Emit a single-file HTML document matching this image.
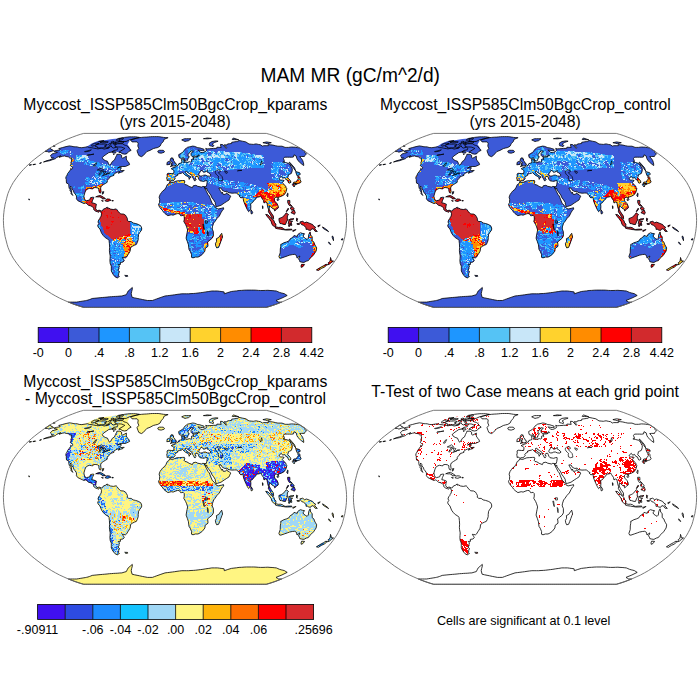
<!DOCTYPE html>
<html><head><meta charset="utf-8"><style>
html,body{margin:0;padding:0;background:#fff;width:700px;height:700px;overflow:hidden}
svg{position:absolute;left:0;top:0;font-family:"Liberation Sans",sans-serif}
</style></head><body>
<svg width="700" height="700" viewBox="0 0 700 700">
<defs><path id="landp" d="M-120.8,-68.6 -118.9,-68.4 -117.6,-68.0 -120.6,-67.0 -122.9,-66.5 -123.7,-65.6 -124.6,-64.4 -123.7,-63.6 -123.4,-62.5 -121.5,-62.5 -122.3,-61.7 -125.7,-60.4 -129.2,-59.4 -131.5,-58.4 -128.3,-59.1 -125.3,-59.7 -122.6,-60.7 -119.6,-61.7 -118.3,-62.9 -116.1,-63.9 -114.2,-64.6 -116.0,-63.1 -112.5,-64.1 -110.5,-64.5 -108.9,-63.9 -106.7,-63.6 -105.3,-62.4 -103.6,-62.2 -103.7,-60.4 -103.4,-59.4 -104.1,-58.1 -103.9,-56.3 -104.7,-54.8 -103.4,-53.7 -102.3,-52.7 -103.3,-51.1 -104.3,-52.0 -104.3,-51.1 -105.3,-49.5 -107.3,-46.9 -107.9,-45.3 -109.0,-43.6 -109.2,-42.1 -108.7,-40.8 -108.7,-39.4 -108.5,-37.3 -106.9,-36.7 -106.2,-35.6 -106.2,-34.1 -105.8,-32.1 -104.9,-30.9 -105.1,-30.0 -103.8,-28.3 -104.0,-26.8 -102.6,-25.4 -102.2,-24.9 -102.9,-26.2 -103.4,-28.0 -103.4,-29.7 -103.9,-31.1 -104.7,-32.6 -104.4,-34.3 -103.2,-32.9 -103.1,-31.3 -101.7,-30.0 -101.1,-28.0 -99.8,-26.4 -98.6,-24.5 -98.5,-23.2 -98.6,-21.6 -97.2,-19.7 -95.0,-18.7 -92.8,-17.6 -91.0,-16.9 -89.3,-17.4 -88.2,-16.7 -86.5,-15.1 -84.6,-14.6 -82.8,-13.9 -81.3,-12.2 -81.3,-10.8 -79.3,-9.2 -77.4,-8.6 -76.3,-8.1 -75.5,-9.5 -74.3,-8.6 -73.5,-7.0 -73.8,-4.3 -74.8,-2.9 -75.3,-1.6 -76.3,-0.5 -77.0,1.6 -76.2,3.2 -77.3,4.9 -76.9,6.7 -75.1,8.6 -73.4,12.9 -71.8,15.1 -69.7,17.3 -67.2,18.7 -66.0,20.0 -65.6,23.2 -65.4,27.0 -65.6,30.2 -65.4,32.4 -64.8,35.6 -65.0,38.3 -65.1,40.4 -64.8,43.1 -63.7,45.8 -63.7,48.5 -63.7,50.6 -62.1,53.7 -60.1,56.3 -57.5,57.7 -56.7,56.6 -55.6,56.2 -56.4,55.3 -56.3,53.2 -55.5,51.1 -57.2,49.8 -56.0,48.5 -56.0,46.9 -55.5,45.6 -56.8,44.2 -54.5,44.0 -54.7,42.1 -52.1,41.7 -50.7,40.4 -51.4,39.0 -52.7,37.0 -51.3,37.2 -49.5,37.5 -48.3,36.5 -47.2,34.5 -46.1,32.9 -45.0,31.0 -44.7,29.7 -44.5,27.3 -42.3,25.7 -40.5,24.8 -38.7,24.1 -37.7,22.1 -36.8,19.4 -36.8,17.3 -36.4,14.0 -35.1,11.9 -33.4,9.7 -33.3,7.6 -34.3,5.4 -36.7,4.0 -39.5,3.1 -41.9,2.6 -43.8,1.1 -46.2,1.1 -47.7,0.0 -47.6,-1.8 -48.6,-3.8 -49.5,-5.2 -51.4,-6.3 -54.2,-6.5 -55.4,-7.4 -57.0,-9.2 -57.9,-10.6 -58.8,-11.5 -61.7,-10.9 -64.5,-11.3 -66.3,-12.4 -67.3,-11.9 -67.8,-13.4 -69.2,-12.2 -71.6,-11.3 -72.5,-9.7 -73.6,-9.4 -75.8,-10.2 -77.9,-9.7 -79.3,-11.7 -79.1,-13.5 -78.6,-16.2 -81.1,-17.2 -83.2,-17.6 -82.6,-19.7 -82.0,-21.0 -81.1,-23.0 -82.2,-23.2 -84.5,-22.7 -85.3,-20.5 -86.8,-20.1 -88.7,-19.6 -89.9,-20.3 -90.7,-22.1 -91.1,-24.3 -90.2,-27.5 -89.3,-30.0 -87.1,-31.5 -85.6,-32.0 -83.4,-31.6 -82.1,-31.5 -81.4,-32.7 -79.1,-32.8 -77.3,-32.4 -76.1,-31.5 -76.2,-29.9 -75.6,-27.9 -74.6,-27.2 -73.9,-28.6 -74.1,-30.2 -74.4,-32.4 -73.7,-34.3 -71.4,-35.9 -69.3,-37.2 -67.8,-38.1 -67.7,-39.9 -66.3,-41.8 -65.2,-42.6 -64.8,-43.8 -62.4,-44.5 -60.9,-45.1 -61.4,-45.5 -60.9,-46.3 -59.3,-47.4 -57.3,-48.3 -55.0,-48.8 -56.8,-47.2 -54.5,-48.0 -52.0,-48.8 -50.8,-50.0 -54.3,-49.7 -54.8,-50.6 -54.1,-51.6 -53.7,-52.7 -55.7,-52.9 -57.6,-52.2 -55.0,-53.7 -52.9,-53.9 -49.6,-53.9 -46.7,-55.2 -45.4,-55.8 -45.9,-57.3 -47.0,-58.9 -48.1,-59.9 -48.7,-61.4 -48.6,-64.2 -50.1,-63.4 -52.2,-62.2 -53.4,-62.9 -53.4,-65.1 -55.1,-66.1 -58.1,-66.1 -58.4,-64.9 -59.5,-62.9 -60.5,-60.4 -62.7,-58.9 -64.1,-56.3 -65.5,-55.1 -66.5,-56.8 -67.5,-59.1 -69.8,-59.9 -71.8,-61.1 -72.7,-62.7 -71.2,-64.4 -68.3,-66.3 -66.2,-67.8 -63.3,-68.3 -60.7,-70.0 -57.7,-70.6 -57.1,-72.0 -58.4,-73.2 -61.8,-72.3 -63.4,-73.4 -63.8,-74.7 -67.6,-72.0 -70.9,-71.3 -72.3,-71.8 -73.7,-72.2 -77.1,-71.5 -78.6,-71.8 -80.1,-72.0 -81.6,-72.3 -83.0,-72.6 -85.5,-72.8 -87.5,-73.6 -89.9,-73.2 -93.2,-72.7 -95.8,-72.9 -97.8,-73.5 -99.4,-73.6 -101.0,-73.6 -103.1,-74.1 -104.3,-74.3 -105.5,-74.5 -108.9,-73.8 -112.3,-72.9 -116.3,-71.8 -115.2,-71.3 -114.9,-70.5 -118.7,-69.9 -120.9,-69.3Z M-75.2,-78.9 -73.7,-78.7 -71.0,-79.7 -72.9,-79.7 -76.4,-79.0Z M-64.2,-78.2 -62.9,-77.7 -61.1,-78.9 -62.5,-79.1Z M-61.6,-77.7 -60.2,-77.5 -58.9,-78.4 -60.5,-78.4Z M-66.6,-76.0 -65.9,-75.0 -64.4,-75.6 -63.4,-76.9 -65.9,-76.7Z M-68.6,-72.5 -66.9,-72.0 -65.5,-72.9 -66.3,-73.6Z M-61.8,-66.0 -60.7,-66.1 -61.0,-66.7Z M148.3,8.1 151.0,9.7 153.6,11.3 152.8,10.2 149.3,7.6 147.5,6.5Z M157.2,17.0 157.9,18.9 158.5,20.3 158.5,18.3 158.1,16.2 157.2,15.6Z M166.5,19.6 167.7,19.6 167.9,18.3 166.4,18.7Z M153.6,22.4 155.0,24.1 155.7,24.1 154.4,22.1 153.6,21.6Z M143.2,6.5 144.2,5.9 145.2,4.5 144.2,4.9 142.8,5.4Z M-146.2,-21.4 -146.1,-20.5 -145.4,-20.5 -146.1,-21.6Z M-49.2,56.1 -47.1,55.8 -47.5,55.1 -50.3,55.0Z M-121.9,-74.2 -121.0,-74.1 -119.8,-74.4 -121.0,-74.7Z M32.7,-81.6 34.6,-81.8 36.4,-82.0 34.2,-82.2 32.1,-82.4 30.3,-82.0 28.4,-81.7 30.6,-81.6Z M-133.7,-57.8 -135.5,-57.1 -135.3,-56.9 -133.6,-57.4Z M-139.6,-56.3 -142.2,-55.8 -142.0,-55.6 -139.4,-56.1Z M-143.5,-55.7 -145.9,-55.4 -145.7,-55.2 -143.6,-55.5Z M-72.7,-26.2 -72.0,-26.4 -71.1,-28.7 -72.5,-28.6Z M87.6,-11.9 88.0,-11.9 87.9,-14.3 87.4,-14.6Z M-44.5,-80.4 -43.7,-79.5 -43.0,-78.5 -40.4,-78.5 -37.9,-78.5 -36.8,-77.3 -37.2,-74.3 -36.2,-72.0 -38.0,-69.7 -37.0,-66.8 -36.2,-64.9 -33.6,-63.7 -31.7,-64.9 -28.2,-68.8 -25.0,-70.0 -21.7,-71.8 -19.4,-72.4 -17.2,-72.9 -14.9,-74.3 -13.7,-76.9 -11.6,-78.9 -11.1,-80.9 -9.0,-81.9 -6.9,-82.7 -9.2,-82.8 -11.5,-83.0 -13.3,-83.3 -15.1,-83.6 -16.8,-83.8 -18.7,-83.8 -20.6,-83.8 -22.5,-83.8 -24.4,-83.7 -26.4,-83.5 -28.4,-83.3 -30.8,-83.2 -33.3,-83.0 -35.9,-82.7 -38.8,-82.0 -41.8,-81.3Z M-46.4,-72.5 -46.6,-73.4 -48.4,-74.7 -49.7,-75.1 -51.1,-75.6 -52.2,-76.6 -54.8,-76.7 -57.5,-76.6 -59.7,-75.6 -60.2,-74.3 -58.2,-73.4 -56.5,-73.4 -54.8,-73.4 -53.2,-73.2 -51.7,-72.6 -50.2,-72.0 -51.4,-71.1 -54.7,-69.2 -56.2,-68.0 -54.0,-68.1 -53.2,-66.8 -50.5,-66.3 -48.0,-66.8 -46.4,-68.8 -43.8,-70.1 -45.1,-71.3Z M-56.4,-78.9 -54.6,-78.9 -52.8,-78.8 -50.9,-78.9 -48.9,-78.9 -45.5,-80.5 -43.7,-80.9 -41.8,-81.3 -38.6,-82.2 -35.6,-83.0 -37.5,-83.3 -39.5,-83.6 -41.4,-83.6 -43.3,-83.6 -45.1,-83.6 -47.8,-83.3 -50.5,-83.0 -54.1,-82.0 -56.3,-81.7 -55.7,-80.9 -55.1,-80.1Z M-59.3,-77.5 -57.4,-77.4 -55.6,-77.3 -53.8,-77.4 -51.9,-77.4 -51.0,-78.7 -53.1,-78.8 -55.3,-78.9 -58.3,-78.4Z M-79.3,-74.7 -79.6,-73.8 -77.6,-73.6 -77.6,-72.5 -75.5,-72.5 -73.4,-72.5 -70.4,-72.7 -68.8,-73.8 -70.7,-74.3 -67.7,-75.6 -68.9,-76.0 -70.1,-76.4 -71.8,-76.3 -73.6,-76.2 -75.3,-76.4 -78.6,-75.8Z M-83.9,-75.0 -83.2,-74.3 -80.6,-74.7 -78.4,-76.0 -75.9,-77.0 -78.2,-77.3 -80.8,-77.0 -82.7,-76.0Z M-74.9,-77.9 -72.7,-77.6 -70.4,-77.7 -68.0,-77.7 -66.7,-78.5 -68.3,-78.9 -69.9,-78.9 -71.5,-78.9 -73.9,-78.5Z M-62.3,-76.7 -61.2,-76.3 -60.1,-75.8 -58.7,-76.7 -60.3,-77.0Z M-62.9,-67.8 -61.4,-67.5 -59.9,-67.3 -58.8,-68.0 -60.5,-69.2 -63.0,-68.8Z M-58.8,-80.1 -56.1,-80.3 -53.4,-80.5 -51.5,-81.7 -52.2,-82.6 -54.3,-82.3 -56.4,-82.0 -58.4,-80.9Z M-4.0,-39.6 -2.0,-39.6 -0.7,-40.6 0.2,-41.8 -0.3,-42.6 0.9,-44.2 2.8,-45.2 2.6,-46.3 4.3,-46.7 6.5,-47.2 7.5,-47.8 9.1,-46.3 10.4,-45.1 12.2,-44.2 13.8,-43.1 14.2,-41.0 14.6,-42.1 16.2,-43.3 13.9,-44.7 12.1,-45.8 10.6,-47.7 10.5,-48.8 11.5,-49.2 12.0,-48.5 14.2,-46.9 16.9,-45.1 17.6,-42.8 18.6,-41.5 19.3,-39.8 20.1,-39.4 20.4,-40.3 21.3,-41.2 20.1,-42.1 20.2,-43.1 21.0,-43.9 22.7,-44.0 23.0,-43.5 23.3,-42.6 23.9,-41.0 25.0,-39.6 27.3,-39.2 28.6,-39.0 30.8,-39.7 32.1,-39.7 32.2,-38.6 31.7,-35.6 31.2,-33.8 29.4,-33.7 29.9,-32.1 32.0,-31.8 31.8,-30.2 32.2,-30.2 33.8,-28.0 35.8,-25.4 36.6,-23.2 38.6,-20.5 40.2,-18.0 40.4,-16.2 41.2,-13.7 42.6,-14.0 46.0,-15.1 49.2,-17.3 51.7,-18.9 54.1,-20.5 54.7,-22.1 55.7,-24.2 54.4,-25.5 52.3,-26.4 51.9,-27.6 50.2,-26.1 48.3,-25.9 47.4,-28.2 46.8,-27.0 45.7,-29.0 44.6,-30.7 43.9,-32.4 46.0,-32.3 47.4,-30.0 49.9,-28.8 52.1,-29.2 53.0,-27.8 55.0,-27.5 57.0,-27.2 59.3,-27.3 61.6,-27.4 63.5,-25.4 65.2,-24.6 64.3,-24.1 65.9,-22.4 67.8,-23.2 68.1,-22.1 68.6,-19.4 69.8,-16.2 71.0,-13.5 72.4,-10.6 73.6,-8.7 74.5,-9.5 75.7,-11.1 75.9,-14.0 75.6,-16.7 77.5,-17.8 79.3,-20.3 81.0,-21.6 81.3,-23.0 82.9,-23.3 84.3,-23.5 85.6,-24.3 86.5,-22.7 88.4,-20.0 89.0,-17.3 90.3,-18.3 91.9,-17.8 92.7,-13.5 93.5,-10.8 93.4,-8.6 95.5,-5.4 96.7,-2.7 98.6,-1.6 98.4,-4.3 96.3,-7.4 95.3,-9.0 94.1,-11.3 94.5,-14.6 95.6,-13.7 97.6,-11.9 99.4,-11.1 99.7,-9.4 101.5,-11.1 103.3,-12.4 103.3,-14.0 102.1,-16.7 100.1,-18.9 99.3,-20.3 99.6,-22.1 100.8,-23.2 102.2,-23.2 103.1,-21.8 103.6,-23.2 106.3,-24.1 108.8,-25.4 110.5,-27.5 111.2,-29.1 111.8,-31.8 111.0,-33.0 110.8,-34.2 109.1,-35.6 107.4,-37.8 109.1,-39.9 107.3,-40.4 105.8,-40.2 104.1,-41.5 104.1,-42.1 104.8,-42.6 106.3,-44.0 107.7,-42.1 109.5,-42.9 110.9,-40.8 112.4,-40.4 113.6,-37.5 114.3,-37.2 116.0,-38.1 115.3,-39.9 112.7,-42.6 113.2,-44.2 113.4,-45.6 114.6,-46.1 116.3,-46.9 117.2,-49.5 117.3,-51.6 116.2,-53.7 114.7,-56.3 113.3,-57.1 110.6,-57.8 107.9,-58.4 109.5,-58.9 108.5,-61.9 109.6,-63.2 112.6,-63.2 114.6,-63.2 116.6,-63.1 118.5,-63.4 119.0,-65.6 121.2,-64.4 121.9,-61.7 122.9,-59.9 126.1,-56.8 128.7,-54.8 128.7,-56.3 128.4,-57.9 127.6,-60.1 126.4,-61.9 124.7,-63.7 126.4,-63.9 129.4,-63.9 129.7,-64.9 130.6,-65.6 131.5,-66.3 129.6,-68.3 130.1,-68.9 124.7,-72.5 122.4,-72.8 120.2,-73.2 118.3,-73.3 116.5,-73.4 115.0,-73.2 113.6,-73.0 111.8,-73.0 110.1,-73.0 107.0,-74.2 105.0,-74.2 102.9,-74.2 100.4,-74.7 97.9,-75.3 95.5,-75.6 93.2,-75.8 93.4,-74.7 91.1,-74.7 88.7,-74.7 87.3,-74.3 85.6,-75.6 83.3,-76.0 81.1,-76.5 79.8,-76.3 78.4,-76.0 76.2,-76.2 74.0,-76.4 70.8,-78.5 67.4,-79.2 64.0,-79.9 62.7,-78.9 61.3,-78.8 59.9,-78.6 58.3,-78.4 56.7,-78.1 56.6,-76.9 54.5,-76.7 52.4,-76.4 51.9,-75.4 49.1,-75.6 51.7,-72.9 51.2,-72.0 49.0,-74.3 47.6,-75.8 45.5,-76.0 45.7,-74.3 46.2,-72.9 44.0,-73.1 41.9,-73.2 41.8,-72.1 40.0,-72.0 38.3,-72.0 37.0,-71.8 34.6,-71.7 32.2,-71.5 30.7,-72.0 31.5,-69.7 29.1,-68.3 27.4,-67.8 25.5,-68.1 23.0,-70.6 23.5,-70.3 25.3,-70.0 27.2,-69.7 29.3,-70.0 28.9,-71.2 26.9,-71.8 24.9,-72.5 22.8,-72.7 21.2,-73.4 19.3,-74.1 17.6,-74.3 15.0,-73.6 12.7,-73.2 11.1,-72.0 9.9,-71.1 8.6,-69.2 7.3,-67.8 5.2,-66.6 3.7,-65.8 3.8,-64.4 4.3,-62.7 6.2,-62.0 8.5,-62.7 10.1,-59.6 11.3,-59.3 12.6,-60.1 12.8,-61.4 14.3,-63.7 13.0,-64.6 13.1,-65.8 14.0,-67.3 15.3,-68.3 15.8,-69.6 18.4,-69.2 18.1,-68.8 15.9,-67.0 16.2,-64.9 17.1,-63.9 19.7,-64.3 22.0,-64.2 22.9,-63.8 21.4,-63.4 19.7,-63.3 18.0,-63.1 18.8,-60.9 17.1,-61.5 16.4,-60.9 16.8,-59.1 15.6,-58.3 14.4,-58.7 11.6,-57.8 10.4,-58.4 8.7,-57.9 9.9,-59.9 8.3,-60.2 8.2,-61.6 6.4,-60.9 6.8,-59.4 7.0,-57.8 5.6,-57.3 3.9,-56.8 3.3,-55.3 2.1,-54.9 1.2,-53.9 0.0,-53.2 -1.1,-53.4 -1.3,-52.4 -2.5,-52.5 -3.8,-51.6 -2.1,-50.9 -1.0,-49.5 -1.3,-46.8 -3.4,-46.8 -6.9,-47.1 -8.0,-46.3 -7.7,-44.2 -8.4,-42.1 -7.8,-41.5 -8.0,-39.9 -6.7,-40.1 -5.6,-39.7 -5.0,-38.8Z M-130.1,-68.9 -127.5,-68.8 -126.1,-68.2 -123.8,-69.0 -121.4,-69.8 -122.1,-70.4 -124.0,-71.1 -124.7,-72.5Z M-5.2,-38.6 -6.1,-36.7 -7.7,-35.8 -9.0,-32.9 -10.6,-30.4 -12.0,-29.7 -13.4,-28.0 -14.9,-25.9 -15.9,-23.2 -15.3,-21.0 -15.5,-17.8 -16.5,-15.9 -15.8,-14.0 -14.7,-12.4 -13.8,-11.3 -12.6,-10.0 -11.4,-8.2 -10.0,-6.8 -7.1,-4.7 -3.8,-5.6 -1.9,-5.2 1.0,-6.4 2.6,-6.8 4.3,-6.7 5.7,-4.6 6.7,-4.7 8.1,-5.0 9.2,-3.8 9.3,-1.2 8.8,1.1 10.7,4.3 11.6,6.5 12.6,9.6 12.1,12.1 11.6,14.6 11.1,17.8 12.3,21.0 13.4,24.3 13.7,26.7 14.0,29.1 15.2,30.9 16.6,34.3 16.5,36.9 18.0,37.5 20.3,36.7 23.0,36.7 24.9,35.8 27.3,34.0 29.9,30.7 30.2,28.0 33.0,25.9 32.9,23.7 32.5,21.6 34.2,20.3 37.2,17.8 38.4,15.6 38.4,11.3 37.2,8.6 37.4,6.5 38.6,2.7 40.0,1.0 41.9,-1.8 44.3,-4.3 46.1,-7.9 47.5,-10.2 48.7,-11.2 48.5,-12.7 46.9,-12.2 43.1,-11.4 41.2,-12.2 40.5,-13.5 39.2,-15.1 37.2,-17.0 36.2,-19.4 34.9,-22.7 34.3,-24.3 33.0,-25.9 31.6,-28.6 30.8,-30.0 29.9,-32.1 29.4,-33.7 27.8,-34.0 26.5,-33.3 22.7,-34.1 20.9,-35.1 18.2,-34.6 17.4,-32.7 14.1,-34.0 11.8,-35.5 10.0,-35.8 9.0,-37.2 9.9,-38.3 9.4,-39.9 7.6,-39.9 4.5,-39.7 1.8,-39.5 -0.9,-38.5 -2.1,-37.9 -4.5,-38.1Z M45.4,14.6 43.8,17.0 41.4,18.3 41.6,21.0 40.4,23.2 40.7,25.4 41.7,27.5 43.6,27.0 44.7,24.3 45.8,21.3 46.9,18.3 47.6,16.7 46.7,12.9Z M105.9,23.7 105.7,26.2 105.3,28.6 105.2,32.4 103.9,36.1 104.7,37.8 106.0,37.8 109.7,36.5 112.3,35.6 114.4,34.8 117.3,34.2 119.7,34.0 121.5,35.1 122.0,37.7 124.8,35.6 124.5,36.9 123.5,38.4 124.4,39.9 124.8,41.3 126.8,41.8 128.9,42.1 131.3,40.8 133.4,40.2 134.7,38.3 136.6,36.5 138.6,34.5 141.1,30.7 141.7,27.5 140.5,25.4 139.5,23.7 139.0,21.8 137.2,20.3 137.2,16.2 135.7,14.9 135.1,11.5 133.8,14.0 133.3,17.8 132.1,19.0 130.8,18.3 128.7,16.8 128.0,15.6 129.5,13.3 127.8,13.1 125.5,12.4 124.0,13.2 122.7,14.3 122.2,16.0 120.7,15.6 119.0,15.1 117.3,17.3 115.3,18.3 113.9,20.5 111.4,21.6 108.9,22.4 106.5,23.7Z M126.0,45.6 126.2,47.0 127.9,46.3 129.6,44.1 126.6,43.9Z M125.7,3.0 126.7,4.3 128.5,4.9 130.9,7.0 131.1,9.1 132.1,8.7 133.9,9.8 135.8,9.9 136.9,8.3 138.7,8.8 140.0,10.9 142.3,11.1 141.0,9.7 139.7,8.4 140.6,6.8 138.9,5.9 137.6,4.1 134.3,2.8 131.5,1.7 129.6,2.4 127.7,0.9 124.8,1.6Z M104.1,0.5 105.0,3.1 106.4,3.3 109.0,4.1 110.5,4.1 111.0,2.7 112.0,0.5 113.2,-1.1 112.2,-1.1 112.4,-4.6 113.6,-5.7 111.2,-7.6 109.9,-5.6 107.6,-3.5 106.2,-2.7 103.9,-1.8Z M92.1,-4.0 94.0,-1.8 96.1,1.1 97.1,4.3 99.4,6.3 100.7,6.3 101.0,3.6 99.7,2.7 98.9,0.0 95.6,-2.7 92.8,-5.6 90.7,-6.0Z M101.1,8.0 102.6,8.4 105.5,8.8 108.6,9.4 108.8,8.4 107.4,7.4 105.6,6.9 103.2,7.0 101.3,6.5 100.0,7.3Z M113.8,3.8 113.6,5.9 114.6,6.0 115.2,2.8 115.7,5.1 116.9,4.9 116.2,1.9 117.6,1.0 115.6,1.0 114.6,-0.6 117.2,-0.5 119.0,-1.7 117.1,-1.6 115.1,-1.4 114.0,-0.5 113.3,3.2Z M109.2,9.5 110.6,9.7 113.0,9.7 116.8,9.5 116.9,8.8 113.1,8.8 110.7,9.1 109.3,8.7Z M117.9,11.0 120.6,9.7 120.9,9.1 117.7,10.2Z M121.5,0.5 122.5,0.9 122.0,0.0 122.7,-1.6 121.5,-2.2Z M122.1,3.9 124.3,4.1 124.6,3.2 121.9,3.2Z M112.8,-17.6 113.8,-15.6 114.3,-14.9 117.3,-14.0 114.7,-16.7 114.9,-17.8 114.8,-20.0 112.6,-20.0Z M117.9,-7.0 119.3,-6.0 120.3,-7.6 119.1,-10.5 117.3,-9.2 116.0,-7.6Z M115.7,-11.3 116.8,-10.2 118.6,-10.8 119.2,-11.9 117.4,-13.5 115.5,-12.7Z M111.6,-8.6 113.6,-11.3 113.2,-12.2 111.3,-9.1Z M118.2,-36.7 119.8,-37.0 121.9,-36.4 123.3,-36.9 124.7,-37.3 125.6,-37.8 126.1,-38.6 125.0,-41.0 125.0,-42.6 123.4,-44.5 122.7,-43.7 123.4,-41.5 122.0,-39.9 121.4,-38.5 118.8,-38.3 118.1,-36.7Z M117.7,-35.1 119.2,-33.4 119.7,-34.8 118.2,-36.6 117.2,-35.9Z M121.4,-35.9 121.4,-36.9 119.9,-36.9 119.8,-35.6Z M122.7,-45.1 124.5,-45.3 125.3,-46.3 124.6,-47.7 120.6,-48.9 122.0,-44.7Z M120.6,-49.5 119.5,-52.7 117.1,-55.4 114.6,-58.2 114.1,-58.1 116.6,-54.8 118.6,-52.2Z M112.7,-23.6 113.1,-26.9 112.6,-27.2 111.8,-24.8Z M102.9,-19.6 104.0,-21.1 103.4,-21.7 101.8,-20.7Z M76.2,-6.5 77.2,-6.7 77.7,-8.1 76.1,-10.6 75.8,-9.2Z M-4.7,-53.8 -2.5,-54.4 -0.7,-54.6 1.1,-54.9 1.4,-56.5 0.2,-57.1 -0.1,-58.4 -1.3,-59.5 -1.6,-61.4 -1.4,-61.5 -3.0,-61.7 -2.3,-62.5 -3.9,-62.5 -4.5,-61.4 -4.9,-60.2 -4.4,-59.2 -3.8,-58.7 -2.4,-57.9 -2.4,-57.2 -3.6,-57.2 -3.3,-56.1 -4.2,-55.5 -2.5,-55.2 -3.4,-55.0Z M-8.2,-55.6 -5.1,-56.0 -4.8,-57.7 -4.4,-58.4 -5.8,-59.2 -6.8,-58.7 -8.0,-57.9 -8.0,-56.3Z M-16.5,-67.6 -13.8,-67.2 -10.9,-68.1 -10.5,-69.0 -11.8,-70.1 -13.7,-70.1 -15.7,-70.1 -17.3,-69.2Z M10.0,-78.9 11.8,-79.3 13.6,-79.7 14.8,-80.7 16.0,-81.7 13.8,-81.7 11.6,-81.7 9.5,-81.7 8.1,-81.1 6.7,-80.5 8.3,-79.7Z M34.6,-74.7 36.4,-74.3 38.1,-73.8 39.0,-74.7 37.1,-76.3 38.4,-77.1 39.6,-78.0 41.4,-78.6 43.1,-79.2 40.9,-79.5 39.0,-79.2 37.0,-78.9 35.9,-78.2 34.7,-77.6 34.3,-76.0Z M57.2,-80.9 59.4,-80.8 61.6,-80.7 63.8,-80.5 61.0,-81.5 58.3,-82.4 57.7,-81.7Z M87.9,-77.7 90.3,-77.2 92.6,-76.7 94.5,-77.2 96.3,-77.7 93.9,-78.1 91.6,-78.5 89.8,-78.1Z M-78.4,-23.6 -76.5,-23.4 -75.1,-23.5 -72.9,-22.4 -72.6,-21.4 -69.5,-21.8 -71.9,-23.4 -74.5,-24.9 -76.9,-24.5 -79.3,-23.5Z M-69.8,-19.4 -67.2,-19.0 -65.7,-19.6 -64.1,-20.1 -65.6,-21.3 -68.2,-21.5 -69.9,-19.8Z M-72.4,-19.2 -71.6,-19.4 -73.5,-19.8Z M-63.1,-19.4 -61.8,-19.4 -61.6,-19.7 -63.1,-20.0Z M155.5,37.8 155.0,41.0 153.2,42.4 153.5,42.9 152.4,44.6 154.6,43.7 156.1,42.3 158.5,40.7 156.3,40.4 156.1,38.8 155.5,37.1Z M148.6,45.3 144.8,47.4 141.4,49.5 143.4,50.0 146.7,47.9 149.1,46.9 151.8,44.7 151.2,43.7Z M-91.3,87.0 -89.3,87.0 -87.3,87.0 -85.2,87.0 -83.2,87.0 -81.2,87.0 -79.1,87.0 -77.1,87.0 -75.1,87.0 -73.1,87.0 -71.0,87.0 -69.0,87.0 -67.0,87.0 -64.9,87.0 -62.9,87.0 -60.9,87.0 -58.9,87.0 -56.8,87.0 -54.8,87.0 -52.8,87.0 -50.7,87.0 -48.7,87.0 -46.7,87.0 -44.6,87.0 -42.6,87.0 -40.6,87.0 -38.6,87.0 -36.5,87.0 -34.5,87.0 -32.5,87.0 -30.4,87.0 -28.4,87.0 -26.4,87.0 -24.4,87.0 -22.3,87.0 -20.3,87.0 -18.3,87.0 -16.2,87.0 -14.2,87.0 -12.2,87.0 -10.1,87.0 -8.1,87.0 -6.1,87.0 -4.1,87.0 -2.0,87.0 0.0,87.0 2.0,87.0 4.1,87.0 6.1,87.0 8.1,87.0 10.1,87.0 12.2,87.0 14.2,87.0 16.2,87.0 18.3,87.0 20.3,87.0 22.3,87.0 24.4,87.0 26.4,87.0 28.4,87.0 30.4,87.0 32.5,87.0 34.5,87.0 36.5,87.0 38.6,87.0 40.6,87.0 42.6,87.0 44.6,87.0 46.7,87.0 48.7,87.0 50.7,87.0 52.8,87.0 54.8,87.0 56.8,87.0 58.9,87.0 60.9,87.0 62.9,87.0 64.9,87.0 67.0,87.0 69.0,87.0 71.0,87.0 73.1,87.0 75.1,87.0 77.1,87.0 79.1,87.0 81.2,87.0 83.2,87.0 85.2,87.0 87.3,87.0 89.3,87.0 91.3,87.0 95.9,85.6 101.0,83.9 106.6,81.7 105.1,81.7 103.7,81.7 102.8,81.2 101.9,80.7 101.0,80.1 106.9,77.7 112.2,75.1 110.9,74.3 109.6,73.4 107.9,72.9 106.2,72.5 104.5,72.0 102.9,71.3 101.3,70.6 99.2,70.4 97.1,70.2 95.0,70.1 92.9,69.9 90.4,70.0 88.0,70.1 85.5,70.1 83.3,70.0 81.0,69.8 78.8,69.7 76.4,69.7 74.0,69.7 71.6,69.7 69.1,69.8 66.6,70.0 64.1,70.1 61.5,70.5 58.9,70.8 56.4,71.1 52.8,72.2 49.3,73.4 49.1,71.5 46.9,71.2 44.7,70.9 42.5,70.6 39.7,70.6 36.8,70.6 33.8,71.1 30.8,71.5 27.9,72.0 25.5,72.3 23.1,72.6 20.7,72.9 18.3,73.1 16.0,73.2 13.7,73.4 11.4,73.4 9.1,73.4 6.9,73.4 4.4,73.7 2.0,74.0 -0.3,74.4 -2.7,74.7 -5.1,75.0 -7.6,75.3 -10.0,75.6 -12.0,76.3 -14.1,77.0 -16.0,77.7 -18.3,78.5 -20.5,79.3 -22.6,80.1 -25.1,80.1 -27.5,80.1 -30.1,79.6 -32.7,79.1 -35.4,78.5 -37.9,78.0 -40.4,77.5 -42.9,76.9 -43.8,73.4 -43.3,71.1 -42.7,68.8 -42.7,67.1 -44.8,68.9 -46.8,70.6 -47.8,72.5 -48.7,74.3 -50.9,74.9 -53.1,75.6 -55.2,75.7 -57.2,75.9 -59.3,76.0 -61.4,76.1 -63.4,76.3 -65.5,76.4 -67.9,76.7 -70.2,76.9 -72.6,77.1 -74.9,77.3 -77.0,77.5 -78.9,77.7 -80.9,77.9 -82.8,78.1 -84.2,78.7 -85.6,79.2 -87.0,79.7 -88.4,80.0 -89.7,80.3 -91.1,80.5 -92.9,80.8 -94.8,81.1 -96.6,81.4 -98.3,81.7 -100.4,81.7 -102.5,81.7 -104.5,81.7 -106.6,81.7 -101.0,83.9 -95.9,85.6Z"/><path id="lakep" d="M24.4,-44.8 25.3,-44.4 27.1,-44.4 28.7,-45.2 30.4,-45.3 32.3,-44.4 34.9,-44.2 36.1,-45.3 33.5,-47.7 32.0,-48.5 32.2,-50.0 31.2,-48.8 29.9,-48.5 28.7,-47.9 27.6,-49.5 26.0,-50.0 25.3,-48.7 24.1,-46.9 23.8,-45.8Z"/><path id="lakeo" d="M40.4,-49.2 40.3,-47.9 41.0,-46.3 42.2,-45.1 43.8,-43.6 43.1,-43.1 43.5,-40.4 45.5,-39.6 47.9,-40.2 47.6,-41.8 47.1,-43.8 45.6,-45.3 43.3,-47.7 45.4,-48.7 44.8,-50.4 43.0,-50.6 41.5,-50.0Z M-73.6,-50.0 -71.5,-50.6 -73.4,-52.5 -77.8,-50.3 -75.7,-50.2Z M-76.3,-45.3 -75.2,-45.3 -72.3,-49.3 -73.9,-49.5Z M-71.3,-47.4 -70.6,-46.3 -69.1,-48.7 -71.7,-49.5Z M-72.5,-44.9 -70.4,-45.5 -68.3,-46.1 -69.7,-46.0Z M-68.6,-46.7 -65.5,-46.9 -65.4,-47.6 -68.0,-47.2Z M-88.2,-64.9 -84.6,-65.6 -81.0,-66.3 -84.4,-65.8 -87.8,-65.4Z M-89.3,-68.6 -85.7,-69.2 -83.6,-70.6 -87.0,-69.7 -90.5,-68.8Z M-81.6,-54.2 -80.0,-54.2 -78.3,-57.7 -80.0,-56.8Z M87.3,-56.8 86.6,-59.6 86.1,-57.7 85.6,-55.8 84.9,-55.3 86.1,-56.1Z M30.5,2.7 32.4,2.7 32.4,0.5 30.3,0.5Z M29.0,9.2 29.4,9.2 29.0,6.5 28.6,3.8 27.8,3.8 28.4,6.5Z M32.6,14.0 33.1,15.4 33.2,11.9 32.3,10.2Z M50.1,-47.9 51.7,-46.9 52.5,-48.5 49.7,-49.5Z M62.4,-49.5 64.6,-49.8 66.9,-50.0 63.5,-50.0Z M22.7,-64.4 24.6,-64.7 24.0,-65.6 22.9,-65.1Z"/><path id="outl" d="M91.3,-87.0 94.8,-86.0 98.2,-84.9 102.4,-83.3 106.6,-81.7 111.1,-79.7 115.5,-77.7 119.4,-75.6 123.3,-73.4 126.8,-71.1 130.4,-68.8 133.7,-66.3 137.0,-63.9 140.2,-61.4 143.3,-58.9 146.1,-56.3 148.9,-53.7 151.4,-51.1 153.8,-48.5 156.0,-45.8 158.1,-43.1 160.0,-40.4 161.8,-37.8 163.3,-35.1 164.7,-32.4 165.9,-29.7 167.0,-27.0 167.8,-24.3 168.5,-21.6 169.2,-18.9 169.9,-16.2 170.3,-13.5 170.8,-10.8 171.1,-8.1 171.4,-5.4 171.5,-2.7 171.6,0.0 171.5,2.7 171.4,5.4 171.1,8.1 170.8,10.8 170.3,13.5 169.9,16.2 169.2,18.9 168.5,21.6 167.8,24.3 167.0,27.0 165.9,29.7 164.7,32.4 163.3,35.1 161.8,37.8 160.0,40.4 158.1,43.1 156.0,45.8 153.8,48.5 151.4,51.1 148.9,53.7 146.1,56.3 143.3,58.9 140.2,61.4 137.0,63.9 133.7,66.3 130.4,68.8 126.8,71.1 123.3,73.4 119.4,75.6 115.5,77.7 111.1,79.7 106.6,81.7 102.4,83.3 98.2,84.9 94.8,86.0 91.3,87.0 -91.3,87.0 -94.8,86.0 -98.2,84.9 -102.4,83.3 -106.6,81.7 -111.1,79.7 -115.5,77.7 -119.4,75.6 -123.3,73.4 -126.8,71.1 -130.4,68.8 -133.7,66.3 -137.0,63.9 -140.2,61.4 -143.3,58.9 -146.1,56.3 -148.9,53.7 -151.4,51.1 -153.8,48.5 -156.0,45.8 -158.1,43.1 -160.0,40.4 -161.8,37.8 -163.3,35.1 -164.7,32.4 -165.9,29.7 -167.0,27.0 -167.8,24.3 -168.5,21.6 -169.2,18.9 -169.9,16.2 -170.3,13.5 -170.8,10.8 -171.1,8.1 -171.4,5.4 -171.5,2.7 -171.6,0.0 -171.5,-2.7 -171.4,-5.4 -171.1,-8.1 -170.8,-10.8 -170.3,-13.5 -169.9,-16.2 -169.2,-18.9 -168.5,-21.6 -167.8,-24.3 -167.0,-27.0 -165.9,-29.7 -164.7,-32.4 -163.3,-35.1 -161.8,-37.8 -160.0,-40.4 -158.1,-43.1 -156.0,-45.8 -153.8,-48.5 -151.4,-51.1 -148.9,-53.7 -146.1,-56.3 -143.3,-58.9 -140.2,-61.4 -137.0,-63.9 -133.7,-66.3 -130.4,-68.8 -126.8,-71.1 -123.3,-73.4 -119.4,-75.6 -115.5,-77.7 -111.1,-79.7 -106.6,-81.7 -102.4,-83.3 -98.2,-84.9 -94.8,-86.0 -91.3,-87.0Z"/><path id="archp" d="M-89.3,-73.2 -87.4,-72.8 -85.5,-72.4 -83.6,-72.0 -81.2,-71.8 -78.8,-71.5 -76.4,-71.3 -74.0,-71.1 -71.6,-71.0 -69.2,-70.8 -66.9,-70.7 -64.5,-70.6 -62.8,-70.0 -61.1,-69.4 -59.4,-68.8 -57.9,-68.5 -56.4,-68.3 -54.5,-67.4 -52.6,-66.6 -50.9,-66.2 -49.3,-65.8 -46.4,-68.8 -44.2,-70.1 -45.0,-72.5 -46.3,-74.3 -47.5,-76.0 -45.4,-79.3 -46.9,-80.1 -48.4,-80.9 -49.8,-81.7 -51.6,-81.8 -53.4,-81.9 -55.2,-82.0 -57.0,-82.0 -59.8,-81.7 -62.7,-81.3 -65.6,-80.9 -68.6,-80.5 -71.4,-80.1 -74.3,-79.7 -77.1,-79.3 -83.3,-76.9 -86.3,-75.0Z"/><clipPath id="landc"><use href="#landp"/><use href="#archp"/></clipPath></defs>
<text transform="translate(350.2 81.6) scale(1 1.07)" x="0" y="0" font-size="19.19" text-anchor="middle">MAM MR (gC/m^2/d)</text>
<text x="175.3" y="109.8" font-size="15.73" text-anchor="middle">Myccost_ISSP585Clm50BgcCrop_kparams</text>
<text x="175.1" y="127.4" font-size="15.75" text-anchor="middle">(yrs 2015-2048)</text>
<text x="525.4" y="109.8" font-size="15.73" text-anchor="middle">Myccost_ISSP585Clm50BgcCrop_control</text>
<text x="525.1" y="127.4" font-size="15.75" text-anchor="middle">(yrs 2015-2048)</text>
<text x="175.3" y="386.5" font-size="15.73" text-anchor="middle">Myccost_ISSP585Clm50BgcCrop_kparams</text>
<text x="175.5" y="403.8" font-size="15.74" text-anchor="middle">- Myccost_ISSP585Clm50BgcCrop_control</text>
<text x="525.1" y="396.8" font-size="15.78" text-anchor="middle">T-Test of two Case means at each grid point</text>
<text x="523.7" y="625" font-size="12.58" text-anchor="middle">Cells are significant at 0.1 level</text>
<g transform="translate(175.0,220.4)">
<g clip-path="url(#landc)"><rect x="-180" y="-90" width="360" height="180" fill="#3c5ad8"/>
<g transform="scale(.1)" shape-rendering="crispEdges"><path stroke="#1e96ff" stroke-width="9.5" d="M161 -741h8"/><path stroke="#1e96ff" stroke-width="10" d="M-1118 -698h18M-1091 -698h27M89 -698h9M125 -698h27M170 -698h9M71 -706h18M124 -706h27M159 -706h9M186 -706h9M96 -715h18M140 -715h9M104 -724h9M182 -724h9M137 -732h9"/><path stroke="#1e96ff" stroke-width="10.5" d="M-947 -644h9M47 -644h9M142 -644h28M189 -644h9M208 -644h38M294 -644h19M322 -644h9M341 -644h19M493 -644h19M530 -644h9M559 -644h9M578 -644h19M635 -644h9M654 -644h9M673 -644h9M701 -644h9M748 -644h9M777 -644h9M872 -644h9M-995 -653h9M-976 -653h9M-957 -653h9M-939 -653h9M84 -653h9M131 -653h9M150 -653h9M169 -653h28M216 -653h28M253 -653h9M282 -653h28M357 -653h9M413 -653h9M488 -653h9M507 -653h9M526 -653h19M573 -653h19M629 -653h38M676 -653h9M695 -653h28M732 -653h56M-1125 -662h19M-1042 -662h9M74 -662h19M102 -662h9M130 -662h19M158 -662h93M260 -662h9M298 -662h19M409 -662h9M428 -662h9M446 -662h9M558 -662h9M595 -662h9M632 -662h9M651 -662h19M679 -662h9M707 -662h37M772 -662h9M-1142 -671h9M-1115 -671h18M-1032 -671h9M92 -671h9M138 -671h9M157 -671h46M212 -671h111M387 -671h18M461 -671h18M553 -671h37M654 -671h28M700 -671h9M-1141 -680h27M-1095 -680h18M-1059 -680h9M91 -680h9M128 -680h9M146 -680h18M173 -680h9M192 -680h37M237 -680h64M310 -680h9M365 -680h18M456 -680h27M548 -680h18M657 -680h9M-1157 -689h90M81 -689h18M127 -689h27M172 -689h27M226 -689h81M362 -689h9M452 -689h9M470 -689h9"/><path stroke="#1e96ff" stroke-width="11" d="M-573 597h10M-598 587h20M-568 587h10M-595 549h10M-574 549h10M-609 539h41M-1043 -539h10M-785 -539h21M-702 -539h10M-682 -539h21M-651 -539h10M-599 -539h41M-31 -539h62M114 -539h52M207 -539h10M362 -539h41M434 -539h10M599 -539h52M661 -539h10M733 -539h10M764 -539h114M992 -539h31M1033 -539h10M1074 -539h31M1126 -539h10M-1056 -549h10M-862 -549h10M-790 -549h41M-738 -549h10M-697 -549h10M0 -549h21M51 -549h10M72 -549h10M113 -549h31M164 -549h10M185 -549h21M359 -549h10M379 -549h31M482 -549h10M503 -549h21M615 -549h41M728 -549h133M872 -549h21M974 -549h72M1056 -549h51M-1039 -558h10M-906 -558h10M-876 -558h20M-784 -558h41M-10 -558h10M31 -558h10M61 -558h31M112 -558h20M183 -558h10M224 -558h20M255 -558h10M275 -558h10M326 -558h10M377 -558h41M468 -558h31M519 -558h10M580 -558h61M672 -558h20M713 -558h61M794 -558h20M825 -558h31M957 -558h10M978 -558h61M1049 -558h31M-910 -568h20M-859 -568h20M-789 -568h40M20 -568h40M111 -568h10M192 -568h91M384 -568h40M465 -568h71M576 -568h71M667 -568h101M778 -568h30M829 -568h10M981 -568h10M1001 -568h51M1062 -568h10M1082 -568h10M-1064 -578h10M-893 -578h10M-873 -578h10M-853 -578h40M-783 -578h20M20 -578h20M50 -578h20M80 -578h30M120 -578h10M161 -578h10M201 -578h40M251 -578h20M391 -578h40M462 -578h60M582 -578h110M713 -578h20M743 -578h10M793 -578h10M813 -578h50M984 -578h50M1044 -578h20M1094 -578h30M-1066 -587h10M-996 -587h10M-976 -587h10M-936 -587h10M-897 -587h10M-867 -587h60M20 -587h10M50 -587h20M80 -587h40M149 -587h40M199 -587h10M219 -587h20M259 -587h10M369 -587h80M458 -587h30M508 -587h10M578 -587h60M648 -587h50M707 -587h20M777 -587h10M797 -587h10M817 -587h30M857 -587h20M-1067 -597h10M-988 -597h10M-959 -597h10M-929 -597h10M-909 -597h10M-860 -597h10M89 -597h10M138 -597h40M208 -597h10M356 -597h10M376 -597h119M573 -597h49M642 -597h79M731 -597h30M771 -597h10M810 -597h59M880 -597h10M-1059 -606h10M-1000 -606h10M-951 -606h10M-921 -606h20M-882 -606h10M137 -606h49M225 -606h20M314 -606h10M353 -606h29M402 -606h49M461 -606h39M549 -606h20M578 -606h20M637 -606h29M676 -606h29M745 -606h10M804 -606h39M882 -606h10M-1040 -616h10M-972 -616h10M-923 -616h19M136 -616h49M233 -616h10M350 -616h10M369 -616h10M389 -616h58M457 -616h29M525 -616h58M632 -616h107M797 -616h39M-964 -625h10M-916 -625h19M39 -625h58M106 -625h39M154 -625h10M212 -625h19M299 -625h19M386 -625h19M453 -625h19M520 -625h48M617 -625h116M781 -625h19M810 -625h19M-984 -634h19M-956 -634h19M-898 -634h10M48 -634h10M96 -634h10M143 -634h38M210 -634h29M421 -634h10M526 -634h19M554 -634h19M612 -634h96M726 -634h29M774 -634h10M793 -634h10"/><path stroke="#1e96ff" stroke-width="11.5" d="M-613 529h42M-596 519h31M-621 509h11M-600 509h21M-646 499h11M-593 499h21M-650 490h21M-596 490h21M-642 480h11M-610 480h21M-646 470h11M-614 470h43M-617 460h11M-595 460h32M-631 450h22M-598 450h11M-601 440h44M-648 430h22M-582 430h33M-640 420h22M-607 420h66M-654 410h55M-587 410h11M-565 410h22M1319 410h22M-623 399h11M-590 399h11M-545 399h11M-660 389h11M-592 389h22M-559 389h34M1006 389h11M1330 389h11M-651 379h11M-606 379h45M-550 379h34M-665 369h11M-631 369h34M-586 369h56M-518 369h11M158 369h79M1025 369h11M1048 369h11M-644 359h136M158 359h68M260 359h23M-658 349h11M-635 349h23M-601 349h34M-556 349h45M159 349h79M261 349h23M-626 339h46M-558 339h46M148 339h57M216 339h23M-651 329h34M-560 329h11M-537 329h23M148 329h11M171 329h23M217 329h23M263 329h11M-664 319h23M-630 319h92M-527 319h23M137 319h11M172 319h69M-643 308h34M-597 308h11M-574 308h69M138 308h11M195 308h46M253 308h46M-645 298h35M-587 298h23M-553 298h12M-518 298h12M138 298h12M184 298h12M207 298h12M230 298h35M276 298h12M299 298h12M-646 288h12M-623 288h23M-589 288h81M242 288h12M300 288h23M1039 288h12M-648 278h35M-602 278h46M-544 278h23M312 278h12M1041 278h23M-650 268h46M-580 268h23M-545 268h23M162 268h12M209 268h12M255 268h12M313 268h12M406 268h12M429 268h12M1055 268h12M1079 268h12M1229 268h35M-651 258h12M-627 258h23M-593 258h12M-546 258h23M116 258h12M139 258h23M209 258h46M279 258h12M314 258h23M430 258h12M1057 258h12M1104 258h23M1208 258h70M1383 258h12M-629 248h35M-582 248h12M-535 248h12M128 248h35M198 248h70M314 248h23M1059 248h23M1117 248h23M1187 248h58M-665 238h12M-641 238h12M-583 238h47M128 238h35M210 238h23M1049 238h12M1073 238h35M1119 238h70M1201 238h23M-666 228h12M-642 228h12M-619 228h12M-596 228h12M-561 228h23M128 228h35M175 228h82M327 228h23M1051 228h12M1075 228h47M1133 228h70M1262 228h12M1355 228h12M-667 217h12M-644 217h12M-620 217h35M-550 217h35M140 217h35M187 217h12M211 217h47M1065 217h47M1147 217h59M1252 217h12M1275 217h12M1299 217h12M1346 217h23M-668 207h12M-645 207h12M-609 207h35M-563 207h12M-539 207h12M-410 207h23M105 207h23M188 207h23M234 207h12M281 207h12M1066 207h47M1137 207h82M1301 207h12M1324 207h47M-634 197h12M-587 197h23M-540 197h47M-423 197h23M106 197h35M188 197h35M235 197h12M258 197h12M293 197h23M1080 197h12M1103 197h12M1150 197h47M1209 197h12M1232 197h23M1279 197h70M-670 187h12M-588 187h12M-529 187h24M-470 187h12M-423 187h12M-400 187h12M106 187h47M176 187h47M259 187h12M1070 187h24M1175 187h24M1211 187h24M1281 187h47M1340 187h12M-589 177h12M-494 177h12M-400 177h35M118 177h47M200 177h12M271 177h24M341 177h12M412 177h12M1059 177h118M1201 177h12M1236 177h47M1295 177h47M1354 177h12M1377 177h24M1413 177h35M-401 167h24M-365 167h12M106 167h59M200 167h35M271 167h12M295 167h12M413 167h12M1073 167h47M1144 167h12M1167 167h12M1202 167h12M1226 167h12M1250 167h47M1309 167h24M1379 167h24M1415 167h35M-708 157h12M-449 157h59M-378 157h24M106 157h59M212 157h24M260 157h35M425 157h24M1074 157h83M1228 157h12M1275 157h35M1334 157h12M1369 157h35M1428 157h24M-437 147h24M-402 147h47M130 147h47M260 147h35M354 147h24M402 147h12M1075 147h47M1205 147h12M1252 147h12M1276 147h47M1335 147h12M1371 147h24M1406 147h12M1442 147h12M-438 137h12M-414 137h47M130 137h47M237 137h12M260 137h47M331 137h12M355 137h24M426 137h24M1076 137h35M1135 137h24M1183 137h12M1254 137h12M1289 137h12M1313 137h12M1372 137h47M-438 126h12M-414 126h12M-367 126h12M237 126h47M296 126h12M1066 126h47M1137 126h12M1255 126h36M1302 126h12M1326 126h12M1373 126h12M1397 126h12M1456 126h12M-439 116h36M-391 116h12M190 116h12M249 116h24M296 116h12M1067 116h24M1161 116h36M1327 116h12M1375 116h24M1422 116h12M1458 116h12M-439 106h24M-403 106h36M-356 106h12M225 106h83M320 106h12M-439 96h12M-415 96h12M-356 96h12M214 96h59M297 96h24M332 96h36M-439 86h36M-392 86h24M-356 86h24M226 86h24M261 86h12M297 86h36M-761 76h24M-357 76h24M226 76h24M285 76h24M321 76h24M357 76h24M-440 66h24M238 66h12M285 66h24M321 66h24M-773 56h12M-440 56h12M-416 56h48M-357 56h12M286 56h83M-440 46h71M-357 46h36M286 46h71M-441 35h24M-405 35h24M286 35h12M321 35h24M381 35h12M-774 25h12M-453 25h24M286 25h12M310 25h48M-774 15h24M286 15h48M357 15h12M393 15h12M-763 5h12M393 5h12M334 -5h12M357 -5h12M393 -5h12M-774 -15h12M369 -15h12M322 -25h24M274 -35h36M321 -35h12M357 -35h12M381 -35h12M274 -46h36M369 -46h24M405 -46h12M274 -56h24M369 -56h24M405 -56h12M95 -66h12M166 -66h12M250 -66h48M309 -66h12M357 -66h36M-71 -76h36M154 -76h12M261 -76h24M368 -76h36M48 -86h36M131 -86h12M154 -86h24M238 -86h24M297 -86h36M356 -86h59M-131 -96h12M24 -96h12M47 -96h36M107 -96h12M237 -96h24M285 -96h12M309 -96h24M356 -96h47M-154 -106h24M-36 -106h12M-12 -106h59M83 -106h47M166 -106h12M225 -106h36M297 -106h12M356 -106h59M736 -106h12M-154 -116h24M-71 -116h12M-12 -116h36M47 -116h12M83 -116h12M225 -116h36M320 -116h12M367 -116h24M403 -116h24M948 -116h12M972 -116h12M-166 -126h12M-118 -126h24M-36 -126h12M-12 -126h36M95 -126h36M225 -126h36M332 -126h12M367 -126h12M403 -126h24M734 -126h12M935 -126h12M-35 -137h12M-12 -137h59M95 -137h24M130 -137h12M225 -137h12M308 -137h12M331 -137h24M367 -137h24M923 -137h24M-142 -147h35M-71 -147h12M-12 -147h59M59 -147h12M165 -147h12M236 -147h24M319 -147h35M733 -147h24M-153 -157h24M-118 -157h35M-71 -157h12M-24 -157h47M35 -157h12M130 -157h12M153 -157h59M319 -157h12M720 -157h35M956 -157h12M-141 -167h59M-35 -167h12M-12 -167h35M35 -167h24M130 -167h83M731 -167h24M931 -167h24M-930 -177h12M-47 -177h12M-12 -177h59M71 -177h12M153 -177h12M177 -177h12M706 -177h12M742 -177h12M942 -177h24M740 -187h47M1023 -187h12M-915 -197h12M728 -197h82M1021 -197h12M-926 -207h12M785 -207h35M1020 -207h12M-936 -217h12M725 -217h23M807 -217h23M1018 -217h12M-1016 -228h12M-923 -228h12M-899 -228h23M701 -228h47M759 -228h23M806 -228h12M-1014 -238h12M-979 -238h23M-944 -238h35M676 -238h12M723 -238h23M758 -238h23M-1024 -248h23M-978 -248h23M640 -248h58M722 -248h12M-1022 -258h12M-999 -258h12M-964 -258h23M-930 -258h12M627 -258h35M674 -258h58M767 -258h35M-1021 -268h93M650 -268h12M673 -268h81M765 -268h35M812 -268h12M636 -278h23M706 -278h12M729 -278h12M764 -278h35M810 -278h12M-946 -288h12M669 -288h23M762 -288h58M889 -288h23M-944 -298h12M748 -298h81M909 -298h12M-942 -308h11M655 -308h23M689 -308h11M746 -308h11M792 -308h11M815 -308h46M942 -308h11M-974 -319h34M-928 -319h23M641 -319h23M687 -319h11M710 -319h23M779 -319h11M813 -319h23M871 -319h23M939 -319h34M-1016 -329h11M-971 -329h34M503 -329h46M582 -329h11M640 -329h11M685 -329h11M708 -329h46M799 -329h11M822 -329h46M959 -329h11M1039 -329h11M-1013 -339h11M-945 -339h23M455 -339h11M489 -339h68M615 -339h11M649 -339h114M820 -339h11M1184 -339h11M-919 -349h11M408 -349h57M476 -349h23M522 -349h34M567 -349h34M624 -349h11M658 -349h34M703 -349h11M737 -349h11M760 -349h34M1021 -349h11M-882 -359h23M-837 -359h23M-769 -359h11M-712 -359h23M384 -359h23M418 -359h23M463 -359h11M509 -359h11M588 -359h11M633 -359h68M712 -359h11M769 -359h11M1198 -359h11M-901 -369h45M-766 -369h23M-710 -369h23M338 -369h11M361 -369h11M394 -369h11M428 -369h11M473 -369h11M507 -369h23M541 -369h11M563 -369h34M620 -369h11M642 -369h68M721 -369h11M1048 -369h23M1082 -369h11M1183 -369h11M-898 -379h34M-831 -379h22M-797 -379h11M-775 -379h22M-707 -379h11M303 -379h22M359 -379h11M382 -379h22M415 -379h11M438 -379h22M528 -379h11M651 -379h34M1145 -379h11M-872 -389h11M-816 -389h56M-738 -389h56M-56 -389h22M268 -389h22M302 -389h34M380 -389h11M436 -389h22M503 -389h34M592 -389h11M1073 -389h11M1140 -389h11M-891 -399h11M-868 -399h11M-813 -399h45M-757 -399h11M-724 -399h11M-701 -399h11M-45 -399h11M-11 -399h11M267 -399h11M312 -399h33M367 -399h22M423 -399h11M445 -399h22M490 -399h22M523 -399h11M1013 -399h11M1046 -399h22M1080 -399h22M1258 -399h11M-876 -410h22M-842 -410h33M-787 -410h22M-743 -410h11M-111 -410h22M-67 -410h22M-33 -410h11M0 -410h67M266 -410h11M288 -410h11M310 -410h33M377 -410h11M399 -410h22M432 -410h11M454 -410h11M975 -410h22M1009 -410h22M1042 -410h55M1219 -410h11M-1126 -420h11M-872 -420h22M-839 -420h11M-784 -420h11M-751 -420h11M-728 -420h11M-706 -420h22M-99 -420h11M-66 -420h11M-11 -420h110M199 -420h22M265 -420h11M309 -420h11M364 -420h11M397 -420h33M982 -420h33M1038 -420h55M-1121 -430h11M-1099 -430h11M-890 -430h33M-780 -430h11M-736 -430h33M-99 -430h22M-44 -430h33M0 -430h44M55 -430h44M275 -430h22M330 -430h11M1000 -430h11M1033 -430h11M1055 -430h66M1143 -430h11M-798 -440h22M-722 -440h22M-98 -440h22M-55 -440h22M-22 -440h11M11 -440h11M66 -440h22M120 -440h33M208 -440h11M295 -440h22M1006 -440h11M1050 -440h11M1072 -440h11M1104 -440h44M-805 -450h131M-653 -450h76M-65 -450h33M0 -450h11M76 -450h98M305 -450h11M990 -450h11M1099 -450h11M1120 -450h44M1218 -450h11M1240 -450h22M-801 -460h11M-779 -460h32M-736 -460h11M-671 -460h87M-65 -460h11M-32 -460h11M11 -460h22M97 -460h65M173 -460h11M195 -460h22M271 -460h11M985 -460h11M1017 -460h11M1115 -460h43M1201 -460h11M1234 -460h43M-1076 -470h11M-764 -470h54M-646 -470h32M-581 -470h11M-86 -470h22M-54 -470h22M0 -470h32M97 -470h54M194 -470h22M1001 -470h22M1033 -470h11M1120 -470h32M1195 -470h75M-792 -480h11M-760 -480h21M-728 -480h21M-696 -480h11M-86 -480h21M-11 -480h43M107 -480h32M171 -480h75M964 -480h21M996 -480h21M1028 -480h11M1114 -480h21M1189 -480h75M-1075 -490h21M-788 -490h32M-724 -490h11M-618 -490h21M-21 -490h53M106 -490h138M287 -490h53M958 -490h53M1033 -490h11M1086 -490h11M1182 -490h43M1235 -490h21M-1069 -499h11M-783 -499h21M-752 -499h11M-709 -499h11M-614 -499h11M-561 -499h11M-21 -499h42M74 -499h11M95 -499h32M138 -499h85M296 -499h11M339 -499h32M381 -499h11M402 -499h11M466 -499h11M963 -499h53M1027 -499h11M1090 -499h11M1111 -499h11M-1073 -509h11M-631 -509h11M-568 -509h11M-42 -509h11M-21 -509h11M0 -509h21M63 -509h11M84 -509h53M147 -509h42M358 -509h53M442 -509h32M547 -509h42M979 -509h42M1031 -509h11M1084 -509h11M1136 -509h11M-701 -519h21M-648 -519h10M-628 -519h21M-596 -519h52M-42 -519h73M94 -519h73M178 -519h10M209 -519h10M356 -519h52M439 -519h21M544 -519h10M617 -519h31M973 -519h10M1004 -519h21M1035 -519h21M1140 -519h10M-1050 -529h10M-676 -529h31M-593 -529h42M-10 -529h42M83 -529h10M114 -529h62M208 -529h10M385 -529h21M426 -529h31M541 -529h10M593 -529h52M655 -529h21M728 -529h10M769 -529h125M977 -529h62"/><path stroke="#55c3f5" stroke-width="10" d="M-1154 -698h9M-1100 -698h9M-1065 -698h9M72 -698h18M152 -698h18M197 -698h18M195 -706h9"/><path stroke="#55c3f5" stroke-width="10.5" d="M-995 -644h9M57 -644h38M246 -644h9M275 -644h19M360 -644h9M388 -644h9M426 -644h19M455 -644h9M549 -644h9M616 -644h19M663 -644h9M682 -644h9M786 -644h19M834 -644h9M862 -644h9M-986 -653h9M-929 -653h9M56 -653h28M141 -653h9M160 -653h9M206 -653h9M263 -653h9M310 -653h9M394 -653h19M422 -653h38M469 -653h9M497 -653h9M544 -653h19M619 -653h9M666 -653h9M685 -653h9M798 -653h9M845 -653h9M56 -662h19M149 -662h9M251 -662h9M270 -662h28M363 -662h9M400 -662h9M418 -662h9M456 -662h46M521 -662h9M549 -662h9M567 -662h28M623 -662h9M642 -662h9M670 -662h9M688 -662h19M744 -662h19M781 -662h19M-1133 -671h18M-1096 -671h9M55 -671h37M147 -671h9M203 -671h9M368 -671h9M424 -671h28M479 -671h9M590 -671h9M617 -671h9M682 -671h18M709 -671h18M-1150 -680h9M-1113 -680h18M-1077 -680h9M64 -680h27M137 -680h9M164 -680h9M228 -680h9M301 -680h9M319 -680h9M356 -680h9M420 -680h9M447 -680h9M484 -680h9M538 -680h9M566 -680h27M648 -680h9M63 -689h18M154 -689h18M199 -689h9M334 -689h9M371 -689h18M461 -689h9M479 -689h9"/><path stroke="#55c3f5" stroke-width="11" d="M-593 597h20M-563 597h10M-816 -539h10M-764 -539h31M-692 -539h10M-661 -539h10M-630 -539h10M-609 -539h10M52 -539h10M72 -539h41M165 -539h41M341 -539h10M403 -539h10M444 -539h10M496 -539h10M517 -539h10M537 -539h21M589 -539h10M651 -539h10M671 -539h10M713 -539h21M754 -539h10M878 -539h10M981 -539h10M-831 -549h10M-800 -549h10M-728 -549h31M-677 -549h21M-626 -549h10M-10 -549h10M41 -549h10M62 -549h10M82 -549h31M154 -549h10M174 -549h10M328 -549h10M369 -549h10M462 -549h21M492 -549h10M523 -549h10M595 -549h21M656 -549h21M687 -549h21M718 -549h10M862 -549h10M1046 -549h10M-1049 -558h10M-886 -558h10M-855 -558h10M-804 -558h10M-723 -558h20M-682 -558h10M0 -558h20M41 -558h20M102 -558h10M132 -558h10M193 -558h31M244 -558h10M265 -558h10M285 -558h10M305 -558h20M346 -558h10M367 -558h10M418 -558h10M499 -558h20M530 -558h10M550 -558h20M642 -558h31M703 -558h10M774 -558h20M866 -558h20M1039 -558h10M1079 -558h10M-1062 -568h10M-890 -568h10M-839 -568h10M0 -568h20M61 -568h10M81 -568h10M121 -568h10M293 -568h40M435 -568h10M536 -568h40M657 -568h10M819 -568h10M849 -568h10M991 -568h10M1051 -568h10M1072 -568h10M1092 -568h10M-1034 -578h10M-903 -578h10M-863 -578h10M-813 -578h30M40 -578h10M70 -578h10M110 -578h10M130 -578h10M171 -578h10M191 -578h10M241 -578h10M291 -578h40M381 -578h10M432 -578h10M452 -578h10M532 -578h30M572 -578h10M692 -578h20M733 -578h10M783 -578h10M803 -578h10M863 -578h10M1034 -578h10M1064 -578h10M-1046 -587h10M-986 -587h10M-966 -587h20M-917 -587h10M40 -587h10M70 -587h10M120 -587h10M189 -587h10M209 -587h10M239 -587h10M299 -587h10M339 -587h10M359 -587h10M448 -587h10M488 -587h20M518 -587h10M548 -587h10M568 -587h10M638 -587h10M697 -587h10M727 -587h30M787 -587h10M807 -587h10M847 -587h10M877 -587h10M-998 -597h10M-978 -597h20M-949 -597h20M-919 -597h10M-880 -597h20M30 -597h20M59 -597h30M99 -597h10M178 -597h30M217 -597h20M316 -597h10M336 -597h20M366 -597h10M494 -597h10M544 -597h30M623 -597h10M721 -597h10M761 -597h10M800 -597h10M870 -597h10M-990 -606h10M-902 -606h10M78 -606h10M186 -606h10M216 -606h10M245 -606h10M284 -606h10M304 -606h10M323 -606h10M343 -606h10M382 -606h20M451 -606h10M500 -606h10M598 -606h20M627 -606h10M666 -606h10M706 -606h39M755 -606h20M872 -606h10M-1069 -616h10M-991 -616h19M-943 -616h19M-904 -616h10M68 -616h19M185 -616h10M204 -616h29M301 -616h19M340 -616h10M379 -616h10M447 -616h10M486 -616h10M583 -616h29M622 -616h10M739 -616h29M836 -616h19M865 -616h19M-993 -625h10M-974 -625h10M-877 -625h10M173 -625h19M202 -625h10M231 -625h10M289 -625h10M347 -625h10M405 -625h29M472 -625h10M569 -625h10M742 -625h29M829 -625h29M-994 -634h10M-965 -634h10M-937 -634h10M-908 -634h10M57 -634h38M182 -634h19M239 -634h10M258 -634h10M287 -634h38M363 -634h10M401 -634h19M440 -634h19M497 -634h29M583 -634h10M784 -634h10M812 -634h10M841 -634h10"/><path stroke="#55c3f5" stroke-width="11.5" d="M-631 509h11M-579 509h11M-635 499h11M-603 499h11M-607 490h11M-653 480h11M-589 480h21M-609 450h11M-587 450h22M-612 440h11M-615 430h11M-593 430h11M-651 420h11M-543 410h11M-557 399h11M-534 399h11M1325 399h11M-640 379h11M-561 379h11M-516 379h11M1044 379h11M-597 369h11M-530 369h11M237 369h11M-656 359h11M237 359h11M1051 359h11M-669 349h11M-672 339h23M-637 339h11M-580 339h11M-594 329h11M-571 329h11M-548 329h11M194 329h23M240 329h11M-641 319h11M-538 319h11M286 319h11M-609 308h11M-586 308h11M161 308h23M241 308h11M299 308h11M-564 298h12M-541 298h23M161 298h12M265 298h12M-635 288h12M-600 288h12M127 288h12M162 288h12M254 288h23M1050 288h12M-555 278h12M-521 278h12M162 278h12M255 278h23M289 278h12M405 278h46M-603 268h23M-557 268h12M128 268h35M174 268h12M278 268h12M418 268h12M1044 268h12M1090 268h12M-639 258h12M-581 258h12M163 258h12M1069 258h12M1092 258h12M1394 258h12M-640 248h12M-570 248h12M-547 248h12M116 248h12M1048 248h12M1082 248h12M1106 248h12M1245 248h12M-653 238h12M-630 238h23M-595 238h12M1061 238h12M1189 238h12M1236 238h12M-654 228h12M-572 228h12M105 228h23M164 228h12M1063 228h12M1121 228h12M328 217h12M1053 217h12M1112 217h12M1135 217h12M129 207h12M211 207h12M340 207h12M1055 207h12M1231 207h23M1277 207h23M1313 207h12M1418 207h12M-669 197h12M-399 197h23M246 197h12M1091 197h12M1197 197h12M1221 197h12M1350 197h12M-411 187h12M-388 187h24M153 187h12M223 187h12M270 187h12M1058 187h12M1093 187h24M1140 187h12M1164 187h12M1234 187h12M1258 187h24M1328 187h12M1352 187h12M-412 177h12M165 177h35M212 177h12M259 177h12M294 177h12M1177 177h12M1212 177h24M-413 167h12M-377 167h12M189 167h12M259 167h12M283 167h12M1061 167h12M1120 167h24M1155 167h12M1238 167h12M1297 167h12M1332 167h12M1403 167h12M-390 157h12M165 157h12M248 157h12M295 157h12M319 157h12M342 157h24M413 157h12M1062 157h12M1251 157h12M1310 157h12M1416 157h12M106 147h12M177 147h12M295 147h12M414 147h35M1134 147h24M1229 147h12M1264 147h12M1323 147h12M1394 147h12M308 137h12M1064 137h12M1266 137h12M1325 137h24M-403 126h24M-355 126h12M178 126h12M225 126h12M1148 126h12M1184 126h24M1314 126h12M1385 126h12M1433 126h12M-403 116h12M178 116h12M237 116h12M1126 116h36M1292 116h12M-368 106h12M166 106h12M308 106h12M332 106h12M-380 96h24M320 96h12M119 86h12M333 86h12M-440 76h12M119 76h12M250 76h12M-761 66h12M-345 66h12M226 66h12M-762 56h12M-369 56h12M-345 56h12M381 56h12M-369 46h12M381 46h12M-417 35h12M345 35h12M298 25h12M357 25h12M345 15h12M369 15h12M286 5h12M310 5h24M346 5h12M286 -5h12M298 -25h12M369 -35h12M393 -35h24M345 -46h24M393 -46h12M297 -56h12M393 -56h12M214 -66h24M321 -66h12M345 -66h12M392 -66h12M95 -76h12M226 -76h12M357 -76h12M404 -76h12M-119 -86h12M119 -86h12M273 -86h12M12 -96h12M36 -96h12M119 -96h12M226 -96h12M273 -96h12M-130 -106h12M-47 -106h12M47 -106h12M71 -106h12M273 -106h12M-166 -116h12M-59 -116h24M-24 -116h12M24 -116h24M59 -116h12M107 -116h12M273 -116h12M391 -116h12M735 -116h12M-95 -126h12M355 -126h12M379 -126h12M923 -126h12M947 -126h24M-130 -137h12M-24 -137h12M118 -137h12M166 -137h12M237 -137h12M319 -137h12M733 -137h12M-154 -147h12M-83 -147h12M47 -147h12M71 -147h12M177 -147h12M-130 -157h12M24 -157h12M59 -157h12M142 -157h12M283 -157h12M-931 -167h12M-165 -167h12M-47 -167h12M-24 -167h12M24 -167h12M719 -167h12M754 -167h12M955 -167h12M-918 -177h12M-35 -177h24M47 -177h12M129 -177h24M165 -177h12M718 -177h12M753 -177h24M729 -187h12M929 -187h24M-927 -197h12M773 -207h12M749 -217h12M772 -217h23M-934 -228h12M748 -228h12M-1026 -238h12M653 -238h12M688 -238h12M-1001 -248h23M-954 -248h47M768 -248h35M-1011 -258h12M-988 -258h23M-941 -258h12M-918 -258h12M662 -258h12M732 -258h35M638 -268h12M661 -268h12M754 -268h12M752 -278h12M798 -278h12M750 -288h12M886 -298h23M735 -308h11M781 -308h11M884 -308h11M-939 -319h11M584 -319h11M630 -319h11M664 -319h11M733 -319h23M767 -319h11M790 -319h11M-936 -329h23M560 -329h11M628 -329h11M651 -329h23M765 -329h23M-922 -339h11M-80 -339h11M444 -339h11M478 -339h11M558 -339h11M-57 -349h11M465 -349h11M499 -349h23M556 -349h11M647 -349h11M-893 -359h11M-859 -359h11M-724 -359h11M-45 -359h11M407 -359h11M441 -359h11M486 -359h11M-45 -369h23M79 -369h11M406 -369h23M484 -369h23M-864 -379h11M-696 -379h11M-45 -379h11M-22 -379h11M22 -379h11M326 -379h11M404 -379h11M516 -379h11M1089 -379h11M-861 -389h11M45 -389h11M414 -389h11M492 -389h11M548 -389h11M581 -389h11M626 -389h11M1051 -389h22M1084 -389h22M-879 -399h11M-735 -399h11M-690 -399h11M-33 -399h22M0 -399h11M78 -399h22M278 -399h11M401 -399h11M479 -399h11M512 -399h11M1069 -399h11M-898 -410h11M-698 -410h11M211 -410h11M344 -410h11M421 -410h11M443 -410h11M998 -410h11M1031 -410h11M1108 -410h11M1230 -410h22M-894 -420h22M-740 -420h11M-717 -420h11M-44 -420h11M331 -420h11M386 -420h11M971 -420h11M1026 -420h11M-791 -430h11M-703 -430h22M-77 -430h11M44 -430h11M99 -430h22M297 -430h11M374 -430h11M1044 -430h11M1132 -430h11M-1094 -440h11M-776 -440h11M-755 -440h11M22 -440h22M55 -440h11M87 -440h33M328 -440h11M1017 -440h11M1148 -440h11M-664 -450h11M22 -450h11M54 -450h22M207 -450h11M283 -450h11M1001 -450h11M1077 -450h11M1262 -450h22M-1082 -460h11M-790 -460h11M-747 -460h11M-584 -460h22M65 -460h11M87 -460h11M1223 -460h11M-797 -470h11M-700 -470h11M-678 -470h11M-657 -470h11M-614 -470h22M-65 -470h11M-32 -470h11M-11 -470h11M32 -470h11M86 -470h11M215 -470h11M1023 -470h11M1109 -470h11M-782 -480h11M-739 -480h11M-675 -480h11M-642 -480h11M-64 -480h11M-21 -480h11M32 -480h11M96 -480h11M278 -480h11M985 -480h11M1135 -480h11M-735 -490h11M-660 -490h11M-639 -490h11M-75 -490h11M96 -490h11M341 -490h32M1012 -490h21M1129 -490h11M1225 -490h11M-646 -499h11M-625 -499h11M-582 -499h11M-74 -499h11M-53 -499h21M21 -499h21M85 -499h11M127 -499h11M222 -499h21M286 -499h11M328 -499h11M370 -499h11M392 -499h11M476 -499h11M1016 -499h11M1080 -499h11M1101 -499h11M-558 -509h11M-53 -509h11M-32 -509h11M-11 -509h11M21 -509h11M42 -509h21M74 -509h11M137 -509h11M189 -509h11M221 -509h21M295 -509h11M337 -509h11M410 -509h11M431 -509h11M526 -509h21M957 -509h11M1021 -509h11M1073 -509h11M1094 -509h11M-711 -519h10M-638 -519h10M-607 -519h10M-52 -519h10M52 -519h10M73 -519h21M167 -519h10M199 -519h10M230 -519h21M293 -519h10M314 -519h42M408 -519h10M429 -519h10M460 -519h21M554 -519h21M586 -519h31M648 -519h21M680 -519h21M722 -519h10M983 -519h21M1025 -519h10M-769 -529h10M-748 -529h10M-696 -529h21M-42 -529h31M31 -529h10M94 -529h21M177 -529h10M218 -529h10M239 -529h10M312 -529h21M353 -529h31M582 -529h10M645 -529h10M738 -529h10M759 -529h10"/><path stroke="#c8e6f8" stroke-width="10" d="M-1145 -698h9"/><path stroke="#c8e6f8" stroke-width="10.5" d="M-928 -644h57M199 -644h9M256 -644h19M369 -644h19M398 -644h28M445 -644h9M464 -644h28M597 -644h19M805 -644h28M843 -644h19M197 -653h9M244 -653h9M272 -653h9M319 -653h9M366 -653h28M460 -653h9M479 -653h9M591 -653h28M788 -653h9M807 -653h38M-1051 -662h9M316 -662h9M372 -662h28M437 -662h9M502 -662h19M530 -662h19M604 -662h19M378 -671h9M451 -671h9M488 -671h64M599 -671h18M626 -671h28M728 -671h18M-1049 -680h9M383 -680h18M429 -680h18M493 -680h46M593 -680h55M-1048 -689h9M307 -689h9M343 -689h18M425 -689h27M488 -689h9"/><path stroke="#c8e6f8" stroke-width="11" d="M-806 -539h10M-723 -539h21M-640 -539h10M-620 -539h10M31 -539h10M62 -539h10M258 -539h10M413 -539h10M455 -539h10M475 -539h21M682 -539h21M744 -539h10M1023 -539h10M1043 -539h10M1064 -539h10M-851 -549h21M-656 -549h10M-636 -549h10M-21 -549h10M21 -549h21M226 -549h10M246 -549h10M267 -549h10M308 -549h21M349 -549h10M533 -549h21M564 -549h10M585 -549h10M677 -549h10M-703 -558h10M20 -558h10M92 -558h10M173 -558h10M295 -558h10M336 -558h10M356 -558h10M458 -558h10M540 -558h10M570 -558h10M692 -558h10M815 -558h10M855 -558h10M886 -558h10M-829 -568h40M-728 -568h10M71 -568h10M91 -568h20M131 -568h20M182 -568h10M283 -568h10M334 -568h20M374 -568h10M445 -568h20M647 -568h10M768 -568h10M809 -568h10M839 -568h10M859 -568h10M1102 -568h20M10 -578h10M141 -578h20M181 -578h10M281 -578h10M331 -578h20M442 -578h10M522 -578h10M753 -578h10M773 -578h10M873 -578h10M974 -578h10M1084 -578h10M-946 -587h10M-927 -587h10M-877 -587h10M30 -587h10M139 -587h10M249 -587h10M349 -587h10M528 -587h20M767 -587h10M109 -597h10M128 -597h10M237 -597h30M287 -597h20M326 -597h10M632 -597h10M781 -597h10M-980 -606h29M-892 -606h10M39 -606h10M69 -606h10M88 -606h10M294 -606h10M529 -606h10M568 -606h10M617 -606h10M-962 -616h19M-894 -616h29M243 -616h19M282 -616h19M360 -616h10M612 -616h10M855 -616h10M-983 -625h10M-954 -625h39M-896 -625h19M241 -625h10M260 -625h10M318 -625h10M337 -625h10M357 -625h10M376 -625h10M434 -625h19M607 -625h10M733 -625h10M800 -625h10M858 -625h29M-927 -634h19M-889 -634h19M201 -634h10M248 -634h10M268 -634h19M325 -634h10M344 -634h19M382 -634h19M430 -634h10M459 -634h38M707 -634h10M803 -634h10M822 -634h19M851 -634h19"/><path stroke="#c8e6f8" stroke-width="11.5" d="M-618 420h11M-599 410h11M-601 399h11M-579 399h11M-626 389h11M-569 339h11M1076 278h12M1067 268h12M1081 258h12M-594 248h12M1094 248h12M1108 238h12M1224 238h12M1353 238h12M-631 228h12M1203 228h23M-632 217h12M-585 217h12M-562 217h12M1240 217h12M1264 217h12M1287 217h12M1334 217h12M-633 207h23M-516 207h12M-599 197h12M1056 197h23M-435 187h12M1199 187h12M1189 177h12M1283 177h12M1342 177h12M1401 177h12M-483 167h35M-436 167h12M-519 157h12M1263 157h12M-414 147h12M1063 147h12M-367 137h12M1112 137h12M1218 137h12M1301 137h12M1419 137h12M-426 126h12M-379 126h12M1243 126h12M1409 126h12M-379 116h12M-356 116h12M1114 116h12M1268 116h12M1316 116h12M1434 116h12M-415 106h12M-427 96h12M-404 86h12M-368 86h12M368 86h12M-416 66h71M357 66h24M-428 56h12M-381 35h12M357 35h12M298 -5h24M334 -15h24M381 -15h24M345 -25h12M393 -25h12M333 -35h24M333 -56h12M155 -66h12M178 -66h12M-83 -76h12M166 -76h12M214 -76h12M309 -76h12M344 -86h12M-119 -96h12M-12 -96h24M131 -96h12M154 -96h12M261 -96h12M-24 -106h12M59 -106h12M214 -106h12M261 -106h12M332 -106h12M415 -106h12M-36 -116h12M95 -116h12M284 -116h12M332 -116h12M-154 -126h12M47 -126h12M213 -126h12M308 -126h24M343 -126h12M-118 -137h12M-95 -137h12M59 -137h12M83 -137h12M296 -137h12M355 -137h12M-24 -147h12M83 -147h35M354 -147h24M-83 -157h12M-59 -157h12M224 -157h12M-153 -167h12M-83 -167h35M212 -167h12M59 -177h12M118 -177h12M730 -177h12M788 -187h12M761 -217h12M700 -238h23M746 -238h12M710 -248h12M802 -258h12M800 -268h12M660 -278h12M694 -278h12M717 -278h12M741 -278h12M926 -278h12M727 -288h23M923 -288h12M712 -308h23M758 -308h11M930 -308h11M965 -308h11M1034 -308h11M596 -319h34M756 -319h11M836 -319h23M1042 -319h11M617 -329h11M948 -329h11M603 -339h11M785 -339h11M956 -339h11M613 -349h11M635 -349h11M749 -349h11M794 -349h11M-803 -359h11M-780 -359h11M452 -359h11M497 -359h11M531 -359h11M746 -359h23M-834 -369h34M-777 -369h11M349 -369h11M383 -369h11M530 -369h11M552 -369h11M1036 -369h11M1070 -369h11M1093 -369h11M-853 -379h22M-808 -379h11M-786 -379h11M-752 -379h22M348 -379h11M494 -379h11M550 -379h11M629 -379h11M-838 -389h11M-760 -389h22M-67 -389h11M335 -389h11M358 -389h11M481 -389h11M559 -389h22M-846 -399h22M-768 -399h11M-746 -399h11M-67 -399h11M-798 -410h11M-806 -420h11M-773 -420h11M-835 -430h11M-813 -430h11M-758 -430h22M-66 -430h11M-11 -430h11M187 -430h11M352 -430h11M967 -430h11M1011 -430h22M-820 -440h11M44 -440h11M186 -440h11M273 -440h11M339 -440h11M995 -440h11M1083 -440h22M-22 -450h22M196 -450h11M1012 -450h11M1055 -450h11M1110 -450h11M1207 -450h11M1229 -450h11M-714 -460h22M43 -460h11M76 -460h11M1006 -460h11M1039 -460h11M1212 -460h11M-22 -470h11M958 -470h32M-43 -480h21M139 -480h11M268 -480h11M1017 -480h11M1103 -480h11M-628 -490h11M-64 -490h43M373 -490h11M1097 -490h11M1118 -490h11M-688 -499h11M-656 -499h11M-593 -499h11M-32 -499h11M53 -499h21M243 -499h11M275 -499h11M307 -499h11M413 -499h11M434 -499h32M1122 -499h11M-684 -509h11M32 -509h11M200 -509h11M305 -509h11M326 -509h11M347 -509h11M421 -509h11M473 -509h11M516 -509h11M968 -509h11M1063 -509h11M1105 -509h21M-732 -519h21M-680 -519h10M31 -519h10M63 -519h10M188 -519h10M220 -519h10M523 -519h21M575 -519h10M669 -519h10M962 -519h10M1056 -519h10M1077 -519h10M-738 -529h10M-717 -529h21M-624 -529h10M52 -529h10M187 -529h21M229 -529h10M301 -529h10M333 -529h21M405 -529h21M499 -529h10M551 -529h10M676 -529h10M696 -529h10M717 -529h10M1133 -529h10"/><path stroke="#ffd22d" stroke-width="11" d="M-1054 -539h10M-1046 -549h21M-1056 -587h10M-1057 -597h20M-1049 -606h20M-1059 -616h19M-1030 -616h10M-1051 -625h10"/><path stroke="#ffd22d" stroke-width="11.5" d="M1463 509h42M1471 499h21M1501 490h11M1221 480h43M1446 480h64M1227 470h43M1464 470h32M1507 470h11M1234 460h11M1277 460h11M1428 460h11M1295 450h11M1436 450h11M1290 440h22M1443 440h33M1286 430h11M1308 430h11M1451 430h11M1473 430h11M1469 399h33M1341 389h11M1476 389h22M1565 389h11M1482 379h11M1572 379h11M1014 369h11M1036 369h11M1487 369h11M1566 369h34M1017 359h34M1492 359h11M1583 359h11M-510 349h34M1565 349h45M-512 339h23M1514 339h11M1582 339h34M-503 329h34M1530 329h57M-504 319h34M-471 308h34M-449 298h23M-439 288h12M1397 288h12M451 278h23M1377 278h12M1400 278h12M-441 268h12M1392 268h12M1415 268h12M-500 258h12M-453 258h12M-430 258h12M290 258h12M407 258h23M-500 248h23M-454 248h35M291 248h23M407 248h35M1397 248h12M-431 238h12M292 238h23M408 238h35M1399 238h12M-491 228h12M-456 228h58M409 228h35M-491 217h47M-421 217h23M410 217h35M1369 217h12M-574 207h12M-551 207h12M-527 207h12M-469 207h12M410 207h35M-552 197h12M-493 197h23M-458 197h23M411 197h35M1373 197h12M-611 187h24M-576 187h12M-541 187h12M-494 187h12M-458 187h12M411 187h35M-530 177h12M-483 177h24M424 177h24M1365 177h12M-530 167h24M-448 167h12M424 167h24M1367 167h12M-508 157h12M1346 157h24M-449 147h12M402 137h24M449 137h47M154 116h24M213 116h12M284 116h12M130 106h12M154 106h12M202 106h12M131 96h12M178 96h12M285 96h12M143 86h12M131 76h12M202 76h12M119 66h12M155 66h12M190 66h12M250 66h12M143 56h12M238 46h12M143 35h12M119 -5h12M179 -5h12M83 -35h24M95 -46h12M95 -56h24M155 -56h12M12 -66h24M83 -66h12M190 -66h12M-12 -76h24M24 -76h12M190 -76h12M-59 -86h12M-24 -86h12M-83 -96h24M-24 -96h12M142 -106h12M-130 -116h12M142 -116h12M178 -116h12M924 -116h12M189 -126h24M983 -126h24M-142 -137h12M260 -137h12M946 -137h12M1005 -137h12M-47 -147h12M284 -147h12M922 -147h12M260 -157h24M921 -157h12M944 -157h12M968 -157h12M59 -167h12M707 -167h12M94 -177h12M683 -177h24M918 -177h24M682 -187h24M917 -187h12M692 -197h35M869 -197h12M927 -197h12M680 -207h59M867 -207h12M655 -217h12M679 -217h35M913 -217h23M911 -228h12M1005 -228h12M1028 -228h12M909 -238h12M1061 -238h23M954 -248h12M988 -258h12M615 -268h23M974 -268h23M1044 -268h35M625 -278h12M960 -278h23M1053 -278h35M692 -288h12M935 -288h12M958 -288h23M993 -288h12M1016 -288h12M1073 -288h12M1096 -288h23M-886 -298h23M840 -298h23M933 -298h23M990 -298h35M1071 -298h12M1105 -298h12M-884 -308h11M-861 -308h11M976 -308h46M1068 -308h57M-871 -319h11M-813 -319h23M985 -319h46M1077 -319h46M-834 -329h11M-811 -329h80M982 -329h46M1074 -329h11M1108 -329h11M-820 -339h23M-785 -339h23M-740 -339h23M979 -339h34M1059 -339h57M1195 -339h11M976 -349h11M1055 -349h57M1191 -349h45M972 -359h11M995 -359h11M1017 -359h23M1187 -359h11M1210 -359h11M935 -369h34M991 -369h34M1115 -369h11M1160 -369h11M34 -379h56M1111 -379h22M22 -389h22M56 -389h45M1107 -389h22M1263 -389h11M-78 -399h11M56 -399h22M212 -399h11M1102 -399h11M1147 -399h11M1236 -399h22M-44 -410h11M-22 -410h22M222 -410h11M1120 -410h22M1253 -410h11M-1115 -420h22M-77 -420h11M-33 -420h22M221 -420h22M1093 -420h22M1225 -420h33M-55 -430h11M209 -430h33M-1115 -440h22M-77 -440h11M-33 -440h11M219 -440h22M-1110 -450h33M-87 -450h22M-33 -450h11M174 -450h11M218 -450h11M-1104 -460h22M-54 -460h22M-22 -460h11M-1098 -470h11M161 -470h32M-1092 -480h11M-1086 -490h11M-1080 -499h11M-1058 -499h11M-1063 -509h21M-1067 -519h31"/><path stroke="#ff8c00" stroke-width="11" d="M-1059 -558h10M-1051 -568h20M-1036 -587h20M-1028 -597h20M-1019 -606h10"/><path stroke="#ff8c00" stroke-width="11.5" d="M1452 509h11M1408 499h11M1492 499h11M1514 499h11M1406 490h11M1427 490h11M1448 490h53M1512 490h11M1413 480h11M1421 470h11M1453 470h11M1496 470h11M1518 470h11M1461 460h65M1447 450h11M1469 450h11M1512 450h11M1476 440h33M1542 440h11M1462 430h11M1484 430h22M1561 430h11M1468 420h11M1501 420h11M1463 410h33M1507 410h11M1541 410h22M1336 399h11M1558 399h22M1498 389h11M1493 379h11M1516 379h11M1560 379h11M1583 379h34M1498 369h11M1555 369h11M1600 369h11M-509 359h11M-475 359h45M1504 359h11M1560 359h23M1617 359h11M-476 349h45M1497 349h34M1554 349h11M1611 349h11M-489 339h57M1525 339h57M1628 339h11M-468 329h34M1508 329h23M1587 329h57M-458 319h34M1401 308h11M-507 298h46M288 298h12M1382 298h35M-508 288h35M-450 288h12M289 288h12M1408 288h12M-509 278h46M1412 278h12M-522 268h58M290 268h23M1380 268h12M1403 268h12M-523 258h12M302 258h12M1406 258h12M-512 248h12M-466 248h12M-419 248h12M1385 248h12M-525 238h35M-478 238h23M-420 238h23M-537 228h47M-467 228h12M304 228h12M1367 228h12M-445 217h12M456 217h12M1381 217h12M-492 207h12M-445 207h23M1371 207h23M-622 197h23M-563 197h12M481 197h12M-447 187h12M470 187h24M1363 187h24M-565 177h12M-518 177h12M-459 177h24M459 177h35M-566 167h35M472 167h24M-496 157h12M-472 157h24M484 157h12M378 147h12M461 147h24M48 -66h12M-36 -76h12M12 -76h12M48 -76h24M-36 -86h12M12 -86h12M-95 -96h12M926 -96h12M-71 -106h24M949 -106h12M913 -116h12M936 -116h12M960 -116h12M984 -116h12M-130 -126h12M912 -126h12M971 -126h12M899 -137h12M958 -137h12M982 -137h24M1017 -137h12M-165 -147h12M933 -147h35M1016 -147h12M909 -157h12M932 -157h12M-920 -167h24M908 -167h12M967 -167h35M-906 -177h12M906 -177h12M-929 -187h35M905 -187h12M952 -187h12M1011 -187h12M880 -197h12M904 -197h23M939 -197h12M998 -197h23M-914 -207h12M879 -207h12M902 -207h12M926 -207h35M996 -207h23M-924 -217h12M-901 -217h12M1006 -217h12M829 -228h12M899 -228h12M993 -228h12M1016 -228h12M793 -238h12M1003 -238h12M1038 -238h23M826 -248h23M885 -248h12M908 -248h12M1001 -248h12M1048 -248h12M1071 -248h12M871 -258h35M999 -258h12M1046 -258h46M858 -268h12M881 -268h12M951 -268h23M997 -268h23M1090 -268h23M-775 -278h12M937 -278h23M995 -278h12M1018 -278h12M1041 -278h12M1088 -278h35M-785 -288h23M843 -288h12M866 -288h23M946 -288h12M981 -288h12M1004 -288h12M1027 -288h46M-794 -298h35M956 -298h35M1025 -298h23M1059 -298h12M1082 -298h23M1117 -298h12M-827 -308h80M1022 -308h11M1045 -308h23M-893 -319h11M-859 -319h11M-756 -319h11M928 -319h11M974 -319h11M1054 -319h23M-891 -329h46M971 -329h11M1028 -329h11M1062 -329h11M1085 -329h23M933 -339h11M1013 -339h11M1047 -339h11M-760 -349h45M-68 -349h11M941 -349h11M964 -349h11M987 -349h23M1044 -349h11M-746 -359h11M-68 -359h23M927 -359h45M984 -359h11M1006 -359h11M1040 -359h57M1221 -359h34M-23 -369h11M969 -369h23M1025 -369h11M1127 -369h23M1205 -369h11M1262 -369h23M-56 -379h11M-34 -379h11M0 -379h11M90 -379h11M1134 -379h11M1156 -379h11M1179 -379h56M1246 -379h34M-89 -389h11M-34 -389h11M1151 -389h11M1185 -389h22M1218 -389h45M-56 -399h11M1113 -399h11M1135 -399h11M1180 -399h22M-78 -410h11M200 -410h11M1186 -410h11M-55 -420h11M1115 -420h22M1192 -420h22M198 -430h11M1198 -430h33M-66 -440h11M197 -440h11M1203 -440h11M1236 -440h11M185 -450h11M-87 -460h11M162 -460h11M184 -460h11M151 -470h11M150 -480h21"/><path stroke="#ff0000" stroke-width="11.5" d="M1389 509h63M1505 509h11M1397 499h11M1418 499h53M1503 499h11M1416 490h11M1437 490h11M1523 490h11M1264 480h21M1424 480h21M1510 480h32M1270 470h22M1432 470h22M1529 470h22M1244 460h32M1288 460h11M1439 460h22M1526 460h32M1240 450h54M1458 450h11M1479 450h33M1523 450h44M1247 440h44M1509 440h33M1553 440h22M1253 430h33M1297 430h11M1506 430h55M1572 430h11M1457 420h11M1479 420h22M1512 420h77M1496 410h11M1519 410h22M1563 410h33M1503 399h56M1581 399h22M1509 389h56M1576 389h34M1022 379h11M1336 379h22M1504 379h11M1527 379h34M1352 369h23M1510 369h45M1611 369h11M1357 359h23M1515 359h45M1594 359h23M1361 349h23M1531 349h23M1622 349h11M1366 339h23M1502 339h11M1616 339h11M-434 329h11M1370 329h23M-470 319h11M1386 319h11M-505 308h34M-436 308h11M1390 308h11M-461 298h12M-473 288h23M1385 288h12M-451 278h23M301 278h12M474 278h12M1388 278h12M-464 268h23M441 268h46M-511 258h12M-488 258h35M-418 258h12M442 258h46M-524 248h12M-477 248h12M442 248h12M466 248h23M1373 248h12M-490 238h12M-455 238h12M315 238h12M443 238h47M1376 238h23M-479 228h12M315 228h12M467 228h12M1378 228h23M-515 217h12M-433 217h12M316 217h12M445 217h12M480 217h12M1392 217h12M-504 207h12M-480 207h12M-457 207h12M328 207h12M-469 197h12M340 197h12M446 197h35M1361 197h12M1385 197h12M-623 187h12M-564 187h24M-505 187h12M-482 187h12M447 187h12M-600 177h12M-577 177h12M-553 177h24M-506 177h12M447 177h12M-507 167h24M365 167h12M1344 167h12M-531 157h12M-484 157h12M366 157h12M-496 147h47M-473 137h35M378 137h12M1360 137h12M189 126h36M284 126h12M1338 126h36M-652 116h12M225 116h12M273 116h12M1339 116h12M1363 116h12M-475 106h12M178 106h12M214 106h12M-594 96h12M119 96h12M166 96h12M202 96h12M273 96h12M1401 96h12M-689 86h24M214 86h12M249 86h12M273 86h12M-701 76h59M214 76h12M261 76h12M998 76h24M1034 76h12M1438 76h12M-690 66h36M274 66h12M999 66h12M1023 66h12M1070 66h12M-690 56h24M-654 56h12M155 56h12M238 56h24M274 56h12M1071 56h12M-643 46h12M131 46h24M952 46h24M1000 46h12M1059 46h36M1166 46h12M1285 46h12M1309 46h12M95 35h48M238 35h12M952 35h12M1072 35h24M1119 35h24M1155 35h12M1274 35h24M-631 25h12M953 25h12M1119 25h24M1286 25h12M-643 15h36M-548 15h12M953 15h12M1048 15h12M1286 15h12M119 5h12M1275 5h24M83 -5h12M167 -5h12M191 -5h12M929 -5h12M1287 -5h12M1311 -5h24M83 -15h12M107 -15h12M131 -15h12M1286 -15h24M-679 -25h12M-631 -25h24M-572 -25h12M83 -25h12M143 -25h12M1227 -25h24M1286 -25h12M-679 -35h12M-655 -35h12M107 -35h12M143 -35h12M226 -35h12M1238 -35h12M1274 -35h36M-690 -46h24M143 -46h12M226 -46h12M1274 -46h71M214 -56h12M1261 -56h36M-737 -66h12M-642 -66h12M0 -66h12M36 -66h12M59 -66h24M1070 -66h12M1237 -66h12M-737 -76h12M-642 -76h12M36 -76h12M71 -76h24M1105 -76h48M-713 -86h12M24 -86h24M950 -86h12M1128 -86h24M-594 -96h12M-107 -96h12M-59 -96h12M712 -96h12M938 -96h12M1128 -96h12M-119 -106h47M712 -106h12M925 -106h12M-119 -116h36M711 -116h12M699 -126h24M1148 -126h12M698 -137h24M1159 -137h24M-874 -147h12M697 -147h24M898 -147h24M981 -147h12M1182 -147h12M-862 -157h12M696 -157h24M897 -157h12M980 -157h12M1003 -157h12M1086 -157h12M1157 -157h24M684 -167h24M872 -167h12M896 -167h12M1002 -167h24M1085 -167h35M-895 -177h24M-859 -177h12M-718 -177h59M871 -177h24M965 -177h12M1165 -177h24M-846 -187h24M-670 -187h71M893 -187h12M976 -187h35M1175 -187h12M-728 -197h12M-669 -197h35M-622 -197h23M681 -197h12M845 -197h23M962 -197h35M-785 -207h35M-727 -207h12M-680 -207h70M844 -207h23M961 -207h35M-913 -217h12M-889 -217h12M-842 -217h12M-761 -217h35M-667 -217h47M831 -217h23M878 -217h35M936 -217h47M-911 -228h12M-853 -228h23M-748 -228h12M-713 -228h70M-631 -228h12M841 -228h12M864 -228h23M934 -228h47M-781 -238h12M-711 -238h23M781 -238h12M816 -238h12M851 -238h58M933 -238h47M1014 -238h23M1084 -238h12M-803 -248h23M-768 -248h12M-745 -248h12M803 -248h12M850 -248h35M896 -248h12M931 -248h23M966 -248h12M989 -248h12M1013 -248h35M1059 -248h12M1082 -248h12M813 -258h12M837 -258h35M906 -258h12M930 -258h35M976 -258h12M1011 -258h35M1092 -258h12M823 -268h35M893 -268h58M1021 -268h23M1079 -268h12M-787 -278h12M833 -278h35M903 -278h23M984 -278h12M1007 -278h12M1030 -278h12M1122 -278h12M-900 -288h12M-796 -288h12M-762 -288h23M854 -288h12M1085 -288h12M1120 -288h12M-898 -298h12M-806 -298h12M-760 -298h23M875 -298h12M1048 -298h12M-896 -308h11M-873 -308h11M-850 -308h11M-746 -308h11M873 -308h11M953 -308h11M-882 -319h11M-848 -319h34M-790 -319h34M1031 -319h11M-845 -329h11M-822 -329h11M936 -329h11M1051 -329h11M1176 -329h11M-797 -339h11M-763 -339h23M945 -339h11M967 -339h11M1024 -339h23M1172 -339h11M-771 -349h11M930 -349h11M953 -349h11M1010 -349h11M1032 -349h11M1180 -349h11M-735 -359h11M1097 -359h11M1176 -359h11M1255 -359h11M924 -369h11M1149 -369h11M1194 -369h11M1217 -369h45M1235 -379h11M-78 -389h11M1129 -389h11M1207 -389h11M-89 -399h11M1124 -399h11M1202 -399h33M-89 -410h11M1097 -410h11M1142 -410h11M1197 -410h22M-88 -420h11M1137 -420h11M1214 -420h11M1231 -430h22M1214 -440h22M-76 -460h11"/><path stroke="#d22a2d" stroke-width="11.5" d="M-497 359h23M-514 329h11M-426 298h12M-427 288h12M-463 278h12M-428 278h12M-429 268h23M-442 258h12M454 248h12M-443 238h12M444 228h23M479 228h12M-503 217h12M468 217h12M445 207h47M458 187h12M-636 177h35M-648 167h83M448 167h24M1356 167h12M-661 157h130M449 157h35M-673 147h177M449 147h12M484 147h12M1347 147h24M-686 137h213M1348 137h12M-699 126h249M-711 116h59M-640 116h190M201 116h12M1351 116h12M-712 106h237M-463 106h12M119 106h12M142 106h12M190 106h12M1080 106h380M-712 96h119M-582 96h131M142 96h24M1045 96h356M1413 96h47M-725 86h36M-665 86h214M131 86h12M166 86h48M1010 86h463M-725 76h24M-642 76h190M143 76h24M178 76h12M975 76h24M1022 76h12M1046 76h392M1450 76h24M-725 66h36M-654 66h202M143 66h12M166 66h12M202 66h24M262 66h12M963 66h36M1011 66h12M1035 66h36M1082 66h404M-726 56h36M-666 56h12M-643 56h190M119 56h24M167 56h71M262 56h12M964 56h107M1083 56h405M-738 46h95M-631 46h179M107 46h24M155 46h83M250 46h36M976 46h24M1012 46h48M1095 46h71M1178 46h107M1297 46h12M1321 46h179M-738 35h286M155 35h83M250 35h36M964 35h107M1095 35h24M1143 35h12M1167 35h107M1298 35h202M-738 25h107M-619 25h167M95 25h191M941 25h12M965 25h155M1143 25h143M1298 25h214M-750 15h107M-608 15h60M-536 15h83M83 15h203M941 15h12M965 15h83M1060 15h226M1298 15h214M-751 5h286M83 5h36M131 5h155M929 5h346M1299 5h226M-763 -5h298M95 -5h24M131 -5h36M203 -5h83M941 -5h346M1299 -5h12M1334 -5h179M-762 -15h286M95 -15h12M119 -15h12M143 -15h131M917 -15h369M1310 -15h191M-762 -25h83M-667 -25h36M-607 -25h36M-560 -25h83M95 -25h48M155 -25h119M917 -25h310M1250 -25h36M1298 -25h191M-750 -35h71M-667 -35h12M-643 -35h155M119 -35h24M155 -35h71M238 -35h36M917 -35h321M1250 -35h24M1310 -35h167M-750 -46h60M-667 -46h179M83 -46h12M107 -46h36M155 -46h71M238 -46h36M905 -46h369M1345 -46h119M-750 -56h250M71 -56h24M119 -56h36M167 -56h48M226 -56h48M904 -56h357M1297 -56h155M-749 -66h12M-725 -66h83M-630 -66h107M892 -66h178M1082 -66h155M1249 -66h190M-772 -76h36M-725 -76h83M-630 -76h95M-24 -76h12M915 -76h190M1153 -76h273M-808 -86h95M-701 -86h143M-71 -86h12M-48 -86h12M-12 -86h24M903 -86h48M962 -86h166M1152 -86h261M-819 -96h226M-582 -96h12M-47 -96h24M950 -96h178M1140 -96h261M-830 -106h95M-712 -106h119M937 -106h12M961 -106h427M-841 -116h71M-699 -116h71M996 -116h379M-852 -126h71M-142 -126h12M1006 -126h142M1160 -126h201M-863 -137h83M-154 -137h12M911 -137h12M970 -137h12M1029 -137h130M1183 -137h166M-863 -147h71M969 -147h12M993 -147h24M1052 -147h130M1193 -147h142M-885 -157h24M-850 -157h59M885 -157h12M991 -157h12M1015 -157h24M1074 -157h12M1098 -157h59M1180 -157h142M-896 -167h94M884 -167h12M920 -167h12M1026 -167h12M1120 -167h189M-871 -177h12M-848 -177h47M895 -177h12M977 -177h59M1107 -177h59M1189 -177h106M-893 -187h47M-823 -187h12M-740 -187h71M858 -187h35M964 -187h12M1128 -187h47M1187 -187h94M-904 -197h94M-763 -197h35M-716 -197h47M-634 -197h12M892 -197h12M951 -197h12M1138 -197h129M-902 -207h82M-750 -207h23M-715 -207h35M891 -207h12M914 -207h12M1160 -207h94M-878 -217h35M-831 -217h12M-807 -217h47M-725 -217h59M-620 -217h12M854 -217h23M983 -217h23M1182 -217h59M-806 -228h58M-736 -228h23M-642 -228h12M818 -228h12M853 -228h12M888 -228h12M923 -228h12M981 -228h12M1191 -228h35M-805 -238h23M-770 -238h58M-688 -238h12M805 -238h12M828 -238h23M921 -238h12M979 -238h23M-780 -248h12M-757 -248h12M815 -248h12M920 -248h12M978 -248h12M-802 -258h12M825 -258h12M918 -258h12M964 -258h12M870 -268h12M-764 -278h23M868 -278h35M863 -298h12M-745 -319h11"/></g>
</g>
<use href="#lakep" fill="#fff"/>
<use href="#landp" fill="none" stroke="#000" stroke-width="0.8"/>
<use href="#lakep" fill="none" stroke="#000" stroke-width="0.8"/>
<use href="#lakeo" fill="none" stroke="#000" stroke-width="0.7"/>
<use href="#outl" fill="none" stroke="#6a6a6a" stroke-width="0.9"/>
</g>
<g transform="translate(525.0,220.4)">
<g clip-path="url(#landc)"><rect x="-180" y="-90" width="360" height="180" fill="#3c5ad8"/>
<g transform="scale(.1)" shape-rendering="crispEdges"><path stroke="#1e96ff" stroke-width="9.5" d="M161 -741h8"/><path stroke="#1e96ff" stroke-width="10" d="M-1127 -698h9M-1100 -698h9M-1038 -698h9M81 -698h9M107 -698h27M152 -698h9M170 -698h27M206 -698h9M71 -706h27M159 -706h9M186 -706h9M79 -715h9M131 -715h18M166 -715h9M87 -724h9M156 -724h9M182 -724h9M86 -732h9M103 -732h9M154 -732h17"/><path stroke="#1e96ff" stroke-width="10.5" d="M-957 -644h9M-900 -644h19M47 -644h19M104 -644h38M246 -644h9M294 -644h19M341 -644h19M369 -644h9M426 -644h9M445 -644h9M474 -644h9M521 -644h9M559 -644h19M587 -644h9M796 -644h28M834 -644h9M853 -644h9M-995 -653h9M-948 -653h9M-929 -653h9M56 -653h9M113 -653h28M244 -653h9M300 -653h28M347 -653h28M385 -653h9M422 -653h9M441 -653h19M516 -653h9M554 -653h9M573 -653h19M666 -653h9M713 -653h19M779 -653h9M835 -653h19M-1153 -662h19M-1125 -662h28M-1079 -662h56M56 -662h19M84 -662h19M121 -662h9M149 -662h9M177 -662h9M232 -662h28M270 -662h9M316 -662h9M344 -662h19M391 -662h19M428 -662h19M511 -662h9M530 -662h9M558 -662h9M614 -662h19M660 -662h19M697 -662h19M725 -662h9M744 -662h19M781 -662h19M-1142 -671h9M-1124 -671h9M-1050 -671h28M83 -671h9M101 -671h9M120 -671h9M147 -671h9M175 -671h9M240 -671h46M313 -671h83M626 -671h55M700 -671h9M728 -671h18M-1132 -680h9M-1086 -680h9M-1040 -680h18M91 -680h18M119 -680h9M155 -680h18M183 -680h9M246 -680h37M310 -680h91M484 -680h9M621 -680h27M-1157 -689h9M-1121 -689h27M-1039 -689h9M72 -689h18M99 -689h27M136 -689h9M154 -689h9M172 -689h18M244 -689h9M316 -689h18M352 -689h36M398 -689h27"/><path stroke="#1e96ff" stroke-width="11" d="M-583 597h20M-568 587h10M-602 578h10M-576 568h10M-611 558h10M-580 558h10M-605 549h10M-574 549h10M-620 539h10M-599 539h31M-692 -539h124M-21 -539h10M21 -539h10M72 -539h41M134 -539h10M155 -539h41M217 -539h62M310 -539h31M351 -539h10M434 -539h21M465 -539h21M506 -539h52M630 -539h41M682 -539h21M775 -539h31M857 -539h21M961 -539h10M981 -539h21M1023 -539h31M1085 -539h10M1126 -539h21M-1056 -549h21M-790 -549h21M-687 -549h72M72 -549h41M164 -549h41M236 -549h41M410 -549h10M431 -549h10M462 -549h31M503 -549h31M605 -549h21M646 -549h21M769 -549h41M851 -549h21M974 -549h10M995 -549h10M1015 -549h41M1108 -549h10M-1039 -558h10M-906 -558h20M-815 -558h10M-794 -558h31M51 -558h61M204 -558h31M244 -558h20M458 -558h31M499 -558h20M621 -558h10M774 -558h10M794 -558h10M855 -558h20M957 -558h41M1049 -558h20M1120 -558h10M-910 -568h10M-890 -568h10M-829 -568h71M-748 -568h10M30 -568h10M51 -568h61M192 -568h10M243 -568h10M283 -568h10M455 -568h40M596 -568h20M839 -568h30M960 -568h10M981 -568h10M1001 -568h10M1051 -568h20M1112 -568h20M-1064 -578h10M-1034 -578h10M-903 -578h10M-813 -578h20M-773 -578h10M30 -578h80M201 -578h70M442 -578h70M602 -578h20M723 -578h10M763 -578h20M843 -578h30M953 -578h30M1034 -578h30M1094 -578h30M-1046 -587h10M-907 -587h20M30 -587h40M90 -587h20M149 -587h20M209 -587h50M289 -587h10M359 -587h10M428 -587h90M548 -587h20M588 -587h30M628 -587h10M677 -587h20M747 -587h30M827 -587h60M-1048 -597h10M-889 -597h10M30 -597h49M138 -597h40M188 -597h89M287 -597h30M356 -597h20M405 -597h30M445 -597h10M464 -597h40M524 -597h10M553 -597h20M583 -597h10M603 -597h20M642 -597h10M672 -597h30M712 -597h20M741 -597h10M791 -597h10M820 -597h59M-1059 -606h29M-892 -606h10M59 -606h10M88 -606h10M127 -606h108M245 -606h29M284 -606h78M372 -606h10M392 -606h39M470 -606h39M539 -606h29M598 -606h29M647 -606h10M696 -606h49M765 -606h98M872 -606h20M-1030 -616h10M-991 -616h10M-953 -616h10M-904 -616h10M-875 -616h10M58 -616h19M136 -616h146M301 -616h29M340 -616h29M379 -616h49M467 -616h10M505 -616h19M535 -616h19M603 -616h19M632 -616h10M651 -616h19M700 -616h10M778 -616h68M875 -616h10M-993 -625h19M-935 -625h29M-887 -625h19M67 -625h39M145 -625h19M173 -625h19M231 -625h58M299 -625h29M347 -625h19M376 -625h48M443 -625h10M463 -625h19M501 -625h29M578 -625h19M607 -625h19M655 -625h10M752 -625h10M781 -625h10M800 -625h10M819 -625h10M839 -625h19M-965 -634h29M-918 -634h19M-889 -634h19M48 -634h38M96 -634h10M124 -634h19M191 -634h19M296 -634h29M335 -634h10M411 -634h57M487 -634h29M554 -634h10M583 -634h10M602 -634h19M650 -634h10M793 -634h29M831 -634h29"/><path stroke="#1e96ff" stroke-width="11.5" d="M-582 529h10M-596 519h10M-575 519h10M-589 509h11M-603 499h11M-582 499h11M-650 490h11M-607 490h11M-586 490h11M-653 480h21M-621 480h11M-589 480h21M-635 470h11M-614 470h11M-581 470h11M-606 460h22M-574 460h11M-620 450h11M-598 450h33M-612 440h55M-615 430h22M-618 420h11M-585 420h22M-552 420h11M-621 410h22M-543 410h11M-646 399h22M-579 399h45M-648 389h11M-626 389h34M-570 389h11M-537 389h22M-662 379h22M-629 379h56M-561 379h56M1044 379h11M1347 379h11M-653 369h11M-631 369h124M158 369h45M248 369h11M1025 369h11M-667 359h11M-633 359h11M-610 359h34M-565 359h57M158 359h45M226 359h11M1029 359h11M-669 349h11M-624 349h23M-590 349h34M-544 349h23M147 349h45M238 349h23M272 349h11M-672 339h11M-592 339h34M-546 339h11M148 339h23M205 339h11M228 339h23M262 339h23M-640 329h11M-617 329h34M-571 329h34M-525 329h11M171 329h11M228 329h11M263 329h34M-664 319h11M-630 319h103M-515 319h11M252 319h46M-632 308h34M-586 308h46M218 308h11M241 308h11M264 308h23M-645 298h12M-599 298h92M173 298h12M219 298h69M1036 298h12M-635 288h46M-577 288h46M196 288h12M219 288h23M312 288h12M1039 288h23M-613 278h23M-579 278h35M-532 278h12M127 278h12M208 278h12M255 278h12M278 278h12M312 278h12M405 278h12M463 278h12M1041 278h46M1400 278h12M-615 268h93M220 268h35M278 268h12M313 268h12M1055 268h35M1229 268h12M1253 268h12M1403 268h12M-662 258h105M-546 258h23M116 258h12M186 258h12M209 258h35M279 258h12M314 258h23M1046 258h12M1266 258h12M1406 258h12M-675 248h23M-640 248h12M-605 248h81M210 248h23M279 248h12M1048 248h23M1094 248h12M1187 248h23M-653 238h23M-618 238h82M117 238h35M175 238h23M210 238h23M245 238h23M326 238h12M1049 238h12M1166 238h12M1248 238h12M-677 228h35M-631 228h93M128 228h47M187 228h12M222 228h35M280 228h23M1133 228h12M1191 228h12M1215 228h12M1343 228h23M1402 228h12M-644 217h35M-597 217h35M-538 217h12M105 217h82M199 217h59M328 217h23M421 217h12M1088 217h12M1123 217h12M1147 217h70M1229 217h35M1311 217h12M1334 217h12M1404 217h23M-680 207h23M-598 207h23M-551 207h12M-434 207h12M105 207h152M316 207h12M340 207h12M1055 207h12M1102 207h82M1195 207h70M1313 207h23M1395 207h35M-634 197h12M-575 197h12M-469 197h12M-423 197h12M106 197h70M200 197h82M305 197h35M1056 197h12M1103 197h117M1232 197h23M1350 197h12M1397 197h35M-611 187h12M-588 187h12M-435 187h12M-400 187h24M106 187h12M141 187h12M165 187h12M212 187h47M270 187h12M317 187h47M423 187h12M1058 187h24M1093 187h12M1117 187h59M1187 187h59M1305 187h12M1387 187h24M1422 187h12M-600 177h24M-541 177h12M-388 177h12M165 177h47M247 177h24M306 177h12M341 177h12M424 177h12M1059 177h12M1095 177h47M1177 177h59M1260 177h35M1342 177h12M1377 177h35M1424 177h24M-542 167h12M-424 167h12M-389 167h24M141 167h24M236 167h12M271 167h24M354 167h12M413 167h12M1085 167h35M1167 167h71M1250 167h47M1379 167h47M1438 167h12M-531 157h12M-437 157h47M-378 157h24M130 157h12M153 157h12M177 157h12M224 157h24M260 157h59M413 157h24M1074 157h35M1157 157h47M1239 157h71M1322 157h24M1369 157h83M-449 147h12M-425 147h35M-366 147h12M201 147h12M224 147h12M248 147h24M284 147h35M414 147h24M1075 147h35M1122 147h12M1170 147h47M1229 147h12M1252 147h59M1371 147h35M1430 147h12M-733 137h35M-449 137h12M-402 137h12M-378 137h24M166 137h12M237 137h35M284 137h35M331 137h12M355 137h12M1064 137h24M1100 137h24M1135 137h12M1171 137h47M1230 137h59M1301 137h12M1325 137h12M1443 137h12M-426 126h36M-367 126h12M213 126h36M284 126h12M1066 126h59M1172 126h59M1255 126h59M1385 126h12M-723 116h12M-427 116h12M142 116h24M225 116h12M284 116h12M1067 116h47M1161 116h12M1197 116h12M1256 116h59M1399 116h12M1434 116h12M-736 106h24M-439 106h24M-403 106h12M-380 106h36M130 106h24M237 106h24M297 106h59M-724 96h12M-439 96h59M214 96h47M356 96h24M-439 86h83M-344 86h12M214 86h36M356 86h24M-440 76h107M178 76h24M226 76h24M309 76h12M-428 66h48M-357 66h12M178 66h24M238 66h12M309 66h12M357 66h12M-428 56h24M-393 56h12M-357 56h12M262 56h12M297 56h24M357 56h36M-762 46h12M-440 46h12M-417 46h12M-393 46h71M309 46h12M357 46h24M-441 35h12M-405 35h36M286 35h24M357 35h24M-774 25h12M-453 25h24M286 25h12M333 25h12M357 25h12M286 15h12M310 15h12M345 15h12M369 15h36M-763 5h12M322 5h24M369 5h36M-774 -5h12M322 -5h36M381 -5h24M-774 -15h12M274 -15h12M298 -15h12M322 -15h48M381 -15h24M274 -25h12M298 -25h24M357 -25h12M381 -25h24M274 -35h36M333 -35h12M369 -35h12M393 -35h24M286 -46h12M333 -46h12M357 -46h36M321 -56h24M381 -56h12M95 -66h12M178 -66h59M250 -66h12M274 -66h12M321 -66h36M369 -66h24M-71 -76h12M178 -76h12M214 -76h48M273 -76h12M321 -76h48M404 -76h12M190 -86h71M321 -86h71M404 -86h12M725 -86h12M131 -96h12M214 -96h71M320 -96h59M724 -96h12M-154 -106h24M-47 -106h12M-12 -106h12M71 -106h12M95 -106h12M130 -106h12M202 -106h47M273 -106h12M332 -106h36M403 -106h12M724 -106h24M-166 -116h24M-59 -116h12M-36 -116h12M-12 -116h12M24 -116h12M95 -116h12M190 -116h59M284 -116h12M320 -116h47M391 -116h12M415 -116h12M723 -116h24M-166 -126h12M-95 -126h12M-47 -126h24M59 -126h47M178 -126h71M260 -126h36M320 -126h12M343 -126h24M403 -126h12M734 -126h12M947 -126h12M971 -126h12M-166 -137h12M-95 -137h12M-71 -137h35M-24 -137h12M0 -137h12M71 -137h47M166 -137h83M260 -137h95M721 -137h35M-154 -147h24M-118 -147h12M-83 -147h35M-35 -147h12M-12 -147h24M24 -147h12M47 -147h24M83 -147h35M130 -147h12M177 -147h106M295 -147h71M733 -147h24M945 -147h12M-165 -157h35M-47 -157h12M-24 -157h12M24 -157h12M71 -157h59M142 -157h12M177 -157h12M201 -157h83M307 -157h24M744 -157h24M956 -157h12M-920 -167h12M-153 -167h24M-106 -167h12M12 -167h35M71 -167h106M200 -167h35M248 -167h12M719 -167h12M743 -167h24M943 -167h12M1026 -167h12M-24 -177h12M12 -177h12M47 -177h12M71 -177h24M129 -177h35M753 -177h24M906 -177h12M-929 -187h24M670 -187h12M729 -187h12M764 -187h35M964 -187h47M-927 -197h12M775 -197h12M798 -197h12M-926 -207h12M668 -207h35M715 -207h12M785 -207h35M-1018 -217h23M-983 -217h12M-936 -217h12M-901 -217h23M655 -217h70M772 -217h12M-1016 -228h23M-969 -228h23M654 -228h23M701 -228h35M771 -228h12M-968 -238h12M641 -238h23M723 -238h47M-1024 -248h12M-1001 -248h12M-966 -248h12M640 -248h23M675 -248h12M722 -248h81M-1022 -258h35M-976 -258h12M651 -258h12M709 -258h46M918 -258h12M-951 -268h12M626 -268h46M684 -268h12M707 -268h12M742 -268h23M777 -268h12M812 -268h12M-1030 -278h23M-995 -278h12M-972 -278h12M-949 -278h35M636 -278h12M671 -278h23M741 -278h12M926 -278h12M-1027 -288h23M-969 -288h12M-923 -288h12M773 -288h23M900 -288h12M923 -288h12M-1025 -298h23M-956 -298h12M-933 -298h23M806 -298h35M886 -298h12M909 -298h23M655 -308h46M792 -308h80M-1019 -319h23M-928 -319h11M584 -319h23M641 -319h69M767 -319h57M836 -319h11M859 -319h34M-1016 -329h11M-982 -329h11M537 -329h11M560 -329h11M628 -329h23M662 -329h34M765 -329h23M811 -329h23M-1013 -339h11M444 -339h34M501 -339h11M660 -339h23M694 -339h34M774 -339h11M808 -339h34M-998 -349h23M408 -349h11M454 -349h11M476 -349h23M613 -349h11M635 -349h34M692 -349h57M794 -349h23M1066 -349h45M-870 -359h45M-791 -359h11M-769 -359h11M-712 -359h34M373 -359h11M418 -359h11M441 -359h11M463 -359h23M497 -359h34M577 -359h23M656 -359h11M735 -359h11M1097 -359h11M1176 -359h23M-901 -369h11M-856 -369h34M-811 -369h11M-789 -369h11M-744 -369h11M-721 -369h11M-698 -369h23M361 -369h34M417 -369h11M462 -369h11M484 -369h45M586 -369h45M698 -369h23M1070 -369h11M1093 -369h11M1160 -369h11M-898 -379h11M-864 -379h34M-797 -379h11M-741 -379h11M-718 -379h11M-696 -379h11M348 -379h45M404 -379h22M494 -379h34M573 -379h34M629 -379h11M1089 -379h11M1179 -379h11M1212 -379h11M-850 -389h11M-827 -389h11M-794 -389h11M-760 -389h22M-727 -389h11M-693 -389h11M-56 -389h22M302 -389h11M347 -389h22M380 -389h45M458 -389h22M514 -389h11M581 -389h22M1096 -389h11M-891 -399h33M-846 -399h22M-813 -399h22M-757 -399h11M-712 -399h11M-690 -399h11M-67 -399h11M-33 -399h11M267 -399h11M301 -399h33M378 -399h45M445 -399h11M523 -399h11M1058 -399h11M1080 -399h22M-898 -410h33M-854 -410h67M-743 -410h11M-720 -410h22M22 -410h11M55 -410h11M211 -410h22M266 -410h78M355 -410h22M388 -410h44M1009 -410h11M1042 -410h11M1075 -410h22M1108 -410h11M-894 -420h44M-784 -420h11M-740 -420h22M-706 -420h11M22 -420h22M210 -420h11M265 -420h44M331 -420h11M375 -420h11M397 -420h11M971 -420h22M1060 -420h11M1082 -420h11M-890 -430h22M-791 -430h11M-769 -430h11M-736 -430h22M-692 -430h11M-33 -430h22M22 -430h11M77 -430h44M209 -430h22M264 -430h55M967 -430h44M1044 -430h77M1132 -430h11M-1115 -440h22M-875 -440h22M-755 -440h33M-98 -440h11M-77 -440h11M-55 -440h33M-11 -440h33M66 -440h77M219 -440h11M273 -440h44M339 -440h11M973 -440h22M1050 -440h66M1137 -440h11M-1110 -450h11M-805 -450h11M-783 -450h11M-761 -450h11M-740 -450h11M-696 -450h33M-620 -450h11M-566 -450h11M-11 -450h22M44 -450h44M98 -450h22M174 -450h11M272 -450h44M1066 -450h33M1110 -450h11M1142 -450h22M1218 -450h22M1251 -450h33M-801 -460h32M-725 -460h54M-606 -460h11M-76 -460h11M-43 -460h11M-22 -460h32M54 -460h76M173 -460h11M195 -460h11M963 -460h11M1028 -460h11M1050 -460h11M1071 -460h43M1125 -460h32M1201 -460h43M1255 -460h22M-1076 -470h11M-797 -470h11M-732 -470h11M-710 -470h54M-624 -470h11M-603 -470h11M-54 -470h65M75 -470h54M140 -470h11M958 -470h11M990 -470h32M1066 -470h54M1195 -470h43M1249 -470h22M-1092 -480h11M-792 -480h11M-771 -480h32M-707 -480h64M-43 -480h64M75 -480h32M128 -480h11M182 -480h107M964 -480h11M1017 -480h21M1049 -480h11M1071 -480h11M1103 -480h21M1135 -480h32M1189 -480h21M1221 -480h11M1242 -480h21M-777 -490h96M-671 -490h21M-639 -490h11M-586 -490h21M-32 -490h64M128 -490h11M160 -490h128M298 -490h21M330 -490h43M1001 -490h32M1044 -490h21M1086 -490h11M1139 -490h21M1182 -490h32M1225 -490h32M-773 -499h32M-709 -499h21M-646 -499h32M-582 -499h21M-53 -499h85M64 -499h11M85 -499h32M148 -499h21M180 -499h95M307 -499h42M445 -499h11M466 -499h21M984 -499h21M1016 -499h21M1048 -499h42M1143 -499h21M-1052 -509h11M-747 -509h11M-726 -509h11M-705 -509h21M-631 -509h21M-63 -509h11M-21 -509h53M42 -509h11M63 -509h63M158 -509h42M221 -509h32M305 -509h11M326 -509h21M442 -509h21M473 -509h116M957 -509h21M1042 -509h32M1105 -509h32M-732 -519h10M-711 -519h10M-690 -519h10M-669 -519h21M-638 -519h10M-586 -519h10M-21 -519h52M84 -519h42M146 -519h52M230 -519h10M293 -519h10M314 -519h52M439 -519h52M523 -519h52M586 -519h94M690 -519h21M722 -519h10M962 -519h21M1035 -519h52M1109 -519h31M-728 -529h10M-696 -529h73M-613 -529h10M-21 -529h21M10 -529h21M73 -529h10M94 -529h10M146 -529h21M177 -529h21M229 -529h31M291 -529h10M312 -529h52M437 -529h52M520 -529h42M624 -529h73M707 -529h10M780 -529h31M884 -529h10M967 -529h10M1029 -529h31M1112 -529h21"/><path stroke="#55c3f5" stroke-width="10" d="M-1145 -698h18M-1109 -698h9M-1091 -698h9M-1074 -698h9M72 -698h9M134 -698h18M161 -698h9M168 -706h18M195 -706h9M184 -715h9M78 -724h9M165 -724h17M172 -732h9"/><path stroke="#55c3f5" stroke-width="10.5" d="M-995 -644h9M-919 -644h19M189 -644h19M237 -644h9M284 -644h9M322 -644h19M360 -644h9M388 -644h9M407 -644h19M455 -644h19M483 -644h38M578 -644h9M701 -644h38M777 -644h19M824 -644h9M862 -644h9M-986 -653h9M-957 -653h9M197 -653h9M216 -653h9M235 -653h9M272 -653h9M291 -653h9M329 -653h19M375 -653h9M394 -653h28M507 -653h9M563 -653h9M610 -653h19M638 -653h9M657 -653h9M695 -653h19M742 -653h9M770 -653h9M798 -653h28M-1097 -662h19M130 -662h19M186 -662h19M260 -662h9M279 -662h19M307 -662h9M325 -662h19M363 -662h28M567 -662h9M595 -662h19M632 -662h9M651 -662h9M679 -662h9M716 -662h9M735 -662h9M772 -662h9M-1133 -671h9M-1078 -671h9M129 -671h18M157 -671h18M184 -671h28M396 -671h9M415 -671h9M461 -671h18M488 -671h9M516 -671h18M544 -671h18M571 -671h9M617 -671h9M709 -671h18M128 -680h27M173 -680h9M192 -680h18M237 -680h9M456 -680h27M557 -680h18M602 -680h18M657 -680h9M-1139 -689h9M127 -689h9M145 -689h9M163 -689h9M190 -689h18M262 -689h18M334 -689h18M389 -689h9M452 -689h27M488 -689h9"/><path stroke="#55c3f5" stroke-width="11" d="M-563 597h10M-621 558h10M-615 549h10M-630 539h10M-806 -539h31M-713 -539h10M-568 -539h10M-31 -539h10M-10 -539h21M62 -539h10M114 -539h21M145 -539h10M196 -539h21M279 -539h31M341 -539h10M424 -539h10M558 -539h10M609 -539h21M671 -539h10M702 -539h21M754 -539h21M806 -539h10M878 -539h10M1105 -539h21M-862 -549h10M-810 -549h21M-769 -549h10M-697 -549h10M-21 -549h10M31 -549h10M51 -549h21M144 -549h21M205 -549h31M318 -549h10M349 -549h31M441 -549h21M554 -549h10M626 -549h21M841 -549h10M872 -549h10M1056 -549h21M-886 -558h20M-835 -558h20M-804 -558h10M-764 -558h20M-672 -558h10M112 -558h10M173 -558h20M234 -558h10M265 -558h20M305 -558h10M356 -558h10M438 -558h10M489 -558h10M519 -558h10M601 -558h20M631 -558h10M652 -558h10M733 -558h10M764 -558h10M784 -558h10M845 -558h10M876 -558h10M1018 -558h10M-1031 -568h10M-900 -568h10M-880 -568h10M-758 -568h10M0 -568h10M20 -568h10M40 -568h10M233 -568h10M263 -568h10M293 -568h20M425 -568h10M495 -568h10M546 -568h10M708 -568h10M748 -568h30M829 -568h10M1041 -568h10M1072 -568h10M-1024 -578h10M-893 -578h40M-823 -578h10M-793 -578h20M10 -578h20M151 -578h10M171 -578h20M311 -578h10M532 -578h10M552 -578h10M592 -578h10M622 -578h10M692 -578h30M753 -578h10M833 -578h10M873 -578h10M1024 -578h10M-986 -587h10M-966 -587h20M-927 -587h20M-887 -587h20M-857 -587h10M-837 -587h10M20 -587h10M70 -587h20M110 -587h10M189 -587h20M259 -587h10M279 -587h10M299 -587h20M418 -587h10M538 -587h10M568 -587h10M618 -587h10M697 -587h40M777 -587h10M-919 -597h20M-880 -597h10M-860 -597h10M79 -597h40M178 -597h10M277 -597h10M316 -597h40M376 -597h30M435 -597h10M455 -597h10M504 -597h10M534 -597h20M573 -597h10M593 -597h10M623 -597h20M652 -597h20M702 -597h10M751 -597h40M800 -597h10M-1010 -606h20M-961 -606h20M-882 -606h10M39 -606h20M69 -606h20M235 -606h10M274 -606h10M363 -606h10M382 -606h10M431 -606h10M451 -606h20M510 -606h10M588 -606h10M637 -606h10M657 -606h20M686 -606h10M-1069 -616h10M-1050 -616h19M-962 -616h10M-933 -616h10M-885 -616h10M78 -616h58M282 -616h19M330 -616h10M369 -616h10M437 -616h29M476 -616h29M525 -616h10M573 -616h10M593 -616h10M622 -616h10M671 -616h10M719 -616h19M748 -616h29M846 -616h10M865 -616h10M-974 -625h10M-954 -625h10M-906 -625h10M106 -625h39M193 -625h39M289 -625h10M337 -625h10M424 -625h19M453 -625h10M482 -625h19M530 -625h10M569 -625h10M598 -625h10M627 -625h29M665 -625h10M713 -625h10M761 -625h19M790 -625h10M867 -625h19M-994 -634h29M-937 -634h19M105 -634h19M182 -634h10M220 -634h10M248 -634h19M325 -634h10M354 -634h10M373 -634h10M392 -634h10M468 -634h19M573 -634h10M621 -634h10M640 -634h10M726 -634h10M755 -634h10M822 -634h10M860 -634h10"/><path stroke="#55c3f5" stroke-width="11.5" d="M-593 529h10M-600 509h11M-624 470h11M-603 470h11M-638 460h11M-617 460h11M-609 450h11M-593 430h11M-561 430h11M-563 420h11M-643 410h11M-599 410h11M-657 399h11M-623 399h33M1022 379h11M203 369h11M259 369h11M1048 369h11M-622 359h11M-577 359h11M203 359h11M260 359h11M-635 349h11M-601 349h11M-556 349h11M-522 349h11M193 349h11M227 349h11M261 349h11M-637 339h46M250 339h11M-628 329h11M-641 319h11M137 319h23M172 319h11M-597 308h11M-540 308h11M-517 308h11M138 308h11M172 308h11M230 308h11M287 308h11M-622 298h23M-589 288h12M-531 288h12M150 288h12M242 288h12M277 288h12M-648 278h23M-590 278h12M-544 278h12M197 278h12M220 278h23M266 278h12M417 278h23M1388 278h12M-650 268h12M197 268h23M1044 268h12M1241 268h12M-558 258h12M163 258h23M198 258h12M256 258h12M1057 258h12M1232 258h23M1394 258h12M-652 248h12M-617 248h12M151 248h23M244 248h12M1257 248h12M-630 238h12M152 238h12M198 238h12M233 238h12M1084 238h12M1259 238h35M-642 228h12M199 228h12M257 228h12M1051 228h12M1075 228h12M1145 228h23M1203 228h12M1273 228h12M1308 228h12M1332 228h12M-679 217h23M-608 217h12M-562 217h23M1077 217h12M1100 217h23M1135 217h12M1217 217h12M1264 217h12M1322 217h12M1346 217h23M-633 207h35M410 207h23M1066 207h12M1184 207h12M411 197h35M1091 197h12M1256 197h12M1314 197h23M118 187h12M153 187h12M259 187h12M306 187h12M435 187h12M1105 187h12M1175 187h12M1246 187h24M1281 187h12M1410 187h12M-436 177h12M-377 177h12M224 177h24M294 177h12M318 177h24M353 177h12M1071 177h12M1142 177h35M1236 177h24M1354 177h12M1413 177h12M-413 167h12M-365 167h12M248 167h12M1073 167h12M1120 167h35M1238 167h12M1297 167h24M1426 167h12M-390 157h12M330 157h12M1110 157h12M1204 157h12M1228 157h12M-437 147h12M-390 147h12M118 147h12M165 147h12M343 147h12M1111 147h12M1146 147h12M1217 147h12M1241 147h12M1323 147h24M1406 147h24M1442 147h12M-698 137h12M-438 137h12M154 137h12M177 137h59M343 137h12M367 137h12M1124 137h12M1218 137h12M1372 137h12M-722 126h24M260 126h12M296 126h12M1160 126h12M-415 116h12M-367 116h24M1114 116h12M1185 116h12M1244 116h12M1316 116h12M1410 116h12M154 106h12M225 106h12M261 106h12M-380 96h12M142 96h12M320 96h24M-356 86h12M166 86h12M202 86h12M249 86h12M214 76h12M285 76h12M368 76h12M-440 66h12M-381 66h24M369 66h12M-440 56h12M-405 56h12M-381 56h24M286 56h12M-405 46h12M321 46h12M345 46h12M-774 35h36M-417 35h12M-762 25h12M298 25h12M369 25h24M298 15h12M357 5h12M286 -5h12M369 -5h12M286 -15h12M369 -15h12M286 -25h12M369 -25h12M274 -46h12M405 -56h12M107 -66h24M238 -66h12M309 -66h12M357 -66h12M190 -76h12M297 -76h12M368 -76h12M261 -86h24M392 -86h12M0 -96h12M392 -96h12M-130 -106h12M-24 -106h12M0 -106h12M190 -106h12M261 -106h12M320 -106h12M368 -106h12M-142 -116h12M-24 -116h12M0 -116h12M71 -116h24M178 -116h12M249 -116h36M296 -116h24M367 -116h12M-154 -126h12M-118 -126h12M-24 -126h12M107 -126h12M367 -126h12M722 -126h12M959 -126h12M-106 -137h12M-83 -137h12M-35 -137h12M-12 -137h12M248 -137h12M-24 -147h12M71 -147h12M142 -147h12M366 -147h12M-83 -157h12M12 -157h12M35 -157h12M59 -157h12M130 -157h12M153 -157h12M189 -157h12M47 -167h24M177 -167h12M-918 -177h12M24 -177h12M59 -177h12M94 -177h35M165 -177h12M742 -177h12M705 -187h12M1023 -187h12M669 -197h12M716 -197h12M703 -207h12M-993 -228h23M-888 -228h12M689 -228h12M783 -228h12M-1026 -238h58M665 -238h12M711 -238h12M-1013 -248h12M-989 -248h23M931 -248h12M-988 -258h12M627 -258h12M662 -258h23M755 -258h12M790 -258h23M930 -258h12M673 -268h12M719 -268h23M928 -268h23M625 -278h12M648 -278h23M764 -278h23M783 -298h23M769 -308h11M722 -319h23M825 -319h11M-1005 -329h23M525 -329h11M548 -329h11M788 -329h23M834 -329h11M857 -329h11M-1002 -339h23M478 -339h11M546 -339h23M626 -339h11M728 -339h23M763 -339h11M785 -339h23M-1010 -349h11M442 -349h11M510 -349h23M579 -349h11M601 -349h11M624 -349h11M749 -349h23M1180 -349h11M-882 -359h11M384 -359h11M531 -359h11M565 -359h11M599 -359h11M690 -359h11M724 -359h11M-710 -369h11M-34 -369h23M90 -369h11M338 -369h23M530 -369h11M575 -369h11M-831 -379h11M-786 -379h11M-707 -379h11M-56 -379h11M-34 -379h11M45 -379h34M483 -379h11M528 -379h22M-894 -389h11M-838 -389h11M-738 -389h11M-22 -389h11M22 -389h22M67 -389h11M313 -389h22M425 -389h11M492 -389h11M537 -389h11M604 -389h22M-824 -399h11M-779 -399h11M67 -399h11M334 -399h22M501 -399h11M534 -399h11M1013 -399h11M1069 -399h11M11 -410h11M33 -410h11M200 -410h11M1064 -410h11M0 -420h22M55 -420h11M77 -420h11M309 -420h22M993 -420h11M1049 -420h11M1071 -420h11M1104 -420h11M-868 -430h11M-758 -430h22M-44 -430h11M11 -430h11M33 -430h11M66 -430h11M198 -430h11M319 -430h11M352 -430h11M-897 -440h22M-853 -440h11M-711 -440h11M-689 -440h11M-66 -440h11M22 -440h11M55 -440h11M142 -440h11M197 -440h11M317 -440h11M1126 -440h11M1148 -440h11M1225 -440h11M-794 -450h11M-718 -450h22M-642 -450h11M-587 -450h11M-76 -450h11M-54 -450h22M11 -450h11M33 -450h11M87 -450h11M120 -450h22M152 -450h22M968 -450h11M1033 -450h22M1131 -450h11M1240 -450h11M-1104 -460h11M-563 -460h11M-54 -460h11M11 -460h11M43 -460h11M130 -460h22M974 -460h11M1115 -460h11M1244 -460h11M-786 -470h32M-571 -470h11M11 -470h11M129 -470h11M205 -470h11M969 -470h11M1120 -470h32M1238 -470h11M-717 -480h11M-64 -480h21M54 -480h11M118 -480h11M150 -480h11M171 -480h11M1007 -480h11M1060 -480h11M1082 -480h21M1124 -480h11M1231 -480h11M-788 -490h11M-681 -490h11M-650 -490h11M-628 -490h21M-75 -490h43M53 -490h43M319 -490h11M1033 -490h11M1097 -490h11M-720 -499h11M-614 -499h11M32 -499h32M169 -499h11M275 -499h32M349 -499h21M402 -499h11M423 -499h11M455 -499h11M1006 -499h11M1101 -499h11M1133 -499h11M-737 -509h11M-715 -509h11M-642 -509h11M-610 -509h11M-558 -509h11M-42 -509h21M32 -509h11M147 -509h11M200 -509h21M274 -509h11M295 -509h11M316 -509h11M347 -509h11M389 -509h32M463 -509h11M979 -509h11M1010 -509h11M1073 -509h21M1136 -509h11M-722 -519h10M-701 -519h10M-628 -519h21M-52 -519h31M31 -519h10M52 -519h31M136 -519h10M199 -519h31M241 -519h31M303 -519h10M397 -519h10M429 -519h10M492 -519h31M680 -519h10M711 -519h10M983 -519h10M1004 -519h10M1025 -519h10M1140 -519h10M-717 -529h10M-624 -529h10M-42 -529h10M62 -529h10M83 -529h10M104 -529h21M166 -529h10M198 -529h31M260 -529h21M301 -529h10M364 -529h10M385 -529h10M426 -529h10M489 -529h21M572 -529h10M613 -529h10M696 -529h10M728 -529h10M748 -529h21M811 -529h10M863 -529h10"/><path stroke="#c8e6f8" stroke-width="10.5" d="M-985 -644h28M-928 -644h9M208 -644h9M256 -644h9M275 -644h9M313 -644h9M398 -644h9M597 -644h76M739 -644h38M872 -644h9M-976 -653h19M188 -653h9M253 -653h19M282 -653h9M460 -653h47M591 -653h19M629 -653h9M648 -653h9M732 -653h9M751 -653h19M298 -662h9M409 -662h19M446 -662h65M577 -662h19M642 -662h9M688 -662h9M763 -662h9M-1105 -671h9M304 -671h9M405 -671h9M424 -671h37M479 -671h9M497 -671h18M534 -671h9M562 -671h9M580 -671h37M682 -671h18M-1095 -680h9M283 -680h9M301 -680h9M402 -680h55M493 -680h64M575 -680h27M-1094 -689h9M-1066 -689h9M235 -689h9M253 -689h9M298 -689h18M425 -689h27M479 -689h9"/><path stroke="#c8e6f8" stroke-width="11" d="M-775 -539h10M-754 -539h31M10 -539h10M31 -539h10M52 -539h10M403 -539h10M455 -539h10M486 -539h21M568 -539h10M733 -539h21M1012 -539h10M-851 -549h21M-759 -549h51M10 -549h10M113 -549h10M133 -549h10M277 -549h10M297 -549h21M338 -549h10M379 -549h10M544 -549h10M595 -549h10M667 -549h21M697 -549h21M738 -549h10M882 -549h10M985 -549h10M1128 -549h10M-866 -558h20M-743 -558h31M-692 -558h10M10 -558h41M193 -558h10M346 -558h10M448 -558h10M591 -558h10M672 -558h31M743 -558h10M835 -558h10M1029 -558h20M1090 -558h10M-849 -568h10M-728 -568h10M182 -568h10M222 -568h10M253 -568h10M273 -568h10M354 -568h10M435 -568h20M505 -568h10M556 -568h10M617 -568h20M718 -568h30M789 -568h10M869 -568h10M971 -568h10M1102 -568h10M-853 -578h20M191 -578h10M271 -578h10M291 -578h20M381 -578h20M542 -578h10M562 -578h10M582 -578h10M672 -578h20M733 -578h20M783 -578h10M823 -578h10M1064 -578h20M-996 -587h10M-976 -587h10M-946 -587h20M139 -587h10M169 -587h20M269 -587h10M369 -587h10M408 -587h10M528 -587h10M578 -587h10M638 -587h10M658 -587h20M787 -587h10M-998 -597h79M128 -597h10M731 -597h10M810 -597h10M880 -597h10M-990 -606h29M-941 -606h29M-902 -606h10M98 -606h29M441 -606h10M519 -606h20M568 -606h20M627 -606h10M676 -606h10M745 -606h20M-982 -616h19M-943 -616h10M-923 -616h19M428 -616h10M554 -616h10M583 -616h10M642 -616h10M680 -616h19M710 -616h10M855 -616h10M-964 -625h10M328 -625h10M366 -625h10M540 -625h29M858 -625h10M229 -634h19M268 -634h19M344 -634h10M363 -634h10M401 -634h10M516 -634h10M593 -634h10M631 -634h10M659 -634h10M736 -634h19M765 -634h29M870 -634h19"/><path stroke="#c8e6f8" stroke-width="11.5" d="M-586 519h10M-593 499h11M-582 430h11M-576 410h11M-590 399h11M-534 399h11M-581 389h11M-559 389h11M-535 339h11M-527 319h11M-633 298h12M-646 288h12M-519 288h12M1269 248h23M1061 238h12M1096 238h12M1154 238h12M1294 238h12M1180 228h12M1250 228h23M1285 228h23M1299 217h12M-410 207h12M1078 207h12M1301 207h12M1336 207h12M-563 197h12M1068 197h23M1221 197h12M-564 187h12M-447 187h12M1340 187h12M-577 177h12M-459 177h12M-424 177h12M-400 177h12M1083 177h12M1295 177h12M-436 167h12M-401 167h12M1216 157h12M1310 157h12M-378 147h12M1063 147h12M-426 137h24M-390 137h12M1289 137h12M1384 137h12M-438 126h12M-391 126h24M-355 126h12M1125 126h12M1243 126h12M1314 126h12M-439 116h12M-379 116h12M1173 116h12M1327 116h12M1387 116h12M-415 106h12M-391 106h12M-368 96h12M309 86h24M-345 66h12M-345 56h12M321 56h24M333 35h12M345 25h12M334 15h12M346 5h12M357 -35h12M309 -46h12M345 -46h12M393 -46h12M309 -56h12M369 -56h12M393 -56h12M285 -66h12M261 -76h12M380 -76h12M-12 -96h12M142 -96h12M178 -96h12M202 -96h12M309 -96h12M404 -96h12M12 -106h12M178 -106h12M249 -106h12M308 -106h12M-47 -116h12M107 -116h12M379 -116h12M403 -116h12M249 -126h12M379 -126h12M414 -126h12M-130 -137h24M59 -137h12M-130 -147h12M-47 -147h12M12 -147h12M165 -147h12M-106 -157h12M-59 -157h12M-12 -157h12M47 -157h12M165 -157h12M-165 -167h12M-130 -167h12M236 -167h12M731 -167h12M35 -177h12M730 -177h12M704 -197h12M786 -197h12M688 -238h23M770 -238h12M663 -248h12M639 -258h12M778 -258h12M765 -268h12M798 -278h12M681 -288h12M796 -288h12M912 -288h12M1062 -288h12M898 -298h12M723 -308h11M756 -319h11M503 -329h23M571 -329h23M605 -329h11M708 -329h11M948 -329h11M489 -339h11M512 -339h11M956 -339h11M499 -349h11M533 -349h11M-803 -359h11M407 -359h11M746 -359h11M769 -359h11M1063 -359h11M1085 -359h11M-800 -369h11M-777 -369h23M394 -369h23M428 -369h23M1059 -369h11M1082 -369h11M-763 -379h22M326 -379h11M393 -379h11M427 -379h22M460 -379h11M640 -379h11M674 -379h11M-872 -389h11M-805 -389h11M-771 -389h11M-67 -389h11M291 -389h11M481 -389h11M626 -389h11M-746 -399h11M-11 -399h22M367 -399h11M468 -399h11M-765 -410h22M-732 -410h11M-111 -410h11M-55 -410h11M344 -410h11M377 -410h11M432 -410h11M454 -410h11M975 -410h22M-828 -420h44M-773 -420h22M-717 -420h11M-55 -420h11M-33 -420h11M66 -420h11M221 -420h11M364 -420h11M-835 -430h11M-802 -430h11M-714 -430h22M-820 -440h22M-722 -440h11M33 -440h22M1039 -440h11M1115 -440h11M-22 -450h11M979 -450h11M1055 -450h11M1099 -450h11M1207 -450h11M-736 -460h11M-649 -460h11M-65 -460h11M32 -460h11M1006 -460h11M1061 -460h11M-86 -470h11M43 -470h32M194 -470h11M215 -470h11M1023 -470h11M-75 -480h11M21 -480h11M43 -480h11M64 -480h11M107 -480h11M139 -480h11M1039 -480h11M1210 -480h11M-607 -490h21M106 -490h21M138 -490h11M287 -490h11M1065 -490h21M1107 -490h21M1214 -490h11M-783 -499h11M-74 -499h21M116 -499h11M138 -499h11M413 -499h11M963 -499h21M1037 -499h11M1122 -499h11M-579 -509h21M137 -509h11M263 -509h11M284 -509h11M368 -509h11M431 -509h11M1021 -509h11M1147 -509h11M126 -519h10M282 -519h10M418 -519h10M575 -519h10M-769 -529h42M-572 -529h10M-31 -529h10M0 -529h10M125 -529h21M281 -529h10M405 -529h10M717 -529h10M738 -529h10M842 -529h10M977 -529h10M1133 -529h10"/><path stroke="#ffd22d" stroke-width="11" d="M-1059 -558h20M-1062 -568h30M-1054 -578h20M-1056 -587h10M-1036 -587h20M-1038 -597h30M-1029 -606h20M-1051 -625h10"/><path stroke="#ffd22d" stroke-width="11.5" d="M1503 499h11M1416 490h32M1413 480h54M1227 470h11M1421 470h54M1539 470h11M1234 460h22M1277 460h22M1547 460h11M1240 450h22M1284 450h22M1290 440h11M1487 440h11M1520 440h55M1253 430h22M1286 430h33M1484 430h22M1528 430h33M1572 430h11M1501 420h11M1534 420h33M1496 410h33M1552 410h22M1585 410h11M1503 399h33M1547 399h33M1028 389h11M1498 389h22M1565 389h11M1033 379h11M1014 369h11M1036 369h11M1017 359h11M1617 359h11M-499 349h11M-476 349h11M-454 349h23M-467 339h23M-468 329h11M-445 329h11M1508 329h11M1587 329h23M-504 319h57M-435 319h11M-505 308h11M-482 308h34M-484 298h35M-473 288h35M-427 288h12M1385 288h12M1408 288h12M-463 278h12M440 278h23M1377 278h12M1412 278h12M-476 268h23M-418 268h12M406 268h35M1392 268h12M1415 268h12M-476 258h23M-442 258h35M407 258h35M-442 248h12M-419 248h12M291 248h12M407 248h35M-420 238h12M292 238h12M315 238h12M408 238h35M1388 238h12M-467 228h12M-444 228h12M-409 228h12M304 228h23M409 228h35M1367 228h35M-456 217h12M410 217h12M433 217h12M1381 217h23M-574 207h23M-492 207h12M-469 207h12M434 207h12M-481 197h12M-599 187h12M-541 187h12M-494 187h24M411 187h12M-530 177h12M-447 177h12M412 177h12M436 177h12M-566 167h24M-530 167h35M-483 167h12M-448 167h12M424 167h24M-519 157h12M-460 157h24M437 157h12M402 147h12M437 147h12M402 137h95M1338 126h24M213 116h12M119 106h12M190 106h24M273 106h12M131 96h12M178 96h12M202 96h12M119 86h12M154 86h12M261 86h12M154 76h24M250 76h12M119 66h12M202 66h24M274 66h12M107 46h12M190 46h12M107 35h12M190 35h12M95 15h12M226 -25h36M226 -35h24M226 -46h36M238 -56h12M12 -66h12M48 -66h12M48 -76h24M166 -76h12M-71 -86h12M154 -86h12M-107 -96h24M-47 -96h12M24 -96h12M166 -96h12M-107 -106h24M166 -106h12M949 -106h12M-107 -116h12M948 -116h12M984 -116h12M935 -126h12M-154 -137h12M934 -137h35M982 -137h12M709 -147h24M957 -147h12M993 -147h24M696 -157h35M909 -157h24M968 -157h12M-59 -167h12M-24 -167h12M696 -167h24M920 -167h24M955 -167h24M1014 -167h12M695 -177h12M895 -177h12M930 -177h12M965 -177h24M917 -187h24M952 -187h12M763 -197h12M986 -197h35M738 -207h47M973 -207h59M749 -217h12M677 -228h12M748 -228h12M676 -238h12M1014 -238h12M1038 -238h23M1084 -238h12M943 -248h12M1036 -248h35M1082 -248h12M697 -258h12M941 -258h12M1069 -258h35M1067 -268h12M1102 -268h12M717 -278h12M937 -278h12M995 -278h12M1122 -278h12M-900 -288h12M-773 -288h12M704 -288h23M935 -288h12M993 -288h12M1039 -288h12M1120 -288h12M-886 -298h12M-806 -298h12M-783 -298h23M737 -298h12M933 -298h23M990 -298h35M1036 -298h12M1105 -298h23M-884 -308h23M-827 -308h11M-792 -308h11M965 -308h11M1011 -308h11M1045 -308h80M-882 -319h46M928 -319h11M985 -319h46M1054 -319h34M-891 -329h57M-822 -329h11M982 -329h46M1039 -329h46M1176 -329h11M-808 -339h11M979 -339h80M1172 -339h11M-57 -349h11M930 -349h23M964 -349h34M1010 -349h23M1191 -349h11M-57 -359h23M927 -359h113M1198 -359h57M-56 -369h23M79 -369h11M924 -369h113M1115 -369h11M1138 -369h23M1183 -369h11M1217 -369h23M-45 -379h11M79 -379h11M1123 -379h22M1156 -379h11M1201 -379h11M1224 -379h11M-78 -389h11M45 -389h22M89 -389h11M1129 -389h34M-89 -399h11M78 -399h22M1147 -399h11M-78 -410h22M-44 -410h22M1142 -410h11M-1126 -420h11M-77 -420h11M-44 -420h11M1137 -420h11M-1121 -430h11M-77 -430h22M-11 -430h11M1242 -430h11M-22 -440h11M186 -440h11M230 -440h11M1214 -440h11M-65 -450h11M-33 -450h11M185 -450h44M-32 -460h11M162 -460h11M184 -460h11M206 -460h11M-1098 -470h22M161 -470h32M-1082 -480h21M161 -480h11M-1086 -490h43M-1080 -499h32M74 -499h11M-1073 -509h21"/><path stroke="#ff8c00" stroke-width="11" d="M-1054 -539h21M-1067 -597h10"/><path stroke="#ff8c00" stroke-width="11.5" d="M1389 509h11M1482 499h21M1406 490h11M1448 490h11M1501 490h32M1467 480h11M1510 480h32M1475 470h11M1507 470h11M1428 460h11M1450 460h11M1493 460h22M1526 460h22M1458 450h22M1512 450h33M1556 450h11M1465 440h22M1509 440h11M1473 430h11M1506 430h22M1561 430h11M1490 420h11M1512 420h22M1567 420h22M1485 410h11M1530 410h22M1574 410h11M1336 399h11M1492 399h11M1536 399h11M1581 399h22M1341 389h11M1520 389h45M1576 389h11M1336 379h11M1482 379h34M1352 369h23M1589 369h34M1515 359h11M1571 359h11M1594 359h23M1361 349h11M1531 349h11M1565 349h45M1622 349h11M-512 339h34M1514 339h11M1582 339h34M1628 339h11M-514 329h23M-480 329h11M1519 329h23M1610 329h11M1633 329h11M-448 308h11M-449 298h23M1405 298h12M-508 288h35M-439 288h12M289 288h12M1397 288h12M-509 278h23M-451 278h23M-522 268h46M-452 268h12M290 268h23M1380 268h12M-523 258h46M-453 258h12M290 258h12M1383 258h12M-524 248h81M1373 248h35M-525 238h70M303 238h12M1376 238h12M1399 238h12M-537 228h70M-527 217h12M-503 217h35M1369 217h12M-527 207h35M-457 207h12M1371 207h12M-622 197h23M-540 197h35M-458 197h23M-517 187h12M447 187h12M482 187h12M-518 177h12M-483 177h24M471 177h24M-495 167h12M448 167h24M483 167h12M-508 157h12M-484 157h12M449 157h24M484 157h12M378 147h12M449 147h24M-473 137h12M378 137h12M59 -66h24M-24 -76h12M12 -76h12M-59 -86h12M-12 -86h12M24 -86h12M-83 -96h12M-24 -96h12M-119 -106h12M-83 -106h36M961 -106h12M960 -116h12M983 -126h24M923 -137h12M994 -137h24M910 -147h35M969 -147h12M932 -157h24M991 -157h12M1015 -157h12M-931 -167h12M872 -167h12M896 -167h24M-930 -177h12M-906 -177h12M871 -177h24M918 -177h12M942 -177h24M989 -177h47M-905 -187h12M882 -187h35M1011 -187h12M-915 -197h12M845 -197h23M927 -197h23M962 -197h23M1021 -197h12M844 -207h23M914 -207h23M-924 -217h12M831 -217h12M971 -217h12M-923 -228h12M-899 -228h12M841 -228h12M876 -228h12M1016 -228h23M851 -238h12M886 -238h12M933 -238h12M1003 -238h12M1061 -238h23M838 -248h23M885 -248h12M908 -248h23M1013 -248h23M837 -258h12M883 -258h23M988 -258h46M1046 -258h23M881 -268h12M916 -268h12M951 -268h58M1044 -268h12M-787 -278h12M-752 -278h12M914 -278h12M960 -278h35M1007 -278h12M1065 -278h12M1099 -278h23M-785 -288h12M-750 -288h12M946 -288h46M1004 -288h35M1050 -288h12M1108 -288h12M956 -298h35M1025 -298h12M1048 -298h58M873 -308h11M930 -308h34M976 -308h34M1022 -308h23M-802 -319h46M962 -319h23M1031 -319h23M1088 -319h11M-799 -329h69M1028 -329h11M1085 -329h23M-797 -339h80M933 -339h23M967 -339h11M1059 -339h34M-771 -349h34M953 -349h11M998 -349h11M1032 -349h34M1214 -349h11M-746 -359h23M1040 -359h23M-68 -369h11M1036 -369h23M1127 -369h11M-22 -379h11M34 -379h11M90 -379h11M1111 -379h11M1145 -379h11M1190 -379h11M1235 -379h45M-34 -389h11M-11 -389h11M78 -389h11M1118 -389h11M1185 -389h11M1218 -389h56M-56 -399h22M56 -399h11M212 -399h11M1102 -399h45M1180 -399h22M1213 -399h45M1097 -410h11M1186 -410h78M-1104 -420h11M-22 -420h11M199 -420h11M232 -420h11M1192 -420h22M1225 -420h11M1247 -420h11M-55 -430h11M0 -430h11M187 -430h11M231 -430h11M1198 -430h11M-1094 -440h11M-87 -440h11M208 -440h11M-1088 -450h11M-87 -450h11M-87 -460h11M151 -470h11M96 -490h11M149 -490h11M-1060 -529h21"/><path stroke="#ff0000" stroke-width="11.5" d="M1399 509h116M1397 499h85M1514 499h11M1459 490h43M1221 480h64M1478 480h32M1238 470h54M1486 470h22M1518 470h22M1255 460h22M1439 460h11M1461 460h32M1515 460h11M1262 450h22M1436 450h22M1479 450h33M1545 450h11M1247 440h44M1301 440h11M1443 440h22M1498 440h11M1275 430h11M1451 430h22M1457 420h33M1319 410h22M1463 410h22M1325 399h11M1469 399h22M1330 389h11M1476 389h22M1587 389h22M1516 379h101M1487 369h101M1051 359h11M1357 359h23M1492 359h23M1526 359h45M1583 359h11M-510 349h11M-488 349h11M1373 349h11M1497 349h34M1543 349h23M1611 349h11M-478 339h11M-444 339h11M1366 339h23M1502 339h11M1525 339h57M1616 339h11M-491 329h11M-457 329h11M-434 329h11M1370 329h23M1542 329h46M1622 329h11M-447 319h11M1386 319h11M-494 308h11M-436 308h11M1390 308h23M-507 298h23M-426 298h12M288 298h12M1382 298h23M-486 278h23M-428 278h12M301 278h12M474 278h12M-441 268h23M464 268h12M302 258h12M442 258h23M303 248h12M442 248h23M477 248h12M-455 238h35M-408 238h12M443 238h47M-456 228h12M-432 228h12M444 228h47M-515 217h12M-468 217h12M-445 217h12M316 217h12M445 217h47M-539 207h12M-480 207h12M-445 207h12M328 207h12M445 207h47M1383 207h12M-599 197h23M-552 197h12M-505 197h23M340 197h12M481 197h12M1361 197h35M-623 187h12M-576 187h12M-552 187h12M-529 187h12M-505 187h12M-470 187h24M1363 187h24M-565 177h24M-506 177h24M1365 177h12M-472 167h24M365 167h12M1356 167h24M-496 157h12M-472 157h12M366 157h12M1346 157h24M-508 147h59M1347 147h24M-520 137h12M-461 137h12M1348 137h12M249 126h12M272 126h12M-533 116h12M-498 116h12M237 116h47M296 116h12M1363 116h12M214 106h12M1139 106h12M261 96h12M1140 96h24M1424 96h12M178 86h24M1425 86h12M-582 76h24M202 76h12M1307 76h12M1450 76h12M-583 66h12M-559 66h12M166 66h12M226 66h12M250 66h24M1415 66h24M1451 66h12M-595 56h59M143 56h36M274 56h12M1178 56h24M1416 56h71M-619 46h24M-583 46h48M-524 46h12M274 46h12M1416 46h36M1464 46h24M-607 35h12M-560 35h12M95 35h12M179 35h12M202 35h12M1238 35h12M1417 35h71M95 25h12M191 25h24M1453 25h24M83 15h12M107 15h12M203 15h12M941 15h24M274 5h12M953 5h12M-751 -5h24M941 -5h36M1001 -5h24M1334 -5h12M95 -15h12M226 -15h12M250 -15h24M941 -15h12M191 -25h12M214 -25h12M929 -25h24M965 -25h24M1274 -25h12M-536 -35h12M250 -35h12M1155 -35h24M-655 -46h12M-548 -46h24M214 -46h12M1119 -46h12M1166 -46h12M1190 -46h24M-524 -56h12M226 -56h12M250 -56h12M1130 -56h24M1166 -56h12M0 -66h12M83 -66h12M904 -66h12M1094 -66h24M1213 -66h12M-570 -76h12M-36 -76h12M-12 -76h24M71 -76h24M-570 -86h12M-48 -86h36M0 -86h24M36 -86h12M950 -86h12M998 -86h12M1093 -86h12M-71 -96h24M-36 -96h12M712 -96h12M712 -106h12M925 -106h12M1056 -106h12M-818 -116h12M-782 -116h12M-95 -116h12M711 -116h12M913 -116h12M1043 -116h12M1209 -116h36M-841 -126h24M-805 -126h12M699 -126h24M923 -126h12M1042 -126h24M1219 -126h24M1338 -126h12M-840 -137h24M698 -137h24M899 -137h12M1230 -137h12M-815 -147h12M-165 -147h12M697 -147h12M898 -147h12M1063 -147h24M-908 -167h12M684 -167h12M1085 -167h12M683 -177h12M-729 -187h12M-693 -187h24M-635 -187h35M682 -187h24M-763 -197h70M-681 -197h23M-646 -197h12M-622 -197h23M681 -197h23M869 -197h35M1197 -197h12M-914 -207h12M-832 -207h12M-773 -207h82M-656 -207h23M879 -207h35M938 -207h35M1195 -207h23M-913 -217h12M-842 -217h12M-784 -217h105M-644 -217h23M842 -217h12M878 -217h94M-934 -228h12M-911 -228h12M-771 -228h35M-724 -228h12M-701 -228h23M-631 -228h12M864 -228h12M899 -228h58M969 -228h47M-758 -238h12M-735 -238h12M-700 -238h12M793 -238h35M863 -238h12M898 -238h12M956 -238h47M1026 -238h12M-768 -248h12M-745 -248h12M803 -248h35M861 -248h12M896 -248h12M966 -248h47M1071 -248h12M813 -258h12M848 -258h35M906 -258h12M964 -258h23M1034 -258h12M823 -268h46M905 -268h12M1009 -268h35M1055 -268h12M1079 -268h23M-775 -278h12M833 -278h58M949 -278h12M1018 -278h46M1076 -278h23M-796 -288h12M-762 -288h12M843 -288h46M1073 -288h35M-898 -298h12M-875 -298h12M-794 -298h12M-748 -298h12M840 -298h46M-896 -308h11M-861 -308h23M-815 -308h23M-781 -308h23M-746 -308h11M-893 -319h11M-836 -319h34M-756 -319h23M939 -319h23M1100 -319h23M-834 -329h11M-811 -329h11M936 -329h11M959 -329h23M1108 -329h11M-820 -339h11M1093 -339h23M1184 -339h23M-737 -349h23M1202 -349h11M1225 -349h11M1074 -359h11M1255 -359h11M1194 -369h23M1239 -369h45M-89 -389h11M1107 -389h11M1196 -389h22M-78 -399h11M1202 -399h11M1258 -399h11M-89 -410h11M1120 -410h22M-88 -420h11M1093 -420h11M1115 -420h22M1214 -420h11M1236 -420h11M-88 -430h11M1209 -430h33M1203 -440h11M1236 -440h11"/><path stroke="#d22a2d" stroke-width="11.5" d="M-509 359h79M-465 349h11M441 268h23M476 268h12M465 258h23M-431 248h12M466 248h12M-421 228h12M-433 217h35M446 197h35M458 187h24M-636 177h35M447 177h24M-648 167h83M472 167h12M1344 167h12M-661 157h130M472 157h12M-673 147h165M473 147h24M-686 137h166M-509 137h35M1360 137h12M-699 126h249M178 126h12M1362 126h12M-711 116h178M-521 116h24M-486 116h36M166 116h24M201 116h12M1339 116h24M-712 106h261M166 106h12M285 106h12M1080 106h59M1151 106h308M-712 96h261M119 96h12M154 96h24M190 96h12M273 96h12M1045 96h95M1163 96h261M1436 96h24M-725 86h273M131 86h24M273 86h12M1010 86h416M1437 86h36M-725 76h143M-559 76h107M119 76h24M261 76h24M975 76h333M1319 76h131M1462 76h12M-725 66h143M-571 66h12M-547 66h95M143 66h24M963 66h452M1439 66h12M1463 66h24M-726 56h131M-535 56h83M119 56h24M178 56h83M964 56h214M1202 56h214M-738 46h119M-595 46h12M-536 46h12M-512 46h60M119 46h71M202 46h71M952 46h464M1452 46h12M1488 46h12M-738 35h131M-595 35h36M-548 35h95M119 35h60M214 35h71M952 35h286M1250 35h167M1488 35h12M-738 25h286M107 25h83M214 25h71M941 25h512M1477 25h36M-750 15h298M119 15h83M214 15h71M965 15h548M-751 5h286M83 5h191M929 5h24M965 5h560M-763 -5h12M-727 -5h262M83 -5h203M929 -5h12M977 -5h24M1025 -5h310M1346 -5h167M-762 -15h286M83 -15h12M107 -15h119M238 -15h12M917 -15h24M953 -15h548M-762 -25h286M83 -25h107M202 -25h12M262 -25h12M917 -25h12M953 -25h12M988 -25h286M1286 -25h202M-750 -35h214M-524 -35h36M83 -35h143M262 -35h12M917 -35h238M1179 -35h298M-750 -46h95M-643 -46h95M-524 -46h36M83 -46h131M262 -46h12M905 -46h214M1131 -46h36M1178 -46h12M1214 -46h250M-750 -56h226M-512 -56h12M71 -56h155M262 -56h12M904 -56h226M1154 -56h12M1178 -56h274M-749 -66h226M24 -66h24M892 -66h12M916 -66h178M1118 -66h95M1225 -66h214M-772 -76h202M-559 -76h24M24 -76h24M915 -76h511M-808 -86h238M903 -86h48M962 -86h36M1010 -86h83M1105 -86h309M-819 -96h249M926 -96h475M-830 -106h95M-712 -106h119M937 -106h12M973 -106h83M1068 -106h320M-841 -116h24M-806 -116h24M-699 -116h71M-130 -116h24M924 -116h24M972 -116h12M996 -116h47M1055 -116h154M1244 -116h130M-852 -126h12M-817 -126h12M-793 -126h12M-142 -126h24M912 -126h12M1006 -126h36M1066 -126h154M1243 -126h95M1350 -126h12M-863 -137h24M-816 -137h35M-142 -137h12M911 -137h12M970 -137h12M1017 -137h213M1242 -137h106M-874 -147h59M-803 -147h12M981 -147h12M1016 -147h12M1052 -147h12M1087 -147h248M-885 -157h94M885 -157h24M980 -157h12M1003 -157h12M1027 -157h12M1074 -157h248M-896 -167h94M884 -167h12M978 -167h35M1096 -167h212M-895 -177h94M-718 -177h59M1107 -177h188M-893 -187h82M-740 -187h12M-717 -187h24M-670 -187h35M858 -187h24M940 -187h12M1128 -187h153M-904 -197h94M-692 -197h12M-657 -197h12M-634 -197h12M904 -197h23M951 -197h12M1138 -197h59M1209 -197h59M-902 -207h70M-785 -207h12M-691 -207h35M-633 -207h23M867 -207h12M1160 -207h35M1219 -207h35M-878 -217h35M-831 -217h12M-807 -217h23M-679 -217h35M-620 -217h12M854 -217h23M983 -217h47M1182 -217h59M-853 -228h23M-806 -228h35M-736 -228h12M-713 -228h12M-677 -228h47M818 -228h23M853 -228h12M888 -228h12M958 -228h12M1191 -228h35M-805 -238h47M-746 -238h12M-723 -238h23M-688 -238h12M781 -238h12M828 -238h23M875 -238h12M909 -238h23M944 -238h12M-803 -248h35M-757 -248h12M873 -248h12M954 -248h12M-802 -258h12M825 -258h12M953 -258h12M870 -268h12M893 -268h12M-764 -278h12M891 -278h23M-760 -298h12M-758 -308h11"/></g>
</g>
<use href="#lakep" fill="#fff"/>
<use href="#landp" fill="none" stroke="#000" stroke-width="0.8"/>
<use href="#lakep" fill="none" stroke="#000" stroke-width="0.8"/>
<use href="#lakeo" fill="none" stroke="#000" stroke-width="0.7"/>
<use href="#outl" fill="none" stroke="#6a6a6a" stroke-width="0.9"/>
</g>
<g transform="translate(175.0,497.3)">
<g clip-path="url(#landc)"><rect x="-180" y="-90" width="360" height="180" fill="#fff582"/>
<g transform="scale(.1)" shape-rendering="crispEdges"><path stroke="#4010f0" stroke-width="11" d="M-1054 -539h10M-1069 -558h10M-1049 -558h10M-1064 -578h10M-1044 -578h20M-1076 -587h20M-1057 -597h10M-1068 -606h10M-1069 -616h19M-1070 -625h10M-1012 -625h10M-1013 -634h10"/><path stroke="#4010f0" stroke-width="11.5" d="M1178 -56h12M939 -66h24M1118 -66h48M1177 -66h24M963 -76h12M986 -76h12M1117 -76h12M1188 -76h24M748 -86h24M926 -86h36M986 -86h24M1176 -86h12M1200 -86h12M748 -96h12M938 -96h12M997 -96h36M1116 -96h12M1163 -96h24M736 -106h12M771 -106h12M937 -106h36M985 -106h36M1115 -106h12M1151 -106h12M-901 -116h12M723 -116h71M924 -116h12M1138 -116h12M1161 -116h12M-923 -126h12M-817 -126h12M722 -126h47M781 -126h24M923 -126h12M947 -126h12M995 -126h12M1113 -126h36M-863 -137h12M-804 -137h12M-781 -137h12M710 -137h59M792 -137h12M899 -137h24M1112 -137h12M1135 -137h24M1183 -137h24M-922 -147h12M-851 -147h24M-815 -147h24M-756 -147h12M697 -147h24M733 -147h12M768 -147h24M803 -147h12M898 -147h24M981 -147h12M1016 -147h12M1182 -147h12M-791 -157h12M779 -157h35M897 -157h35M968 -157h24M1003 -157h12M1110 -157h12M1133 -157h12M-884 -167h12M-766 -167h12M896 -167h35M967 -167h12M1002 -167h24M1108 -167h12M1132 -167h12M1167 -167h12M1191 -167h12M-906 -177h24M-683 -177h24M695 -177h12M753 -177h12M824 -177h12M883 -177h12M977 -177h12M1001 -177h12M1107 -177h47M1177 -177h12M-882 -187h12M-811 -187h24M-740 -187h12M-670 -187h35M670 -187h12M693 -187h12M717 -187h12M764 -187h35M835 -187h12M893 -187h12M940 -187h24M1117 -187h35M-904 -197h12M-822 -197h12M-763 -197h12M-739 -197h35M669 -197h12M704 -197h12M728 -197h12M751 -197h12M775 -197h12M798 -197h23M833 -197h12M915 -197h12M951 -197h35M1009 -197h12M1115 -197h47M-797 -207h12M656 -207h12M680 -207h12M727 -207h12M750 -207h35M820 -207h35M914 -207h23M961 -207h12M984 -207h12M1008 -207h12M-913 -217h12M-854 -217h12M-784 -217h12M-714 -217h12M690 -217h12M725 -217h12M749 -217h12M784 -217h12M889 -217h12M948 -217h59M-794 -228h12M-771 -228h12M701 -228h35M794 -228h12M829 -228h35M888 -228h23M923 -228h12M946 -228h12M981 -228h23M-805 -238h12M-781 -238h23M-723 -238h12M676 -238h12M700 -238h12M723 -238h12M781 -238h47M840 -238h12M886 -238h12M921 -238h12M956 -238h12M979 -238h35M1026 -238h58M1108 -238h12M-768 -248h12M629 -248h12M733 -248h58M803 -248h12M873 -248h12M896 -248h12M931 -248h23M966 -248h12M989 -248h12M1036 -248h12M744 -258h12M767 -258h12M802 -258h23M871 -258h23M906 -258h12M941 -258h23M976 -258h12M1046 -258h12M1081 -258h12M650 -268h12M731 -268h12M754 -268h35M812 -268h12M835 -268h35M893 -268h12M928 -268h23M963 -268h12M648 -278h12M683 -278h12M717 -278h12M833 -278h35M891 -278h12M926 -278h12M949 -278h12M995 -278h12M1053 -278h12M658 -288h23M704 -288h12M750 -288h12M831 -288h23M981 -288h23M1027 -288h12M668 -298h12M691 -298h12M714 -298h23M840 -298h12M909 -298h12M933 -298h23M967 -298h12M1002 -298h12M1025 -298h12M1071 -298h12M689 -308h11M712 -308h11M769 -308h23M930 -308h23M965 -308h11M687 -319h11M756 -319h11M813 -319h34M939 -319h23M997 -319h23M1031 -319h11M1065 -319h11M720 -329h23M799 -329h11M914 -329h11M936 -329h23M982 -329h46M1039 -329h11M717 -339h11M911 -339h11M933 -339h11M979 -339h11M1081 -339h11M-1089 -349h23M919 -349h11M1021 -349h11M1078 -349h23M-1097 -359h11M972 -359h23M1017 -359h11M1063 -359h11M1097 -359h11M-1093 -369h23M-1096 -389h11M-1069 -399h11M-1060 -420h11M-1088 -430h11M-1083 -440h22M-1055 -470h11M-1082 -480h32M-1075 -490h11M-1058 -499h11M-1067 -519h10"/><path stroke="#2d4be1" stroke-width="10" d="M143 -698h18M170 -698h9M124 -706h9M177 -706h9M123 -715h9M193 -715h9M180 -732h9M197 -732h9"/><path stroke="#2d4be1" stroke-width="10.5" d="M-38 -644h9M-19 -644h9M47 -644h9M114 -644h9M-28 -653h9M94 -653h9M169 -653h9M-19 -662h9M65 -662h9M84 -662h9M102 -662h9M167 -662h9M195 -662h9M0 -671h9M83 -671h28M37 -680h9M82 -680h9M146 -680h9M117 -689h9M181 -689h9"/><path stroke="#2d4be1" stroke-width="11" d="M-603 597h10M-583 597h10M-588 587h10M-568 587h10M-518 587h10M-572 578h10M-532 578h20M-596 568h10M-599 539h10M-578 539h10M-537 539h10M-599 -539h31M-506 -539h10M310 -539h10M-1067 -549h31M-523 -549h10M-41 -549h10M297 -549h10M318 -549h10M-1059 -558h10M-1039 -558h10M-519 -558h10M0 -558h10M41 -558h10M-1062 -568h10M-1041 -568h10M-495 -568h10M-445 -568h10M0 -568h20M-1074 -578h10M-1054 -578h10M-542 -578h10M-522 -578h10M-40 -578h20M0 -578h20M-1056 -587h20M-1026 -587h10M30 -587h10M70 -587h10M179 -587h10M209 -587h10M-1067 -597h10M-1048 -597h30M-573 -597h20M-544 -597h10M-79 -597h10M0 -597h10M-1049 -606h10M-1029 -606h20M-559 -606h10M-529 -606h10M-69 -606h10M-20 -606h10M0 -606h10M186 -606h10M-1040 -616h39M-447 -616h10M-19 -616h19M97 -616h10M-1060 -625h10M-1041 -625h10M-1002 -625h10M-588 -625h10M-48 -625h10M-29 -625h10M-10 -625h10M19 -625h10M164 -625h19M-1070 -634h57M-1004 -634h10M-57 -634h10M-29 -634h19M0 -634h10M48 -634h10M182 -634h29M220 -634h10"/><path stroke="#2d4be1" stroke-width="11.5" d="M-634 529h10M-617 519h10M-586 519h10M-635 499h11M-603 499h21M-572 499h11M-557 480h11M-592 470h11M-649 460h11M-628 460h11M-656 440h11M-634 440h11M-637 430h22M-654 410h11M-632 410h11M-657 399h11M-651 379h11M-629 379h11M-665 369h11M-644 359h11M-658 349h11M-672 339h11M-637 339h11M-651 329h11M-653 319h11M-630 319h11M-660 278h12M-650 268h12M-676 238h12M-677 228h12M-654 228h12M-668 207h12M-669 197h12M-682 187h12M-683 177h12M-707 167h12M-696 157h12M-709 147h24M-721 137h12M-712 96h24M1200 86h12M-737 76h12M975 76h12M998 76h12M1165 76h12M-713 66h12M963 66h12M1058 66h12M-738 56h12M940 56h24M1166 56h12M-738 46h12M1095 46h12M1166 46h12M1190 46h12M-726 35h12M1048 35h12M1083 35h71M1167 35h24M-750 25h12M1000 25h12M1024 25h12M1084 25h48M1143 25h12M1167 25h24M-739 15h12M1001 15h12M1060 15h12M1108 15h24M1179 15h12M929 5h12M1025 5h12M1180 5h12M1203 5h12M-774 -5h12M929 -5h12M965 -5h12M1049 -5h12M1108 -5h12M1192 -5h12M1024 -15h36M905 -25h12M965 -25h12M1203 -25h12M905 -35h12M941 -35h24M952 -46h12M1024 -46h12M940 -56h12M1166 -56h12M1190 -56h24M-48 -66h12M48 -66h12M83 -66h12M131 -66h12M166 -66h36M274 -66h12M1165 -66h12M1201 -66h12M-131 -76h12M-107 -76h12M-59 -76h12M-24 -76h12M71 -76h12M119 -76h12M214 -76h12M273 -76h12M975 -76h12M1141 -76h12M1165 -76h24M-83 -86h12M226 -86h12M273 -86h12M962 -86h12M1010 -86h12M1116 -86h12M1140 -86h12M-819 -96h12M-131 -96h12M-71 -96h12M71 -96h24M237 -96h12M261 -96h12M285 -96h12M368 -96h12M760 -96h12M926 -96h12M950 -96h47M1151 -96h12M1187 -96h24M-866 -106h59M-107 -106h12M-59 -106h12M59 -106h12M83 -106h12M142 -106h12M178 -106h12M320 -106h12M747 -106h12M973 -106h12M1020 -106h12M1127 -106h24M1163 -106h24M1198 -106h12M-889 -116h12M-841 -116h12M1007 -116h12M1114 -116h24M1173 -116h12M1197 -116h12M-876 -126h47M-805 -126h12M770 -126h12M900 -126h12M935 -126h12M1018 -126h12M1148 -126h24M1184 -126h24M-923 -137h12M-899 -137h12M-840 -137h12M-757 -137h12M781 -137h12M923 -137h12M946 -137h24M994 -137h12M1017 -137h12M1124 -137h12M1159 -137h24M-886 -147h12M-863 -147h12M-768 -147h12M721 -147h12M756 -147h12M933 -147h12M957 -147h24M1004 -147h12M1111 -147h24M1158 -147h12M1193 -147h12M-909 -157h47M-850 -157h12M-803 -157h12M696 -157h24M755 -157h12M814 -157h12M932 -157h12M956 -157h12M991 -157h12M1015 -157h12M1121 -157h12M1157 -157h47M-896 -167h12M-861 -167h12M-813 -167h12M-790 -167h12M696 -167h12M719 -167h12M743 -167h35M813 -167h12M1120 -167h12M1144 -167h24M-871 -177h24M-836 -177h12M-765 -177h12M-706 -177h24M730 -177h24M906 -177h24M942 -177h12M965 -177h12M1012 -177h12M1189 -177h12M-764 -187h12M-705 -187h24M-635 -187h12M-611 -187h12M682 -187h12M729 -187h12M799 -187h12M823 -187h12M905 -187h24M964 -187h35M1105 -187h12M1152 -187h12M1187 -187h12M-810 -197h12M-704 -197h12M-634 -197h12M692 -197h12M716 -197h12M739 -197h12M763 -197h12M786 -197h12M822 -197h12M892 -197h12M927 -197h12M986 -197h23M1174 -197h12M-914 -207h23M-879 -207h35M-820 -207h23M-785 -207h35M-715 -207h35M-668 -207h35M668 -207h12M738 -207h12M785 -207h12M902 -207h12M949 -207h12M973 -207h12M-889 -217h23M-842 -217h12M-725 -217h12M-690 -217h82M667 -217h12M702 -217h12M761 -217h23M807 -217h47M878 -217h12M936 -217h12M1018 -217h12M-759 -228h23M-713 -228h35M-666 -228h23M-631 -228h12M736 -228h12M759 -228h12M818 -228h12M876 -228h12M958 -228h23M1016 -228h23M-793 -238h12M-735 -238h12M-711 -238h35M746 -238h23M828 -238h12M851 -238h23M898 -238h23M944 -238h12M968 -238h12M1084 -238h12M1119 -238h23M687 -248h23M722 -248h12M791 -248h12M815 -248h12M838 -248h12M861 -248h12M885 -248h12M920 -248h12M978 -248h12M1048 -248h47M1117 -248h23M-802 -258h12M627 -258h46M686 -258h58M755 -258h12M860 -258h12M895 -258h12M930 -258h12M964 -258h12M1069 -258h12M1092 -258h23M673 -268h23M719 -268h12M742 -268h12M823 -268h12M870 -268h23M905 -268h23M951 -268h12M1009 -268h70M1090 -268h12M671 -278h12M729 -278h12M752 -278h23M810 -278h23M879 -278h12M914 -278h12M1018 -278h23M1076 -278h12M1122 -278h12M716 -288h23M762 -288h12M912 -288h23M1004 -288h12M1062 -288h46M553 -298h12M679 -298h12M702 -298h12M748 -298h23M794 -298h46M921 -298h12M990 -298h12M1013 -298h12M1059 -298h12M678 -308h11M700 -308h11M735 -308h34M804 -308h11M827 -308h11M907 -308h11M953 -308h11M988 -308h11M1022 -308h11M1045 -308h23M1091 -308h11M699 -319h11M733 -319h23M779 -319h11M928 -319h11M1042 -319h23M1088 -319h23M411 -329h11M697 -329h11M765 -329h11M925 -329h11M971 -329h11M1028 -329h11M1062 -329h34M1108 -329h11M1176 -329h11M728 -339h23M945 -339h23M990 -339h23M1024 -339h23M1070 -339h11M1172 -339h11M1195 -339h11M-1100 -349h11M340 -349h11M431 -349h11M930 -349h23M964 -349h11M1066 -349h11M1100 -349h11M1168 -349h11M1202 -349h11M-1063 -359h11M961 -359h11M1006 -359h11M1040 -359h23M1074 -359h11M1176 -359h45M1232 -359h11M-1070 -369h11M-586 -369h23M315 -369h11M1172 -369h34M1228 -369h23M1262 -369h11M-1066 -379h11M-685 -379h11M-662 -379h11M1179 -379h11M1201 -379h11M1257 -379h11M1280 -379h11M-794 -389h11M-671 -389h11M-537 -389h11M279 -389h11M458 -389h11M1174 -389h22M1207 -389h22M1241 -389h11M1263 -389h45M-1080 -399h11M-746 -399h11M-579 -399h11M456 -399h11M1180 -399h45M1247 -399h11M1280 -399h22M-1086 -410h22M266 -410h11M454 -410h11M1175 -410h11M1230 -410h11M1264 -410h11M1286 -410h11M-1093 -420h33M-751 -420h22M-717 -420h11M265 -420h11M453 -420h22M1181 -420h11M1203 -420h11M1236 -420h11M1269 -420h11M-1077 -430h22M-780 -430h11M-747 -430h11M-725 -430h11M-582 -430h33M1198 -430h11M1220 -430h11M1242 -430h11M1275 -430h11M-1061 -440h11M-580 -440h22M262 -440h11M1170 -440h22M1203 -440h11M-1066 -450h22M-936 -450h33M-642 -450h11M-609 -450h11M653 -450h11M1240 -450h33M-1071 -460h11M-628 -460h11M-563 -460h11M238 -460h11M660 -460h11M1201 -460h11M1234 -460h32M-721 -470h11M237 -470h11M560 -470h11M1206 -470h11M1249 -470h11M-760 -480h11M428 -480h11M568 -480h11M1221 -480h21M-724 -490h11M128 -490h21M426 -490h11M469 -490h11M490 -490h11M564 -490h11M-752 -499h32M-709 -499h11M381 -499h11M423 -499h11M529 -499h11M572 -499h21M603 -499h11M773 -499h11M-810 -509h11M-779 -509h11M-737 -509h11M-705 -509h11M-684 -509h11M-642 -509h11M-558 -509h11M-505 -509h11M568 -509h11M652 -509h11M-1046 -519h10M-722 -519h21M-648 -519h10M-1071 -529h21M-1040 -529h10M-582 -529h10M270 -529h10M561 -529h10M811 -529h10"/><path stroke="#1e8cff" stroke-width="10" d="M107 -698h9M125 -698h9M161 -698h9M179 -698h18M438 -698h9M841 -698h9M912 -698h9M89 -706h9M151 -706h18M602 -706h9M832 -706h18M885 -706h9M903 -706h9M974 -706h9M158 -715h18M184 -715h9M202 -715h9M605 -715h9M648 -715h9M165 -724h17M163 -732h17M189 -732h9"/><path stroke="#1e8cff" stroke-width="10.5" d="M-57 -644h9M-9 -644h19M28 -644h9M85 -644h9M133 -644h38M180 -644h9M208 -644h9M549 -644h9M625 -644h9M682 -644h9M739 -644h9M767 -644h28M805 -644h9M881 -644h9M-47 -653h9M-19 -653h19M9 -653h19M38 -653h38M141 -653h19M629 -653h9M648 -653h9M666 -653h9M770 -653h9M788 -653h9M-9 -662h9M46 -662h9M121 -662h9M465 -662h9M549 -662h9M586 -662h9M632 -662h9M725 -662h9M753 -662h9M781 -662h9M818 -662h19M856 -662h9M18 -671h9M46 -671h37M111 -671h28M147 -671h9M175 -671h9M193 -671h9M212 -671h9M461 -671h18M488 -671h18M553 -671h9M645 -671h9M663 -671h9M73 -680h9M100 -680h27M173 -680h9M192 -680h18M475 -680h9M657 -680h9M830 -680h9M54 -689h27M90 -689h18M127 -689h27M199 -689h9M452 -689h9M470 -689h9M651 -689h9"/><path stroke="#1e8cff" stroke-width="11" d="M-544 597h10M-608 587h10M-528 587h10M-592 578h20M-542 578h10M-617 568h20M-566 568h20M-621 558h10M-580 558h10M-550 558h31M-585 549h10M-564 549h10M-533 549h10M-620 539h10M-568 539h10M-1064 -539h10M-1043 -539h21M-548 -539h10M-527 -539h10M-496 -539h10M-475 -539h10M269 -539h10M289 -539h10M351 -539h10M-1036 -549h10M-585 -549h10M-533 -549h10M-503 -549h10M-72 -549h21M-21 -549h10M174 -549h10M246 -549h10M287 -549h10M338 -549h21M-1029 -558h10M-580 -558h20M-530 -558h10M-499 -558h20M-61 -558h20M-31 -558h31M20 -558h20M-1072 -568h10M-1031 -568h10M-596 -568h40M-516 -568h20M-475 -568h10M-455 -568h10M-61 -568h61M20 -568h20M61 -568h30M-1024 -578h10M-572 -578h10M-552 -578h10M-532 -578h10M-502 -578h10M-472 -578h10M-80 -578h10M-60 -578h10M30 -578h30M70 -578h30M161 -578h10M-598 -587h20M-548 -587h20M-518 -587h10M-498 -587h20M-80 -587h10M40 -587h10M80 -587h20M110 -587h10M149 -587h10M-1018 -597h10M-534 -597h20M-484 -597h40M-69 -597h20M69 -597h10M89 -597h10M119 -597h20M217 -597h20M-1059 -606h10M-1039 -606h10M-1010 -606h10M-578 -606h10M-549 -606h10M-519 -606h29M-78 -606h10M-59 -606h29M20 -606h10M49 -606h10M69 -606h20M108 -606h10M147 -606h20M196 -606h10M225 -606h10M-1050 -616h10M-564 -616h10M-544 -616h10M-505 -616h10M-457 -616h10M-58 -616h10M-39 -616h19M0 -616h10M39 -616h10M58 -616h39M107 -616h49M204 -616h29M-1051 -625h10M-1031 -625h19M-58 -625h10M10 -625h10M29 -625h10M67 -625h19M125 -625h39M212 -625h10M-67 -634h10M-38 -634h10M-10 -634h10M10 -634h10M38 -634h10M76 -634h10M124 -634h19M172 -634h10M573 -634h10"/><path stroke="#1e8cff" stroke-width="11.5" d="M-624 529h21M-607 519h21M-575 519h10M-631 509h21M-589 509h21M-558 509h11M1389 509h11M1431 509h11M-646 499h11M-614 499h11M-550 499h11M1408 499h21M1440 499h11M1461 499h53M-650 490h11M-586 490h11M1406 490h21M1437 490h11M1469 490h11M1512 490h11M-632 480h11M1413 480h54M1510 480h21M-624 470h11M-581 470h11M-549 470h11M1453 470h22M1496 470h11M1518 470h11M-563 460h11M1439 460h11M1461 460h32M1504 460h11M-653 450h33M1458 450h22M1512 450h11M1545 450h11M-645 440h11M1454 440h11M1509 440h11M-659 430h22M1473 430h11M1517 430h11M-651 420h22M1490 420h11M1523 420h22M-643 410h11M1485 410h11M1541 410h11M1585 410h11M-635 399h11M1525 399h11M1558 399h11M-660 389h22M1487 389h11M1520 389h11M1554 389h56M-662 379h11M1538 379h11M1560 379h22M-653 369h11M1543 369h23M1577 369h45M-543 359h11M1515 359h34M1583 359h23M-647 349h23M-660 339h23M-662 329h11M-640 329h23M-664 319h11M-641 319h11M-666 308h34M-551 308h11M-668 298h23M-673 268h12M-663 248h12M-665 238h23M-595 238h12M-572 228h23M-681 197h12M-493 197h12M-693 187h12M-670 187h12M-708 157h12M-425 157h12M-721 147h12M-686 137h12M-699 116h12M-736 106h12M1305 106h12M-748 96h12M-380 96h12M1068 96h12M1104 96h12M1128 96h36M-713 86h12M950 86h12M974 86h36M1033 86h24M1093 86h24M1307 86h12M-725 76h24M986 76h12M1081 76h12M1129 76h12M1177 76h36M1284 76h36M-737 66h24M321 66h12M999 66h12M1082 66h12M1106 66h12M1142 66h12M1177 66h12M-773 56h24M-345 56h12M357 56h12M964 56h12M999 56h12M1083 56h36M1142 56h24M1178 56h24M1261 56h12M-762 46h12M-357 46h12M-333 46h12M952 46h12M988 46h12M1036 46h12M1059 46h24M1107 46h12M1143 46h12M1178 46h12M1333 46h12M1357 46h12M-381 35h12M286 35h24M929 35h12M952 35h24M988 35h12M1036 35h12M1072 35h12M1155 35h12M1191 35h24M1405 35h12M-774 25h24M953 25h12M988 25h12M1036 25h12M1060 25h12M-774 15h12M-750 15h12M310 15h12M941 15h12M977 15h12M1013 15h12M1084 15h24M1132 15h24M-774 5h36M989 5h24M1049 5h24M-763 -5h12M286 -5h12M977 -5h24M1013 -5h36M1132 -5h12M1203 -5h12M-774 -15h12M965 -15h36M1060 -15h36M1120 -15h12M1179 -15h24M286 -25h24M917 -25h12M1024 -25h12M1048 -25h12M1143 -25h12M1191 -25h12M964 -35h12M1012 -35h12M1072 -35h12M1119 -35h95M357 -46h12M916 -46h24M988 -46h12M1036 -46h12M1119 -46h12M1190 -46h24M892 -56h24M928 -56h12M952 -56h24M1023 -56h24M1059 -56h12M-107 -66h12M-71 -66h12M-36 -66h12M12 -66h12M71 -66h12M95 -66h24M143 -66h24M250 -66h12M285 -66h12M321 -66h12M345 -66h12M963 -66h12M-83 -76h24M-12 -76h12M36 -76h12M107 -76h12M131 -76h12M154 -76h12M178 -76h12M202 -76h12M226 -76h12M250 -76h12M297 -76h12M321 -76h36M939 -76h24M1129 -76h12M1153 -76h12M-166 -86h12M-59 -86h12M-36 -86h12M12 -86h24M59 -86h12M131 -86h24M190 -86h12M214 -86h12M238 -86h12M344 -86h36M974 -86h12M1128 -86h12M1152 -86h24M1188 -86h12M-783 -96h12M-95 -96h24M-47 -96h24M0 -96h12M36 -96h12M95 -96h24M178 -96h12M214 -96h24M273 -96h12M309 -96h12M344 -96h24M1128 -96h24M-783 -106h12M-154 -106h12M-95 -106h12M-47 -106h24M24 -106h12M47 -106h12M119 -106h12M202 -106h12M249 -106h12M273 -106h12M308 -106h12M356 -106h12M913 -106h24M1186 -106h12M-877 -116h24M-818 -116h12M-782 -116h12M913 -116h12M936 -116h47M996 -116h12M1019 -116h12M1150 -116h12M1185 -116h12M-912 -126h12M-793 -126h12M959 -126h24M1006 -126h12M1172 -126h12M-911 -137h12M-887 -137h12M-852 -137h12M-792 -137h12M934 -137h12M970 -137h24M-910 -147h24M-874 -147h12M-827 -147h12M-792 -147h24M744 -147h12M792 -147h12M945 -147h12M993 -147h12M1134 -147h24M1170 -147h12M-921 -157h12M-862 -157h12M-838 -157h35M-767 -157h12M732 -157h12M1145 -157h12M-920 -167h12M-872 -167h12M-849 -167h35M778 -167h12M884 -167h12M955 -167h12M978 -167h12M1179 -167h12M-883 -177h12M-848 -177h12M-824 -177h24M-718 -177h12M683 -177h12M718 -177h12M789 -177h12M895 -177h12M989 -177h12M1154 -177h24M-905 -187h24M-858 -187h35M-788 -187h24M-729 -187h24M-682 -187h12M-623 -187h12M882 -187h12M929 -187h12M999 -187h12M1164 -187h24M-915 -197h12M-892 -197h59M-786 -197h23M-751 -197h12M-692 -197h59M-622 -197h23M880 -197h12M1021 -197h12M1103 -197h12M1162 -197h12M1185 -197h12M-891 -207h12M-844 -207h12M-750 -207h35M-680 -207h12M-633 -207h23M797 -207h23M996 -207h12M1020 -207h12M-866 -217h12M-831 -217h12M-807 -217h23M-772 -217h47M-702 -217h12M679 -217h12M737 -217h12M796 -217h12M901 -217h12M924 -217h12M1006 -217h12M-806 -228h12M-783 -228h12M-736 -228h23M-677 -228h12M-642 -228h12M642 -228h12M677 -228h12M771 -228h12M806 -228h12M934 -228h12M1005 -228h12M-758 -238h23M641 -238h12M665 -238h12M735 -238h12M875 -238h12M933 -238h12M-803 -248h35M-757 -248h23M710 -248h12M850 -248h12M908 -248h12M954 -248h12M1013 -248h12M1094 -248h12M790 -258h12M837 -258h23M918 -258h12M1011 -258h12M1057 -258h12M1115 -258h23M661 -268h12M707 -268h12M800 -268h12M986 -268h12M1079 -268h12M1113 -268h23M694 -278h23M741 -278h12M903 -278h12M937 -278h12M1065 -278h12M1088 -278h12M1111 -278h12M554 -288h12M773 -288h12M819 -288h12M854 -288h12M935 -288h46M1016 -288h12M1050 -288h12M1120 -288h12M771 -298h12M956 -298h12M1048 -298h12M1105 -298h12M-1022 -308h11M723 -308h11M792 -308h11M838 -308h11M976 -308h11M1034 -308h11M1068 -308h11M1114 -308h11M-1019 -319h11M722 -319h11M790 -319h23M962 -319h34M1077 -319h11M400 -329h11M445 -329h11M491 -329h11M754 -329h11M-1104 -339h11M410 -339h23M489 -339h11M535 -339h11M558 -339h11M922 -339h11M967 -339h11M1059 -339h11M-1066 -349h11M-1044 -349h11M-1010 -349h11M386 -349h34M442 -349h11M499 -349h11M522 -349h11M544 -349h23M976 -349h23M1032 -349h34M1191 -349h11M1214 -349h11M-1108 -359h11M-1085 -359h23M-1051 -359h11M-690 -359h23M-588 -359h11M362 -359h11M396 -359h34M452 -359h23M509 -359h11M531 -359h11M1085 -359h11M1221 -359h11M-1104 -369h11M-1036 -369h11M-687 -369h11M-552 -369h11M282 -369h11M372 -369h11M1205 -369h23M1251 -369h11M-1100 -379h11M-1078 -379h11M-921 -379h11M-775 -379h11M-674 -379h11M-617 -379h11M326 -379h11M382 -379h11M415 -379h22M494 -379h11M516 -379h11M539 -379h22M1190 -379h11M1246 -379h11M1269 -379h11M-1084 -389h22M-861 -389h11M-749 -389h11M-715 -389h11M-693 -389h11M-660 -389h22M-615 -389h11M-581 -389h11M-548 -389h11M-89 -389h11M0 -389h34M45 -389h11M112 -389h11M291 -389h11M324 -389h11M347 -389h11M425 -389h11M492 -389h11M514 -389h11M548 -389h11M1196 -389h11M1230 -389h11M1252 -389h11M-1091 -399h11M-879 -399h11M-846 -399h11M-657 -399h11M-623 -399h11M-601 -399h22M-545 -399h11M-56 -399h22M-22 -399h11M11 -399h11M100 -399h11M234 -399h11M256 -399h11M278 -399h11M323 -399h11M378 -399h11M445 -399h11M468 -399h11M501 -399h11M534 -399h22M1224 -399h11M1258 -399h22M-1097 -410h11M-1064 -410h11M-787 -410h11M-754 -410h11M-720 -410h11M-676 -410h22M-610 -410h11M-565 -410h22M-67 -410h11M-44 -410h22M33 -410h11M89 -410h33M244 -410h11M299 -410h11M366 -410h22M399 -410h22M510 -410h11M1208 -410h22M1241 -410h22M1275 -410h11M-728 -420h11M-66 -420h11M11 -420h11M33 -420h33M77 -420h11M121 -420h11M309 -420h11M342 -420h11M386 -420h11M430 -420h11M475 -420h11M497 -420h11M530 -420h22M1214 -420h22M1280 -420h11M-1033 -430h22M-857 -430h11M-670 -430h11M-593 -430h11M-539 -430h11M-22 -430h11M11 -430h11M44 -430h22M88 -430h11M121 -430h11M242 -430h11M341 -430h11M407 -430h11M451 -430h11M473 -430h11M506 -430h22M539 -430h11M1176 -430h22M1209 -430h11M1231 -430h11M1253 -430h11M-984 -440h11M-809 -440h11M-722 -440h11M-678 -440h11M-612 -440h11M-590 -440h11M-55 -440h44M0 -440h11M33 -440h11M66 -440h22M109 -440h22M197 -440h11M273 -440h11M328 -440h11M361 -440h11M416 -440h11M492 -440h11M514 -440h11M536 -440h11M1247 -440h11M-1110 -450h11M-1044 -450h11M-979 -450h11M-903 -450h11M-751 -450h11M-729 -450h33M-674 -450h22M-544 -450h11M-65 -450h11M-11 -450h33M109 -450h22M141 -450h22M337 -450h11M359 -450h22M446 -450h11M500 -450h11M674 -450h11M696 -450h11M1197 -450h22M1229 -450h11M-1082 -460h11M-1061 -460h22M-963 -460h11M-725 -460h11M-703 -460h11M-682 -460h11M-606 -460h11M-584 -460h22M-541 -460h11M-54 -460h11M-32 -460h11M22 -460h11M54 -460h22M108 -460h11M216 -460h11M314 -460h22M357 -460h11M390 -460h22M422 -460h11M465 -460h11M552 -460h32M595 -460h11M671 -460h22M714 -460h22M1180 -460h11M-1076 -470h11M-1012 -470h11M-990 -470h11M-958 -470h11M-754 -470h11M-732 -470h11M-710 -470h11M-678 -470h11M-657 -470h11M-614 -470h11M-571 -470h11M-549 -470h11M-22 -470h22M11 -470h11M65 -470h11M86 -470h11M118 -470h22M355 -470h22M388 -470h11M409 -470h11M431 -470h22M474 -470h22M517 -470h11M549 -470h11M624 -470h11M732 -470h11M1216 -470h32M-942 -480h11M-814 -480h11M-728 -480h11M-696 -480h11M-664 -480h43M-568 -480h21M-64 -480h43M11 -480h11M54 -480h11M86 -480h11M118 -480h43M257 -480h11M289 -480h11M311 -480h21M353 -480h21M396 -480h11M493 -480h21M525 -480h11M675 -480h11M707 -480h11M1242 -480h11M-1054 -490h11M-809 -490h11M-777 -490h11M-756 -490h11M-735 -490h11M-681 -490h43M-586 -490h11M-43 -490h32M11 -490h11M43 -490h32M96 -490h11M160 -490h11M213 -490h11M266 -490h21M319 -490h21M394 -490h11M479 -490h11M522 -490h32M575 -490h11M607 -490h11M671 -490h11M-1069 -499h11M-1048 -499h11M-942 -499h11M-900 -499h11M-783 -499h11M-762 -499h11M-688 -499h11M-656 -499h11M-635 -499h11M-572 -499h21M-42 -499h21M-11 -499h11M11 -499h11M138 -499h21M201 -499h21M370 -499h11M445 -499h21M476 -499h11M550 -499h21M635 -499h11M656 -499h11M741 -499h32M-1063 -509h11M-936 -509h11M-831 -509h11M-747 -509h11M-694 -509h11M-663 -509h21M-568 -509h11M-516 -509h11M-452 -509h11M-74 -509h11M-11 -509h11M84 -509h11M105 -509h21M158 -509h11M200 -509h21M379 -509h11M421 -509h11M452 -509h11M473 -509h11M505 -509h11M526 -509h11M600 -509h21M631 -509h11M684 -509h11M705 -509h11M779 -509h21M-941 -519h10M-920 -519h21M-690 -519h10M-659 -519h10M-607 -519h10M-544 -519h10M-523 -519h10M-492 -519h10M-471 -519h21M-63 -519h10M73 -519h21M188 -519h10M282 -519h10M303 -519h10M387 -519h10M471 -519h10M502 -519h10M554 -519h10M628 -519h10M659 -519h10M732 -519h21M-593 -529h10M-551 -529h10M-520 -529h10M-489 -529h10M-468 -529h10M-83 -529h31M-31 -529h10M-10 -529h10M73 -529h10M177 -529h10M239 -529h21M281 -529h10M312 -529h10M405 -529h10M426 -529h10M457 -529h10M509 -529h10M530 -529h10M551 -529h10M582 -529h10M624 -529h10M676 -529h21M728 -529h10M748 -529h21"/><path stroke="#a0d7f5" stroke-width="5.5" d="M-971 -852h7M-951 -852h7M-910 -852h13M-890 -852h13M-850 -852h7M-836 -852h7M-823 -852h7M-803 -852h7M-789 -852h7M-762 -852h7M-749 -852h13M-728 -852h13M-708 -852h13M-681 -852h7M-661 -852h34M-614 -852h7M-593 -852h7M-580 -852h7M-546 -852h20M-519 -852h7M-459 -852h13M-391 -852h7M-378 -852h7M-351 -852h7M-303 -852h7M-290 -852h13M-270 -852h13M-250 -852h7M-223 -852h7M-202 -852h7M-155 -852h20M-115 -852h13M-67 -852h20M-40 -852h34M20 -852h7M34 -852h7M47 -852h13M94 -852h7M148 -852h7M189 -852h7M202 -852h7M236 -852h7M250 -852h40M297 -852h7M310 -852h7M324 -852h7M364 -852h7M391 -852h13M425 -852h7M438 -852h7M452 -852h7M540 -852h7M553 -852h7M567 -852h13M587 -852h27M627 -852h13M668 -852h7M708 -852h7M755 -852h7M769 -852h13M796 -852h7M830 -852h7M917 -852h7M937 -852h7M951 -852h7M-958 -856h7M-885 -856h7M-819 -856h13M-739 -856h27M-705 -856h7M-679 -856h7M-659 -856h7M-646 -856h27M-592 -856h7M-579 -856h7M-526 -856h7M-512 -856h7M-472 -856h7M-446 -856h7M-406 -856h7M-393 -856h27M-353 -856h7M-313 -856h7M-293 -856h20M-220 -856h27M-180 -856h13M-160 -856h7M-146 -856h7M-126 -856h7M-113 -856h13M-80 -856h7M-60 -856h13M-40 -856h13M-20 -856h20M27 -856h7M100 -856h20M146 -856h7M200 -856h13M226 -856h13M246 -856h27M280 -856h7M306 -856h13M333 -856h13M399 -856h7M413 -856h13M446 -856h7M519 -856h7M539 -856h7M572 -856h7M586 -856h13M606 -856h7M626 -856h7M685 -856h13M759 -856h7M825 -856h7M878 -856h7M892 -856h7M905 -856h20M932 -856h7M-886 -860h7M-873 -860h7M-854 -860h7M-827 -860h7M-814 -860h20M-781 -860h20M-748 -860h13M-729 -860h7M-709 -860h7M-683 -860h7M-670 -860h7M-657 -860h7M-630 -860h26M-597 -860h20M-492 -860h7M-473 -860h7M-427 -860h20M-381 -860h26M-295 -860h13M-263 -860h13M-184 -860h7M-171 -860h7M-144 -860h39M-98 -860h7M-46 -860h20M-20 -860h13M66 -860h7M79 -860h7M92 -860h7M164 -860h7M197 -860h7M236 -860h7M249 -860h39M295 -860h7M328 -860h7M348 -860h7M361 -860h7M374 -860h7M400 -860h7M499 -860h13M578 -860h20M604 -860h7M624 -860h7M663 -860h7M722 -860h7M742 -860h7M755 -860h7M768 -860h13M801 -860h7M919 -860h7M-920 -864h6M-861 -864h6M-842 -864h6M-829 -864h6M-797 -864h6M-764 -864h13M-732 -864h6M-712 -864h6M-686 -864h19M-661 -864h13M-628 -864h6M-615 -864h45M-538 -864h6M-492 -864h6M-466 -864h6M-447 -864h6M-427 -864h19M-395 -864h19M-324 -864h19M-285 -864h6M-233 -864h6M-220 -864h6M-207 -864h6M-123 -864h6M-110 -864h26M-32 -864h6M-19 -864h13M0 -864h6M32 -864h6M45 -864h6M71 -864h13M104 -864h6M136 -864h6M168 -864h13M233 -864h6M246 -864h13M266 -864h6M337 -864h6M350 -864h13M382 -864h6M427 -864h13M512 -864h6M538 -864h6M570 -864h6M596 -864h6M615 -864h6M628 -864h13M674 -864h6M725 -864h39M784 -864h6M894 -864h6M907 -864h6M-920 -868h13M-856 -868h6M-837 -868h6M-824 -868h13M-805 -868h26M-760 -868h6M-747 -868h13M-709 -868h6M-677 -868h38M-600 -868h13M-575 -868h6M-511 -868h6M-460 -868h6M-434 -868h32M-383 -868h13M-351 -868h6M-287 -868h6M-268 -868h6M-255 -868h6M-243 -868h6M-211 -868h6M-192 -868h26M-141 -868h13M-121 -868h13M-102 -868h6M-89 -868h6M-64 -868h6M-32 -868h6M-19 -868h6M26 -868h19M51 -868h13M70 -868h6M141 -868h6M160 -868h19M204 -868h6M217 -868h13M236 -868h6M249 -868h6M262 -868h6M275 -868h6M351 -868h13M377 -868h26M409 -868h6M434 -868h6M447 -868h6M460 -868h6M473 -868h6M498 -868h13M517 -868h6M530 -868h6M549 -868h6M575 -868h6M607 -868h13M645 -868h6M664 -868h6M690 -868h13M709 -868h13M741 -868h13M766 -868h26M798 -868h6M837 -868h13M856 -868h6M869 -868h6M881 -868h6M901 -868h6"/><path stroke="#a0d7f5" stroke-width="7" d="M-971 -848h7M-950 -848h7M-937 -848h7M-923 -848h14M-896 -848h7M-875 -848h55M-793 -848h7M-773 -848h7M-752 -848h21M-725 -848h7M-704 -848h7M-691 -848h14M-670 -848h21M-643 -848h14M-615 -848h14M-581 -848h7M-540 -848h14M-506 -848h7M-485 -848h7M-465 -848h7M-438 -848h7M-424 -848h7M-55 -848h14M-14 -848h21M14 -848h7M27 -848h41M96 -848h14M185 -848h21M226 -848h7M239 -848h14M260 -848h7M287 -848h7M301 -848h14M335 -848h14M356 -848h14M383 -848h21M431 -848h14M451 -848h14M472 -848h14M513 -848h14M533 -848h7M581 -848h7M595 -848h7M608 -848h7M629 -848h7M643 -848h14M663 -848h7M704 -848h7M738 -848h14M766 -848h7M814 -848h14M834 -848h7M882 -848h21M957 -848h21"/><path stroke="#a0d7f5" stroke-width="7.5" d="M-1033 -824h7M-1011 -824h7M-990 -824h22M-946 -824h7M-931 -824h22M-902 -824h15M-844 -824h15M-808 -824h7M-771 -824h7M-757 -824h7M-742 -824h95M-633 -824h22M-604 -824h15M-568 -824h7M-546 -824h22M-495 -824h15M-58 -824h29M-7 -824h22M36 -824h7M73 -824h7M109 -824h7M131 -824h7M175 -824h7M226 -824h22M262 -824h7M284 -824h7M298 -824h29M371 -824h15M393 -824h7M407 -824h7M458 -824h7M480 -824h15M517 -824h15M538 -824h15M560 -824h7M589 -824h7M626 -824h7M640 -824h7M655 -824h7M669 -824h29M706 -824h7M786 -824h7M800 -824h22M829 -824h7M859 -824h7M880 -824h7M924 -824h7M939 -824h22M982 -824h15M1004 -824h7M1019 -824h7M1040 -824h7M-1010 -830h21M-960 -830h7M-946 -830h7M-924 -830h29M-889 -830h14M-853 -830h7M-817 -830h7M-803 -830h7M-767 -830h7M-752 -830h14M-731 -830h21M-702 -830h29M-631 -830h14M-595 -830h14M-573 -830h14M-516 -830h14M-494 -830h21M-459 -830h14M-50 -830h7M-14 -830h36M72 -830h7M93 -830h7M150 -830h50M222 -830h7M272 -830h14M294 -830h14M330 -830h7M373 -830h7M394 -830h14M423 -830h14M466 -830h7M480 -830h7M494 -830h7M509 -830h36M552 -830h7M609 -830h14M645 -830h14M695 -830h7M760 -830h7M774 -830h14M810 -830h7M831 -830h7M846 -830h36M917 -830h7M932 -830h7M946 -830h14M967 -830h7M982 -830h14M1003 -830h14M-1002 -836h7M-988 -836h14M-946 -836h7M-917 -836h7M-903 -836h42M-811 -836h7M-783 -836h7M-734 -836h7M-720 -836h14M-699 -836h7M-642 -836h21M-579 -836h14M-487 -836h14M-466 -836h7M-452 -836h7M-437 -836h7M-56 -836h21M-21 -836h7M0 -836h7M64 -836h21M113 -836h14M141 -836h7M169 -836h7M183 -836h21M240 -836h7M268 -836h7M282 -836h7M303 -836h21M360 -836h14M402 -836h28M437 -836h21M494 -836h7M522 -836h7M536 -836h7M550 -836h7M565 -836h7M649 -836h7M663 -836h7M699 -836h7M748 -836h7M762 -836h14M804 -836h7M819 -836h7M833 -836h14M854 -836h14M896 -836h7M924 -836h7M974 -836h21M1002 -836h7M-1000 -842h49M-945 -842h7M-931 -842h7M-896 -842h7M-875 -842h21M-841 -842h7M-785 -842h7M-771 -842h7M-729 -842h7M-702 -842h14M-660 -842h14M-639 -842h14M-618 -842h7M-577 -842h7M-556 -842h7M-472 -842h35M-431 -842h14M-56 -842h7M-42 -842h14M-7 -842h7M56 -842h14M97 -842h21M125 -842h7M188 -842h21M271 -842h14M292 -842h21M320 -842h7M354 -842h7M375 -842h14M410 -842h7M431 -842h7M445 -842h7M458 -842h14M479 -842h7M493 -842h7M514 -842h7M584 -842h14M632 -842h14M653 -842h7M667 -842h7M743 -842h7M778 -842h7M792 -842h14M827 -842h7M841 -842h7M868 -842h7M882 -842h14M910 -842h7M945 -842h7M993 -842h7"/><path stroke="#a0d7f5" stroke-width="8" d="M-1034 -818h30M-997 -818h15M-960 -818h22M-916 -818h7M-901 -818h7M-871 -818h7M-849 -818h7M-783 -818h7M-746 -818h15M-709 -818h7M-694 -818h15M-672 -818h7M-598 -818h7M-583 -818h7M-532 -818h7M-510 -818h30M-473 -818h7M-44 -818h66M30 -818h7M103 -818h15M140 -818h7M185 -818h7M266 -818h7M295 -818h30M340 -818h7M362 -818h7M384 -818h15M421 -818h7M443 -818h22M473 -818h7M487 -818h22M532 -818h7M547 -818h7M569 -818h7M613 -818h7M635 -818h7M665 -818h7M687 -818h7M724 -818h7M753 -818h7M775 -818h7M790 -818h7M820 -818h7M835 -818h15M894 -818h7M916 -818h7M931 -818h7M975 -818h7M997 -818h7"/><path stroke="#a0d7f5" stroke-width="9" d="M-1147 -781h8M-956 -781h8M-892 -781h8M-812 -781h16M-788 -781h8M-701 -781h8M-581 -781h8M-558 -781h8M-40 -781h16M-16 -781h8M8 -781h8M24 -781h16M72 -781h8M88 -781h16M119 -781h8M151 -781h8M183 -781h32M223 -781h8M335 -781h8M366 -781h16M398 -781h40M446 -781h8M462 -781h32M502 -781h16M534 -781h32M573 -781h24M613 -781h16M669 -781h16M709 -781h8M733 -781h16M765 -781h8M788 -781h8M812 -781h16M852 -781h8M876 -781h32M932 -781h8M980 -781h16M1004 -781h24M1043 -781h40M1115 -781h8M1131 -781h16M-1130 -789h16M-1083 -789h8M-1060 -789h8M-1036 -789h8M-989 -789h8M-965 -789h16M-934 -789h8M-863 -789h8M-824 -789h8M-785 -789h8M-746 -789h8M-683 -789h8M-620 -789h16M-581 -789h8M-534 -789h8M8 -789h8M24 -789h8M39 -789h16M94 -789h8M118 -789h8M141 -789h8M157 -789h8M173 -789h39M220 -789h8M235 -789h8M283 -789h16M306 -789h8M353 -789h8M377 -789h31M432 -789h8M447 -789h8M463 -789h31M510 -789h16M534 -789h47M612 -789h8M659 -789h16M699 -789h8M714 -789h24M753 -789h47M816 -789h16M848 -789h16M871 -789h24M918 -789h8M957 -789h16M981 -789h24M1012 -789h8M1036 -789h8M1060 -789h16M1091 -789h8M1107 -789h8M-1098 -796h8M-990 -796h8M-851 -796h8M-781 -796h15M-750 -796h8M-665 -796h8M-642 -796h8M-626 -796h8M-588 -796h8M-534 -796h15M15 -796h23M70 -796h8M85 -796h15M116 -796h15M170 -796h8M201 -796h8M217 -796h8M232 -796h8M255 -796h23M294 -796h8M317 -796h31M363 -796h8M379 -796h15M448 -796h8M464 -796h46M564 -796h8M642 -796h15M680 -796h8M711 -796h15M742 -796h15M766 -796h23M812 -796h8M827 -796h8M858 -796h15M889 -796h23M936 -796h39M990 -796h31M1028 -796h15M1067 -796h8M1090 -796h23M-1082 -804h8M-1059 -804h15M-983 -804h23M-922 -804h23M-884 -804h8M-807 -804h8M-731 -804h8M-685 -804h8M-625 -804h30M-556 -804h8M-487 -804h8M-15 -804h30M30 -804h8M46 -804h8M76 -804h8M99 -804h8M122 -804h8M152 -804h15M198 -804h8M244 -804h15M282 -804h15M305 -804h8M328 -804h8M366 -804h38M442 -804h8M480 -804h8M503 -804h15M526 -804h8M541 -804h8M556 -804h15M609 -804h38M663 -804h15M716 -804h8M746 -804h8M784 -804h8M815 -804h8M853 -804h15M876 -804h8M922 -804h8M944 -804h8M960 -804h15M1021 -804h8M1036 -804h15M1082 -804h8M-1073 -811h8M-1058 -811h8M-1043 -811h8M-990 -811h8M-945 -811h8M-930 -811h8M-908 -811h15M-870 -811h8M-840 -811h8M-803 -811h8M-788 -811h8M-735 -811h8M-720 -811h8M-675 -811h8M-630 -811h8M-570 -811h8M-548 -811h8M-488 -811h8M-473 -811h8M-458 -811h8M-23 -811h30M23 -811h15M60 -811h8M105 -811h15M128 -811h8M210 -811h15M248 -811h8M263 -811h8M278 -811h30M323 -811h8M338 -811h30M390 -811h8M413 -811h8M435 -811h15M458 -811h8M473 -811h8M518 -811h23M563 -811h8M578 -811h45M630 -811h23M660 -811h15M698 -811h15M728 -811h15M765 -811h8M893 -811h15M915 -811h38M1005 -811h8M1020 -811h23M1058 -811h8M1073 -811h8"/><path stroke="#a0d7f5" stroke-width="9.5" d="M-1204 -741h17M-1068 -741h8M-822 -741h8M-755 -741h8M-729 -741h8M-712 -741h8M-653 -741h8M-636 -741h8M-594 -741h8M-577 -741h8M-51 -741h8M-25 -741h25M59 -741h8M93 -741h17M136 -741h8M170 -741h51M271 -741h25M314 -741h17M356 -741h76M449 -741h17M475 -741h17M500 -741h17M526 -741h34M568 -741h8M585 -741h25M619 -741h42M695 -741h8M729 -741h8M755 -741h34M805 -741h8M831 -741h8M865 -741h8M890 -741h25M941 -741h17M992 -741h42M1043 -741h85M1145 -741h17M1196 -741h8M-1198 -749h8M-1164 -749h8M-1148 -749h8M-1131 -749h8M-1056 -749h17M-997 -749h8M-980 -749h8M-930 -749h17M-888 -749h8M-821 -749h17M-779 -749h8M-762 -749h8M-737 -749h34M-695 -749h8M-645 -749h8M-612 -749h8M-586 -749h25M-536 -749h8M-67 -749h17M-8 -749h50M67 -749h17M92 -749h8M151 -749h8M168 -749h17M243 -749h8M276 -749h50M335 -749h8M352 -749h17M377 -749h50M444 -749h67M536 -749h50M603 -749h17M628 -749h59M737 -749h8M754 -749h8M771 -749h34M821 -749h8M854 -749h17M880 -749h17M913 -749h8M930 -749h34M997 -749h8M1030 -749h42M1089 -749h8M1106 -749h34M1148 -749h8M1173 -749h8M-1192 -757h25M-1159 -757h8M-1142 -757h8M-1126 -757h8M-1026 -757h25M-993 -757h8M-919 -757h8M-811 -757h8M-770 -757h8M-728 -757h41M-654 -757h8M-629 -757h8M-596 -757h8M-563 -757h8M-66 -757h8M-17 -757h41M33 -757h8M50 -757h8M66 -757h25M108 -757h25M157 -757h8M174 -757h25M223 -757h17M248 -757h17M273 -757h66M348 -757h17M372 -757h8M397 -757h8M414 -757h8M430 -757h41M488 -757h17M521 -757h8M538 -757h17M563 -757h8M579 -757h8M612 -757h41M670 -757h8M703 -757h33M745 -757h25M778 -757h8M803 -757h8M852 -757h25M886 -757h33M927 -757h25M960 -757h41M1010 -757h8M1026 -757h83M1150 -757h8M-1177 -765h16M-1112 -765h8M-1095 -765h8M-1005 -765h8M-973 -765h8M-932 -765h8M-899 -765h8M-703 -765h16M-646 -765h8M-597 -765h8M-580 -765h8M-57 -765h8M-41 -765h8M-8 -765h16M16 -765h8M33 -765h16M82 -765h8M114 -765h8M147 -765h8M163 -765h8M196 -765h16M221 -765h8M237 -765h16M262 -765h33M302 -765h16M368 -765h8M401 -765h8M458 -765h33M540 -765h16M564 -765h33M613 -765h8M678 -765h16M703 -765h16M728 -765h16M760 -765h16M842 -765h33M883 -765h8M907 -765h8M956 -765h16M981 -765h16M1014 -765h16M1038 -765h25M1071 -765h16M1104 -765h8M1120 -765h8M1169 -765h8M-1082 -773h16M-1009 -773h8M-961 -773h8M-751 -773h8M-710 -773h8M-678 -773h8M-589 -773h16M-549 -773h8M-48 -773h16M8 -773h8M24 -773h24M81 -773h24M113 -773h8M161 -773h24M194 -773h32M242 -773h8M274 -773h8M291 -773h8M315 -773h8M331 -773h24M363 -773h8M388 -773h16M412 -773h16M436 -773h8M452 -773h8M468 -773h24M501 -773h8M533 -773h24M565 -773h8M581 -773h40M654 -773h48M735 -773h16M775 -773h8M791 -773h8M823 -773h8M840 -773h32M880 -773h32M953 -773h8M969 -773h8M993 -773h48M1074 -773h8M1106 -773h24M1146 -773h8"/><path stroke="#a0d7f5" stroke-width="10" d="M-1288 -698h9M-1261 -698h18M-1208 -698h9M-1109 -698h9M-930 -698h9M-912 -698h36M-859 -698h9M-841 -698h9M-823 -698h9M-805 -698h18M-743 -698h9M-725 -698h9M-662 -698h27M-581 -698h9M-54 -698h18M-9 -698h9M54 -698h9M81 -698h27M134 -698h9M197 -698h9M215 -698h27M259 -698h9M277 -698h18M304 -698h9M322 -698h9M358 -698h9M394 -698h18M420 -698h18M465 -698h36M510 -698h45M564 -698h18M590 -698h9M608 -698h9M626 -698h98M743 -698h36M787 -698h27M832 -698h9M850 -698h9M877 -698h18M904 -698h9M921 -698h36M966 -698h54M1038 -698h27M1082 -698h18M1127 -698h18M1154 -698h18M1181 -698h36M1226 -698h18M1252 -698h27M-1231 -706h18M-1204 -706h9M-1186 -706h18M-1142 -706h18M-1098 -706h9M-1001 -706h9M-885 -706h18M-761 -706h9M-691 -706h9M-664 -706h27M-620 -706h9M-593 -706h9M-27 -706h9M9 -706h18M62 -706h9M97 -706h18M142 -706h9M168 -706h9M195 -706h9M212 -706h9M230 -706h9M257 -706h9M274 -706h9M301 -706h9M328 -706h9M372 -706h9M398 -706h27M452 -706h115M593 -706h9M620 -706h18M664 -706h9M682 -706h9M699 -706h9M717 -706h44M788 -706h9M806 -706h27M859 -706h27M894 -706h9M912 -706h9M930 -706h27M965 -706h9M992 -706h35M1036 -706h18M1071 -706h18M1098 -706h27M1151 -706h35M1213 -706h44M-1200 -715h26M-1165 -715h9M-1139 -715h9M-1069 -715h18M-999 -715h18M-876 -715h18M-841 -715h9M-780 -715h9M-736 -715h9M-675 -715h26M-631 -715h9M-613 -715h9M-578 -715h9M0 -715h18M61 -715h9M140 -715h18M175 -715h9M245 -715h18M272 -715h18M298 -715h18M324 -715h18M377 -715h18M403 -715h53M464 -715h35M508 -715h18M543 -715h18M570 -715h35M622 -715h26M657 -715h35M701 -715h9M719 -715h96M850 -715h18M876 -715h18M920 -715h18M955 -715h9M981 -715h26M1016 -715h35M1130 -715h88M1227 -715h9M1244 -715h9M-1197 -724h9M-1171 -724h17M-1145 -724h9M-1127 -724h9M-1014 -724h17M-954 -724h17M-884 -724h9M-858 -724h17M-763 -724h9M-685 -724h9M-668 -724h17M-642 -724h9M-624 -724h9M-35 -724h17M9 -724h26M52 -724h9M78 -724h17M147 -724h9M182 -724h26M217 -724h9M243 -724h9M277 -724h9M303 -724h9M364 -724h9M382 -724h26M416 -724h26M451 -724h17M477 -724h9M503 -724h9M529 -724h9M546 -724h35M590 -724h87M685 -724h43M746 -724h9M806 -724h9M832 -724h26M867 -724h9M902 -724h9M919 -724h9M954 -724h9M971 -724h9M997 -724h9M1014 -724h9M1040 -724h9M1066 -724h26M1110 -724h17M1145 -724h43M1197 -724h17M-1210 -732h17M-1184 -732h9M-1132 -732h17M-1072 -732h17M-1038 -732h9M-1004 -732h17M-944 -732h9M-806 -732h9M-721 -732h17M-669 -732h17M-618 -732h9M-51 -732h9M-26 -732h9M-9 -732h9M9 -732h17M77 -732h9M154 -732h9M232 -732h17M257 -732h9M275 -732h9M326 -732h9M343 -732h86M446 -732h43M532 -732h9M558 -732h60M643 -732h17M678 -732h9M695 -732h9M738 -732h17M763 -732h43M824 -732h51M884 -732h9M909 -732h9M926 -732h9M944 -732h9M961 -732h9M978 -732h9M995 -732h9M1012 -732h34M1064 -732h26M1107 -732h9M1124 -732h17M1150 -732h9"/><path stroke="#a0d7f5" stroke-width="10.5" d="M-1364 -644h9M-1298 -644h9M-1279 -644h9M-1213 -644h19M-1184 -644h9M-1165 -644h9M-1137 -644h28M-1080 -644h19M-1052 -644h19M-1023 -644h9M-1004 -644h9M-985 -644h9M-966 -644h19M-890 -644h9M-872 -644h19M-834 -644h9M-729 -644h19M-692 -644h9M-587 -644h19M-66 -644h9M-47 -644h9M-28 -644h9M9 -644h19M57 -644h19M104 -644h9M189 -644h9M218 -644h9M332 -644h9M360 -644h66M436 -644h9M464 -644h38M512 -644h9M530 -644h19M568 -644h9M597 -644h9M635 -644h9M673 -644h9M692 -644h9M710 -644h28M748 -644h9M815 -644h47M890 -644h9M909 -644h9M928 -644h19M985 -644h9M1023 -644h19M1061 -644h9M1080 -644h9M1108 -644h9M1137 -644h19M1165 -644h9M1184 -644h9M1203 -644h9M1250 -644h9M1269 -644h19M1298 -644h9M1336 -644h28M-1352 -653h19M-1323 -653h38M-1277 -653h19M-1211 -653h9M-1183 -653h19M-1145 -653h9M-1108 -653h19M-1051 -653h9M-1023 -653h9M-986 -653h9M-967 -653h9M-920 -653h9M-882 -653h9M-798 -653h9M-732 -653h19M-704 -653h9M-685 -653h9M-619 -653h9M-56 -653h9M0 -653h9M28 -653h9M84 -653h9M103 -653h19M131 -653h9M178 -653h9M197 -653h9M235 -653h9M253 -653h19M300 -653h9M319 -653h19M357 -653h9M385 -653h19M422 -653h9M441 -653h9M460 -653h28M507 -653h38M554 -653h19M582 -653h9M619 -653h9M638 -653h9M657 -653h9M676 -653h56M742 -653h9M798 -653h19M826 -653h9M845 -653h19M873 -653h9M892 -653h19M920 -653h9M948 -653h9M967 -653h19M995 -653h38M1051 -653h19M1117 -653h19M1145 -653h19M1239 -653h9M1277 -653h9M1295 -653h9M1323 -653h28M-1339 -662h19M-1311 -662h19M-1274 -662h9M-1209 -662h9M-1190 -662h19M-1162 -662h9M-1107 -662h19M-1032 -662h9M-986 -662h28M-939 -662h19M-911 -662h9M-883 -662h9M-865 -662h9M-837 -662h19M-800 -662h9M-763 -662h9M-725 -662h9M-670 -662h9M-604 -662h9M-65 -662h19M-37 -662h19M19 -662h28M112 -662h9M130 -662h9M158 -662h9M186 -662h9M223 -662h28M260 -662h9M298 -662h9M325 -662h9M353 -662h9M372 -662h28M409 -662h9M428 -662h37M484 -662h9M511 -662h28M558 -662h28M595 -662h37M670 -662h28M707 -662h19M735 -662h19M772 -662h9M800 -662h19M874 -662h19M902 -662h19M930 -662h9M949 -662h9M967 -662h74M1051 -662h19M1088 -662h9M1116 -662h19M1162 -662h9M1200 -662h9M1228 -662h19M1255 -662h19M1283 -662h46M-1317 -671h9M-1299 -671h9M-1170 -671h9M-1152 -671h18M-930 -671h9M-884 -671h9M-829 -671h9M-765 -671h9M-673 -671h9M-654 -671h9M-608 -671h18M-46 -671h9M28 -671h18M138 -671h9M157 -671h18M184 -671h9M203 -671h9M221 -671h18M258 -671h18M286 -671h18M313 -671h9M359 -671h18M387 -671h9M415 -671h28M451 -671h9M516 -671h37M562 -671h28M608 -671h9M626 -671h9M682 -671h55M746 -671h74M829 -671h18M857 -671h37M903 -671h18M940 -671h46M995 -671h28M1059 -671h37M1152 -671h37M1207 -671h9M1234 -671h9M1253 -671h9M1281 -671h28M1317 -671h9M-1314 -680h9M-1296 -680h9M-1241 -680h9M-1214 -680h9M-1186 -680h9M-1150 -680h27M-1095 -680h9M-1031 -680h9M-986 -680h9M-858 -680h27M-794 -680h18M-767 -680h9M-657 -680h46M-566 -680h9M-46 -680h9M-9 -680h18M27 -680h9M46 -680h27M128 -680h9M155 -680h18M210 -680h9M228 -680h27M265 -680h9M283 -680h82M374 -680h9M392 -680h9M447 -680h9M493 -680h9M511 -680h9M529 -680h9M575 -680h46M639 -680h18M666 -680h164M840 -680h18M867 -680h18M903 -680h18M931 -680h55M995 -680h9M1013 -680h37M1059 -680h9M1077 -680h27M1113 -680h27M1150 -680h110M1268 -680h27M1305 -680h9M-1301 -689h9M-1274 -689h9M-1256 -689h9M-1175 -689h9M-1157 -689h27M-1003 -689h9M-868 -689h9M-813 -689h18M-768 -689h9M-660 -689h18M-633 -689h9M-54 -689h36M0 -689h9M36 -689h18M81 -689h9M108 -689h9M154 -689h18M190 -689h9M208 -689h63M280 -689h36M325 -689h9M343 -689h27M416 -689h9M434 -689h18M479 -689h27M515 -689h27M551 -689h9M569 -689h18M606 -689h45M660 -689h127M804 -689h18M831 -689h18M859 -689h9M886 -689h9M904 -689h136M1048 -689h9M1103 -689h18M1139 -689h9M1157 -689h36M1202 -689h45M1256 -689h9M1274 -689h27"/><path stroke="#a0d7f5" stroke-width="11" d="M-1357 634h10M-1338 634h10M-1319 634h29M-1281 634h10M-1156 634h57M-1090 634h10M-1032 634h10M-1013 634h10M-984 634h19M-918 634h10M-879 634h29M-841 634h10M-803 634h10M-765 634h48M-602 634h10M-583 634h19M-554 634h10M-468 634h10M-430 634h29M-382 634h10M-248 634h19M-210 634h38M-134 634h19M-105 634h48M-48 634h10M-10 634h10M19 634h38M67 634h38M143 634h10M210 634h29M268 634h10M287 634h10M382 634h19M440 634h19M487 634h19M526 634h10M659 634h10M994 634h10M1061 634h19M1090 634h10M1128 634h19M1156 634h10M1242 634h10M1328 634h38M-1388 625h58M-1311 625h10M-1292 625h19M-1263 625h10M-1243 625h10M-1214 625h29M-1176 625h19M-1137 625h10M-1022 625h10M-935 625h10M-896 625h10M-877 625h10M-848 625h19M-819 625h10M-800 625h29M-761 625h19M-713 625h10M-665 625h39M-598 625h10M-578 625h19M-540 625h10M-482 625h10M-424 625h39M-376 625h19M-212 625h10M-164 625h10M-106 625h10M-87 625h10M-67 625h10M-39 625h67M39 625h19M87 625h10M135 625h10M164 625h10M183 625h10M202 625h19M260 625h10M280 625h10M308 625h19M424 625h29M511 625h10M540 625h10M713 625h10M733 625h10M752 625h10M771 625h10M829 625h10M954 625h10M1031 625h10M1070 625h39M1118 625h19M1166 625h29M1214 625h10M1243 625h39M1292 625h10M1311 625h10M1369 625h19M-1361 616h10M-1312 616h10M-1264 616h10M-1147 616h10M-1079 616h19M-991 616h10M-885 616h49M-768 616h19M-719 616h10M-680 616h10M-661 616h19M-612 616h10M-486 616h10M-437 616h29M-389 616h29M-350 616h10M-321 616h10M-253 616h10M-214 616h10M-185 616h10M-156 616h10M-126 616h19M-87 616h29M-49 616h19M-19 616h10M19 616h19M49 616h10M78 616h19M107 616h10M126 616h39M194 616h19M224 616h10M292 616h10M311 616h10M330 616h10M418 616h19M457 616h10M496 616h10M525 616h10M544 616h10M573 616h10M612 616h29M661 616h10M690 616h10M748 616h49M826 616h10M855 616h19M885 616h10M904 616h29M943 616h10M962 616h10M982 616h10M1021 616h10M1069 616h10M1089 616h29M1128 616h19M1186 616h19M1215 616h29M1254 616h10M1293 616h19M1361 616h10M-1333 606h10M-1304 606h10M-1264 606h20M-1206 606h10M-1157 606h10M-1137 606h10M-1088 606h10M-1068 606h10M-970 606h10M-941 606h10M-921 606h20M-882 606h49M-814 606h10M-784 606h10M-686 606h20M-657 606h20M-627 606h10M-608 606h20M-510 606h10M-490 606h10M-451 606h29M-392 606h20M-323 606h10M-304 606h10M-284 606h10M-265 606h10M-186 606h20M-157 606h10M-137 606h29M-88 606h49M-20 606h29M39 606h10M78 606h39M157 606h20M206 606h10M274 606h29M392 606h10M412 606h10M451 606h20M480 606h10M529 606h10M549 606h10M617 606h39M725 606h29M784 606h29M843 606h39M912 606h20M961 606h10M980 606h20M1010 606h10M1117 606h39M1176 606h20M1206 606h10M1264 606h20M1313 606h10M1362 606h20M-1413 597h20M-1384 597h30M-1344 597h20M-1295 597h10M-1166 597h20M-1137 597h20M-1067 597h10M-1048 597h10M-998 597h10M-978 597h20M-949 597h20M-919 597h10M-889 597h20M-860 597h10M-840 597h20M-810 597h20M-751 597h10M-672 597h20M-623 597h20M-593 597h10M-573 597h30M-504 597h20M-445 597h10M-425 597h20M-356 597h10M-336 597h10M-296 597h20M-257 597h10M-237 597h10M-217 597h10M-158 597h20M-128 597h20M-99 597h10M-79 597h10M-49 597h10M-30 597h10M10 597h10M59 597h40M109 597h10M158 597h10M178 597h10M198 597h10M217 597h20M267 597h10M306 597h10M336 597h20M395 597h30M435 597h10M504 597h49M563 597h10M632 597h10M702 597h10M731 597h40M820 597h10M840 597h20M870 597h10M909 597h10M929 597h10M978 597h20M1018 597h20M1067 597h10M1087 597h20M1176 597h20M1206 597h10M1225 597h40M1295 597h30M1374 597h30M-1395 587h30M-1345 587h20M-1275 587h10M-1225 587h10M-1205 587h10M-1176 587h20M-1146 587h20M-1086 587h40M-996 587h60M-927 587h10M-907 587h10M-887 587h10M-867 587h110M-747 587h30M-697 587h10M-667 587h10M-598 587h10M-578 587h10M-558 587h20M-508 587h20M-458 587h30M-399 587h10M-369 587h10M-339 587h20M-309 587h10M-279 587h20M-249 587h10M-169 587h10M-149 587h10M-120 587h10M-90 587h30M-50 587h10M-30 587h10M-10 587h10M50 587h10M80 587h10M130 587h10M149 587h20M179 587h10M259 587h10M279 587h10M339 587h20M399 587h10M418 587h10M438 587h10M458 587h10M478 587h10M548 587h10M628 587h50M727 587h10M757 587h30M807 587h10M827 587h10M1036 587h10M1076 587h10M1136 587h10M1156 587h10M1225 587h20M1255 587h20M1285 587h10M1305 587h30M-1415 578h20M-1275 578h40M-1174 578h30M-1104 578h40M-994 578h40M-943 578h60M-873 578h10M-853 578h70M-763 578h10M-703 578h10M-672 578h40M-622 578h30M-552 578h10M-512 578h10M-472 578h20M-371 578h10M-331 578h10M-311 578h20M-231 578h10M-201 578h40M-120 578h30M-70 578h20M-10 578h10M70 578h20M110 578h30M151 578h10M271 578h20M311 578h10M331 578h20M371 578h20M462 578h10M502 578h10M522 578h20M582 578h10M602 578h10M632 578h40M733 578h10M753 578h10M783 578h30M823 578h10M863 578h10M943 578h10M974 578h10M1044 578h10M1064 578h10M1084 578h10M1124 578h10M1154 578h10M1204 578h10M1365 578h10M1385 578h10M1425 578h20M-1405 568h20M-1324 568h20M-1284 568h20M-1213 568h10M-1173 568h20M-1092 568h40M-1041 568h10M-1021 568h10M-971 568h20M-930 568h30M-890 568h20M-859 568h10M-839 568h10M-748 568h20M-718 568h10M-677 568h30M-576 568h10M-536 568h20M-495 568h20M-465 568h20M-344 568h10M-283 568h10M-222 568h10M-192 568h10M-172 568h10M-121 568h10M-91 568h20M-61 568h40M10 568h30M61 568h10M91 568h20M192 568h30M233 568h10M324 568h30M364 568h10M435 568h30M495 568h30M556 568h40M637 568h10M657 568h10M677 568h20M708 568h10M738 568h10M789 568h10M819 568h20M859 568h30M900 568h10M971 568h10M1062 568h10M1112 568h10M1193 568h20M1243 568h10M1284 568h20M1334 568h10M1355 568h10M1395 568h10M1415 568h10M1446 568h10M-1405 558h10M-1385 558h10M-1253 558h10M-1202 558h10M-1181 558h10M-1110 558h41M-1059 558h20M-1008 558h31M-947 558h10M-916 558h10M-886 558h10M-866 558h20M-815 558h10M-774 558h20M-743 558h20M-682 558h31M-642 558h10M-611 558h10M-591 558h10M-499 558h10M-428 558h10M-387 558h10M-316 558h10M-265 558h20M-234 558h51M-163 558h10M-132 558h41M-61 558h31M132 558h20M173 558h10M224 558h10M244 558h31M305 558h31M418 558h10M438 558h20M479 558h20M530 558h10M560 558h173M764 558h20M804 558h31M876 558h20M927 558h20M957 558h10M978 558h10M998 558h10M1181 558h10M1253 558h10M1283 558h31M1324 558h10M1344 558h10M1365 558h51M1456 558h10M-1415 549h10M-1395 549h10M-1333 549h21M-1282 549h21M-1251 549h10M-1180 549h41M-1097 549h10M-1067 549h10M-1046 549h10M-1026 549h31M-985 549h10M-954 549h21M-923 549h10M-872 549h31M-831 549h10M-810 549h21M-780 549h10M-687 549h10M-656 549h10M-615 549h21M-574 549h10M-554 549h21M-523 549h10M-503 549h21M-369 549h21M-256 549h31M-205 549h10M-185 549h10M-144 549h10M-123 549h10M-92 549h10M-72 549h10M-51 549h31M41 549h10M62 549h21M123 549h31M215 549h51M277 549h10M318 549h10M349 549h21M431 549h10M472 549h21M523 549h10M544 549h21M574 549h10M626 549h10M646 549h51M728 549h10M769 549h10M810 549h10M892 549h10M944 549h21M974 549h10M1005 549h10M1046 549h21M1118 549h10M1210 549h10M1231 549h10M1251 549h92M1354 549h10M1395 549h51M-1467 539h52M-1395 539h10M-1353 539h10M-1333 539h31M-1291 539h10M-1271 539h10M-1198 539h21M-1147 539h31M-1105 539h10M-1064 539h31M-992 539h31M-930 539h21M-888 539h10M-868 539h10M-826 539h10M-754 539h10M-723 539h10M-682 539h62M-609 539h10M-589 539h10M-558 539h21M-496 539h10M-475 539h21M-444 539h10M-362 539h10M-320 539h10M-279 539h21M-248 539h10M-217 539h10M-134 539h21M-93 539h41M-31 539h52M41 539h21M83 539h21M124 539h10M155 539h10M176 539h10M289 539h10M362 539h21M455 539h21M496 539h31M537 539h10M558 539h10M599 539h21M651 539h21M702 539h10M723 539h31M816 539h10M868 539h10M909 539h21M950 539h10M1002 539h31M1054 539h21M1095 539h10M1126 539h10M1147 539h10M1198 539h10M1229 539h10M1271 539h10M1291 539h10M1384 539h10M1415 539h10M1457 539h10M-1384 -539h10M-1364 -539h21M-1333 -539h10M-1312 -539h10M-1281 -539h31M-1219 -539h10M-1188 -539h10M-1085 -539h21M-992 -539h10M-971 -539h10M-919 -539h21M-868 -539h21M-837 -539h10M-816 -539h10M-785 -539h10M-744 -539h10M-723 -539h21M-692 -539h10M-651 -539h31M-568 -539h21M-486 -539h10M-465 -539h41M-362 -539h10M-331 -539h21M-207 -539h31M-134 -539h10M-62 -539h10M-41 -539h10M-21 -539h10M41 -539h10M72 -539h10M114 -539h31M186 -539h10M217 -539h41M279 -539h10M320 -539h10M341 -539h10M362 -539h10M382 -539h21M444 -539h10M465 -539h31M506 -539h10M671 -539h10M702 -539h21M744 -539h31M785 -539h10M826 -539h10M888 -539h83M1074 -539h10M1136 -539h21M1188 -539h10M1281 -539h41M1353 -539h10M1374 -539h21M1436 -539h10M1467 -539h10M-1415 -549h21M-1385 -549h10M-1364 -549h21M-1323 -549h21M-1282 -549h10M-1251 -549h41M-1180 -549h21M-1149 -549h10M-1118 -549h10M-1087 -549h21M-995 -549h31M-954 -549h10M-923 -549h31M-841 -549h10M-810 -549h10M-769 -549h10M-718 -549h21M-677 -549h10M-595 -549h10M-564 -549h31M-513 -549h10M-492 -549h10M-472 -549h31M-421 -549h10M-369 -549h10M-338 -549h10M-236 -549h21M-195 -549h21M-154 -549h10M-133 -549h10M-113 -549h10M-31 -549h10M0 -549h10M31 -549h10M51 -549h21M103 -549h31M144 -549h21M205 -549h10M236 -549h10M308 -549h10M369 -549h10M390 -549h10M410 -549h21M441 -549h21M513 -549h10M533 -549h10M554 -549h10M595 -549h41M677 -549h21M708 -549h10M738 -549h10M780 -549h10M800 -549h21M831 -549h10M862 -549h21M892 -549h31M933 -549h31M974 -549h10M1015 -549h10M1036 -549h10M1067 -549h10M1087 -549h21M1180 -549h21M1210 -549h10M1231 -549h31M1272 -549h10M1313 -549h31M1354 -549h10M1374 -549h21M1405 -549h10M1467 -549h10M-1456 -558h10M-1436 -558h10M-1395 -558h10M-1354 -558h20M-1324 -558h10M-1283 -558h10M-1222 -558h31M-1151 -558h10M-1110 -558h10M-1090 -558h20M-998 -558h10M-978 -558h10M-916 -558h10M-886 -558h61M-774 -558h10M-662 -558h10M-642 -558h10M-601 -558h20M-560 -558h31M-509 -558h10M-479 -558h41M-428 -558h31M-387 -558h10M-346 -558h10M-275 -558h10M-255 -558h10M-224 -558h10M-193 -558h10M-173 -558h10M-143 -558h10M-122 -558h10M-81 -558h20M-41 -558h10M122 -558h10M173 -558h10M193 -558h10M214 -558h10M326 -558h20M458 -558h10M479 -558h10M519 -558h10M550 -558h10M631 -558h20M692 -558h10M733 -558h10M794 -558h10M815 -558h20M866 -558h10M896 -558h20M927 -558h10M947 -558h10M967 -558h10M1049 -558h10M1212 -558h10M1232 -558h51M1303 -558h10M1344 -558h20M1385 -558h10M1446 -558h10M-1395 -568h10M-1365 -568h10M-1334 -568h20M-1304 -568h20M-1203 -568h10M-1183 -568h30M-1132 -568h10M-1102 -568h30M-1051 -568h10M-981 -568h10M-960 -568h10M-930 -568h10M-900 -568h20M-849 -568h20M-789 -568h10M-758 -568h30M-657 -568h20M-607 -568h10M-556 -568h20M-485 -568h10M-465 -568h10M-414 -568h10M-384 -568h30M-263 -568h10M-243 -568h20M-212 -568h20M-172 -568h10M-142 -568h20M-101 -568h20M40 -568h10M91 -568h20M152 -568h10M172 -568h10M202 -568h10M222 -568h20M324 -568h10M354 -568h10M536 -568h10M637 -568h10M687 -568h10M728 -568h10M789 -568h10M829 -568h10M890 -568h81M981 -568h30M1031 -568h20M1072 -568h20M1122 -568h10M1173 -568h20M1213 -568h10M1233 -568h20M1264 -568h20M1294 -568h10M1324 -568h51M1395 -568h10M1425 -568h10M1446 -568h10M-1445 -578h10M-1335 -578h10M-1315 -578h30M-1265 -578h10M-1234 -578h50M-1124 -578h10M-1094 -578h10M-963 -578h10M-923 -578h10M-863 -578h10M-843 -578h20M-813 -578h10M-783 -578h20M-753 -578h20M-703 -578h10M-602 -578h30M-562 -578h10M-492 -578h20M-462 -578h20M-411 -578h20M-381 -578h10M-331 -578h10M-281 -578h10M-261 -578h10M-241 -578h10M-221 -578h20M-171 -578h20M-141 -578h10M-70 -578h10M-50 -578h10M-20 -578h20M100 -578h20M171 -578h10M211 -578h10M231 -578h10M271 -578h30M371 -578h10M391 -578h10M411 -578h10M432 -578h10M542 -578h10M602 -578h10M692 -578h20M793 -578h20M893 -578h30M943 -578h20M994 -578h10M1014 -578h10M1054 -578h20M1174 -578h20M1204 -578h10M1244 -578h10M1275 -578h10M1325 -578h10M1355 -578h10M1375 -578h10M1405 -578h10M-1375 -587h20M-1335 -587h30M-1295 -587h20M-1245 -587h10M-1205 -587h40M-1136 -587h10M-1096 -587h20M-1036 -587h10M-976 -587h20M-927 -587h20M-887 -587h10M-867 -587h10M-847 -587h10M-747 -587h20M-707 -587h10M-687 -587h20M-578 -587h10M-528 -587h10M-478 -587h40M-408 -587h10M-289 -587h20M-259 -587h40M-209 -587h10M-179 -587h20M-130 -587h20M-90 -587h10M-60 -587h20M-30 -587h10M0 -587h30M50 -587h20M120 -587h10M139 -587h10M159 -587h10M189 -587h10M219 -587h20M289 -587h10M379 -587h20M458 -587h10M488 -587h10M518 -587h10M697 -587h10M717 -587h10M747 -587h10M777 -587h10M797 -587h10M837 -587h10M857 -587h10M887 -587h20M927 -587h10M946 -587h20M1026 -587h10M1176 -587h40M1255 -587h20M1335 -587h20M1385 -587h50M-1423 -597h20M-1393 -597h10M-1344 -597h10M-1305 -597h10M-1275 -597h10M-1255 -597h20M-1186 -597h30M-1117 -597h20M-1008 -597h20M-959 -597h10M-939 -597h20M-840 -597h10M-820 -597h10M-781 -597h10M-741 -597h30M-702 -597h20M-672 -597h10M-613 -597h20M-494 -597h10M-445 -597h10M-346 -597h20M-296 -597h10M-277 -597h40M-227 -597h20M-198 -597h10M-128 -597h10M-30 -597h10M20 -597h10M40 -597h10M59 -597h10M79 -597h10M109 -597h10M138 -597h30M198 -597h20M257 -597h30M296 -597h40M376 -597h20M464 -597h10M494 -597h10M524 -597h10M544 -597h10M662 -597h10M682 -597h10M850 -597h10M870 -597h20M909 -597h10M978 -597h10M998 -597h10M1097 -597h10M1166 -597h30M1216 -597h10M1255 -597h20M1334 -597h10M1364 -597h10M1384 -597h10M1413 -597h10M-1411 -606h20M-1353 -606h10M-1333 -606h20M-1294 -606h10M-1255 -606h20M-1215 -606h10M-1176 -606h10M-1137 -606h29M-1088 -606h10M-912 -606h10M-882 -606h10M-863 -606h10M-843 -606h10M-755 -606h10M-715 -606h10M-676 -606h29M-608 -606h20M-568 -606h10M-539 -606h10M-490 -606h39M-421 -606h10M-363 -606h20M-333 -606h20M-274 -606h10M-255 -606h10M-235 -606h29M-147 -606h10M-29 -606h10M29 -606h10M59 -606h10M88 -606h20M118 -606h29M167 -606h20M216 -606h10M284 -606h20M353 -606h20M382 -606h10M412 -606h59M539 -606h10M608 -606h10M676 -606h10M715 -606h10M843 -606h10M912 -606h20M1019 -606h10M1059 -606h10M1137 -606h10M1157 -606h39M1225 -606h10M1255 -606h10M1274 -606h20M1304 -606h10M1323 -606h10M1353 -606h10M1392 -606h20M-1400 -616h19M-1361 -616h10M-1341 -616h10M-1322 -616h19M-1293 -616h10M-1273 -616h19M-1244 -616h10M-1166 -616h10M-1098 -616h10M-1001 -616h19M-855 -616h10M-836 -616h29M-797 -616h19M-768 -616h10M-719 -616h19M-680 -616h29M-632 -616h10M-612 -616h10M-535 -616h10M-496 -616h39M-340 -616h10M-311 -616h10M-272 -616h39M-214 -616h29M-126 -616h10M-87 -616h10M-68 -616h10M-49 -616h10M19 -616h10M156 -616h19M194 -616h10M243 -616h10M272 -616h39M321 -616h10M379 -616h19M408 -616h10M457 -616h10M476 -616h10M525 -616h10M671 -616h10M690 -616h10M710 -616h39M797 -616h10M836 -616h19M865 -616h39M923 -616h19M962 -616h10M1001 -616h29M1147 -616h19M1264 -616h19M1302 -616h19M1341 -616h10M1361 -616h19M-1388 -625h19M-1359 -625h10M-1340 -625h10M-1282 -625h77M-1176 -625h10M-1099 -625h10M-983 -625h19M-819 -625h10M-771 -625h10M-713 -625h19M-665 -625h39M-607 -625h10M-39 -625h10M-19 -625h10M0 -625h10M39 -625h10M58 -625h10M96 -625h29M202 -625h10M222 -625h10M280 -625h10M308 -625h10M347 -625h10M492 -625h10M684 -625h10M704 -625h10M781 -625h10M858 -625h10M906 -625h10M945 -625h10M1002 -625h10M1051 -625h19M1137 -625h19M1195 -625h10M1224 -625h10M1263 -625h10M1311 -625h10M1340 -625h10M1369 -625h10M-1376 -634h48M-1319 -634h19M-1290 -634h19M-1252 -634h38M-1176 -634h29M-1128 -634h10M-1109 -634h19M-965 -634h10M-946 -634h19M-898 -634h19M-851 -634h10M-831 -634h48M-755 -634h10M-717 -634h38M-669 -634h10M-650 -634h10M-612 -634h38M-76 -634h10M57 -634h19M86 -634h19M115 -634h10M143 -634h29M210 -634h10M239 -634h29M277 -634h10M315 -634h10M335 -634h19M363 -634h10M459 -634h19M487 -634h29M526 -634h38M583 -634h10M602 -634h19M640 -634h10M659 -634h29M726 -634h38M793 -634h10M812 -634h29M851 -634h10M870 -634h19M898 -634h10M927 -634h10M1004 -634h10M1023 -634h10M1080 -634h19M1109 -634h10M1166 -634h10M1214 -634h19M1290 -634h10M1319 -634h19M1367 -634h10"/><path stroke="#a0d7f5" stroke-width="11.5" d="M-1497 529h10M-1466 529h31M-1393 529h10M-1362 529h21M-1268 529h10M-1247 529h73M-1164 529h10M-1143 529h10M-1112 529h42M-1050 529h10M-998 529h31M-936 529h21M-894 529h10M-863 529h21M-832 529h10M-800 529h10M-686 529h31M-645 529h10M-603 529h31M-561 529h31M-489 529h31M-437 529h10M-385 529h10M-364 529h10M-343 529h10M-291 529h10M-260 529h10M-239 529h21M-208 529h31M-125 529h21M-94 529h10M-31 529h31M104 529h52M166 529h10M218 529h10M291 529h10M322 529h21M353 529h21M395 529h21M426 529h10M468 529h21M509 529h21M541 529h10M613 529h10M655 529h31M696 529h31M769 529h10M790 529h21M832 529h10M863 529h10M1050 529h31M1133 529h31M1206 529h10M1258 529h31M1403 529h21M1445 529h21M1476 529h10M-1464 519h21M-1381 519h21M-1276 519h42M-1224 519h63M-1130 519h31M-1056 519h10M-1025 519h31M-816 519h10M-774 519h31M-565 519h10M-544 519h10M-471 519h52M-377 519h10M-345 519h10M-293 519h10M-251 519h10M-230 519h21M-146 519h10M-94 519h21M-31 519h10M10 519h10M31 519h10M52 519h10M84 519h10M105 519h10M126 519h31M209 519h10M335 519h21M366 519h21M397 519h31M439 519h21M481 519h10M502 519h31M544 519h10M617 519h10M638 519h10M659 519h42M774 519h10M795 519h10M962 519h10M1046 519h42M1098 519h10M1171 519h10M1234 519h21M1276 519h10M1370 519h10M1401 519h42M1454 519h21M-1463 509h11M-1347 509h11M-1242 509h11M-1221 509h11M-1199 509h42M-1136 509h32M-1073 509h11M-1021 509h42M-936 509h11M-905 509h11M-831 509h11M-789 509h11M-758 509h11M-726 509h11M-705 509h11M-663 509h21M-610 509h21M-568 509h11M-547 509h21M-463 509h11M-442 509h11M-410 509h11M-368 509h11M-337 509h11M-284 509h32M-231 509h11M-168 509h11M-147 509h11M-116 509h32M-74 509h11M-21 509h21M11 509h21M84 509h21M126 509h11M147 509h11M179 509h11M200 509h21M274 509h11M316 509h11M368 509h32M442 509h11M484 509h21M558 509h11M631 509h11M652 509h32M694 509h21M758 509h11M852 509h11M884 509h11M905 509h11M1021 509h21M1063 509h11M1084 509h11M1147 509h11M1221 509h11M1252 509h11M1305 509h11M1410 509h21M1441 509h11M1473 509h11M1494 509h11M-1514 499h21M-1450 499h21M-1408 499h11M-1387 499h11M-1365 499h11M-1249 499h11M-1217 499h21M-1186 499h11M-1164 499h11M-1122 499h11M-1101 499h21M-1037 499h85M-921 499h21M-879 499h11M-836 499h11M-804 499h21M-741 499h42M-688 499h11M-667 499h21M-582 499h11M-561 499h11M-540 499h21M-508 499h11M-466 499h53M-318 499h11M-286 499h42M-127 499h21M-85 499h21M21 499h21M74 499h11M106 499h11M148 499h11M169 499h11M222 499h11M286 499h11M307 499h42M381 499h11M423 499h11M455 499h11M519 499h11M540 499h11M561 499h11M593 499h21M635 499h11M667 499h11M699 499h11M720 499h11M741 499h11M762 499h11M783 499h11M804 499h11M847 499h11M868 499h11M889 499h21M942 499h11M1006 499h32M1048 499h42M1143 499h11M1186 499h11M1207 499h32M1302 499h32M1344 499h11M1387 499h21M1429 499h11M1514 499h11M-1480 490h11M-1459 490h11M-1427 490h11M-1395 490h21M-1342 490h11M-1310 490h21M-1235 490h11M-1193 490h21M-1139 490h32M-1075 490h11M-1054 490h21M-1012 490h21M-980 490h11M-916 490h11M-820 490h11M-799 490h11M-745 490h11M-713 490h11M-671 490h21M-639 490h53M-575 490h43M-511 490h21M-479 490h11M-426 490h11M-351 490h21M-309 490h11M-287 490h21M-256 490h11M-181 490h21M-149 490h11M-96 490h21M11 490h11M170 490h11M224 490h11M277 490h11M330 490h21M373 490h11M394 490h11M415 490h11M437 490h11M490 490h11M564 490h21M618 490h11M671 490h11M692 490h11M724 490h32M799 490h43M862 490h11M894 490h11M916 490h11M1044 490h32M1118 490h11M1203 490h21M1235 490h21M1267 490h11M1320 490h11M1342 490h21M1374 490h11M1427 490h11M1448 490h21M1480 490h32M1523 490h11M-1531 480h11M-1510 480h32M-1381 480h11M-1328 480h11M-1253 480h11M-1199 480h11M-1146 480h11M-1114 480h21M-1071 480h11M-985 480h11M-942 480h11M-878 480h11M-846 480h21M-782 480h11M-750 480h32M-707 480h11M-653 480h21M-621 480h64M-546 480h11M-471 480h21M-418 480h11M-311 480h32M-268 480h21M-193 480h11M-171 480h11M-150 480h11M-64 480h11M64 480h32M107 480h11M139 480h11M161 480h11M236 480h11M278 480h21M311 480h11M343 480h21M385 480h21M482 480h32M546 480h11M578 480h11M653 480h11M675 480h21M707 480h11M728 480h11M750 480h21M803 480h11M825 480h11M857 480h11M878 480h11M899 480h11M942 480h11M964 480h11M985 480h32M1028 480h32M1071 480h11M1103 480h21M1135 480h11M1231 480h11M1253 480h11M1328 480h21M1360 480h32M1403 480h11M1467 480h32M1531 480h11M-1550 470h11M-1496 470h11M-1475 470h11M-1421 470h11M-1399 470h11M-1378 470h11M-1335 470h11M-1270 470h11M-1249 470h22M-1195 470h32M-1141 470h11M-1109 470h22M-1023 470h11M-980 470h22M-926 470h11M-840 470h11M-807 470h22M-775 470h11M-721 470h22M-667 470h43M-614 470h22M-571 470h22M-538 470h11M-484 470h11M-463 470h11M-355 470h11M-334 470h11M-301 470h11M-161 470h11M-97 470h11M43 470h22M75 470h11M118 470h11M183 470h22M237 470h22M301 470h22M334 470h22M506 470h11M538 470h11M560 470h11M581 470h11M700 470h11M732 470h11M754 470h22M797 470h22M829 470h11M850 470h11M883 470h22M915 470h22M947 470h11M980 470h11M1033 470h11M1087 470h11M1109 470h32M1206 470h11M1227 470h11M1249 470h11M1281 470h11M1335 470h11M1367 470h86M1507 470h11M1529 470h22M-1558 460h22M-1515 460h22M-1483 460h22M-1418 460h32M-1342 460h22M-1309 460h11M-1277 460h11M-1255 460h43M-1147 460h22M-1093 460h11M-1071 460h11M-1050 460h11M-1028 460h11M-996 460h11M-941 460h11M-920 460h22M-801 460h11M-768 460h11M-736 460h11M-714 460h22M-671 460h22M-617 460h22M-574 460h11M-541 460h11M-498 460h11M-476 460h22M-433 460h22M-368 460h22M-335 460h32M-292 460h22M-206 460h11M-130 460h11M-108 460h11M-65 460h11M54 460h11M76 460h11M97 460h22M152 460h11M195 460h22M314 460h32M357 460h11M400 460h32M509 460h11M563 460h11M595 460h11M682 460h11M703 460h11M725 460h22M779 460h11M844 460h11M887 460h22M920 460h11M941 460h22M996 460h11M1017 460h11M1050 460h11M1082 460h11M1125 460h11M1169 460h11M1212 460h22M1244 460h11M1309 460h43M1385 460h22M1418 460h11M1450 460h11M1515 460h22M1547 460h11M-1447 450h22M-1414 450h11M-1349 450h22M-1273 450h11M-1251 450h22M-1164 450h11M-1142 450h22M-1001 450h11M-968 450h11M-936 450h11M-914 450h22M-674 450h22M-587 450h22M-555 450h11M-457 450h22M-424 450h11M-392 450h11M-370 450h11M-283 450h11M-185 450h22M-141 450h33M-87 450h11M-65 450h11M0 450h22M54 450h22M98 450h65M196 450h22M283 450h76M413 450h11M446 450h11M479 450h11M533 450h11M566 450h11M631 450h11M653 450h11M696 450h11M729 450h44M827 450h11M849 450h11M881 450h22M925 450h11M946 450h33M1023 450h11M1099 450h87M1207 450h44M1262 450h11M1284 450h11M1338 450h11M1360 450h11M1382 450h11M1414 450h11M1436 450h22M1479 450h22M1523 450h11M-1564 440h22M-1520 440h55M-1454 440h11M-1411 440h11M-1345 440h33M-1301 440h11M-1268 440h33M-1225 440h11M-1181 440h11M-1159 440h11M-1083 440h11M-1061 440h11M-1039 440h11M-1006 440h11M-984 440h22M-919 440h11M-853 440h22M-755 440h11M-733 440h22M-678 440h22M-601 440h11M-569 440h11M-547 440h11M-492 440h11M-426 440h33M-361 440h11M-317 440h22M-219 440h33M-164 440h22M-120 440h22M-87 440h22M-22 440h44M131 440h33M197 440h11M219 440h33M284 440h11M317 440h22M350 440h11M426 440h33M470 440h11M569 440h11M623 440h11M667 440h11M733 440h33M820 440h22M864 440h77M951 440h11M995 440h11M1028 440h22M1083 440h11M1115 440h11M1137 440h11M1159 440h33M1214 440h11M1236 440h11M1258 440h11M1367 440h22M1443 440h11M1465 440h22M1498 440h11M1520 440h33M-1561 430h22M-1528 430h11M-1506 430h22M-1352 430h44M-1286 430h33M-1231 430h11M-1187 430h44M-1088 430h11M-1044 430h22M-989 430h11M-923 430h22M-879 430h22M-846 430h11M-736 430h11M-714 430h11M-670 430h11M-593 430h11M-528 430h55M-429 430h33M-385 430h44M-242 430h11M-220 430h11M-198 430h11M-176 430h11M-132 430h11M-110 430h22M-33 430h44M33 430h11M88 430h11M121 430h11M143 430h22M176 430h33M220 430h22M352 430h11M440 430h22M495 430h11M539 430h11M604 430h11M626 430h55M703 430h11M736 430h33M780 430h11M835 430h55M912 430h22M956 430h22M1011 430h22M1044 430h44M1099 430h44M1154 430h22M1187 430h11M1209 430h22M1264 430h11M1308 430h11M1330 430h11M1352 430h11M1396 430h22M1451 430h22M1484 430h33M1528 430h33M1572 430h11M-1589 420h11M-1567 420h11M-1534 420h22M-1358 420h11M-1203 420h22M-1159 420h11M-1126 420h11M-1049 420h55M-982 420h11M-938 420h22M-905 420h55M-795 420h22M-740 420h11M-717 420h33M-673 420h22M-629 420h44M-574 420h22M-530 420h11M-464 420h11M-441 420h33M-386 420h22M-353 420h11M-331 420h11M-243 420h11M-210 420h11M-110 420h66M-33 420h11M66 420h11M88 420h11M121 420h11M143 420h22M177 420h11M210 420h33M287 420h11M309 420h11M353 420h11M375 420h11M419 420h11M441 420h11M508 420h11M541 420h11M563 420h11M607 420h33M651 420h22M684 420h22M795 420h22M839 420h11M872 420h22M905 420h22M993 420h66M1071 420h66M1159 420h99M1269 420h11M1336 420h44M1402 420h11M1446 420h11M1468 420h22M1501 420h22M1545 420h44M-1585 410h22M-1530 410h11M-1496 410h11M-1474 410h22M-1430 410h22M-1330 410h11M-1275 410h11M-1253 410h11M-1208 410h11M-1186 410h11M-1164 410h11M-1120 410h11M-1097 410h11M-1042 410h22M-975 410h11M-953 410h11M-920 410h22M-754 410h22M-709 410h11M-610 410h22M-532 410h11M-510 410h11M-488 410h11M-466 410h22M-421 410h11M-388 410h11M-366 410h11M-344 410h11M-222 410h11M-200 410h11M-111 410h11M-67 410h11M-44 410h22M22 410h11M67 410h55M144 410h33M233 410h11M288 410h11M344 410h22M377 410h22M421 410h33M499 410h22M554 410h22M621 410h33M665 410h22M709 410h11M743 410h11M787 410h22M831 410h44M887 410h22M953 410h22M987 410h33M1031 410h22M1064 410h78M1164 410h22M1197 410h11M1230 410h22M1275 410h11M1297 410h11M1352 410h44M1408 410h11M1463 410h11M1507 410h33M1552 410h33M-1603 399h11M-1581 399h22M-1547 399h22M-1503 399h45M-1447 399h33M-1391 399h11M-1369 399h11M-1269 399h11M-1213 399h56M-1135 399h11M-1069 399h33M-1024 399h11M-913 399h11M-846 399h11M-757 399h11M-724 399h11M-701 399h11M-646 399h11M-623 399h11M-601 399h11M-534 399h22M-468 399h78M-378 399h45M-234 399h11M-167 399h11M-145 399h11M-111 399h11M-67 399h33M-22 399h11M11 399h11M33 399h11M67 399h56M156 399h11M189 399h11M212 399h45M278 399h22M323 399h22M356 399h11M378 399h33M445 399h22M501 399h11M523 399h33M568 399h11M601 399h22M646 399h33M712 399h11M790 399h89M891 399h11M935 399h11M968 399h22M1002 399h122M1135 399h33M1202 399h22M1236 399h11M1258 399h33M1302 399h22M1347 399h33M1391 399h56M1481 399h33M1536 399h22M1570 399h33M-1543 389h67M-1464 389h11M-1431 389h22M-1330 389h11M-1286 389h11M-1174 389h22M-1118 389h34M-1062 389h11M-1040 389h11M-1017 389h11M-984 389h22M-950 389h22M-905 389h11M-872 389h22M-838 389h11M-816 389h11M-671 389h11M-637 389h45M-559 389h11M-537 389h34M-492 389h22M-458 389h22M-414 389h11M-358 389h56M-291 389h11M-257 389h11M-235 389h11M-212 389h11M-190 389h11M-168 389h45M-78 389h34M0 389h22M101 389h34M201 389h11M302 389h11M402 389h11M447 389h22M481 389h11M503 389h22M537 389h67M626 389h22M671 389h22M704 389h11M738 389h11M760 389h11M816 389h34M861 389h11M984 389h11M1006 389h22M1040 389h134M1218 389h45M1274 389h22M1330 389h11M1353 389h67M1442 389h22M1498 389h22M1532 389h22M-1617 379h11M-1549 379h34M-1426 379h22M-1381 379h11M-1269 379h45M-1201 379h34M-1156 379h11M-1134 379h22M-1100 379h22M-977 379h22M-943 379h11M-909 379h11M-887 379h11M-864 379h11M-786 379h11M-763 379h11M-718 379h11M-674 379h11M-640 379h11M-617 379h22M-561 379h34M-460 379h11M-415 379h11M-393 379h11M-348 379h22M-314 379h45M-247 379h11M-225 379h11M-168 379h56M-90 379h11M-67 379h11M-34 379h11M-11 379h11M11 379h11M34 379h11M79 379h22M123 379h11M146 379h22M180 379h79M269 379h45M337 379h56M404 379h22M438 379h22M483 379h56M584 379h11M617 379h22M674 379h11M718 379h11M808 379h34M876 379h11M898 379h11M921 379h11M965 379h56M1044 379h22M1089 379h45M1190 379h56M1257 379h11M1325 379h34M1370 379h22M1437 379h22M1471 379h11M1504 379h11M1549 379h11M-1566 369h11M-1521 369h23M-1420 369h23M-1363 369h11M-1341 369h11M-1307 369h68M-1228 369h11M-1149 369h11M-1115 369h11M-1082 369h11M-980 369h11M-958 369h34M-901 369h11M-856 369h11M-834 369h23M-687 369h11M-642 369h23M-608 369h11M-586 369h23M-552 369h11M-518 369h23M-473 369h11M-439 369h23M-394 369h11M-349 369h11M-327 369h11M-225 369h11M-192 369h23M-158 369h11M-113 369h11M-90 369h124M124 369h11M158 369h23M192 369h23M225 369h45M293 369h11M349 369h45M406 369h11M473 369h11M496 369h23M541 369h11M563 369h11M586 369h11M642 369h11M721 369h11M901 369h23M969 369h34M1014 369h23M1059 369h45M1115 369h45M1172 369h11M1194 369h68M1284 369h11M1307 369h56M1374 369h23M1420 369h11M1442 369h11M1487 369h11M1510 369h11M1532 369h11M1566 369h11M-1560 359h23M-1413 359h45M-1357 359h34M-1311 359h11M-1277 359h23M-1244 359h23M-1210 359h11M-1187 359h11M-1085 359h11M-984 359h11M-950 359h23M-904 359h23M-870 359h11M-837 359h11M-814 359h11M-780 359h11M-701 359h11M-667 359h23M-622 359h11M-599 359h11M-565 359h11M-531 359h23M-497 359h11M-475 359h23M-407 359h11M-362 359h23M-294 359h23M-249 359h34M-192 359h23M-147 359h11M-124 359h11M-90 359h34M-11 359h23M45 359h23M102 359h34M147 359h11M226 359h11M249 359h34M317 359h11M350 359h11M373 359h23M475 359h11M520 359h23M554 359h23M656 359h11M746 359h11M882 359h11M972 359h11M995 359h45M1051 359h11M1085 359h45M1142 359h11M1198 359h57M1266 359h34M1311 359h11M1357 359h45M1424 359h11M1458 359h11M1492 359h23M1617 359h11M-1611 349h11M-1577 349h11M-1520 349h11M-1373 349h45M-1316 349h34M-1214 349h11M-1191 349h11M-1168 349h23M-1134 349h34M-1089 349h11M-976 349h23M-941 349h23M-885 349h11M-839 349h11M-794 349h34M-669 349h11M-624 349h34M-499 349h11M-465 349h11M-431 349h34M-306 349h11M-159 349h23M-113 349h57M-45 349h11M0 349h23M79 349h11M136 349h23M181 349h11M238 349h11M261 349h11M295 349h11M329 349h34M374 349h23M442 349h11M476 349h23M510 349h11M533 349h11M556 349h11M579 349h34M647 349h45M703 349h11M783 349h11M839 349h11M885 349h45M976 349h57M1066 349h57M1134 349h11M1191 349h57M1270 349h11M1293 349h45M1373 349h11M1395 349h11M1418 349h11M1452 349h11M1509 349h11M1565 349h45M1622 349h11M-1559 339h11M-1389 339h34M-1286 339h23M-1241 339h11M-1195 339h80M-1104 339h23M-1047 339h11M-1002 339h11M-967 339h23M-922 339h23M-876 339h11M-854 339h23M-820 339h23M-626 339h23M-524 339h23M-489 339h23M-444 339h23M-330 339h11M-182 339h34M-137 339h68M-57 339h11M-23 339h11M0 339h11M23 339h23M57 339h23M137 339h11M159 339h23M193 339h11M216 339h11M239 339h34M341 339h11M376 339h11M410 339h11M433 339h23M489 339h34M535 339h34M580 339h57M672 339h23M751 339h11M899 339h23M967 339h11M1002 339h11M1024 339h68M1104 339h23M1150 339h23M1195 339h11M1218 339h46M1286 339h23M1354 339h11M1377 339h11M1400 339h11M1468 339h23M1514 339h34M1559 339h11M1582 339h23M1616 339h23M-1542 329h23M-1336 329h23M-1245 329h23M-1199 329h11M-1176 329h23M-1142 329h46M-1085 329h11M-1028 329h11M-1005 329h23M-948 329h11M-902 329h34M-834 329h23M-799 329h11M-765 329h11M-720 329h11M-582 329h11M-548 329h23M-491 329h34M-445 329h23M-365 329h23M-308 329h23M-251 329h11M-194 329h11M-148 329h11M-57 329h11M46 329h23M80 329h11M114 329h11M137 329h34M183 329h23M217 329h11M308 329h23M354 329h11M388 329h11M434 329h11M457 329h11M503 329h11M525 329h11M548 329h23M594 329h23M640 329h34M697 329h11M845 329h11M868 329h11M902 329h11M925 329h11M948 329h11M1039 329h80M1142 329h80M1245 329h46M1313 329h34M1405 329h11M1485 329h11M1519 329h11M1553 329h11M1576 329h11M1622 329h23M-1638 319h11M-1604 319h23M-1523 319h23M-1489 319h11M-1443 319h11M-1409 319h34M-1352 319h23M-1271 319h34M-1226 319h69M-1145 319h11M-1123 319h23M-1088 319h34M-1031 319h11M-997 319h23M-951 319h11M-916 319h46M-733 319h11M-710 319h11M-676 319h11M-619 319h11M-584 319h11M-550 319h23M-515 319h11M-481 319h23M-447 319h11M-355 319h23M-298 319h11M-275 319h11M-252 319h23M-218 319h23M-126 319h23M46 319h34M103 319h57M172 319h23M206 319h11M321 319h23M355 319h11M389 319h11M470 319h11M538 319h11M584 319h11M607 319h11M641 319h11M676 319h11M699 319h11M848 319h34M905 319h23M1077 319h34M1134 319h69M1226 319h57M1329 319h23M1363 319h34M1409 319h23M1478 319h34M1569 319h11M1592 319h11M1615 319h23M-1654 308h23M-1562 308h11M-1539 308h11M-1504 308h11M-1481 308h11M-1435 308h11M-1390 308h34M-1344 308h11M-1286 308h34M-1229 308h23M-1183 308h80M-1091 308h11M-1056 308h23M-965 308h11M-907 308h23M-873 308h46M-815 308h11M-769 308h11M-700 308h34M-620 308h11M-597 308h34M-528 308h23M-482 308h11M-425 308h11M-356 308h11M-310 308h11M-218 308h23M-161 308h34M-115 308h23M-57 308h46M23 308h11M57 308h11M92 308h23M126 308h23M287 308h11M310 308h23M356 308h23M436 308h11M517 308h23M551 308h57M655 308h11M700 308h11M758 308h11M827 308h11M907 308h23M953 308h11M988 308h11M1034 308h34M1079 308h23M1125 308h11M1160 308h57M1229 308h57M1321 308h34M1378 308h46M1458 308h11M1504 308h23M1539 308h11M1562 308h34M1608 308h11M-1658 298h23M-1612 298h12M-1566 298h35M-1508 298h12M-1474 298h46M-1382 298h58M-1266 298h46M-1209 298h12M-1186 298h12M-1105 298h12M-1059 298h12M-1036 298h12M-990 298h12M-852 298h12M-817 298h12M-794 298h12M-771 298h12M-714 298h12M-691 298h12M-633 298h35M-530 298h12M-507 298h12M-437 298h12M-265 298h12M-207 298h46M-150 298h46M-58 298h12M-35 298h23M46 298h23M104 298h35M150 298h12M184 298h58M299 298h12M380 298h12M426 298h23M472 298h12M530 298h23M564 298h46M771 298h23M829 298h23M863 298h12M921 298h12M956 298h12M990 298h12M1013 298h23M1048 298h81M1151 298h81M1266 298h58M1335 298h81M1439 298h12M1462 298h12M1485 298h12M1520 298h23M1554 298h12M1589 298h35M1646 298h12M-1581 288h46M-1523 288h12M-1489 288h46M-1397 288h23M-1339 288h12M-1281 288h23M-1246 288h12M-1189 288h23M-1096 288h35M-993 288h12M-912 288h12M-889 288h12M-762 288h12M-692 288h69M-612 288h12M-589 288h12M-566 288h12M-542 288h23M-508 288h12M-450 288h12M-369 288h12M-289 288h23M-242 288h23M-208 288h92M-35 288h23M81 288h81M185 288h12M231 288h12M254 288h23M289 288h12M312 288h12M369 288h12M415 288h23M450 288h12M485 288h12M519 288h12M612 288h12M646 288h12M808 288h12M854 288h23M900 288h12M923 288h12M958 288h12M981 288h23M1016 288h12M1039 288h115M1212 288h35M1270 288h23M1304 288h127M1547 288h23M1581 288h23M-1574 278h23M-1527 278h12M-1493 278h46M-1365 278h46M-1261 278h12M-1238 278h69M-1065 278h46M-1007 278h12M-984 278h12M-833 278h12M-787 278h12M-752 278h46M-694 278h12M-671 278h12M-648 278h23M-590 278h23M-555 278h35M-428 278h12M-382 278h12M-231 278h12M-174 278h35M-116 278h35M-58 278h12M-35 278h58M69 278h23M116 278h35M185 278h12M220 278h12M243 278h12M266 278h35M312 278h12M359 278h23M393 278h12M417 278h46M694 278h12M856 278h23M903 278h12M995 278h12M1030 278h12M1053 278h116M1192 278h46M1273 278h116M1400 278h12M1423 278h23M1469 278h12M1574 278h12M1655 278h12M-1647 268h12M-1612 268h12M-1589 268h35M-1485 268h23M-1392 268h12M-1369 268h12M-1334 268h12M-1276 268h23M-1241 268h12M-1218 268h12M-1102 268h23M-1067 268h23M-974 268h23M-858 268h12M-777 268h12M-707 268h35M-661 268h12M-615 268h23M-568 268h12M-522 268h23M-487 268h12M-464 268h23M-429 268h12M-406 268h12M-360 268h12M-244 268h12M-186 268h12M-162 268h12M-116 268h12M-58 268h23M-23 268h23M12 268h12M35 268h12M58 268h23M93 268h12M151 268h12M220 268h58M290 268h23M360 268h12M394 268h81M534 268h12M650 268h12M673 268h12M707 268h12M823 268h12M847 268h12M870 268h23M905 268h12M939 268h23M974 268h58M1055 268h23M1090 268h23M1125 268h12M1148 268h93M1253 268h12M1276 268h162M1450 268h12M-1638 258h12M-1580 258h35M-1522 258h12M-1487 258h12M-1394 258h23M-1359 258h23M-1266 258h12M-1243 258h35M-1174 258h23M-1092 258h35M-1046 258h12M-988 258h23M-953 258h23M-848 258h35M-802 258h23M-720 258h12M-697 258h70M-616 258h12M-593 258h12M-569 258h35M-465 258h12M-442 258h23M-383 258h12M-314 258h23M-279 258h12M-209 258h12M-163 258h46M-81 258h12M-58 258h46M23 258h12M93 258h23M128 258h12M151 258h23M221 258h105M349 258h12M372 258h12M395 258h12M418 258h58M488 258h12M511 258h23M639 258h12M778 258h12M825 258h12M848 258h35M895 258h12M941 258h35M1069 258h46M1139 258h151M1301 258h105M1418 258h23M1476 258h23M-1676 248h12M-1618 248h23M-1583 248h23M-1525 248h47M-1443 248h23M-1385 248h12M-1350 248h12M-1292 248h12M-1269 248h12M-1245 248h35M-1176 248h47M-1082 248h23M-1036 248h23M-1001 248h12M-978 248h12M-954 248h47M-896 248h12M-838 248h12M-815 248h12M-722 248h12M-698 248h12M-675 248h12M-652 248h12M-629 248h12M-605 248h70M-524 248h35M-477 248h12M-454 248h12M-349 248h12M-314 248h23M-279 248h12M-221 248h12M-140 248h23M-93 248h12M-70 248h12M-47 248h23M-12 248h12M58 248h23M93 248h12M116 248h12M151 248h23M198 248h23M256 248h58M326 248h12M349 248h23M396 248h23M431 248h47M489 248h35M605 248h23M652 248h35M698 248h12M791 248h12M826 248h58M896 248h12M931 248h35M1059 248h47M1117 248h116M1245 248h47M1304 248h140M1490 248h23M1548 248h12M1664 248h12M-1492 238h12M-1458 238h23M-1399 238h23M-1306 238h23M-1271 238h23M-1236 238h23M-1178 238h35M-1084 238h12M-1061 238h35M-1014 238h82M-909 238h23M-863 238h23M-723 238h23M-688 238h12M-618 238h12M-583 238h12M-513 238h23M-478 238h23M-350 238h58M-222 238h12M-187 238h23M-152 238h23M-105 238h23M-47 238h23M70 238h23M128 238h12M163 238h23M233 238h70M315 238h35M385 238h93M490 238h12M583 238h35M630 238h12M793 238h12M828 238h35M886 238h23M1026 238h117M1154 238h140M1306 238h58M1376 238h58M1481 238h23M1516 238h23M1621 238h23M1656 238h23M-1670 228h12M-1624 228h12M-1518 228h35M-1460 228h23M-1425 228h12M-1250 228h70M-1075 228h12M-1051 228h23M-993 228h12M-958 228h12M-923 228h23M-876 228h23M-841 228h35M-771 228h12M-736 228h35M-666 228h12M-619 228h12M-596 228h12M-537 228h12M-491 228h23M-362 228h23M-292 228h12M-269 228h12M-234 228h12M-164 228h12M-140 228h12M-58 228h23M-12 228h12M12 228h12M70 228h12M93 228h35M152 228h23M222 228h12M245 228h70M350 228h35M397 228h35M467 228h12M502 228h12M526 228h12M549 228h12M572 228h23M607 228h23M654 228h23M701 228h12M748 228h12M783 228h35M829 228h47M899 228h12M923 228h12M958 228h12M993 228h12M1063 228h117M1191 228h140M1343 228h12M1367 228h23M1402 228h23M1437 228h12M1518 228h23M1554 228h12M1577 228h12M1635 228h12M-1603 217h12M-1580 217h12M-1486 217h12M-1463 217h35M-1416 217h12M-1369 217h12M-1322 217h12M-1275 217h47M-1182 217h23M-1147 217h12M-1100 217h12M-1053 217h12M-854 217h47M-784 217h23M-714 217h35M-655 217h47M-585 217h23M-550 217h23M-515 217h12M-410 217h12M-374 217h47M-316 217h12M-293 217h12M-246 217h23M-187 217h35M-117 217h12M-94 217h12M-70 217h12M-47 217h23M82 217h35M129 217h12M152 217h82M257 217h23M363 217h12M398 217h59M527 217h12M550 217h23M620 217h12M679 217h12M714 217h23M784 217h12M807 217h12M831 217h23M866 217h12M901 217h12M924 217h12M983 217h23M1018 217h12M1053 217h47M1112 217h12M1147 217h35M1194 217h12M1217 217h35M1264 217h12M1287 217h70M1369 217h47M1428 217h47M1498 217h12M1533 217h12M1556 217h12M1580 217h23M-1676 207h35M-1582 207h12M-1547 207h12M-1512 207h47M-1430 207h12M-1301 207h12M-1231 207h12M-1207 207h12M-1172 207h12M-1148 207h12M-1090 207h35M-1031 207h23M-973 207h12M-926 207h12M-891 207h12M-867 207h12M-844 207h23M-809 207h12M-773 207h35M-715 207h12M-691 207h23M-645 207h12M-621 207h12M-574 207h12M-492 207h12M-410 207h23M-363 207h23M-328 207h12M-293 207h12M-234 207h23M-164 207h23M-129 207h23M-94 207h23M23 207h12M82 207h35M141 207h23M176 207h129M363 207h12M398 207h82M516 207h47M621 207h12M656 207h23M703 207h23M738 207h23M832 207h12M855 207h12M914 207h23M949 207h12M984 207h47M1066 207h23M1102 207h23M1137 207h12M1160 207h47M1219 207h35M1301 207h94M1453 207h12M1477 207h12M1535 207h47M1664 207h23M-1690 197h12M-1667 197h12M-1643 197h23M-1596 197h12M-1549 197h35M-1502 197h12M-1479 197h35M-1432 197h12M-1397 197h23M-1338 197h12M-1221 197h47M-1150 197h23M-1103 197h12M-1080 197h47M-962 197h12M-939 197h12M-915 197h12M-880 197h70M-798 197h12M-646 197h12M-610 197h23M-575 197h23M-540 197h23M-423 197h12M-399 197h82M-246 197h12M-188 197h12M-129 197h47M-59 197h23M0 197h12M70 197h106M223 197h12M258 197h23M293 197h47M352 197h12M399 197h59M469 197h23M528 197h12M552 197h12M575 197h12M634 197h23M692 197h12M716 197h82M822 197h12M845 197h12M880 197h12M904 197h35M951 197h12M986 197h23M1021 197h129M1162 197h47M1221 197h47M1314 197h94M1420 197h59M1537 197h35M1631 197h12M1655 197h12M-1693 187h12M-1669 187h12M-1634 187h12M-1575 187h71M-1493 187h24M-1457 187h24M-1410 187h24M-1340 187h12M-1316 187h12M-1281 187h24M-1246 187h12M-1222 187h59M-1081 187h24M-917 187h12M-882 187h12M-835 187h12M-799 187h12M-776 187h12M-752 187h12M-623 187h12M-599 187h12M-576 187h24M-541 187h12M-470 187h12M-435 187h12M-411 187h12M-388 187h12M-329 187h12M-235 187h12M-165 187h24M-118 187h24M-47 187h12M24 187h12M129 187h12M153 187h35M223 187h35M270 187h12M317 187h12M341 187h35M400 187h82M529 187h47M623 187h118M752 187h35M811 187h12M858 187h24M929 187h12M976 187h12M1023 187h12M1058 187h82M1164 187h12M1187 187h35M1234 187h24M1316 187h12M1340 187h59M1434 187h12M1540 187h12M-1695 177h24M-1660 177h24M-1624 177h12M-1554 177h35M-1495 177h24M-1424 177h35M-1365 177h12M-1318 177h12M-1177 177h12M-1095 177h47M-1024 177h12M-942 177h47M-883 177h12M-859 177h24M-824 177h47M-765 177h24M-695 177h12M-671 177h12M-647 177h35M-541 177h12M-459 177h12M-436 177h24M-388 177h24M-235 177h59M-165 177h24M-59 177h47M24 177h12M71 177h12M106 177h47M165 177h12M212 177h35M283 177h24M318 177h35M400 177h12M424 177h59M494 177h12M530 177h35M624 177h47M695 177h12M742 177h24M789 177h12M848 177h24M906 177h35M1048 177h71M1130 177h12M1154 177h24M1189 177h35M1236 177h12M1271 177h24M1318 177h106M1448 177h24M1483 177h24M1636 177h24M-1698 167h12M-1674 167h12M-1650 167h12M-1556 167h12M-1521 167h12M-1497 167h24M-1403 167h47M-1309 167h12M-1285 167h12M-1085 167h35M-1037 167h12M-1014 167h12M-978 167h12M-943 167h24M-908 167h12M-861 167h12M-837 167h12M-802 167h12M-778 167h35M-696 167h47M-625 167h12M-601 167h12M-566 167h12M-542 167h12M-519 167h12M-495 167h24M-436 167h35M-377 167h12M-354 167h12M-259 167h12M-236 167h12M-200 167h12M-130 167h35M-83 167h59M0 167h12M94 167h12M118 167h12M153 167h35M236 167h35M283 167h12M307 167h35M354 167h12M377 167h12M401 167h24M436 167h35M495 167h35M566 167h12M613 167h12M637 167h47M707 167h12M743 167h12M766 167h24M825 167h47M884 167h12M920 167h24M955 167h12M978 167h12M1061 167h59M1132 167h12M1155 167h12M1179 167h47M1238 167h24M1273 167h12M1309 167h35M1356 167h12M1391 167h59M1462 167h35M1533 167h12M1615 167h12M1662 167h24M-1676 157h12M-1652 157h12M-1511 157h24M-1452 157h12M-1428 157h12M-1381 157h35M-1334 157h12M-1310 157h12M-1192 157h24M-1157 157h12M-1098 157h24M-1051 157h12M-1027 157h35M-944 157h35M-885 157h35M-826 157h24M-767 157h24M-685 157h12M-649 157h47M-567 157h24M-508 157h12M-472 157h12M-449 157h24M-413 157h35M-342 157h12M-295 157h12M-248 157h35M-177 157h12M-106 157h35M-35 157h12M-12 157h24M83 157h47M142 157h35M189 157h12M212 157h24M248 157h94M354 157h12M401 157h12M449 157h35M496 157h35M567 157h12M590 157h12M626 157h24M661 157h24M696 157h35M755 157h12M826 157h47M897 157h12M921 157h12M944 157h12M1051 157h71M1133 157h71M1239 157h47M1298 157h12M1322 157h12M1369 157h35M1416 157h47M1475 157h12M1499 157h12M1558 157h12M1593 157h12M-1666 147h12M-1560 147h24M-1524 147h24M-1489 147h12M-1394 147h12M-1371 147h12M-1347 147h12M-1229 147h12M-1205 147h24M-1170 147h12M-1122 147h59M-1052 147h24M-1016 147h35M-933 147h24M-839 147h12M-815 147h12M-792 147h12M-685 147h12M-650 147h12M-614 147h12M-567 147h12M-520 147h35M-449 147h24M-414 147h12M-390 147h35M-319 147h12M-272 147h12M-213 147h12M-189 147h12M-165 147h12M-118 147h35M-71 147h24M-35 147h24M12 147h12M118 147h24M177 147h12M224 147h12M248 147h12M319 147h24M366 147h24M402 147h59M473 147h12M496 147h35M544 147h24M626 147h12M650 147h12M685 147h12M721 147h24M780 147h12M815 147h35M874 147h12M910 147h12M945 147h12M1063 147h118M1193 147h47M1264 147h83M1359 147h24M1406 147h106M1524 147h12M1642 147h12M1690 147h12M-1691 137h12M-1620 137h24M-1573 137h12M-1514 137h35M-1443 137h12M-1396 137h12M-1348 137h12M-1313 137h12M-1254 137h12M-1218 137h24M-1183 137h24M-1147 137h12M-1124 137h47M-1053 137h35M-994 137h12M-923 137h12M-887 137h24M-781 137h12M-698 137h12M-627 137h12M-591 137h12M-568 137h12M-449 137h59M-378 137h12M-331 137h24M-284 137h12M-260 137h12M-225 137h47M-130 137h24M-83 137h24M106 137h47M177 137h12M225 137h12M260 137h12M284 137h12M319 137h24M367 137h24M402 137h24M461 137h12M485 137h12M603 137h12M651 137h12M686 137h12M804 137h12M863 137h24M899 137h24M982 137h35M1053 137h12M1088 137h24M1124 137h142M1277 137h83M1372 137h95M1490 137h12M1609 137h24M1656 137h12M-1705 126h24M-1598 126h12M-1575 126h36M-1515 126h36M-1385 126h24M-1326 126h12M-1302 126h12M-1279 126h12M-1255 126h24M-1219 126h71M-1113 126h24M-1077 126h36M-1030 126h24M-852 126h12M-734 126h12M-675 126h12M-651 126h12M-580 126h12M-509 126h12M-474 126h12M-450 126h59M-320 126h12M-272 126h71M-189 126h36M-142 126h12M-118 126h47M-59 126h12M36 126h12M71 126h24M142 126h24M178 126h59M249 126h12M296 126h24M355 126h12M379 126h24M438 126h47M533 126h24M616 126h12M699 126h12M781 126h12M852 126h24M947 126h12M1066 126h36M1137 126h178M1326 126h36M1373 126h107M1492 126h12M1515 126h24M1575 126h12M-1707 116h24M-1636 116h12M-1612 116h24M-1576 116h36M-1517 116h12M-1446 116h12M-1387 116h12M-1351 116h12M-1244 116h12M-1221 116h24M-1173 116h12M-1114 116h12M-1090 116h12M-1055 116h12M-996 116h12M-913 116h36M-865 116h24M-806 116h36M-735 116h12M-664 116h12M-616 116h12M-545 116h12M-462 116h12M-439 116h24M-403 116h12M-379 116h36M-261 116h47M-201 116h12M-178 116h24M-95 116h24M-47 116h12M-12 116h12M59 116h83M213 116h83M367 116h47M439 116h12M462 116h36M521 116h12M545 116h12M569 116h12M604 116h12M747 116h47M818 116h12M841 116h36M924 116h12M984 116h12M1007 116h12M1067 116h296M1375 116h12M1399 116h59M1470 116h24M1588 116h24M-1613 106h24M-1518 106h12M-1495 106h12M-1471 106h12M-1400 106h95M-1269 106h24M-1234 106h24M-1198 106h12M-1174 106h12M-1151 106h24M-1115 106h12M-1091 106h12M-1032 106h12M-1008 106h47M-902 106h36M-854 106h12M-724 106h36M-629 106h12M-605 106h59M-451 106h107M-297 106h47M-190 106h24M-95 106h12M-71 106h12M12 106h12M47 106h24M83 106h47M166 106h24M202 106h12M237 106h24M297 106h12M356 106h12M380 106h24M475 106h12M498 106h47M558 106h12M581 106h24M759 106h12M842 106h12M925 106h12M949 106h24M1056 106h24M1091 106h12M1127 106h12M1151 106h12M1210 106h24M1293 106h12M1412 106h12M1471 106h12M1507 106h12M1530 106h36M1613 106h24M1696 106h12M-1709 96h24M-1626 96h12M-1602 96h36M-1531 96h12M-1496 96h12M-1460 96h12M-1436 96h12M-1341 96h24M-1282 96h24M-1223 96h24M-1163 96h12M-1140 96h12M-1116 96h12M-1092 96h24M-1033 96h36M-985 96h12M-914 96h24M-867 96h12M-819 96h12M-736 96h12M-605 96h24M-570 96h12M-534 96h12M-427 96h36M-356 96h12M-332 96h12M-309 96h12M-261 96h24M-202 96h24M-131 96h12M-107 96h24M-71 96h12M-24 96h12M83 96h12M119 96h24M178 96h24M226 96h36M297 96h12M356 96h12M380 96h12M404 96h24M451 96h59M546 96h24M582 96h12M724 96h24M760 96h12M831 96h24M914 96h47M1009 96h36M1092 96h12M1116 96h12M1163 96h36M1294 96h24M1353 96h12M1413 96h12M1448 96h24M1508 96h12M1531 96h12M1555 96h12M1602 96h12M1626 96h12M1697 96h12M-1544 86h24M-1508 86h24M-1461 86h12M-1354 86h12M-1295 86h24M-1164 86h12M-1140 86h36M-1057 86h24M-1021 86h36M-974 86h48M-915 86h12M-891 86h12M-820 86h12M-736 86h24M-451 86h48M-333 86h12M-249 86h12M-178 86h12M-154 86h12M-131 86h24M-71 86h24M-24 86h12M24 86h12M83 86h24M119 86h36M178 86h48M261 86h12M285 86h12M309 86h12M333 86h12M380 86h24M428 86h24M463 86h24M499 86h12M558 86h12M582 86h24M689 86h59M772 86h12M867 86h24M938 86h12M1010 86h24M1057 86h36M1116 86h12M1140 86h12M1164 86h12M1449 86h12M1473 86h12M1603 86h24M1663 86h24M-1676 76h12M-1628 76h12M-1545 76h59M-1414 76h12M-1390 76h36M-1331 76h12M-1307 76h48M-1236 76h36M-1188 76h71M-1105 76h12M-1058 76h24M-951 76h12M-891 76h12M-820 76h24M-761 76h12M-618 76h12M-582 76h24M-547 76h12M-523 76h12M-452 76h71M-357 76h12M-321 76h12M-178 76h12M-131 76h24M-95 76h24M-36 76h12M12 76h24M119 76h12M143 76h12M166 76h24M202 76h36M285 76h12M333 76h12M368 76h48M440 76h12M475 76h12M499 76h12M547 76h12M570 76h24M701 76h36M879 76h12M927 76h48M1022 76h12M1046 76h12M1070 76h12M1093 76h24M1236 76h12M1272 76h12M1331 76h12M1402 76h12M1474 76h12M1604 76h24M-1665 66h12M-1641 66h12M-1558 66h12M-1534 66h59M-1368 66h24M-1296 66h24M-1261 66h12M-1237 66h36M-1130 66h36M-1070 66h24M-1023 66h24M-987 66h36M-868 66h12M-821 66h36M-761 66h24M-630 66h12M-606 66h12M-583 66h48M-428 66h12M-345 66h48M-238 66h24M-202 66h12M-178 66h12M-155 66h24M-119 66h48M-59 66h12M0 66h24M59 66h12M83 66h24M202 66h48M381 66h48M476 66h24M559 66h12M583 66h12M606 66h12M654 66h12M702 66h59M868 66h36M916 66h12M939 66h24M987 66h12M1035 66h24M1130 66h12M1153 66h12M1201 66h12M1272 66h83M1379 66h12M1451 66h24M1486 66h12M1534 66h12M1570 66h12M1665 66h12M1689 66h12M-1713 56h12M-1666 56h12M-1642 56h24M-1547 56h48M-1464 56h24M-1392 56h12M-1368 56h36M-1309 56h24M-1237 56h12M-1190 56h12M-1130 56h59M-1023 56h12M-964 56h24M-916 56h12M-750 56h12M-726 56h36M-619 56h12M-583 56h12M-547 56h12M-416 56h12M-381 56h36M-226 56h12M-131 56h12M-59 56h12M-12 56h24M24 56h24M178 56h24M250 56h12M274 56h24M321 56h12M369 56h59M488 56h24M535 56h24M666 56h12M690 56h24M738 56h24M785 56h24M869 56h12M904 56h12M1011 56h59M1118 56h24M1297 56h48M1368 56h12M1404 56h36M1535 56h12M1559 56h36M1666 56h12M1702 56h12M-1702 46h12M-1678 46h12M-1631 46h95M-1512 46h12M-1488 46h12M-1464 46h12M-1440 46h12M-1416 46h36M-1345 46h12M-1274 46h36M-1166 46h24M-1095 46h48M-1012 46h12M-952 46h12M-821 46h12M-797 46h12M-750 46h12M-726 46h36M-643 46h36M-405 46h12M-381 46h24M-309 46h12M-214 46h12M-190 46h12M-143 46h12M0 46h36M48 46h12M71 46h36M131 46h24M190 46h24M250 46h12M286 46h24M321 46h12M345 46h12M369 46h24M428 46h12M500 46h48M559 46h36M631 46h24M702 46h12M738 46h12M762 46h12M786 46h12M821 46h12M881 46h48M940 46h12M976 46h12M1000 46h36M1047 46h12M1083 46h12M1155 46h12M1202 46h12M1250 46h12M1345 46h12M1369 46h12M1393 46h12M1428 46h12M1512 46h12M1571 46h24M1643 46h48M-1679 35h12M-1631 35h36M-1583 35h12M-1560 35h24M-1452 35h12M-1417 35h36M-1357 35h12M-1274 35h24M-1226 35h12M-1095 35h12M-1072 35h12M-1000 35h24M-810 35h48M-750 35h12M-631 35h24M-595 35h12M-571 35h12M-548 35h48M-464 35h36M-393 35h12M-345 35h12M-298 35h12M-274 35h60M-190 35h12M-155 35h12M-131 35h24M-36 35h95M119 35h36M179 35h36M238 35h24M310 35h12M369 35h12M405 35h12M464 35h12M512 35h24M607 35h24M655 35h12M762 35h60M905 35h12M976 35h12M1012 35h12M1226 35h12M1250 35h12M1286 35h12M1357 35h12M1393 35h12M1524 35h12M1560 35h12M1583 35h12M1619 35h12M1655 35h12M1679 35h36M-1715 25h12M-1679 25h36M-1620 25h12M-1596 25h12M-1572 25h12M-1453 25h12M-1381 25h48M-1286 25h24M-1179 25h12M-1155 25h12M-1119 25h12M-1084 25h12M-893 25h12M-798 25h12M-738 25h12M-655 25h12M-631 25h12M-607 25h24M-536 25h12M-488 25h12M-453 25h36M-357 25h12M-238 25h24M-191 25h12M-143 25h24M-48 25h12M12 25h12M36 25h12M83 25h24M155 25h12M191 25h12M214 25h24M250 25h12M298 25h12M322 25h12M357 25h12M381 25h24M429 25h24M464 25h12M500 25h36M572 25h12M643 25h24M798 25h24M857 25h12M929 25h12M965 25h24M1048 25h12M1191 25h12M1215 25h60M1310 25h12M1334 25h12M1405 25h12M1524 25h24M1560 25h12M1620 25h12M1655 25h36M1703 25h12M-1703 15h12M-1680 15h12M-1632 15h36M-1429 15h12M-1275 15h12M-1215 15h12M-1132 15h24M-1096 15h12M-989 15h12M-941 15h12M-917 15h12M-893 15h12M-846 15h36M-762 15h12M-703 15h12M-643 15h12M-619 15h48M-548 15h24M-488 15h24M-441 15h12M-345 15h12M-286 15h36M-238 15h24M-119 15h12M-12 15h12M24 15h48M155 15h12M179 15h12M262 15h12M298 15h12M369 15h12M405 15h24M441 15h12M596 15h12M655 15h12M691 15h12M739 15h12M774 15h36M834 15h24M870 15h12M929 15h12M953 15h24M989 15h12M1036 15h24M1072 15h12M1191 15h24M1310 15h24M1501 15h12M1560 15h12M1608 15h12M1632 15h24M1668 15h12M1692 15h12M-1704 5h12M-1680 5h24M-1632 5h24M-1597 5h24M-1442 5h24M-1406 5h48M-1287 5h24M-1215 5h12M-1192 5h12M-1108 5h24M-1072 5h12M-989 5h12M-965 5h12M-906 5h12M-846 5h12M-798 5h24M-715 5h12M-536 5h12M-489 5h24M-417 5h12M-334 5h12M-286 5h24M-238 5h48M-131 5h36M-48 5h12M-24 5h24M24 5h36M71 5h12M95 5h36M143 5h24M179 5h12M274 5h12M310 5h24M369 5h48M429 5h12M453 5h12M512 5h24M548 5h48M643 5h12M667 5h36M798 5h12M822 5h12M846 5h24M917 5h12M965 5h24M1084 5h12M1144 5h36M1299 5h24M1370 5h48M1501 5h12M1537 5h12M1573 5h24M1620 5h12M1644 5h24M1692 5h12M-1716 -5h36M-1668 -5h155M-1489 -5h12M-1466 -5h36M-1418 -5h60M-1323 -5h36M-1239 -5h12M-1120 -5h12M-1096 -5h24M-1013 -5h24M-965 -5h24M-929 -5h36M-858 -5h12M-798 -5h24M-679 -5h12M-548 -5h12M-477 -5h12M-441 -5h12M-357 -5h24M-310 -5h12M-286 -5h12M-262 -5h12M-238 -5h12M-203 -5h12M-179 -5h24M-143 -5h24M-83 -5h12M-24 -5h12M12 -5h36M60 -5h12M107 -5h48M226 -5h12M262 -5h12M310 -5h24M393 -5h12M417 -5h12M453 -5h12M489 -5h12M584 -5h24M643 -5h24M679 -5h12M715 -5h24M774 -5h24M870 -5h24M917 -5h12M1001 -5h12M1072 -5h24M1156 -5h12M1215 -5h24M1311 -5h12M1454 -5h12M1525 -5h12M1597 -5h60M1668 -5h24M-1715 -15h48M-1632 -15h36M-1572 -15h24M-1537 -15h48M-1477 -15h12M-1429 -15h12M-1406 -15h12M-1382 -15h12M-1310 -15h24M-1275 -15h24M-1227 -15h12M-1203 -15h48M-1096 -15h12M-989 -15h12M-965 -15h48M-881 -15h12M-798 -15h12M-750 -15h12M-667 -15h24M-572 -15h24M-536 -15h12M-441 -15h12M-417 -15h24M-322 -15h36M-274 -15h12M-250 -15h12M-226 -15h12M-131 -15h12M-71 -15h24M12 -15h36M83 -15h12M119 -15h12M155 -15h12M250 -15h12M286 -15h24M334 -15h12M369 -15h12M393 -15h24M429 -15h12M488 -15h12M512 -15h60M596 -15h12M655 -15h36M727 -15h24M786 -15h12M846 -15h12M870 -15h12M941 -15h24M1001 -15h24M1096 -15h24M1144 -15h36M1203 -15h12M1275 -15h12M1298 -15h12M1394 -15h24M1429 -15h12M1453 -15h12M1549 -15h12M1572 -15h12M1596 -15h12M1620 -15h24M1668 -15h36M-1691 -25h24M-1572 -25h12M-1548 -25h24M-1512 -25h48M-1405 -25h12M-1381 -25h12M-1358 -25h12M-1310 -25h24M-1274 -25h24M-1215 -25h24M-1167 -25h12M-1131 -25h12M-1108 -25h24M-1000 -25h12M-965 -25h12M-905 -25h24M-846 -25h12M-810 -25h12M-774 -25h12M-750 -25h24M-715 -25h12M-667 -25h36M-584 -25h60M-476 -25h12M-441 -25h12M-417 -25h12M-345 -25h12M-322 -25h48M-167 -25h24M-119 -25h12M-83 -25h12M12 -25h24M83 -25h12M107 -25h24M143 -25h24M262 -25h24M405 -25h12M441 -25h12M464 -25h12M512 -25h36M595 -25h12M679 -25h48M738 -25h12M786 -25h24M881 -25h12M929 -25h12M977 -25h12M1000 -25h24M1036 -25h12M1060 -25h83M1155 -25h36M1215 -25h12M1274 -25h12M1334 -25h24M1370 -25h48M1441 -25h12M1477 -25h12M1536 -25h12M1596 -25h12M1620 -25h12M1643 -25h12M1691 -25h24M-1691 -35h24M-1655 -35h24M-1619 -35h24M-1548 -35h12M-1524 -35h12M-1488 -35h12M-1405 -35h12M-1369 -35h12M-1262 -35h12M-1238 -35h12M-1179 -35h36M-1095 -35h12M-1060 -35h12M-976 -35h12M-952 -35h12M-917 -35h12M-869 -35h12M-821 -35h12M-667 -35h36M-571 -35h12M-548 -35h12M-500 -35h12M-464 -35h12M-429 -35h12M-369 -35h12M-345 -35h12M-321 -35h24M-143 -35h36M-83 -35h12M-60 -35h36M0 -35h12M24 -35h12M60 -35h36M131 -35h12M250 -35h12M286 -35h36M345 -35h36M393 -35h12M452 -35h12M500 -35h24M560 -35h12M762 -35h12M810 -35h12M869 -35h36M917 -35h24M1000 -35h12M1024 -35h24M1060 -35h12M1083 -35h36M1226 -35h24M1286 -35h12M1322 -35h12M1393 -35h36M1441 -35h24M1476 -35h12M1560 -35h12M1583 -35h12M1655 -35h12M1679 -35h36M-1714 -46h36M-1654 -46h12M-1607 -46h24M-1571 -46h36M-1524 -46h24M-1428 -46h12M-1405 -46h12M-1357 -46h12M-1274 -46h12M-1250 -46h12M-1178 -46h12M-1047 -46h24M-1012 -46h36M-952 -46h24M-916 -46h12M-893 -46h12M-797 -46h12M-774 -46h12M-738 -46h12M-702 -46h12M-655 -46h24M-583 -46h12M-548 -46h12M-512 -46h12M-476 -46h24M-428 -46h12M-190 -46h12M-155 -46h12M-107 -46h12M-60 -46h24M-24 -46h24M12 -46h24M60 -46h24M202 -46h12M226 -46h36M286 -46h24M321 -46h36M369 -46h12M405 -46h60M500 -46h12M595 -46h12M762 -46h12M786 -46h12M869 -46h48M940 -46h12M976 -46h12M1012 -46h12M1047 -46h71M1131 -46h60M1214 -46h36M1333 -46h24M1369 -46h12M1405 -46h12M1464 -46h24M1583 -46h12M1631 -46h12M1666 -46h12M-1713 -56h48M-1642 -56h36M-1583 -56h24M-1547 -56h12M-1511 -56h36M-1452 -56h24M-1404 -56h24M-1356 -56h12M-1273 -56h12M-1249 -56h12M-1059 -56h12M-964 -56h24M-857 -56h12M-821 -56h12M-797 -56h24M-571 -56h12M-524 -56h12M-488 -56h24M-428 -56h48M-309 -56h12M-274 -56h12M-107 -56h24M-71 -56h12M-48 -56h12M-12 -56h12M12 -56h24M71 -56h24M119 -56h12M190 -56h12M214 -56h12M286 -56h59M357 -56h83M500 -56h24M583 -56h24M631 -56h12M654 -56h24M738 -56h12M762 -56h12M845 -56h12M881 -56h12M976 -56h24M1011 -56h12M1083 -56h83M1237 -56h12M1273 -56h36M1321 -56h12M1356 -56h12M1380 -56h12M1416 -56h24M1487 -56h12M1547 -56h12M1583 -56h48M1642 -56h12M1678 -56h24M-1712 -66h12M-1677 -66h24M-1629 -66h12M-1605 -66h24M-1570 -66h48M-1498 -66h71M-1320 -66h12M-1225 -66h12M-1201 -66h12M-1094 -66h24M-999 -66h24M-951 -66h24M-892 -66h12M-856 -66h12M-821 -66h12M-785 -66h12M-666 -66h12M-630 -66h12M-583 -66h12M-499 -66h12M-440 -66h12M-333 -66h12M-309 -66h12M-285 -66h24M-155 -66h48M-95 -66h24M-59 -66h12M-24 -66h36M36 -66h12M59 -66h12M119 -66h12M202 -66h12M226 -66h24M262 -66h12M297 -66h12M333 -66h12M357 -66h24M392 -66h12M499 -66h12M547 -66h12M583 -66h24M642 -66h24M713 -66h24M785 -66h24M844 -66h12M999 -66h12M1046 -66h36M1106 -66h12M1356 -66h12M1379 -66h71M1498 -66h12M1582 -66h12M1665 -66h36M-1711 -76h12M-1676 -76h12M-1652 -76h24M-1616 -76h36M-1557 -76h12M-1509 -76h24M-1450 -76h12M-1367 -76h12M-1319 -76h12M-1260 -76h24M-1212 -76h12M-1177 -76h24M-1129 -76h12M-1105 -76h24M-1070 -76h48M-998 -76h12M-951 -76h24M-891 -76h12M-868 -76h12M-844 -76h24M-808 -76h24M-713 -76h12M-594 -76h12M-559 -76h24M-428 -76h12M-392 -76h12M-333 -76h12M-297 -76h36M-202 -76h12M-166 -76h12M-143 -76h12M-119 -76h12M-48 -76h24M0 -76h24M83 -76h24M143 -76h12M190 -76h12M357 -76h24M392 -76h48M725 -76h24M761 -76h36M808 -76h24M844 -76h24M879 -76h48M1070 -76h24M1355 -76h12M1402 -76h48M1509 -76h12M1545 -76h12M1652 -76h59M-1639 -86h12M-1615 -86h12M-1592 -86h12M-1532 -86h59M-1461 -86h24M-1390 -86h12M-1318 -86h12M-1259 -86h24M-1223 -86h12M-1176 -86h12M-1093 -86h12M-1069 -86h48M-962 -86h24M-915 -86h12M-879 -86h48M-736 -86h12M-713 -86h48M-653 -86h36M-594 -86h12M-570 -86h36M-523 -86h12M-439 -86h12M-416 -86h12M-380 -86h24M-321 -86h48M-226 -86h12M-190 -86h12M-154 -86h12M-131 -86h36M-71 -86h12M-48 -86h12M-24 -86h36M71 -86h12M95 -86h36M154 -86h36M285 -86h59M380 -86h71M463 -86h12M511 -86h36M701 -86h12M736 -86h12M772 -86h48M831 -86h12M855 -86h12M879 -86h12M903 -86h24M1057 -86h12M1081 -86h12M1211 -86h12M1318 -86h12M1354 -86h12M1390 -86h12M1425 -86h12M1461 -86h12M1520 -86h12M1615 -86h12M1663 -86h48M-1674 -96h24M-1638 -96h24M-1519 -96h12M-1496 -96h47M-1436 -96h12M-1401 -96h12M-1365 -96h12M-1341 -96h12M-1306 -96h12M-1258 -96h24M-1223 -96h36M-1163 -96h12M-1116 -96h12M-807 -96h24M-724 -96h24M-688 -96h24M-653 -96h24M-594 -96h36M-546 -96h12M-451 -96h12M-392 -96h12M-356 -96h24M-320 -96h47M-261 -96h12M-178 -96h47M-119 -96h12M-59 -96h12M-24 -96h24M59 -96h12M131 -96h47M297 -96h12M320 -96h24M380 -96h12M404 -96h24M510 -96h12M558 -96h12M605 -96h12M795 -96h12M819 -96h36M1080 -96h24M1329 -96h12M1413 -96h12M1436 -96h12M1519 -96h12M1602 -96h24M1650 -96h12M-1696 -106h12M-1661 -106h12M-1625 -106h12M-1590 -106h12M-1507 -106h12M-1471 -106h24M-1388 -106h12M-1281 -106h12M-1222 -106h71M-1127 -106h47M-961 -106h36M-902 -106h12M-878 -106h12M-807 -106h24M-759 -106h107M-581 -106h24M-522 -106h12M-475 -106h12M-368 -106h12M-344 -106h12M-308 -106h12M-285 -106h36M-202 -106h12M-178 -106h24M-142 -106h36M-71 -106h12M-24 -106h47M71 -106h12M95 -106h24M130 -106h12M154 -106h24M214 -106h36M297 -106h12M332 -106h24M368 -106h83M475 -106h12M510 -106h12M546 -106h24M617 -106h12M783 -106h12M807 -106h24M854 -106h12M890 -106h12M1044 -106h12M1103 -106h12M1269 -106h12M1341 -106h12M1388 -106h12M1518 -106h12M1542 -106h12M1590 -106h36M1696 -106h12M-1636 -116h12M-1600 -116h12M-1553 -116h12M-1458 -116h24M-1399 -116h12M-1316 -116h12M-1268 -116h12M-1244 -116h12M-1221 -116h12M-1197 -116h12M-1173 -116h12M-1150 -116h12M-1114 -116h12M-948 -116h12M-913 -116h12M-853 -116h12M-830 -116h12M-806 -116h24M-747 -116h12M-723 -116h47M-604 -116h12M-521 -116h24M-415 -116h12M-356 -116h24M-308 -116h12M-284 -116h24M-249 -116h12M-213 -116h12M-190 -116h24M379 -116h24M415 -116h12M439 -116h59M569 -116h12M604 -116h24M676 -116h12M711 -116h12M806 -116h12M830 -116h12M853 -116h59M984 -116h12M1067 -116h12M1304 -116h12M1351 -116h12M1375 -116h12M1446 -116h12M1517 -116h36M1576 -116h12M1624 -116h12M1647 -116h47M-1634 -126h12M-1610 -126h24M-1433 -126h24M-1397 -126h12M-1362 -126h12M-1326 -126h12M-1255 -126h24M-1208 -126h12M-1184 -126h47M-1077 -126h12M-900 -126h24M-829 -126h12M-675 -126h12M-651 -126h12M-616 -126h36M-556 -126h12M-485 -126h36M-414 -126h12M-391 -126h12M-367 -126h12M-343 -126h12M-296 -126h59M-225 -126h12M-189 -126h24M379 -126h36M426 -126h71M521 -126h12M556 -126h12M628 -126h12M651 -126h12M687 -126h36M805 -126h12M829 -126h59M912 -126h12M983 -126h12M1279 -126h12M1338 -126h36M1385 -126h12M1444 -126h12M1527 -126h36M1622 -126h12M1693 -126h12M-1680 -137h12M-1609 -137h12M-1585 -137h12M-1514 -137h12M-1467 -137h35M-1419 -137h24M-1384 -137h12M-1360 -137h12M-1325 -137h12M-1254 -137h24M-1195 -137h12M-1171 -137h24M-875 -137h12M-828 -137h24M-769 -137h12M-662 -137h12M-615 -137h47M-509 -137h12M-485 -137h35M-402 -137h12M-378 -137h24M-343 -137h12M-284 -137h12M-225 -137h12M-189 -137h12M378 -137h12M402 -137h47M461 -137h12M497 -137h12M520 -137h12M556 -137h24M591 -137h35M651 -137h12M674 -137h35M816 -137h12M863 -137h35M1005 -137h12M1254 -137h12M1313 -137h24M1360 -137h12M1561 -137h12M1609 -137h12M1632 -137h12M-1642 -147h12M-1607 -147h12M-1512 -147h47M-1418 -147h24M-1371 -147h12M-1347 -147h12M-1288 -147h47M-1217 -147h35M-1158 -147h35M-1111 -147h24M-1052 -147h12M-1016 -147h24M-733 -147h24M-697 -147h24M-614 -147h24M-567 -147h12M-532 -147h35M-437 -147h24M-378 -147h47M-272 -147h12M-248 -147h12M-189 -147h24M331 -147h12M402 -147h12M425 -147h12M461 -147h12M532 -147h12M567 -147h35M614 -147h47M685 -147h12M815 -147h12M839 -147h59M922 -147h12M1028 -147h12M1205 -147h35M1264 -147h12M1288 -147h12M1312 -147h12M1371 -147h12M1442 -147h12M1524 -147h12M1571 -147h35M1666 -147h12M-1700 -157h12M-1676 -157h12M-1629 -157h12M-1605 -157h12M-1570 -157h12M-1523 -157h24M-1475 -157h12M-1428 -157h12M-1405 -157h12M-1357 -157h12M-1322 -157h12M-1298 -157h35M-1239 -157h12M-1216 -157h12M-1192 -157h12M-1169 -157h24M-1110 -157h59M-1039 -157h24M-779 -157h12M-755 -157h12M-720 -157h24M-673 -157h12M-626 -157h12M-590 -157h12M-519 -157h12M-460 -157h24M-425 -157h12M-366 -157h59M-283 -157h12M-248 -157h24M-212 -157h24M-177 -157h12M342 -157h12M425 -157h12M555 -157h24M626 -157h12M649 -157h12M673 -157h24M720 -157h12M838 -157h12M944 -157h12M1027 -157h12M1062 -157h24M1098 -157h12M1228 -157h12M1322 -157h12M1369 -157h47M1428 -157h12M1487 -157h12M1605 -157h12M1664 -157h24M-1686 -167h12M-1662 -167h12M-1639 -167h24M-1603 -167h12M-1509 -167h24M-1438 -167h12M-1367 -167h24M-1309 -167h24M-1273 -167h12M-1250 -167h24M-1202 -167h12M-1167 -167h12M-1144 -167h12M-1108 -167h12M-1061 -167h47M-908 -167h12M-802 -167h12M-778 -167h12M-719 -167h24M-589 -167h47M-519 -167h24M-460 -167h12M-424 -167h12M-330 -167h24M-295 -167h12M-271 -167h59M-200 -167h24M-153 -167h12M-130 -167h12M-94 -167h24M-59 -167h35M35 -167h12M94 -167h24M200 -167h24M318 -167h12M424 -167h12M495 -167h12M601 -167h12M707 -167h12M802 -167h12M931 -167h24M990 -167h12M1061 -167h24M1273 -167h12M1297 -167h12M1379 -167h24M1415 -167h24M1450 -167h12M1474 -167h12M1603 -167h12M1662 -167h12M-1624 -177h12M-1601 -177h12M-1507 -177h12M-1448 -177h12M-1424 -177h24M-1330 -177h59M-1260 -177h12M-1224 -177h12M-1201 -177h12M-1177 -177h12M-1142 -177h12M-1118 -177h12M-1071 -177h12M-1048 -177h24M-1012 -177h12M-918 -177h12M-800 -177h35M-753 -177h35M-636 -177h35M-589 -177h24M-530 -177h47M-447 -177h12M-318 -177h24M-212 -177h59M-82 -177h47M12 -177h24M71 -177h35M129 -177h24M212 -177h24M318 -177h12M471 -177h12M494 -177h24M553 -177h12M577 -177h24M647 -177h12M671 -177h12M859 -177h24M930 -177h12M953 -177h12M1048 -177h12M1071 -177h12M1095 -177h12M1224 -177h12M1248 -177h24M1295 -177h12M1401 -177h12M1424 -177h59M1554 -177h12M1648 -177h35M-1657 -187h12M-1622 -187h12M-1599 -187h12M-1528 -187h12M-1505 -187h24M-1457 -187h12M-1340 -187h12M-1281 -187h12M-1258 -187h12M-1234 -187h24M-1175 -187h35M-1128 -187h47M-1046 -187h12M-929 -187h24M-870 -187h12M-823 -187h12M-752 -187h12M-588 -187h12M-564 -187h24M-517 -187h12M-458 -187h12M-423 -187h12M-317 -187h24M-282 -187h12M-235 -187h12M-200 -187h24M-165 -187h12M-118 -187h12M-94 -187h12M-59 -187h12M-24 -187h12M0 -187h24M47 -187h24M94 -187h47M153 -187h12M247 -187h12M341 -187h12M411 -187h12M435 -187h12M470 -187h24M505 -187h12M529 -187h35M611 -187h12M646 -187h12M1011 -187h12M1046 -187h24M1246 -187h12M1269 -187h35M1363 -187h12M1387 -187h12M1422 -187h24M1469 -187h12M1528 -187h12M1669 -187h24M-1643 -197h23M-1537 -197h35M-1479 -197h12M-1397 -197h23M-1314 -197h47M-1221 -197h12M-1185 -197h12M-1150 -197h12M-1056 -197h12M-951 -197h12M-833 -197h12M-798 -197h12M-563 -197h23M-505 -197h23M-458 -197h12M-352 -197h12M-317 -197h12M-293 -197h12M-188 -197h59M-117 -197h12M-82 -197h12M-47 -197h12M-12 -197h23M106 -197h82M200 -197h12M223 -197h12M246 -197h35M293 -197h12M352 -197h12M411 -197h23M528 -197h12M634 -197h12M869 -197h12M904 -197h12M939 -197h12M1045 -197h12M1068 -197h12M1091 -197h12M1268 -197h12M1361 -197h23M1397 -197h12M1455 -197h12M1596 -197h12M1643 -197h35M-1652 -207h35M-1535 -207h12M-1512 -207h23M-1477 -207h12M-1441 -207h23M-1406 -207h70M-1313 -207h12M-1277 -207h12M-1242 -207h35M-1137 -207h23M-1055 -207h23M-926 -207h12M-832 -207h12M-527 -207h12M-480 -207h12M-457 -207h12M-422 -207h12M-352 -207h12M-328 -207h12M-305 -207h12M-270 -207h12M-211 -207h12M-176 -207h12M-152 -207h12M-129 -207h35M0 -207h12M23 -207h35M70 -207h12M94 -207h23M129 -207h35M199 -207h35M258 -207h35M305 -207h23M363 -207h12M445 -207h12M598 -207h47M703 -207h12M879 -207h23M938 -207h12M1031 -207h23M1066 -207h23M1137 -207h23M1184 -207h23M1242 -207h12M1383 -207h23M1418 -207h12M1441 -207h12M1465 -207h12M1523 -207h12M1547 -207h12M1606 -207h23M1652 -207h12M-1650 -217h35M-1603 -217h12M-1568 -217h23M-1509 -217h12M-1486 -217h23M-1451 -217h23M-1392 -217h12M-1369 -217h12M-1334 -217h12M-1287 -217h23M-1252 -217h23M-1217 -217h12M-1194 -217h12M-1088 -217h12M-1030 -217h35M-983 -217h12M-901 -217h12M-819 -217h12M-608 -217h23M-573 -217h35M-515 -217h12M-491 -217h12M-410 -217h12M-386 -217h12M-304 -217h12M-246 -217h12M-187 -217h12M-164 -217h12M-117 -217h12M-12 -217h23M23 -217h12M47 -217h12M70 -217h35M117 -217h23M164 -217h12M187 -217h12M211 -217h47M281 -217h23M339 -217h12M445 -217h12M585 -217h12M632 -217h12M866 -217h12M913 -217h12M1030 -217h12M1065 -217h12M1135 -217h23M1194 -217h12M1264 -217h12M1346 -217h23M1381 -217h23M1416 -217h23M1521 -217h35M1580 -217h12M1673 -217h12M-1682 -228h12M-1647 -228h23M-1612 -228h12M-1565 -228h35M-1518 -228h12M-1483 -228h12M-1460 -228h70M-1367 -228h35M-1320 -228h23M-1285 -228h12M-1262 -228h12M-1215 -228h12M-1191 -228h12M-1098 -228h35M-1028 -228h35M-923 -228h12M-853 -228h12M-619 -228h12M-596 -228h23M-526 -228h23M-467 -228h12M-397 -228h12M-374 -228h23M-280 -228h23M-222 -228h70M-140 -228h23M-58 -228h23M-23 -228h12M12 -228h12M35 -228h35M82 -228h35M140 -228h23M187 -228h12M245 -228h12M269 -228h35M315 -228h12M397 -228h12M561 -228h12M584 -228h12M864 -228h12M911 -228h12M1063 -228h35M1133 -228h23M1180 -228h12M1215 -228h12M1262 -228h23M1343 -228h70M1437 -228h12M1460 -228h47M1565 -228h12M1612 -228h12M-1679 -238h23M-1551 -238h12M-1469 -238h23M-1434 -238h12M-1411 -238h12M-1388 -238h23M-1353 -238h23M-1318 -238h23M-1283 -238h12M-1259 -238h12M-1224 -238h12M-1201 -238h12M-1178 -238h12M-1084 -238h12M-1061 -238h47M-933 -238h12M-665 -238h35M-618 -238h12M-595 -238h82M-385 -238h12M-338 -238h12M-187 -238h23M-152 -238h23M-117 -238h12M-47 -238h12M-12 -238h117M117 -238h12M152 -238h35M198 -238h23M257 -238h47M361 -238h23M396 -238h12M560 -238h12M630 -238h12M653 -238h12M688 -238h12M711 -238h12M1014 -238h12M1143 -238h23M1189 -238h12M1213 -238h47M1353 -238h12M1411 -238h23M1446 -238h12M1469 -238h58M1562 -238h12M1597 -238h12M1632 -238h23M-1583 -248h12M-1560 -248h23M-1513 -248h12M-1478 -248h12M-1420 -248h12M-1373 -248h12M-1339 -248h35M-1280 -248h12M-1211 -248h47M-1141 -248h12M-1071 -248h12M-1048 -248h35M-966 -248h12M-943 -248h12M-733 -248h35M-629 -248h12M-605 -248h58M-512 -248h12M-466 -248h12M-407 -248h12M-349 -248h23M-210 -248h12M-186 -248h35M-140 -248h12M-105 -248h12M-81 -248h12M-35 -248h12M0 -248h12M23 -248h58M93 -248h12M116 -248h12M186 -248h23M291 -248h23M361 -248h58M431 -248h12M570 -248h12M605 -248h12M652 -248h23M1001 -248h12M1187 -248h23M1222 -248h12M1315 -248h12M1339 -248h12M1373 -248h47M1478 -248h35M1525 -248h23M1595 -248h12M-1603 -258h35M-1557 -258h35M-1510 -258h12M-1487 -258h35M-1394 -258h93M-1278 -258h23M-1208 -258h12M-1162 -258h12M-1081 -258h12M-1046 -258h70M-941 -258h12M-662 -258h12M-627 -258h46M-569 -258h35M-418 -258h12M-279 -258h12M-198 -258h12M-174 -258h23M-116 -258h12M-23 -258h58M46 -258h81M163 -258h12M186 -258h35M267 -258h12M290 -258h23M395 -258h12M442 -258h12M500 -258h12M999 -258h12M1174 -258h35M1220 -258h23M1290 -258h12M1325 -258h105M1510 -258h12M1534 -258h23M1603 -258h12M1638 -258h23M-1670 -268h12M-1519 -268h12M-1485 -268h35M-1380 -268h12M-1357 -268h12M-1311 -268h12M-1287 -268h12M-1229 -268h12M-1183 -268h23M-1137 -268h12M-1102 -268h46M-1032 -268h35M-951 -268h12M-847 -268h46M-731 -268h12M-673 -268h12M-626 -268h35M-580 -268h35M-522 -268h12M-429 -268h12M-406 -268h35M-348 -268h12M-325 -268h12M-128 -268h12M35 -268h81M186 -268h46M290 -268h23M522 -268h12M580 -268h12M603 -268h23M696 -268h12M974 -268h12M1102 -268h12M1264 -268h35M1322 -268h12M1345 -268h12M1380 -268h35M1461 -268h12M1508 -268h46M1612 -268h12M1635 -268h12M-1655 -278h12M-1585 -278h12M-1562 -278h12M-1516 -278h23M-1412 -278h12M-1377 -278h46M-1284 -278h23M-1250 -278h12M-1226 -278h35M-1180 -278h12M-1146 -278h12M-1122 -278h12M-1076 -278h12M-1053 -278h23M-1007 -278h12M-972 -278h12M-903 -278h12M-879 -278h12M-856 -278h12M-833 -278h12M-798 -278h35M-741 -278h12M-706 -278h12M-660 -278h12M-636 -278h12M-579 -278h23M-544 -278h12M-509 -278h12M-486 -278h12M-382 -278h12M-301 -278h12M-266 -278h12M-174 -278h12M-139 -278h23M-104 -278h12M-46 -278h12M-23 -278h12M12 -278h23M58 -278h93M174 -278h12M197 -278h23M255 -278h12M278 -278h12M301 -278h12M324 -278h12M382 -278h12M428 -278h12M509 -278h35M555 -278h35M613 -278h35M787 -278h23M868 -278h12M972 -278h23M1007 -278h12M1099 -278h12M1250 -278h35M1319 -278h12M1354 -278h12M1377 -278h12M1400 -278h23M1458 -278h12M1493 -278h23M1527 -278h23M1597 -278h12M1620 -278h12M-1662 -288h23M-1593 -288h12M-1454 -288h46M-1373 -288h69M-1293 -288h12M-1246 -288h12M-1223 -288h35M-1177 -288h12M-1154 -288h12M-1131 -288h35M-1027 -288h12M-981 -288h23M-935 -288h12M-912 -288h23M-831 -288h23M-773 -288h23M-739 -288h23M-646 -288h12M-612 -288h12M-577 -288h35M-531 -288h46M-439 -288h23M-404 -288h12M-381 -288h12M-346 -288h12M-196 -288h12M-173 -288h12M-46 -288h12M-23 -288h35M46 -288h69M127 -288h23M196 -288h12M219 -288h12M312 -288h12M369 -288h12M462 -288h12M496 -288h12M519 -288h23M577 -288h12M600 -288h23M635 -288h12M681 -288h12M739 -288h12M785 -288h35M866 -288h35M1108 -288h12M1223 -288h35M1339 -288h12M1362 -288h12M1397 -288h35M1500 -288h12M1604 -288h58M-1658 -298h12M-1623 -298h12M-1531 -298h12M-1428 -298h23M-1382 -298h23M-1278 -298h12M-1243 -298h12M-1220 -298h12M-1186 -298h12M-1140 -298h46M-1002 -298h23M-933 -298h46M-817 -298h12M-794 -298h12M-760 -298h23M-725 -298h12M-679 -298h23M-576 -298h35M-518 -298h12M-495 -298h12M-426 -298h12M-380 -298h12M-357 -298h12M-311 -298h12M-253 -298h12M-196 -298h12M-104 -298h12M-69 -298h12M-35 -298h12M-12 -298h12M23 -298h12M46 -298h12M92 -298h46M150 -298h23M184 -298h35M242 -298h12M311 -298h12M334 -298h12M461 -298h12M484 -298h35M530 -298h12M587 -298h23M622 -298h23M898 -298h12M979 -298h12M1036 -298h12M1082 -298h12M1128 -298h12M1186 -298h12M1266 -298h23M1312 -298h12M1347 -298h12M1382 -298h58M1474 -298h12M1543 -298h12M1589 -298h58M-1654 -308h11M-1596 -308h11M-1412 -308h23M-1355 -308h11M-1286 -308h34M-1229 -308h34M-1148 -308h11M-1125 -308h23M-1091 -308h11M-1068 -308h11M-1045 -308h23M-1011 -308h23M-976 -308h11M-919 -308h11M-850 -308h11M-804 -308h11M-758 -308h34M-678 -308h23M-574 -308h11M-540 -308h11M-517 -308h23M-482 -308h46M-413 -308h23M-367 -308h23M-310 -308h11M-264 -308h11M-241 -308h11M-218 -308h11M-195 -308h11M-126 -308h23M-23 -308h11M23 -308h46M115 -308h11M138 -308h11M161 -308h11M184 -308h34M253 -308h11M356 -308h11M379 -308h23M482 -308h23M551 -308h23M609 -308h46M815 -308h11M850 -308h11M873 -308h34M999 -308h11M1079 -308h11M1102 -308h11M1125 -308h11M1148 -308h11M1183 -308h11M1206 -308h11M1240 -308h23M1309 -308h11M1332 -308h23M1378 -308h23M1412 -308h11M1470 -308h23M1504 -308h11M1527 -308h23M1573 -308h23M1642 -308h11M-1649 -319h23M-1546 -319h11M-1523 -319h11M-1501 -319h11M-1283 -319h11M-1237 -319h11M-1203 -319h11M-1157 -319h11M-1123 -319h34M-1077 -319h34M-985 -319h23M-882 -319h46M-825 -319h11M-756 -319h23M-664 -319h11M-573 -319h46M-504 -319h11M-470 -319h57M-389 -319h46M-332 -319h23M-298 -319h11M-252 -319h23M-183 -319h34M-126 -319h11M-57 -319h11M-11 -319h11M46 -319h11M80 -319h11M103 -319h11M137 -319h11M183 -319h34M275 -319h11M378 -319h11M447 -319h23M481 -319h11M504 -319h11M630 -319h11M664 -319h11M848 -319h11M882 -319h11M1111 -319h11M1294 -319h11M1317 -319h11M1340 -319h11M1363 -319h11M1386 -319h23M1420 -319h11M1512 -319h46M1615 -319h11M-1622 -329h11M-1542 -329h23M-1393 -329h11M-1370 -329h11M-1336 -329h11M-1245 -329h46M-1131 -329h171M-891 -329h11M-857 -329h23M-754 -329h23M-708 -329h11M-582 -329h11M-548 -329h23M-514 -329h11M-468 -329h11M-445 -329h11M-377 -329h11M-320 -329h11M-240 -329h23M-183 -329h46M-114 -329h11M-91 -329h11M-69 -329h11M-46 -329h23M0 -329h11M23 -329h11M46 -329h11M194 -329h34M251 -329h46M343 -329h11M388 -329h11M423 -329h23M468 -329h23M503 -329h69M594 -329h23M628 -329h11M662 -329h11M685 -329h11M777 -329h23M811 -329h11M834 -329h11M868 -329h23M959 -329h11M1051 -329h11M1096 -329h11M1153 -329h11M1245 -329h11M1268 -329h23M1325 -329h23M1359 -329h23M1393 -329h11M1450 -329h11M1485 -329h11M1519 -329h23M1565 -329h11M1610 -329h34M-1548 -339h11M-1514 -339h11M-1343 -339h11M-1252 -339h11M-1195 -339h11M-1093 -339h11M-1070 -339h23M-1024 -339h34M-956 -339h11M-876 -339h34M-820 -339h11M-785 -339h11M-763 -339h23M-637 -339h11M-603 -339h11M-580 -339h11M-535 -339h11M-501 -339h11M-478 -339h11M-455 -339h102M-341 -339h11M-262 -339h11M-239 -339h11M-193 -339h11M-171 -339h46M-114 -339h11M-91 -339h11M-46 -339h11M-23 -339h11M0 -339h34M57 -339h11M148 -339h46M216 -339h34M273 -339h11M296 -339h23M330 -339h23M376 -339h34M455 -339h34M501 -339h23M546 -339h11M603 -339h34M649 -339h11M694 -339h11M751 -339h23M808 -339h23M865 -339h11M888 -339h23M1013 -339h11M1047 -339h11M1093 -339h23M1127 -339h11M1161 -339h11M1184 -339h11M1206 -339h11M1229 -339h11M1275 -339h23M1332 -339h11M1366 -339h23M1411 -339h11M1457 -339h11M1480 -339h11M1502 -339h11M1525 -339h11M1571 -339h11M1605 -339h34M-1577 -349h11M-1554 -349h11M-1531 -349h11M-1452 -349h11M-1350 -349h23M-1316 -349h11M-1282 -349h11M-1146 -349h23M-1112 -349h11M-1055 -349h11M-987 -349h23M-919 -349h11M-805 -349h11M-783 -349h34M-681 -349h23M-613 -349h11M-567 -349h11M-544 -349h11M-522 -349h11M-499 -349h11M-476 -349h11M-454 -349h23M-408 -349h45M-295 -349h11M-250 -349h23M-216 -349h11M-193 -349h11M-159 -349h11M-113 -349h57M-11 -349h23M113 -349h23M159 -349h23M216 -349h11M261 -349h23M295 -349h11M329 -349h11M352 -349h11M374 -349h11M465 -349h34M510 -349h11M533 -349h11M579 -349h11M601 -349h23M749 -349h23M783 -349h34M873 -349h11M953 -349h11M1010 -349h11M1180 -349h11M1236 -349h34M1282 -349h23M1316 -349h23M1350 -349h23M1395 -349h11M1475 -349h11M1509 -349h11M1554 -349h11M1599 -349h11M-1617 -359h23M-1504 -359h23M-1447 -359h11M-1402 -359h11M-1357 -359h34M-1311 -359h11M-1289 -359h11M-1244 -359h11M-1198 -359h11M-1176 -359h11M-1130 -359h23M-1029 -359h11M-1006 -359h11M-984 -359h23M-916 -359h11M-825 -359h57M-757 -359h68M-656 -359h68M-565 -359h11M-531 -359h45M-475 -359h23M-418 -359h11M-396 -359h45M-294 -359h11M-249 -359h23M-203 -359h23M-136 -359h11M-102 -359h34M0 -359h34M124 -359h11M147 -359h11M181 -359h23M215 -359h11M237 -359h11M317 -359h11M339 -359h11M430 -359h11M475 -359h34M520 -359h11M543 -359h23M577 -359h11M735 -359h23M769 -359h11M825 -359h11M848 -359h11M870 -359h34M927 -359h11M950 -359h11M1029 -359h11M1119 -359h11M1153 -359h11M1255 -359h11M1311 -359h11M1334 -359h11M1379 -359h11M1458 -359h23M1492 -359h23M1605 -359h11M-1622 -369h11M-1589 -369h56M-1498 -369h11M-1397 -369h34M-1341 -369h45M-1183 -369h23M-1138 -369h11M-1115 -369h11M-1048 -369h11M-1025 -369h11M-969 -369h11M-946 -369h23M-901 -369h11M-811 -369h23M-766 -369h11M-744 -369h56M-676 -369h90M-518 -369h11M-484 -369h56M-406 -369h11M-372 -369h23M-293 -369h11M-270 -369h79M-180 -369h11M-158 -369h11M-113 -369h56M-34 -369h11M23 -369h11M79 -369h11M101 -369h11M124 -369h11M146 -369h11M180 -369h11M203 -369h11M225 -369h11M259 -369h23M293 -369h11M327 -369h11M349 -369h23M383 -369h124M518 -369h45M653 -369h11M676 -369h11M744 -369h11M789 -369h11M822 -369h11M845 -369h11M867 -369h11M890 -369h23M924 -369h11M969 -369h11M1014 -369h11M1036 -369h11M1059 -369h45M1115 -369h23M1296 -369h11M1374 -369h23M1453 -369h11M1498 -369h11M1521 -369h11M1589 -369h11M-1617 -379h34M-1560 -379h22M-1459 -379h11M-1437 -379h11M-1414 -379h11M-1392 -379h11M-1347 -379h45M-1179 -379h11M-1145 -379h11M-1111 -379h11M-1089 -379h11M-1055 -379h67M-932 -379h11M-831 -379h34M-741 -379h56M-651 -379h34M-606 -379h11M-584 -379h11M-561 -379h56M-483 -379h34M-427 -379h22M-337 -379h11M-292 -379h34M-247 -379h34M-202 -379h22M-146 -379h11M-123 -379h34M-67 -379h11M-45 -379h11M0 -379h11M22 -379h11M90 -379h22M135 -379h11M157 -379h34M213 -379h22M258 -379h11M281 -379h22M314 -379h11M348 -379h11M404 -379h11M460 -379h34M505 -379h11M584 -379h11M606 -379h11M662 -379h34M718 -379h11M786 -379h11M819 -379h11M876 -379h34M921 -379h11M1022 -379h11M1055 -379h11M1089 -379h45M1212 -379h34M1291 -379h11M1381 -379h22M1414 -379h22M1459 -379h11M1493 -379h34M1572 -379h11M1594 -379h22M-1610 -389h11M-1543 -389h11M-1464 -389h22M-1431 -389h56M-1297 -389h11M-1274 -389h11M-1185 -389h11M-1151 -389h22M-1118 -389h22M-1062 -389h11M-1040 -389h11M-1017 -389h34M-973 -389h11M-950 -389h11M-850 -389h11M-816 -389h11M-738 -389h11M-704 -389h11M-637 -389h22M-604 -389h11M-559 -389h11M-514 -389h22M-470 -389h11M-436 -389h11M-414 -389h34M-168 -389h11M-112 -389h22M-78 -389h11M-56 -389h34M-11 -389h11M34 -389h11M56 -389h11M78 -389h34M168 -389h34M235 -389h34M302 -389h11M358 -389h56M447 -389h11M503 -389h11M525 -389h22M559 -389h22M615 -389h22M671 -389h11M738 -389h11M783 -389h45M850 -389h11M894 -389h11M928 -389h11M961 -389h11M995 -389h11M1017 -389h22M1073 -389h34M1129 -389h11M1375 -389h22M1409 -389h11M1442 -389h11M1498 -389h11M1520 -389h22M1554 -389h34M-1536 -399h11M-1469 -399h11M-1403 -399h11M-1369 -399h22M-1213 -399h11M-1135 -399h11M-1113 -399h11M-1058 -399h78M-957 -399h22M-913 -399h33M-857 -399h11M-835 -399h33M-768 -399h11M-724 -399h67M-646 -399h22M-612 -399h11M-534 -399h11M-512 -399h11M-490 -399h11M-334 -399h33M-278 -399h22M-145 -399h11M-111 -399h11M-89 -399h33M0 -399h11M22 -399h11M45 -399h11M67 -399h33M122 -399h22M178 -399h22M267 -399h11M301 -399h22M334 -399h22M367 -399h11M423 -399h11M479 -399h22M512 -399h22M579 -399h22M612 -399h33M668 -399h11M701 -399h11M790 -399h22M857 -399h78M1002 -399h45M1080 -399h33M1124 -399h22M1158 -399h11M1236 -399h11M1302 -399h11M1325 -399h33M1380 -399h22M1414 -399h45M1481 -399h11M1503 -399h22M1558 -399h11M-1574 -410h11M-1552 -410h11M-1530 -410h11M-1507 -410h11M-1408 -410h11M-1386 -410h11M-1330 -410h11M-1286 -410h11M-1219 -410h11M-1142 -410h44M-1053 -410h55M-987 -410h33M-942 -410h33M-898 -410h22M-842 -410h11M-809 -410h22M-765 -410h11M-743 -410h22M-709 -410h33M-654 -410h44M-599 -410h33M-543 -410h33M-488 -410h22M-288 -410h33M-100 -410h22M-22 -410h55M44 -410h33M122 -410h11M177 -410h33M222 -410h22M255 -410h11M288 -410h11M310 -410h11M333 -410h22M388 -410h11M432 -410h22M466 -410h44M521 -410h33M565 -410h11M587 -410h67M665 -410h11M720 -410h33M798 -410h22M831 -410h11M865 -410h11M909 -410h22M942 -410h11M1009 -410h11M1031 -410h11M1120 -410h33M1186 -410h22M1297 -410h11M1363 -410h11M1386 -410h33M1463 -410h11M1496 -410h44M-1556 -420h44M-1402 -420h44M-1347 -420h33M-1302 -420h11M-1247 -420h22M-1203 -420h11M-1126 -420h11M-1104 -420h11M-1049 -420h11M-1026 -420h22M-993 -420h33M-938 -420h44M-883 -420h11M-850 -420h22M-817 -420h11M-795 -420h11M-706 -420h11M-673 -420h110M-552 -420h55M-486 -420h22M-320 -420h22M-287 -420h22M-254 -420h22M-132 -420h66M-55 -420h11M-33 -420h44M66 -420h11M88 -420h33M132 -420h11M155 -420h11M199 -420h66M276 -420h33M331 -420h11M353 -420h22M397 -420h11M419 -420h11M486 -420h11M508 -420h22M574 -420h11M607 -420h11M651 -420h11M706 -420h11M784 -420h11M828 -420h22M883 -420h11M960 -420h11M993 -420h22M1026 -420h22M1082 -420h11M1104 -420h33M1170 -420h11M1192 -420h11M1247 -420h22M1347 -420h11M1391 -420h33M1435 -420h22M1468 -420h22M1501 -420h11M-1561 -430h33M-1506 -430h22M-1396 -430h66M-1286 -430h22M-1242 -430h11M-1176 -430h11M-1143 -430h55M-1055 -430h22M-1011 -430h11M-945 -430h22M-890 -430h22M-824 -430h11M-769 -430h11M-703 -430h33M-659 -430h44M-604 -430h11M-550 -430h11M-528 -430h11M-506 -430h11M-352 -430h22M-319 -430h33M-275 -430h11M-253 -430h22M-220 -430h11M-165 -430h11M-143 -430h11M-121 -430h11M-99 -430h77M0 -430h11M22 -430h22M77 -430h11M99 -430h22M187 -430h55M264 -430h55M330 -430h11M363 -430h33M418 -430h22M484 -430h11M528 -430h11M550 -430h22M582 -430h11M604 -430h22M637 -430h11M714 -430h11M780 -430h11M802 -430h11M846 -430h11M901 -430h11M923 -430h11M1011 -430h11M1033 -430h22M1099 -430h11M1121 -430h11M1165 -430h11M1264 -430h11M1286 -430h11M1319 -430h22M1352 -430h11M1385 -430h11M1407 -430h11M1451 -430h11M1473 -430h44M-1575 -440h11M-1542 -440h11M-1520 -440h11M-1378 -440h44M-1312 -440h11M-1258 -440h22M-1225 -440h11M-1170 -440h44M-1104 -440h22M-1050 -440h11M-1028 -440h22M-973 -440h11M-875 -440h11M-853 -440h22M-820 -440h11M-798 -440h44M-744 -440h11M-711 -440h33M-667 -440h55M-601 -440h11M-558 -440h44M-470 -440h11M-448 -440h11M-416 -440h22M-273 -440h44M-186 -440h11M-98 -440h44M11 -440h11M98 -440h11M131 -440h11M153 -440h33M241 -440h22M284 -440h44M350 -440h11M372 -440h11M405 -440h11M426 -440h66M503 -440h11M547 -440h33M590 -440h44M656 -440h11M689 -440h11M744 -440h11M787 -440h11M809 -440h11M831 -440h11M853 -440h11M875 -440h22M908 -440h11M929 -440h11M1006 -440h11M1028 -440h33M1115 -440h11M1159 -440h11M1192 -440h11M1214 -440h33M1258 -440h33M1301 -440h22M1334 -440h11M1356 -440h33M1553 -440h11M-1545 -450h33M-1371 -450h22M-1338 -450h33M-1273 -450h11M-1251 -450h22M-1218 -450h11M-1186 -450h22M-1153 -450h11M-1099 -450h33M-1033 -450h11M-1001 -450h22M-957 -450h22M-892 -450h11M-838 -450h22M-805 -450h33M-761 -450h11M-740 -450h11M-696 -450h11M-653 -450h11M-598 -450h22M-555 -450h11M-533 -450h22M-479 -450h33M-413 -450h11M-315 -450h11M-294 -450h11M-272 -450h11M-174 -450h11M-141 -450h44M-87 -450h11M-54 -450h22M44 -450h44M98 -450h11M131 -450h11M174 -450h11M196 -450h11M228 -450h65M315 -450h22M348 -450h11M381 -450h44M435 -450h11M457 -450h33M511 -450h11M533 -450h22M577 -450h11M598 -450h11M707 -450h11M729 -450h11M751 -450h11M783 -450h22M838 -450h11M870 -450h44M925 -450h33M968 -450h11M1001 -450h22M1044 -450h22M1131 -450h11M1153 -450h11M1175 -450h22M1218 -450h11M1338 -450h22M1371 -450h22M1425 -450h22M1458 -450h11M1556 -450h11M-1537 -460h11M-1515 -460h32M-1461 -460h32M-1407 -460h22M-1364 -460h11M-1331 -460h11M-1277 -460h22M-1223 -460h32M-1180 -460h11M-1147 -460h11M-1115 -460h32M-1039 -460h65M-898 -460h32M-855 -460h22M-812 -460h11M-779 -460h11M-736 -460h11M-714 -460h11M-693 -460h11M-638 -460h11M-595 -460h11M-552 -460h11M-519 -460h22M-455 -460h11M-411 -460h11M-379 -460h11M-357 -460h11M-303 -460h11M-249 -460h32M-173 -460h11M-152 -460h11M-97 -460h32M-22 -460h11M32 -460h22M76 -460h11M119 -460h22M152 -460h22M184 -460h22M249 -460h32M303 -460h11M335 -460h22M368 -460h11M411 -460h11M433 -460h32M476 -460h76M638 -460h22M703 -460h11M736 -460h65M812 -460h11M833 -460h11M866 -460h22M963 -460h11M985 -460h22M1061 -460h11M1082 -460h11M1125 -460h11M1190 -460h11M1212 -460h22M1277 -460h11M1299 -460h22M1353 -460h11M1396 -460h11M1418 -460h11M1439 -460h11M1461 -460h11M1483 -460h11M1504 -460h11M1526 -460h22M-1539 -470h32M-1496 -470h54M-1410 -470h11M-1356 -470h22M-1324 -470h22M-1130 -470h22M-1098 -470h22M-1066 -470h11M-1044 -470h32M-1001 -470h11M-980 -470h22M-872 -470h22M-840 -470h54M-700 -470h22M-667 -470h11M-646 -470h32M-603 -470h11M-581 -470h11M-560 -470h11M-538 -470h11M-463 -470h11M-366 -470h32M-269 -470h22M-205 -470h11M-161 -470h11M-108 -470h43M-32 -470h11M0 -470h11M32 -470h11M54 -470h11M75 -470h11M97 -470h11M151 -470h32M194 -470h11M248 -470h22M301 -470h54M398 -470h11M420 -470h11M452 -470h22M495 -470h22M527 -470h22M571 -470h11M592 -470h11M614 -470h11M635 -470h11M657 -470h43M710 -470h22M743 -470h11M764 -470h11M786 -470h22M818 -470h22M850 -470h11M872 -470h11M893 -470h11M926 -470h11M969 -470h22M1001 -470h22M1033 -470h11M1098 -470h11M1184 -470h11M1259 -470h11M1292 -470h32M1335 -470h11M1421 -470h32M1475 -470h32M-1521 -480h11M-1488 -480h11M-1467 -480h21M-1403 -480h11M-1339 -480h11M-1317 -480h21M-1253 -480h32M-1199 -480h11M-1178 -480h32M-1135 -480h11M-1049 -480h11M-996 -480h11M-932 -480h43M-867 -480h21M-835 -480h11M-782 -480h11M-739 -480h11M-707 -480h11M-685 -480h11M-621 -480h21M-589 -480h21M-546 -480h21M-428 -480h21M-375 -480h11M-321 -480h32M-278 -480h21M-246 -480h11M-203 -480h21M-96 -480h21M-21 -480h11M43 -480h11M75 -480h11M107 -480h11M171 -480h11M193 -480h11M268 -480h11M300 -480h11M343 -480h11M385 -480h11M439 -480h11M514 -480h11M535 -480h21M589 -480h21M632 -480h11M653 -480h21M696 -480h11M717 -480h43M771 -480h11M846 -480h11M964 -480h21M1039 -480h11M1103 -480h11M1253 -480h11M1392 -480h11M1413 -480h11M1435 -480h11M1510 -480h32M-1523 -490h11M-1491 -490h32M-1448 -490h21M-1331 -490h11M-1288 -490h11M-1256 -490h11M-1182 -490h21M-1150 -490h43M-1065 -490h11M-990 -490h11M-958 -490h43M-884 -490h21M-852 -490h32M-788 -490h11M-713 -490h32M-639 -490h43M-575 -490h43M-447 -490h21M-415 -490h11M-373 -490h11M-319 -490h11M-298 -490h43M-234 -490h21M-202 -490h11M-181 -490h11M-96 -490h43M0 -490h11M21 -490h21M106 -490h21M181 -490h32M224 -490h11M245 -490h11M287 -490h32M341 -490h53M405 -490h21M437 -490h21M500 -490h21M596 -490h11M628 -490h21M660 -490h11M681 -490h64M756 -490h21M788 -490h11M809 -490h11M831 -490h11M873 -490h11M916 -490h32M969 -490h21M1001 -490h21M1044 -490h11M1235 -490h21M1267 -490h11M1395 -490h11M1416 -490h32M1459 -490h11M1480 -490h11M-1482 -499h42M-1365 -499h21M-1323 -499h11M-1175 -499h11M-1154 -499h11M-1133 -499h21M-1006 -499h11M-931 -499h11M-910 -499h11M-857 -499h21M-720 -499h11M-699 -499h11M-677 -499h21M-646 -499h11M-625 -499h53M-550 -499h148M-296 -499h116M-127 -499h11M-85 -499h42M53 -499h11M74 -499h11M95 -499h32M159 -499h21M191 -499h11M254 -499h11M286 -499h11M307 -499h32M349 -499h21M392 -499h11M413 -499h11M434 -499h11M466 -499h11M508 -499h11M625 -499h11M646 -499h11M667 -499h74M804 -499h21M847 -499h11M868 -499h21M910 -499h42M963 -499h42M1037 -499h11M1058 -499h11M1143 -499h11M1186 -499h11M1249 -499h11M1281 -499h53M1387 -499h53M1450 -499h11M1492 -499h32M-1494 -509h32M-1389 -509h11M-1326 -509h11M-1305 -509h11M-1252 -509h11M-1231 -509h21M-1189 -509h11M-1147 -509h11M-1126 -509h21M-1052 -509h32M-968 -509h11M-947 -509h11M-915 -509h11M-894 -509h11M-863 -509h11M-842 -509h11M-821 -509h11M-758 -509h11M-621 -509h53M-547 -509h32M-495 -509h42M-442 -509h11M-410 -509h32M-368 -509h11M-305 -509h42M-253 -509h21M-221 -509h11M-200 -509h21M-84 -509h11M-53 -509h11M-21 -509h11M11 -509h21M63 -509h21M126 -509h21M189 -509h11M231 -509h21M274 -509h84M389 -509h32M431 -509h21M463 -509h11M516 -509h11M537 -509h32M579 -509h21M621 -509h11M642 -509h11M663 -509h21M694 -509h11M726 -509h53M800 -509h21M842 -509h11M873 -509h32M915 -509h11M936 -509h11M1042 -509h11M1073 -509h11M1105 -509h11M1210 -509h11M1231 -509h21M1263 -509h21M1294 -509h11M1315 -509h11M1347 -509h11M1368 -509h32M1410 -509h11M1473 -509h42M-1485 -519h10M-1454 -519h10M-1391 -519h42M-1318 -519h31M-1276 -519h10M-1234 -519h31M-1171 -519h21M-1130 -519h10M-1056 -519h10M-1025 -519h10M-962 -519h21M-931 -519h10M-899 -519h21M-868 -519h10M-784 -519h10M-753 -519h31M-701 -519h10M-669 -519h10M-638 -519h31M-596 -519h52M-533 -519h10M-512 -519h21M-481 -519h10M-450 -519h10M-397 -519h10M-324 -519h52M-261 -519h31M-209 -519h31M-73 -519h10M-42 -519h10M-21 -519h10M10 -519h21M42 -519h31M94 -519h21M126 -519h10M146 -519h10M178 -519h10M209 -519h42M293 -519h10M314 -519h73M397 -519h42M450 -519h21M481 -519h21M512 -519h42M575 -519h31M617 -519h10M638 -519h21M680 -519h10M701 -519h21M763 -519h10M784 -519h10M805 -519h10M826 -519h10M858 -519h42M910 -519h10M941 -519h21M983 -519h21M1014 -519h10M1046 -519h10M1119 -519h10M1140 -519h21M1360 -519h42M1454 -519h10M-1487 -529h21M-1445 -529h31M-1403 -529h42M-1299 -529h10M-1279 -529h10M-1227 -529h10M-1164 -529h10M-1133 -529h10M-1081 -529h10M-1050 -529h10M-956 -529h10M-780 -529h10M-748 -529h10M-728 -529h10M-707 -529h10M-676 -529h21M-645 -529h10M-572 -529h21M-478 -529h10M-447 -529h21M-405 -529h21M-364 -529h10M-343 -529h21M-281 -529h21M-249 -529h10M-229 -529h10M-198 -529h10M-21 -529h10M0 -529h21M31 -529h31M83 -529h94M198 -529h21M229 -529h10M260 -529h10M291 -529h21M322 -529h21M353 -529h31M395 -529h10M447 -529h10M478 -529h31M520 -529h10M541 -529h10M572 -529h10M593 -529h31M634 -529h42M696 -529h31M738 -529h10M769 -529h42M852 -529h21M894 -529h10M925 -529h10M946 -529h31M998 -529h10M1040 -529h10M1154 -529h10M1185 -529h10M1206 -529h31M1372 -529h42M1435 -529h10M1487 -529h10"/><path stroke="#ffb40a" stroke-width="9" d="M255 -781h32M494 -781h8M637 -781h8M701 -781h8M916 -781h8M940 -781h8M956 -781h8M267 -789h8M636 -789h8M926 -789h8M309 -796h8M433 -796h8M510 -796h8M665 -796h8M696 -796h8"/><path stroke="#ffb40a" stroke-width="9.5" d="M916 -741h17M958 -741h8M218 -749h8M595 -749h8M215 -757h8M596 -757h8M695 -757h8M819 -757h8M952 -757h8M1159 -757h8M1175 -757h8M597 -765h8M719 -765h8M1136 -765h8M1161 -765h8M266 -773h8M283 -773h8M299 -773h8M517 -773h8M638 -773h16M945 -773h8M1049 -773h8"/><path stroke="#ffb40a" stroke-width="10" d="M367 -698h9M385 -698h9M292 -706h9M345 -706h18M1054 -706h9M1133 -706h9M315 -715h9M342 -715h9M1051 -715h18M321 -724h17M798 -724h9M498 -732h9M721 -732h9M892 -732h9M1192 -732h9M1210 -732h9"/><path stroke="#ffb40a" stroke-width="10.5" d="M227 -644h9M294 -644h9M341 -644h9M1042 -644h19M225 -653h9M291 -653h9M1042 -653h9M1164 -653h9M-949 -662h9M-856 -662h9M307 -662h9M1144 -662h9M1032 -671h9M1133 -671h18M402 -680h18M1049 -680h9"/><path stroke="#ffb40a" stroke-width="11" d="M-950 -539h10M-899 -539h10M155 -539h10M176 -539h10M258 -539h10M300 -539h10M1002 -539h10M1085 -539h10M1126 -539h10M-821 -549h10M185 -549h10M328 -549h10M1026 -549h10M1149 -549h10M-947 -558h10M-896 -558h10M255 -558h10M305 -558h10M407 -558h10M448 -558h10M560 -558h10M672 -558h10M713 -558h10M754 -558h31M804 -558h10M988 -558h20M1079 -558h20M1110 -558h10M1141 -558h20M-950 -568h10M253 -568h10M273 -568h20M313 -568h10M334 -568h20M445 -568h20M485 -568h10M556 -568h10M596 -568h30M657 -568h10M698 -568h10M738 -568h10M768 -568h10M971 -568h10M1092 -568h20M1163 -568h10M311 -578h10M351 -578h10M381 -578h10M422 -578h10M532 -578h10M592 -578h10M652 -578h10M743 -578h20M773 -578h10M833 -578h20M963 -578h10M1034 -578h10M1094 -578h10M1154 -578h10M-817 -587h10M239 -587h10M319 -587h20M369 -587h10M428 -587h20M498 -587h10M528 -587h20M618 -587h10M638 -587h30M737 -587h10M827 -587h10M1036 -587h30M-919 -597h10M-860 -597h20M237 -597h20M346 -597h10M395 -597h30M484 -597h10M534 -597h10M563 -597h10M652 -597h10M702 -597h10M751 -597h10M840 -597h10M988 -597h10M1038 -597h10M1067 -597h10M1137 -597h10M-921 -606h10M-872 -606h10M-804 -606h10M402 -606h10M578 -606h10M657 -606h10M706 -606h10M735 -606h10M794 -606h10M853 -606h10M951 -606h10M1068 -606h10M-875 -616h10M311 -616h10M360 -616h10M399 -616h10M515 -616h10M651 -616h10M748 -616h10M778 -616h10M943 -616h19M972 -616h29M-954 -625h10M-877 -625h10M318 -625h10M337 -625h10M424 -625h10M443 -625h10M723 -625h29M761 -625h10M810 -625h10M829 -625h10M1022 -625h10M1080 -625h19M-956 -634h10M975 -634h10M1013 -634h10M1032 -634h38"/><path stroke="#ffb40a" stroke-width="11.5" d="M-577 359h11M-594 329h11M-596 319h11M-609 308h11M-563 308h11M-505 308h11M-576 298h12M-518 298h12M-495 298h12M-600 288h12M-554 288h12M-496 288h12M-439 288h12M-486 278h12M-592 268h23M-441 268h12M-418 258h12M-535 248h12M-442 248h12M-630 238h12M-606 238h12M-490 238h12M-443 238h12M-396 238h12M-444 228h23M-409 228h12M-633 207h12M-527 207h23M-480 207h12M-505 197h12M-611 187h12M-529 187h12M-494 187h24M-612 177h12M-554 167h12M-71 -116h12M-24 -116h12M0 -116h12M24 -116h12M71 -116h12M107 -116h12M249 -116h12M-107 -126h12M-71 -126h24M-12 -126h12M118 -126h12M178 -126h12M201 -126h12M272 -126h12M-95 -137h24M-59 -137h12M106 -137h12M130 -137h12M177 -137h24M284 -137h12M308 -137h12M343 -137h12M-142 -147h12M-95 -147h12M272 -147h12M-59 -157h12M-12 -157h12M83 -157h12M189 -157h24M248 -157h12M-750 -288h12M-852 -298h12M-815 -308h11M-802 -319h11M-834 -329h23M-979 -339h11M-1017 -359h11M-995 -359h11M-1003 -369h23M-988 -379h22M-876 -379h11M-842 -379h11M-984 -389h11M-939 -389h11M-771 -389h11M-67 -389h11M123 -389h11M939 -389h11M-868 -399h11M-790 -399h11M-854 -410h11M-55 -410h11M820 -410h11M842 -410h22M1020 -410h11M817 -420h11M-1000 -430h11M-978 -430h11M-901 -430h11M-835 -430h11M-813 -430h11M66 -430h11M835 -430h11M-1006 -440h22M-929 -440h11M-864 -440h11M-831 -440h11M44 -440h11M186 -440h11M219 -440h11M919 -440h11M-772 -450h11M163 -450h11M207 -450h11M294 -450h22M849 -450h11M979 -450h22M1077 -450h22M1110 -450h11M-833 -460h11M-801 -460h11M173 -460h11M227 -460h11M822 -460h11M855 -460h11M974 -460h11M1006 -460h11M1147 -460h11M-43 -470h11M140 -470h11M215 -470h11M280 -470h11M840 -470h11M861 -470h11M1044 -470h11M1087 -470h11M-825 -480h11M-803 -480h11M-771 -480h11M-11 -480h11M64 -480h11M203 -480h11M953 -480h11M985 -480h11M1049 -480h11M1082 -480h11M1178 -480h11M1210 -480h11M-894 -490h11M-799 -490h11M75 -490h21M256 -490h11M948 -490h11M1097 -490h21M1161 -490h11M1182 -490h11M1214 -490h11M-921 -499h11M-889 -499h11M-826 -499h11M-773 -499h11M-21 -499h11M296 -499h11M953 -499h11M1090 -499h11M1154 -499h11M1196 -499h11M1217 -499h11M-852 -509h11M0 -509h11M221 -509h11M263 -509h11M905 -509h11M947 -509h11M1052 -509h21M1126 -509h11M1157 -509h11M1199 -509h11M-795 -519h10M-763 -519h10M-31 -519h10M136 -519h10M1077 -519h10M1161 -519h21M1203 -519h10M-936 -529h10M-915 -529h21M-873 -529h10M-852 -529h10M-821 -529h10M-800 -529h10M-52 -529h21M62 -529h10M873 -529h10M1071 -529h10M1123 -529h21M1164 -529h10"/><path stroke="#ff6e00" stroke-width="10.5" d="M1014 -644h9M-874 -662h9"/><path stroke="#ff6e00" stroke-width="11" d="M-878 -539h10M-826 -539h10M196 -539h10M1033 -539h21M-872 -549h10M265 -558h10M570 -558h10M723 -558h10M-859 -568h10M526 -568h10M839 -568h10M-873 -578h10M502 -578h10M552 -578h10M763 -578h10M984 -578h10M1104 -578h20M279 -587h10M608 -587h10M976 -587h20M1096 -587h30M-870 -597h10M514 -597h10M721 -597h20M949 -597h30M-902 -606h10M-823 -606h20M255 -606h10M725 -606h10M784 -606h10M1078 -606h10M-923 -616h10M-807 -616h10M447 -616h10M554 -616h10M826 -616h10M-906 -625h29M-810 -625h19M366 -625h10M434 -625h10M530 -625h10M655 -625h10M713 -625h10M790 -625h10M993 -625h10M-879 -634h19M1099 -634h10"/><path stroke="#ff6e00" stroke-width="11.5" d="M1269 379h22M1300 359h11M1323 359h11M-544 349h11M1343 339h11M-607 319h11M-573 319h11M1283 319h11M-449 298h12M-613 278h23M-451 278h12M-557 268h12M-604 258h12M-617 248h12M-560 238h12M-526 228h12M-527 217h12M-456 217h23M-504 207h12M-457 207h12M-552 197h12M-648 167h12M321 86h12M356 86h12M309 76h12M285 66h12M345 66h24M310 25h12M333 25h12M274 15h12M322 15h12M298 5h12M298 -5h12M369 -25h12M-107 -116h12M-83 -116h12M-36 -116h12M-12 -116h12M12 -116h12M142 -116h24M201 -116h24M308 -116h12M344 -116h12M-166 -126h12M-118 -126h12M-47 -126h24M0 -126h12M36 -126h12M213 -126h24M249 -126h12M308 -126h12M343 -126h36M-130 -137h12M-106 -137h12M-35 -137h12M-12 -137h35M71 -137h24M142 -137h35M201 -137h12M225 -137h12M248 -137h35M296 -137h12M367 -137h12M-165 -147h12M-130 -147h12M-83 -147h35M12 -147h35M71 -147h12M95 -147h12M165 -147h12M201 -147h12M284 -147h12M-165 -157h12M-130 -157h12M-94 -157h12M-47 -157h12M-24 -157h12M12 -157h12M71 -157h12M118 -157h12M142 -157h35M224 -157h12M295 -157h12M790 -167h12M706 -177h12M705 -187h12M752 -187h12M655 -217h12M666 -228h12M748 -228h12M826 -248h12M674 -258h12M789 -268h12M692 -288h12M783 -298h12M708 -329h11M-864 -379h22M-805 -389h11M-783 -389h11M-801 -399h11M-779 -399h11M-949 -420h11M-872 -420h11M-784 -420h11M-868 -430h11M-791 -430h11M-758 -430h11M-940 -440h11M-886 -440h11M142 -440h11M-859 -450h22M281 -460h11M-947 -470h11M-850 -470h11M-786 -470h11M-764 -470h11M377 -470h11M-846 -480h11M-792 -480h11M182 -480h11M225 -480h21M1071 -480h11M1075 -490h11M-905 -509h11M-789 -509h11M147 -509h11M-858 -519h10M-774 -519h10M187 -529h10M343 -529h10M1029 -529h10"/><path stroke="#ff0000" stroke-width="10.5" d="M-864 -653h9"/><path stroke="#ff0000" stroke-width="11" d="M-862 -549h10M356 -558h10M-956 -587h10M-857 -587h10M-827 -587h10M-807 -587h10M418 -587h10M392 -606h10M-867 -625h10M270 -625h10M357 -625h10"/><path stroke="#ff0000" stroke-width="11.5" d="M-427 288h12M-514 228h12M-421 217h12M-516 197h12M297 86h12M333 66h12M297 56h12M274 35h12M381 35h12M286 25h12M286 15h12M334 15h12M274 -5h12M333 -35h12M309 -46h12M759 -106h12M-166 -116h59M-95 -116h12M-47 -116h12M36 -116h24M190 -116h12M225 -116h12M320 -116h24M356 -116h24M-130 -126h12M-95 -126h24M-24 -126h12M24 -126h12M47 -126h24M107 -126h12M189 -126h12M260 -126h12M320 -126h24M-154 -137h24M-118 -137h12M-71 -137h12M-47 -137h12M-24 -137h12M24 -137h47M118 -137h12M213 -137h12M331 -137h12M769 -137h12M-154 -147h12M-106 -147h12M-35 -147h35M47 -147h24M142 -147h24M213 -147h12M307 -147h24M-83 -157h12M-35 -157h12M0 -157h12M24 -157h47M130 -157h12M177 -157h12M307 -157h24M744 -157h12M767 -157h12M684 -167h12M731 -167h12M765 -177h24M800 -177h24M740 -187h12M811 -187h12M681 -197h12M691 -207h12M715 -207h12M714 -217h12M854 -217h12M654 -228h12M689 -228h12M783 -228h12M770 -238h12M1096 -238h12M640 -248h12M675 -248h12M1024 -248h12M1106 -248h12M778 -258h12M825 -258h12M988 -258h12M1022 -258h23M638 -268h12M997 -268h12M660 -278h12M775 -278h12M960 -278h12M1041 -278h12M1039 -288h12M737 -298h12M1094 -298h12M1117 -298h12M919 -308h11M1011 -308h11M710 -319h11M767 -319h11M916 -319h11M1019 -319h11M742 -329h11M706 -339h11M907 -349h11M998 -349h11M995 -359h11M-943 -379h11M-909 -379h11M-773 -420h11M-956 -430h11M-951 -440h11M-919 -440h11M-952 -460h11M-931 -460h11M-878 -480h11M-767 -490h11M-879 -499h11M-804 -499h21M-826 -519h10M-811 -529h10"/><path stroke="#d72a2d" stroke-width="11.5" d="M119 -116h12M166 -116h12M284 -116h12M237 -126h12M296 -126h12M319 -137h12M-118 -147h12M0 -147h12M295 -147h12M-153 -157h12M-118 -157h24"/></g>
</g>
<use href="#lakep" fill="#fff"/>
<use href="#landp" fill="none" stroke="#000" stroke-width="0.8"/>
<use href="#lakep" fill="none" stroke="#000" stroke-width="0.8"/>
<use href="#lakeo" fill="none" stroke="#000" stroke-width="0.7"/>
<use href="#outl" fill="none" stroke="#6a6a6a" stroke-width="0.9"/>
</g>
<g transform="translate(525.0,497.3)">
<g clip-path="url(#landc)"><rect x="-180" y="-90" width="360" height="180" fill="#ffffff"/>
<g transform="scale(.1)" shape-rendering="crispEdges"><path stroke="#ff0000" stroke-width="5.5" d="M519 -852h13M-905 -856h7M-665 -856h7M-639 -856h7M133 -856h7M253 -856h7M-788 -860h7M-777 -864h6M-544 -864h6M-65 -864h6"/><path stroke="#ff0000" stroke-width="7" d="M-260 -848h7"/><path stroke="#ff0000" stroke-width="7.5" d="M-538 -824h7M-536 -836h14M-141 -836h7M409 -836h7M593 -836h7M649 -836h7M734 -836h7M762 -836h7M819 -836h7M-195 -842h7M875 -842h7"/><path stroke="#ff0000" stroke-width="8" d="M443 -818h7M709 -818h7"/><path stroke="#ff0000" stroke-width="9" d="M-1147 -781h8M-956 -781h8M-892 -781h16M-868 -781h16M-796 -781h8M-765 -781h8M-542 -781h8M-526 -781h8M-486 -781h8M-255 -781h8M741 -781h8M932 -781h8M-879 -789h24M-769 -789h8M-534 -789h8M-518 -789h8M-866 -796h15M-758 -796h8M-665 -796h8M-541 -796h31M-495 -796h8M363 -796h8M1067 -796h8M-853 -804h8M-792 -804h8M-777 -804h8M-731 -804h8M-579 -804h15M-833 -811h8M-795 -811h23M-705 -811h8M-690 -811h15M-615 -811h15M-585 -811h8M-570 -811h15M-405 -811h8M-390 -811h8M-375 -811h15M-75 -811h8M488 -811h8M720 -811h8"/><path stroke="#ff0000" stroke-width="9.5" d="M-1187 -741h8M-941 -741h25M-907 -741h17M-873 -741h8M-661 -741h8M-594 -741h8M195 -741h8M746 -741h8M-888 -749h8M-821 -749h25M-586 -749h8M-469 -749h17M-419 -749h8M-235 -749h8M-794 -757h8M-761 -757h8M-637 -757h8M-546 -757h8M-521 -757h8M-463 -757h8M-785 -765h16M-670 -765h16M-548 -765h8M-523 -765h8M-499 -765h8M-482 -765h16M-458 -765h8M670 -765h8M-807 -773h8M-767 -773h8M-654 -773h8M-638 -773h16M-533 -773h8M-509 -773h8M-492 -773h8M-476 -773h8M969 -773h8"/><path stroke="#ff0000" stroke-width="10" d="M-1163 -698h9M-841 -698h18M-671 -698h18M-537 -698h36M-492 -698h9M125 -698h27M206 -698h9M751 -698h9M1252 -698h9M-956 -706h9M-921 -706h9M-806 -706h9M-514 -706h9M-487 -706h9M204 -706h9M576 -706h9M-1043 -715h18M-929 -715h9M-815 -715h18M-780 -715h9M-605 -715h26M-508 -715h9M-482 -715h18M175 -715h18M412 -715h18M534 -715h18M561 -715h9M648 -715h9M736 -715h9M-936 -724h17M-910 -724h9M-763 -724h9M-607 -724h9M-503 -724h17M165 -724h17M199 -724h9M-1029 -732h9M-935 -732h9M-892 -732h17M-806 -732h17M-738 -732h9M-635 -732h9M-566 -732h9M-506 -732h17M-472 -732h9M180 -732h26"/><path stroke="#ff0000" stroke-width="10.5" d="M-1108 -644h9M-1080 -644h47M-341 -644h9M104 -644h9M142 -644h28M199 -644h9M322 -644h19M606 -644h9M-1277 -653h9M94 -653h9M160 -653h9M188 -653h28M319 -653h9M-986 -662h9M-679 -662h9M-465 -662h9M158 -662h28M195 -662h19M-719 -671h9M-654 -671h9M-590 -671h9M37 -671h9M83 -671h18M120 -671h46M-748 -680h18M-712 -680h9M-593 -680h9M-301 -680h18M82 -680h18M137 -680h27M201 -680h9M548 -680h18M-705 -689h9M-687 -689h9M-578 -689h9M-533 -689h9M-515 -689h9M-488 -689h9M-470 -689h9M90 -689h18M127 -689h36M199 -689h9M1048 -689h9"/><path stroke="#ff0000" stroke-width="11" d="M-879 634h10M-296 634h10M0 634h10M879 634h10M559 625h10M578 625h10M-146 616h10M428 616h10M564 616h10M-603 597h10M-573 597h20M-316 597h10M-296 597h10M593 597h10M-598 587h20M-568 587h10M-518 587h10M588 587h20M-773 578h10M-612 578h10M-582 578h20M-542 578h30M-120 578h20M682 578h10M-596 568h20M-566 568h10M-536 568h10M-1436 558h20M-580 558h10M-560 558h10M-540 558h10M-489 558h20M-595 549h21M-564 549h21M-482 549h10M-1446 539h10M-620 539h10M-599 539h31M-548 539h10M-207 539h21M496 539h10M-1074 -539h10M-1033 -539h10M-909 -539h10M-857 -539h10M-713 -539h10M-620 -539h10M-578 -539h10M-558 -539h41M-506 -539h10M-486 -539h31M-341 -539h10M-72 -539h31M10 -539h10M31 -539h10M62 -539h10M238 -539h10M403 -539h21M578 -539h10M640 -539h10M671 -539h21M702 -539h31M785 -539h10M868 -539h10M-1077 -549h10M-1005 -549h10M-615 -549h10M-574 -549h10M-554 -549h10M-533 -549h10M-513 -549h10M-492 -549h41M-72 -549h10M-51 -549h10M-31 -549h10M62 -549h10M205 -549h21M246 -549h21M410 -549h10M492 -549h21M523 -549h21M656 -549h10M697 -549h10M800 -549h10M841 -549h21M-1069 -558h10M-1018 -558h20M-855 -558h10M-642 -558h10M-621 -558h10M-51 -558h10M20 -558h10M204 -558h10M407 -558h10M479 -558h10M519 -558h10M621 -558h20M672 -558h10M804 -558h10M835 -558h10M855 -558h10M-1082 -568h30M-1041 -568h10M-849 -568h10M-728 -568h10M-647 -568h10M-61 -568h10M192 -568h20M324 -568h10M495 -568h10M516 -568h10M607 -568h30M667 -568h40M748 -568h10M829 -568h30M900 -568h10M-1084 -578h30M-1044 -578h10M-60 -578h10M-40 -578h10M20 -578h10M100 -578h10M120 -578h10M181 -578h40M321 -578h10M401 -578h10M442 -578h10M462 -578h20M582 -578h40M662 -578h10M763 -578h10M813 -578h20M-1086 -587h10M-1066 -587h20M-1036 -587h10M-737 -587h10M-80 -587h10M-50 -587h10M-30 -587h10M20 -587h10M80 -587h10M110 -587h10M189 -587h30M319 -587h10M379 -587h20M408 -587h40M478 -587h10M518 -587h40M578 -587h10M658 -587h10M707 -587h20M757 -587h10M797 -587h30M877 -587h10M917 -587h10M-1087 -597h10M-1067 -597h20M-1038 -597h10M-998 -597h10M-89 -597h20M-49 -597h10M10 -597h10M128 -597h10M306 -597h10M385 -597h30M484 -597h20M514 -597h40M573 -597h10M642 -597h10M692 -597h10M712 -597h20M751 -597h20M781 -597h10M870 -597h20M929 -597h10M949 -597h10M1087 -597h10M-1088 -606h20M-765 -606h10M-88 -606h20M-39 -606h10M0 -606h20M98 -606h10M118 -606h20M274 -606h20M382 -606h10M500 -606h59M696 -606h10M735 -606h39M814 -606h10M1098 -606h20M-1089 -616h19M-87 -616h29M-10 -616h10M97 -616h10M272 -616h10M321 -616h19M379 -616h19M505 -616h10M525 -616h39M729 -616h29M778 -616h10M797 -616h10M875 -616h10M933 -616h10M-1214 -625h10M-1099 -625h29M-1041 -625h29M-733 -625h10M-501 -625h10M-87 -625h48M10 -625h10M77 -625h10M96 -625h19M308 -625h10M386 -625h10M492 -625h19M530 -625h29M569 -625h10M684 -625h19M723 -625h19M771 -625h19M810 -625h19M964 -625h10M-1109 -634h76M-879 -634h10M67 -634h10M86 -634h19M115 -634h10M153 -634h19M306 -634h10M373 -634h29M497 -634h10M526 -634h10M602 -634h19M679 -634h19M726 -634h10M860 -634h10M927 -634h10M956 -634h10M975 -634h10M1290 -634h19"/><path stroke="#ff0000" stroke-width="11.5" d="M-624 529h52M821 529h10M1455 529h10M-1004 519h10M-628 519h52M-565 519h10M-167 519h10M-31 519h21M826 519h31M1464 519h10M-631 509h21M-600 509h32M-463 509h11M-21 509h11M842 509h11M-635 499h11M-614 499h21M-572 499h11M-254 499h11M-148 499h11M-106 499h11M1228 499h21M-628 490h11M-607 490h11M-586 490h21M-621 480h64M696 480h11M1135 480h11M-635 470h65M689 470h11M-638 460h54M411 460h11M-653 450h76M-645 440h66M-372 440h11M-306 440h11M-648 430h33M-651 420h33M309 420h11M331 420h11M353 420h11M1391 420h11M-709 410h11M-466 410h11M333 410h22M-1080 399h11M-378 399h11M312 399h11M1147 399h11M1403 399h11M1458 399h11M-492 389h22M-1347 379h11M-606 379h11M-157 379h11M-79 379h11M337 379h11M-406 369h11M-1300 359h11M-407 359h11M-124 359h23M701 359h11M-227 349h11M-113 349h11M-23 349h11M1180 349h11M-1639 339h11M-91 339h11M137 329h11M-1054 319h11M-286 319h23M1512 319h11M-276 308h11M138 308h11M1194 308h11M-1658 298h12M185 288h12M-1527 278h12M-741 278h12M-347 278h12M-127 278h12M312 278h12M810 278h12M1550 278h12M812 268h12M139 258h12M953 258h12M1255 258h12M-442 248h12M943 248h12M-455 238h12M606 238h12M921 238h12M1306 238h12M607 228h12M1580 217h12M0 197h12M141 197h12M188 197h12M-1081 187h12M0 187h12M141 187h12M1175 187h12M-1354 177h12M-1095 177h24M471 177h12M518 177h12M1165 177h24M-236 167h12M-248 157h12M-803 147h12M1229 147h12M-237 137h12M1088 137h12M-793 126h12M-237 126h12M225 126h12M-794 116h24M95 116h12M1197 116h12M937 106h12M973 106h12M1151 106h12M1222 106h36M1317 106h12M-285 96h12M973 96h24M1306 96h24M903 86h12M974 86h12M1140 86h12M1235 86h24M1318 86h12M-1711 76h12M-856 76h12M-166 76h12M321 76h24M951 76h12M1153 76h12M1236 76h36M1307 76h24M1604 76h12M-1712 66h12M904 66h12M987 66h36M1165 66h12M1475 66h12M-1713 56h12M-619 56h12M-309 56h12M916 56h12M940 56h24M999 56h12M1214 56h12M-143 46h12M916 46h12M940 46h12M964 46h12M1000 46h12M-286 35h12M-119 35h12M905 35h12M941 35h36M1143 35h12M1286 35h12M1322 35h12M-1286 25h12M905 25h12M941 25h24M977 25h36M1036 25h12M-1418 15h12M-917 15h12M-310 15h12M286 15h24M953 15h12M977 15h12M1013 15h36M1167 15h12M1322 15h12M-906 5h12M870 5h12M1025 5h36M1156 5h24M1192 5h12M1215 5h12M1299 5h12M-36 -5h12M786 -5h12M906 -5h12M1037 -5h12M1120 -5h24M1168 -5h36M1287 -5h12M1311 -5h12M-905 -15h12M-691 -15h12M846 -15h24M905 -15h24M1144 -15h12M1167 -15h48M1310 -15h12M-1000 -25h24M-953 -25h12M-905 -25h12M-715 -25h12M-202 -25h12M-71 -25h12M905 -25h12M929 -25h24M1131 -25h36M1179 -25h36M1572 -25h12M-1524 -35h12M-1286 -35h12M-1000 -35h12M917 -35h12M1143 -35h12M1322 -35h12M-1285 -46h12M-1083 -46h24M-1012 -46h12M1107 -46h24M1238 -46h24M1321 -46h12M-1571 -56h12M-1011 -56h12M904 -56h12M988 -56h12M1011 -56h12M1083 -56h12M1107 -56h24M1142 -56h12M1249 -56h12M1321 -56h12M-737 -66h12M1011 -66h12M1130 -66h48M1189 -66h12M1261 -66h12M-1557 -76h12M-190 -76h12M998 -76h48M1058 -76h12M1105 -76h24M1153 -76h24M1188 -76h12M1260 -76h12M-404 -86h12M48 -86h12M1021 -86h48M1140 -86h24M1176 -86h12M1200 -86h12M1223 -86h12M1259 -86h24M1307 -86h12M1402 -86h12M-819 -96h12M-783 -96h12M522 -96h12M736 -96h12M1033 -96h36M1187 -96h12M1211 -96h12M1258 -96h12M1306 -96h12M-1151 -106h12M-866 -106h12M-842 -106h12M-119 -106h12M-95 -106h119M59 -106h24M142 -106h59M249 -106h71M344 -106h24M1115 -106h36M1269 -106h12M1329 -106h24M-853 -116h12M-794 -116h24M-664 -116h12M-83 -116h24M-36 -116h83M59 -116h12M83 -116h12M130 -116h12M154 -116h12M178 -116h24M249 -116h12M273 -116h107M735 -116h12M936 -116h12M972 -116h24M1161 -116h12M1256 -116h24M1292 -116h24M-876 -126h12M-793 -126h24M-403 -126h12M-154 -126h12M-95 -126h12M-71 -126h12M-36 -126h95M118 -126h59M189 -126h24M225 -126h36M272 -126h107M391 -126h12M722 -126h12M912 -126h12M1006 -126h24M1160 -126h12M1243 -126h24M1302 -126h24M1515 -126h12M1598 -126h36M-875 -137h35M-816 -137h12M-154 -137h12M-130 -137h12M-95 -137h12M-71 -137h12M-35 -137h35M12 -137h24M47 -137h12M83 -137h12M106 -137h35M154 -137h71M248 -137h12M272 -137h106M733 -137h35M946 -137h35M994 -137h35M1289 -137h12M1313 -137h12M1585 -137h12M-851 -147h12M-827 -147h47M-142 -147h24M-95 -147h95M12 -147h24M83 -147h24M142 -147h35M189 -147h35M260 -147h12M284 -147h106M733 -147h47M957 -147h24M993 -147h12M1016 -147h12M1276 -147h12M-814 -157h12M-779 -157h12M-153 -157h35M-59 -157h106M71 -157h35M130 -157h71M248 -157h24M283 -157h12M307 -157h94M696 -157h12M720 -157h47M944 -157h12M968 -157h12M1180 -157h12M1310 -157h12M-955 -167h47M-872 -167h12M-153 -167h24M-59 -167h153M141 -167h24M259 -167h130M696 -167h71M849 -167h12M931 -167h35M1238 -167h12M1309 -167h12M1415 -167h12M-1001 -177h24M-965 -177h59M647 -177h24M706 -177h12M730 -177h24M765 -177h24M930 -177h12M953 -177h12M1130 -177h24M-1622 -187h12M-952 -187h47M141 -187h12M564 -187h12M658 -187h35M717 -187h35M776 -187h24M846 -187h12M940 -187h12M964 -187h12M1128 -187h12M1269 -187h12M1293 -187h12M-951 -197h23M-915 -197h12M-599 -197h12M258 -197h12M657 -197h47M728 -197h59M915 -197h12M939 -197h35M1268 -197h35M-926 -207h12M-797 -207h12M-609 -207h12M141 -207h12M258 -207h12M316 -207h12M668 -207h47M738 -207h47M938 -207h23M973 -207h12M1102 -207h12M1266 -207h12M1289 -207h23M-1006 -217h12M-959 -217h35M140 -217h23M246 -217h12M667 -217h12M737 -217h47M819 -217h12M901 -217h23M948 -217h23M-1005 -228h82M-806 -228h23M-537 -228h12M292 -228h12M502 -228h12M677 -228h23M783 -228h12M911 -228h12M1016 -228h12M1040 -228h70M-1003 -238h12M-979 -238h12M-921 -238h12M385 -238h12M408 -238h23M501 -238h12M665 -238h47M723 -238h12M770 -238h47M828 -238h35M979 -238h117M233 -248h12M372 -248h23M407 -248h12M431 -248h12M489 -248h12M524 -248h23M687 -248h47M757 -248h47M815 -248h12M838 -248h12M954 -248h58M1048 -248h12M1071 -248h35M1327 -248h12M1350 -248h12M-1673 -258h12M395 -258h35M674 -258h46M744 -258h12M767 -258h35M848 -258h12M976 -258h12M999 -258h105M418 -268h23M673 -268h46M742 -268h70M835 -268h23M951 -268h12M1021 -268h46M1079 -268h35M1125 -268h12M0 -278h12M683 -278h174M949 -278h12M1018 -278h46M1076 -278h35M1122 -278h12M-877 -288h12M-692 -288h12M-462 -288h12M-150 -288h12M-127 -288h12M0 -288h35M542 -288h12M681 -288h104M808 -288h12M831 -288h23M946 -288h12M1027 -288h58M-921 -298h12M-737 -298h12M-414 -298h12M-127 -298h12M702 -298h81M806 -298h23M944 -298h12M1002 -298h58M1071 -298h12M1094 -298h12M-413 -308h11M-126 -308h11M459 -308h11M700 -308h23M746 -308h80M884 -308h11M988 -308h57M1079 -308h23M1114 -308h11M1332 -308h11M-905 -319h11M-412 -319h11M-92 -319h11M699 -319h23M745 -319h115M916 -319h11M985 -319h126M-902 -329h11M-91 -329h11M91 -329h11M114 -329h11M594 -329h11M697 -329h23M754 -329h23M799 -329h46M936 -329h11M971 -329h114M1096 -329h23M-911 -339h11M-307 -339h11M364 -339h11M455 -339h11M706 -339h23M751 -339h23M785 -339h34M899 -339h23M933 -339h11M967 -339h11M990 -339h68M1081 -339h23M1195 -339h11M-1134 -349h11M-386 -349h11M-113 -349h11M715 -349h11M771 -349h45M873 -349h45M976 -349h91M1078 -349h11M1168 -349h23M1214 -349h11M1497 -349h11M-1130 -359h11M-1097 -359h23M-305 -359h11M746 -359h23M780 -359h23M870 -359h11M893 -359h23M950 -359h11M972 -359h11M995 -359h113M1176 -359h23M1210 -359h34M-1127 -369h11M-1093 -369h11M-1070 -369h11M-879 -369h11M-856 -369h11M-789 -369h11M-304 -369h11M-90 -369h11M45 -369h11M270 -369h11M383 -369h11M744 -369h11M811 -369h11M901 -369h11M935 -369h56M1014 -369h23M1048 -369h11M1070 -369h34M1172 -369h23M-1257 -379h11M-1089 -379h22M-876 -379h22M752 -379h22M786 -379h11M808 -379h11M943 -379h34M999 -379h11M1022 -379h11M1055 -379h45M1179 -379h11M1201 -379h22M1280 -379h11M-1017 -389h11M-850 -389h11M660 -389h11M939 -389h34M1040 -389h22M1174 -389h11M1207 -389h11M-857 -399h11M946 -399h45M1002 -399h22M1035 -399h11M1069 -399h11M1180 -399h11M1202 -399h11M-1530 -410h11M-1086 -410h11M-754 -410h11M510 -410h11M820 -410h11M842 -410h22M1175 -410h44M817 -420h11M1181 -420h11M-1121 -430h11M-1099 -430h11M-1055 -430h11M-989 -430h11M-879 -430h22M-846 -430h11M-747 -430h11M-659 -430h11M835 -430h11M1176 -430h11M1209 -430h33M-1072 -440h11M-1050 -440h11M-875 -440h11M-744 -440h11M-645 -440h11M44 -440h11M164 -440h22M208 -440h11M919 -440h11M1170 -440h11M1268 -440h11M-1371 -450h11M-1110 -450h11M-1044 -450h11M-936 -450h11M-870 -450h11M-740 -450h11M-294 -450h11M44 -450h11M979 -450h44M1175 -450h11M-1082 -460h11M-1039 -460h11M-844 -460h11M22 -460h11M43 -460h11M97 -460h11M184 -460h11M855 -460h11M974 -460h11M-1076 -470h32M-915 -470h11M-786 -470h11M-764 -470h11M-431 -470h11M-32 -470h11M43 -470h22M86 -470h22M172 -470h11M258 -470h11M861 -470h11M1206 -470h43M-1071 -480h32M-782 -480h11M-642 -480h21M-610 -480h11M-525 -480h11M-503 -480h11M-32 -480h21M118 -480h11M193 -480h11M1221 -480h11M-1075 -490h11M-1044 -490h11M-543 -490h43M106 -490h11M192 -490h11M256 -490h43M415 -490h21M948 -490h11M1235 -490h11M1363 -490h11M1437 -490h11M-1069 -499h21M-635 -499h32M-593 -499h11M-540 -499h32M-497 -499h11M138 -499h11M180 -499h21M254 -499h11M286 -499h11M423 -499h11M-1063 -509h32M-631 -509h11M-610 -509h11M-558 -509h32M-516 -509h53M-84 -509h11M0 -509h11M32 -509h32M189 -509h11M263 -509h11M368 -509h11M431 -509h11M526 -509h11M547 -509h11M600 -509h21M631 -509h21M673 -509h11M694 -509h32M737 -509h11M758 -509h11M800 -509h11M947 -509h11M1494 -509h11M-1056 -519h21M-617 -519h21M-565 -519h31M-523 -519h31M-481 -519h10M-209 -519h21M-84 -519h10M-42 -519h10M126 -519h10M241 -519h31M324 -519h10M512 -519h21M648 -519h21M690 -519h42M795 -519h10M1046 -519h21M1297 -519h10M-1455 -529h10M-1071 -529h42M-925 -529h10M-894 -529h10M-852 -529h10M-707 -529h10M-624 -529h10M-603 -529h10M-572 -529h21M-541 -529h10M-520 -529h21M-478 -529h21M-343 -529h10M-322 -529h10M-83 -529h21M-31 -529h10M73 -529h10M146 -529h10M249 -529h21M665 -529h10M707 -529h31M780 -529h21M863 -529h10M1164 -529h10M1279 -529h21"/></g>
</g>
<use href="#lakep" fill="#fff"/>
<use href="#landp" fill="none" stroke="#000" stroke-width="0.8"/>
<use href="#lakep" fill="none" stroke="#000" stroke-width="0.8"/>
<use href="#lakeo" fill="none" stroke="#000" stroke-width="0.7"/>
<use href="#outl" fill="none" stroke="#6a6a6a" stroke-width="0.9"/>
</g>
<rect x="38.20" y="327.4" width="30.40" height="15.2" fill="#4010f0"/>
<rect x="68.60" y="327.4" width="30.40" height="15.2" fill="#3c5ad8"/>
<rect x="99.00" y="327.4" width="30.40" height="15.2" fill="#1e96ff"/>
<rect x="129.40" y="327.4" width="30.40" height="15.2" fill="#55c3f5"/>
<rect x="159.80" y="327.4" width="30.40" height="15.2" fill="#c8e6f8"/>
<rect x="190.20" y="327.4" width="30.40" height="15.2" fill="#ffd22d"/>
<rect x="220.60" y="327.4" width="30.40" height="15.2" fill="#ff8c00"/>
<rect x="251.00" y="327.4" width="30.40" height="15.2" fill="#ff0000"/>
<rect x="281.40" y="327.4" width="30.40" height="15.2" fill="#d22a2d"/>
<line x1="68.60" y1="327.4" x2="68.60" y2="342.59999999999997" stroke="#000" stroke-width="0.8"/>
<line x1="99.00" y1="327.4" x2="99.00" y2="342.59999999999997" stroke="#000" stroke-width="0.8"/>
<line x1="129.40" y1="327.4" x2="129.40" y2="342.59999999999997" stroke="#000" stroke-width="0.8"/>
<line x1="159.80" y1="327.4" x2="159.80" y2="342.59999999999997" stroke="#000" stroke-width="0.8"/>
<line x1="190.20" y1="327.4" x2="190.20" y2="342.59999999999997" stroke="#000" stroke-width="0.8"/>
<line x1="220.60" y1="327.4" x2="220.60" y2="342.59999999999997" stroke="#000" stroke-width="0.8"/>
<line x1="251.00" y1="327.4" x2="251.00" y2="342.59999999999997" stroke="#000" stroke-width="0.8"/>
<line x1="281.40" y1="327.4" x2="281.40" y2="342.59999999999997" stroke="#000" stroke-width="0.8"/>
<rect x="38.2" y="327.4" width="273.6" height="15.2" fill="none" stroke="#000" stroke-width="0.8"/>
<text x="38.20" y="357.0" text-anchor="middle" font-size="12.5">-0</text>
<text x="68.60" y="357.0" text-anchor="middle" font-size="12.5">0</text>
<text x="99.00" y="357.0" text-anchor="middle" font-size="12.5">.4</text>
<text x="129.40" y="357.0" text-anchor="middle" font-size="12.5">.8</text>
<text x="159.80" y="357.0" text-anchor="middle" font-size="12.5">1.2</text>
<text x="190.20" y="357.0" text-anchor="middle" font-size="12.5">1.6</text>
<text x="220.60" y="357.0" text-anchor="middle" font-size="12.5">2</text>
<text x="251.00" y="357.0" text-anchor="middle" font-size="12.5">2.4</text>
<text x="281.40" y="357.0" text-anchor="middle" font-size="12.5">2.8</text>
<text x="311.80" y="357.0" text-anchor="middle" font-size="12.5">4.42</text>
<rect x="388.20" y="327.4" width="30.40" height="15.2" fill="#4010f0"/>
<rect x="418.60" y="327.4" width="30.40" height="15.2" fill="#3c5ad8"/>
<rect x="449.00" y="327.4" width="30.40" height="15.2" fill="#1e96ff"/>
<rect x="479.40" y="327.4" width="30.40" height="15.2" fill="#55c3f5"/>
<rect x="509.80" y="327.4" width="30.40" height="15.2" fill="#c8e6f8"/>
<rect x="540.20" y="327.4" width="30.40" height="15.2" fill="#ffd22d"/>
<rect x="570.60" y="327.4" width="30.40" height="15.2" fill="#ff8c00"/>
<rect x="601.00" y="327.4" width="30.40" height="15.2" fill="#ff0000"/>
<rect x="631.40" y="327.4" width="30.40" height="15.2" fill="#d22a2d"/>
<line x1="418.60" y1="327.4" x2="418.60" y2="342.59999999999997" stroke="#000" stroke-width="0.8"/>
<line x1="449.00" y1="327.4" x2="449.00" y2="342.59999999999997" stroke="#000" stroke-width="0.8"/>
<line x1="479.40" y1="327.4" x2="479.40" y2="342.59999999999997" stroke="#000" stroke-width="0.8"/>
<line x1="509.80" y1="327.4" x2="509.80" y2="342.59999999999997" stroke="#000" stroke-width="0.8"/>
<line x1="540.20" y1="327.4" x2="540.20" y2="342.59999999999997" stroke="#000" stroke-width="0.8"/>
<line x1="570.60" y1="327.4" x2="570.60" y2="342.59999999999997" stroke="#000" stroke-width="0.8"/>
<line x1="601.00" y1="327.4" x2="601.00" y2="342.59999999999997" stroke="#000" stroke-width="0.8"/>
<line x1="631.40" y1="327.4" x2="631.40" y2="342.59999999999997" stroke="#000" stroke-width="0.8"/>
<rect x="388.2" y="327.4" width="273.6" height="15.2" fill="none" stroke="#000" stroke-width="0.8"/>
<text x="388.20" y="357.0" text-anchor="middle" font-size="12.5">-0</text>
<text x="418.60" y="357.0" text-anchor="middle" font-size="12.5">0</text>
<text x="449.00" y="357.0" text-anchor="middle" font-size="12.5">.4</text>
<text x="479.40" y="357.0" text-anchor="middle" font-size="12.5">.8</text>
<text x="509.80" y="357.0" text-anchor="middle" font-size="12.5">1.2</text>
<text x="540.20" y="357.0" text-anchor="middle" font-size="12.5">1.6</text>
<text x="570.60" y="357.0" text-anchor="middle" font-size="12.5">2</text>
<text x="601.00" y="357.0" text-anchor="middle" font-size="12.5">2.4</text>
<text x="631.40" y="357.0" text-anchor="middle" font-size="12.5">2.8</text>
<text x="661.80" y="357.0" text-anchor="middle" font-size="12.5">4.42</text>
<rect x="37.60" y="604.4" width="27.60" height="15.0" fill="#4010f0"/>
<rect x="65.20" y="604.4" width="27.60" height="15.0" fill="#2d4be1"/>
<rect x="92.80" y="604.4" width="27.60" height="15.0" fill="#1e8cff"/>
<rect x="120.40" y="604.4" width="27.60" height="15.0" fill="#14c3ff"/>
<rect x="148.00" y="604.4" width="27.60" height="15.0" fill="#a0d7f5"/>
<rect x="175.60" y="604.4" width="27.60" height="15.0" fill="#fff582"/>
<rect x="203.20" y="604.4" width="27.60" height="15.0" fill="#ffb40a"/>
<rect x="230.80" y="604.4" width="27.60" height="15.0" fill="#ff6e00"/>
<rect x="258.40" y="604.4" width="27.60" height="15.0" fill="#ff0000"/>
<rect x="286.00" y="604.4" width="27.60" height="15.0" fill="#d72a2d"/>
<line x1="65.20" y1="604.4" x2="65.20" y2="619.4" stroke="#000" stroke-width="0.8"/>
<line x1="92.80" y1="604.4" x2="92.80" y2="619.4" stroke="#000" stroke-width="0.8"/>
<line x1="120.40" y1="604.4" x2="120.40" y2="619.4" stroke="#000" stroke-width="0.8"/>
<line x1="148.00" y1="604.4" x2="148.00" y2="619.4" stroke="#000" stroke-width="0.8"/>
<line x1="175.60" y1="604.4" x2="175.60" y2="619.4" stroke="#000" stroke-width="0.8"/>
<line x1="203.20" y1="604.4" x2="203.20" y2="619.4" stroke="#000" stroke-width="0.8"/>
<line x1="230.80" y1="604.4" x2="230.80" y2="619.4" stroke="#000" stroke-width="0.8"/>
<line x1="258.40" y1="604.4" x2="258.40" y2="619.4" stroke="#000" stroke-width="0.8"/>
<line x1="286.00" y1="604.4" x2="286.00" y2="619.4" stroke="#000" stroke-width="0.8"/>
<rect x="37.6" y="604.4" width="276.0" height="15.0" fill="none" stroke="#000" stroke-width="0.8"/>
<text x="37.60" y="633.8" text-anchor="middle" font-size="12.5">-.90911</text>
<text x="92.80" y="633.8" text-anchor="middle" font-size="12.5">-.06</text>
<text x="120.40" y="633.8" text-anchor="middle" font-size="12.5">-.04</text>
<text x="148.00" y="633.8" text-anchor="middle" font-size="12.5">-.02</text>
<text x="175.60" y="633.8" text-anchor="middle" font-size="12.5">.00</text>
<text x="203.20" y="633.8" text-anchor="middle" font-size="12.5">.02</text>
<text x="230.80" y="633.8" text-anchor="middle" font-size="12.5">.04</text>
<text x="258.40" y="633.8" text-anchor="middle" font-size="12.5">.06</text>
<text x="313.60" y="633.8" text-anchor="middle" font-size="12.5">.25696</text>
</svg></body></html>
